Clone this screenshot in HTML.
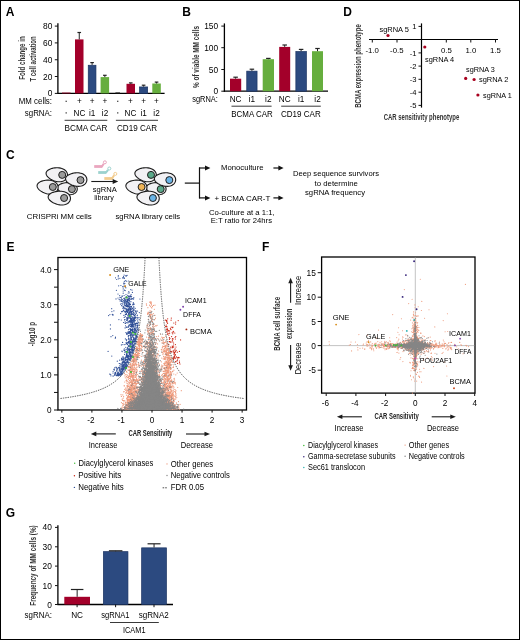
<!DOCTYPE html>
<html><head><meta charset="utf-8"><style>
html,body{margin:0;padding:0;background:#fff;}
svg{display:block;will-change:transform;}
text{font-family:"Liberation Sans", sans-serif;}
</style></head><body>
<svg width="520" height="640" viewBox="0 0 520 640">
<rect x="0" y="0" width="520" height="640" fill="#fff"/>
<text x="5.80" y="15.80" font-size="12" font-weight="bold" fill="#000">A</text>
<text x="182.20" y="15.60" font-size="12" font-weight="bold" fill="#000">B</text>
<text x="343.30" y="15.60" font-size="12" font-weight="bold" fill="#000">D</text>
<text x="6.00" y="158.50" font-size="12" font-weight="bold" fill="#000">C</text>
<text x="6.60" y="250.80" font-size="12" font-weight="bold" fill="#000">E</text>
<text x="262.10" y="251.10" font-size="12" font-weight="bold" fill="#000">F</text>
<text x="5.70" y="517.20" font-size="12" font-weight="bold" fill="#000">G</text>
<line x1="57.90" y1="23.30" x2="57.90" y2="94.00" stroke="#000" stroke-width="1.3"/>
<line x1="57.30" y1="93.40" x2="164.60" y2="93.40" stroke="#000" stroke-width="1.3"/>
<line x1="54.80" y1="26.10" x2="57.90" y2="26.10" stroke="#111" stroke-width="1"/>
<text x="52.30" y="29.10" font-size="8.4" text-anchor="end">80</text>
<line x1="54.80" y1="42.90" x2="57.90" y2="42.90" stroke="#111" stroke-width="1"/>
<text x="52.30" y="45.90" font-size="8.4" text-anchor="end">60</text>
<line x1="54.80" y1="59.75" x2="57.90" y2="59.75" stroke="#111" stroke-width="1"/>
<text x="52.30" y="62.75" font-size="8.4" text-anchor="end">40</text>
<line x1="54.80" y1="76.50" x2="57.90" y2="76.50" stroke="#111" stroke-width="1"/>
<text x="52.30" y="79.50" font-size="8.4" text-anchor="end">20</text>
<line x1="54.80" y1="93.40" x2="57.90" y2="93.40" stroke="#111" stroke-width="1"/>
<text x="52.30" y="96.40" font-size="8.4" text-anchor="end">0</text>
<rect x="62.00" y="92.60" width="8.60" height="0.80" fill="#A3002A"/>
<rect x="75.00" y="39.40" width="8.50" height="54.00" fill="#A3002A"/>
<line x1="79.25" y1="32.50" x2="79.25" y2="39.40" stroke="#222" stroke-width="1"/>
<line x1="77.45" y1="32.50" x2="81.05" y2="32.50" stroke="#222" stroke-width="1.2"/>
<rect x="88.25" y="65.25" width="7.70" height="28.15" fill="#2C4A80" stroke="#1b3262" stroke-width="0.7"/>
<line x1="92.10" y1="62.60" x2="92.10" y2="64.90" stroke="#222" stroke-width="1"/>
<line x1="90.30" y1="62.60" x2="93.90" y2="62.60" stroke="#222" stroke-width="1.2"/>
<rect x="100.60" y="77.10" width="8.50" height="16.30" fill="#66AE3E"/>
<line x1="104.85" y1="75.30" x2="104.85" y2="77.10" stroke="#222" stroke-width="1"/>
<line x1="103.05" y1="75.30" x2="106.65" y2="75.30" stroke="#222" stroke-width="1.2"/>
<rect x="115.40" y="92.40" width="4.60" height="1.00" fill="#222"/>
<rect x="126.50" y="83.80" width="8.50" height="9.60" fill="#A3002A"/>
<line x1="130.75" y1="82.90" x2="130.75" y2="83.80" stroke="#222" stroke-width="1"/>
<line x1="128.95" y1="82.90" x2="132.55" y2="82.90" stroke="#222" stroke-width="1.2"/>
<rect x="139.55" y="86.95" width="8.10" height="6.45" fill="#2C4A80" stroke="#1b3262" stroke-width="0.7"/>
<line x1="143.60" y1="85.20" x2="143.60" y2="86.60" stroke="#222" stroke-width="1"/>
<line x1="141.80" y1="85.20" x2="145.40" y2="85.20" stroke="#222" stroke-width="1.2"/>
<rect x="152.30" y="83.50" width="8.50" height="9.90" fill="#66AE3E"/>
<line x1="156.55" y1="82.10" x2="156.55" y2="83.50" stroke="#222" stroke-width="1"/>
<line x1="154.75" y1="82.10" x2="158.35" y2="82.10" stroke="#222" stroke-width="1.2"/>
<text x="52.00" y="103.80" font-size="8.2" text-anchor="end" textLength="33.20" lengthAdjust="spacingAndGlyphs">MM cells:</text>
<text x="52.00" y="115.60" font-size="8.2" text-anchor="end" textLength="27.20" lengthAdjust="spacingAndGlyphs">sgRNA:</text>
<rect x="65.50" y="100.70" width="1.40" height="1.20" fill="#444"/>
<text x="79.50" y="103.80" font-size="8.2" text-anchor="middle">+</text>
<text x="92.20" y="103.80" font-size="8.2" text-anchor="middle">+</text>
<text x="105.00" y="103.80" font-size="8.2" text-anchor="middle">+</text>
<rect x="117.00" y="100.70" width="1.40" height="1.20" fill="#444"/>
<text x="130.50" y="103.80" font-size="8.2" text-anchor="middle">+</text>
<text x="143.60" y="103.80" font-size="8.2" text-anchor="middle">+</text>
<text x="156.50" y="103.80" font-size="8.2" text-anchor="middle">+</text>
<rect x="65.50" y="112.30" width="1.40" height="1.20" fill="#444"/>
<text x="79.50" y="115.60" font-size="8.2" text-anchor="middle">NC</text>
<text x="92.20" y="115.60" font-size="8.2" text-anchor="middle">i1</text>
<text x="105.00" y="115.60" font-size="8.2" text-anchor="middle">i2</text>
<rect x="117.00" y="112.30" width="1.40" height="1.20" fill="#444"/>
<text x="130.50" y="115.60" font-size="8.2" text-anchor="middle">NC</text>
<text x="143.60" y="115.60" font-size="8.2" text-anchor="middle">i1</text>
<text x="156.50" y="115.60" font-size="8.2" text-anchor="middle">i2</text>
<line x1="64.60" y1="120.30" x2="107.30" y2="120.30" stroke="#222" stroke-width="0.9"/>
<line x1="115.90" y1="120.30" x2="158.00" y2="120.30" stroke="#222" stroke-width="0.9"/>
<text x="64.60" y="130.70" font-size="8.2" textLength="42.70" lengthAdjust="spacingAndGlyphs">BCMA CAR</text>
<text x="117.00" y="130.70" font-size="8.2" textLength="40.00" lengthAdjust="spacingAndGlyphs">CD19 CAR</text>
<text x="25.00" y="58.00" font-size="9.0" text-anchor="middle" textLength="43.50" lengthAdjust="spacingAndGlyphs" font-weight="bold" fill="#333" transform="rotate(-90 25.00 58.00)">Fold change in</text>
<text x="36.30" y="58.90" font-size="9.0" text-anchor="middle" textLength="45.20" lengthAdjust="spacingAndGlyphs" font-weight="bold" fill="#333" transform="rotate(-90 36.30 58.90)">T cell activation</text>
<line x1="224.40" y1="23.40" x2="224.40" y2="91.80" stroke="#000" stroke-width="1.3"/>
<line x1="223.80" y1="91.20" x2="328.00" y2="91.20" stroke="#000" stroke-width="1.3"/>
<line x1="221.30" y1="26.10" x2="224.40" y2="26.10" stroke="#111" stroke-width="1"/>
<text x="218.20" y="29.10" font-size="8.4" text-anchor="end">150</text>
<line x1="221.30" y1="47.70" x2="224.40" y2="47.70" stroke="#111" stroke-width="1"/>
<text x="218.20" y="50.70" font-size="8.4" text-anchor="end">100</text>
<line x1="221.30" y1="69.50" x2="224.40" y2="69.50" stroke="#111" stroke-width="1"/>
<text x="218.20" y="72.50" font-size="8.4" text-anchor="end">50</text>
<line x1="221.30" y1="91.20" x2="224.40" y2="91.20" stroke="#111" stroke-width="1"/>
<text x="218.20" y="94.20" font-size="8.4" text-anchor="end">0</text>
<rect x="230.00" y="78.70" width="11.20" height="12.50" fill="#A3002A"/>
<line x1="235.60" y1="77.20" x2="235.60" y2="78.70" stroke="#222" stroke-width="1"/>
<line x1="233.35" y1="77.20" x2="237.85" y2="77.20" stroke="#222" stroke-width="1.2"/>
<rect x="246.75" y="71.15" width="10.30" height="20.05" fill="#2C4A80" stroke="#1b3262" stroke-width="0.7"/>
<line x1="251.90" y1="69.20" x2="251.90" y2="70.80" stroke="#222" stroke-width="1"/>
<line x1="249.65" y1="69.20" x2="254.15" y2="69.20" stroke="#222" stroke-width="1.2"/>
<rect x="262.70" y="59.20" width="11.30" height="32.00" fill="#66AE3E"/>
<line x1="268.35" y1="58.40" x2="268.35" y2="59.20" stroke="#222" stroke-width="1"/>
<line x1="266.10" y1="58.40" x2="270.60" y2="58.40" stroke="#222" stroke-width="1.2"/>
<rect x="279.20" y="46.90" width="11.00" height="44.30" fill="#A3002A"/>
<line x1="284.70" y1="45.00" x2="284.70" y2="46.90" stroke="#222" stroke-width="1"/>
<line x1="282.45" y1="45.00" x2="286.95" y2="45.00" stroke="#222" stroke-width="1.2"/>
<rect x="295.85" y="51.55" width="10.50" height="39.65" fill="#2C4A80" stroke="#1b3262" stroke-width="0.7"/>
<line x1="301.10" y1="49.40" x2="301.10" y2="51.20" stroke="#222" stroke-width="1"/>
<line x1="298.85" y1="49.40" x2="303.35" y2="49.40" stroke="#222" stroke-width="1.2"/>
<rect x="312.00" y="51.20" width="11.00" height="40.00" fill="#66AE3E"/>
<line x1="317.50" y1="48.50" x2="317.50" y2="51.20" stroke="#222" stroke-width="1"/>
<line x1="315.25" y1="48.50" x2="319.75" y2="48.50" stroke="#222" stroke-width="1.2"/>
<text x="217.80" y="101.50" font-size="8.2" text-anchor="end" textLength="25.60" lengthAdjust="spacingAndGlyphs">sgRNA:</text>
<text x="235.60" y="101.50" font-size="8.2" text-anchor="middle">NC</text>
<text x="251.90" y="101.50" font-size="8.2" text-anchor="middle">i1</text>
<text x="268.30" y="101.50" font-size="8.2" text-anchor="middle">i2</text>
<text x="284.70" y="101.50" font-size="8.2" text-anchor="middle">NC</text>
<text x="301.10" y="101.50" font-size="8.2" text-anchor="middle">i1</text>
<text x="317.50" y="101.50" font-size="8.2" text-anchor="middle">i2</text>
<line x1="231.50" y1="106.20" x2="271.60" y2="106.20" stroke="#222" stroke-width="0.9"/>
<line x1="281.20" y1="106.20" x2="320.80" y2="106.20" stroke="#222" stroke-width="0.9"/>
<text x="231.30" y="116.50" font-size="8.2" textLength="41.40" lengthAdjust="spacingAndGlyphs">BCMA CAR</text>
<text x="281.00" y="116.50" font-size="8.2" textLength="39.80" lengthAdjust="spacingAndGlyphs">CD19 CAR</text>
<text x="198.60" y="57.00" font-size="8.8" text-anchor="middle" textLength="62.00" lengthAdjust="spacingAndGlyphs" font-weight="bold" fill="#333" transform="rotate(-90 198.60 57.00)">% of viable MM cells</text>
<line x1="421.50" y1="23.40" x2="421.50" y2="107.60" stroke="#000" stroke-width="1.2"/>
<line x1="369.00" y1="39.50" x2="498.00" y2="39.50" stroke="#000" stroke-width="1.2"/>
<line x1="418.50" y1="26.40" x2="421.50" y2="26.40" stroke="#111" stroke-width="1"/>
<text x="416.40" y="29.10" font-size="7.6" text-anchor="end">1</text>
<line x1="418.50" y1="52.90" x2="421.50" y2="52.90" stroke="#111" stroke-width="1"/>
<text x="416.40" y="55.60" font-size="7.6" text-anchor="end">-1</text>
<line x1="418.50" y1="66.10" x2="421.50" y2="66.10" stroke="#111" stroke-width="1"/>
<text x="416.40" y="68.80" font-size="7.6" text-anchor="end">-2</text>
<line x1="418.50" y1="79.30" x2="421.50" y2="79.30" stroke="#111" stroke-width="1"/>
<text x="416.40" y="82.00" font-size="7.6" text-anchor="end">-3</text>
<line x1="418.50" y1="92.20" x2="421.50" y2="92.20" stroke="#111" stroke-width="1"/>
<text x="416.40" y="94.90" font-size="7.6" text-anchor="end">-4</text>
<line x1="418.50" y1="105.40" x2="421.50" y2="105.40" stroke="#111" stroke-width="1"/>
<text x="416.40" y="108.10" font-size="7.6" text-anchor="end">-5</text>
<line x1="372.30" y1="39.50" x2="372.30" y2="42.50" stroke="#111" stroke-width="1"/>
<text x="372.10" y="52.80" font-size="7.8" text-anchor="middle">-1.0</text>
<line x1="397.00" y1="39.50" x2="397.00" y2="42.50" stroke="#111" stroke-width="1"/>
<text x="396.80" y="52.80" font-size="7.8" text-anchor="middle">-0.5</text>
<line x1="446.30" y1="39.50" x2="446.30" y2="42.50" stroke="#111" stroke-width="1"/>
<text x="446.30" y="52.80" font-size="7.8" text-anchor="middle">0.5</text>
<line x1="470.80" y1="39.50" x2="470.80" y2="42.50" stroke="#111" stroke-width="1"/>
<text x="470.80" y="52.80" font-size="7.8" text-anchor="middle">1.0</text>
<line x1="495.50" y1="39.50" x2="495.50" y2="42.50" stroke="#111" stroke-width="1"/>
<text x="495.50" y="52.80" font-size="7.8" text-anchor="middle">1.5</text>
<circle cx="388.0" cy="35.5" r="1.6" fill="#A8001E"/>
<circle cx="424.8" cy="47.0" r="1.6" fill="#A8001E"/>
<circle cx="465.7" cy="78.4" r="1.6" fill="#A8001E"/>
<circle cx="474.1" cy="79.5" r="1.6" fill="#A8001E"/>
<circle cx="477.9" cy="95.0" r="1.6" fill="#A8001E"/>
<text x="379.40" y="32.00" font-size="7.4" textLength="29.50" lengthAdjust="spacingAndGlyphs">sgRNA 5</text>
<text x="425.00" y="62.00" font-size="7.4" textLength="29.20" lengthAdjust="spacingAndGlyphs">sgRNA 4</text>
<text x="466.00" y="72.00" font-size="7.4" textLength="28.70" lengthAdjust="spacingAndGlyphs">sgRNA 3</text>
<text x="479.00" y="81.70" font-size="7.4" textLength="29.40" lengthAdjust="spacingAndGlyphs">sgRNA 2</text>
<text x="483.00" y="97.60" font-size="7.4" textLength="28.70" lengthAdjust="spacingAndGlyphs">sgRNA 1</text>
<text x="360.90" y="66.00" font-size="9.4" text-anchor="middle" textLength="83.50" lengthAdjust="spacingAndGlyphs" font-weight="bold" fill="#333" transform="rotate(-90 360.90 66.00)">BCMA expression phenotype</text>
<text x="383.70" y="120.20" font-size="9.2" textLength="75.60" lengthAdjust="spacingAndGlyphs" font-weight="bold" fill="#333">CAR sensitivity phenotype</text>
<line x1="57.90" y1="525.30" x2="57.90" y2="605.10" stroke="#000" stroke-width="1.3"/>
<line x1="57.30" y1="604.50" x2="173.00" y2="604.50" stroke="#000" stroke-width="1.3"/>
<line x1="55.00" y1="527.40" x2="57.90" y2="527.40" stroke="#111" stroke-width="1"/>
<text x="51.80" y="530.40" font-size="8.4" text-anchor="end">40</text>
<line x1="55.00" y1="546.80" x2="57.90" y2="546.80" stroke="#111" stroke-width="1"/>
<text x="51.80" y="549.80" font-size="8.4" text-anchor="end">30</text>
<line x1="55.00" y1="566.10" x2="57.90" y2="566.10" stroke="#111" stroke-width="1"/>
<text x="51.80" y="569.10" font-size="8.4" text-anchor="end">20</text>
<line x1="55.00" y1="585.60" x2="57.90" y2="585.60" stroke="#111" stroke-width="1"/>
<text x="51.80" y="588.60" font-size="8.4" text-anchor="end">10</text>
<line x1="55.00" y1="604.50" x2="57.90" y2="604.50" stroke="#111" stroke-width="1"/>
<text x="51.80" y="607.50" font-size="8.4" text-anchor="end">0</text>
<rect x="64.30" y="596.80" width="25.70" height="7.70" fill="#A3002A"/>
<line x1="77.15" y1="589.50" x2="77.15" y2="596.80" stroke="#222" stroke-width="1"/>
<line x1="70.90" y1="589.50" x2="83.40" y2="589.50" stroke="#222" stroke-width="1.2"/>
<rect x="103.35" y="551.65" width="24.60" height="52.85" fill="#2C4A80" stroke="#1b3262" stroke-width="0.7"/>
<line x1="115.65" y1="550.80" x2="115.65" y2="551.30" stroke="#222" stroke-width="1"/>
<line x1="108.90" y1="550.80" x2="122.40" y2="550.80" stroke="#222" stroke-width="1.2"/>
<rect x="141.65" y="547.85" width="24.80" height="56.65" fill="#2C4A80" stroke="#1b3262" stroke-width="0.7"/>
<line x1="154.05" y1="543.80" x2="154.05" y2="547.50" stroke="#222" stroke-width="1"/>
<line x1="147.55" y1="543.80" x2="160.55" y2="543.80" stroke="#222" stroke-width="1.2"/>
<line x1="77.10" y1="604.50" x2="77.10" y2="607.20" stroke="#111" stroke-width="1"/>
<line x1="115.60" y1="604.50" x2="115.60" y2="607.20" stroke="#111" stroke-width="1"/>
<line x1="154.00" y1="604.50" x2="154.00" y2="607.20" stroke="#111" stroke-width="1"/>
<text x="51.90" y="617.70" font-size="8.2" text-anchor="end" textLength="27.30" lengthAdjust="spacingAndGlyphs">sgRNA:</text>
<text x="77.10" y="618.00" font-size="8.2" text-anchor="middle">NC</text>
<text x="101.30" y="618.00" font-size="8.2" textLength="28.20" lengthAdjust="spacingAndGlyphs">sgRNA1</text>
<text x="138.80" y="618.00" font-size="8.2" textLength="30.00" lengthAdjust="spacingAndGlyphs">sgRNA2</text>
<line x1="110.00" y1="622.50" x2="158.80" y2="622.50" stroke="#222" stroke-width="0.9"/>
<text x="123.00" y="632.50" font-size="8.2" textLength="22.50" lengthAdjust="spacingAndGlyphs">ICAM1</text>
<text x="36.40" y="565.50" font-size="9.2" text-anchor="middle" textLength="80.40" lengthAdjust="spacingAndGlyphs" font-weight="bold" fill="#333" transform="rotate(-90 36.40 565.50)">Frequency of MM cells (%)</text>
<path d="M77.25,189.45 L77.06,190.35 L76.72,191.21 L76.21,192.01 L75.55,192.74 L74.76,193.36 L73.83,193.88 L72.80,194.28 L71.68,194.56 L70.48,194.71 L69.24,194.73 L67.96,194.64 L66.67,194.43 L65.39,194.11 L64.14,193.71 L62.94,193.23 L61.82,192.68 L60.79,192.08 L59.87,191.44 L59.07,190.77 L58.41,190.09 L57.91,189.40 L57.56,188.71 L57.37,188.03 L57.35,187.35 L57.51,186.73 L57.83,186.12 L58.31,185.55 L58.95,185.00 L59.73,184.50 L60.65,184.03 L61.68,183.62 L62.81,183.27 L64.02,182.98 L65.29,182.77 L66.59,182.65 L67.91,182.61 L69.21,182.68 L70.49,182.85 L71.70,183.13 L72.84,183.51 L73.88,184.00 L74.81,184.58 L75.61,185.26 L76.26,186.01 L76.76,186.82 L77.09,187.68 L77.25,188.56Z" fill="#f2f1f4" stroke="#1a1a1a" stroke-width="1.1" stroke-linejoin="round"/>
<circle cx="71.90" cy="189.10" r="3.5" fill="#9b9b9b" stroke="#1e1e1e" stroke-width="1.0"/>
<path d="M67.49,175.90 L67.26,176.94 L66.84,177.93 L66.25,178.84 L65.51,179.65 L64.62,180.35 L63.59,180.92 L62.46,181.36 L61.24,181.64 L59.94,181.78 L58.59,181.77 L57.21,181.62 L55.82,181.34 L54.46,180.94 L53.13,180.44 L51.86,179.84 L50.68,179.18 L49.59,178.45 L48.63,177.69 L47.80,176.90 L47.12,176.09 L46.60,175.27 L46.26,174.47 L46.09,173.67 L46.11,172.90 L46.30,172.18 L46.67,171.49 L47.22,170.84 L47.94,170.23 L48.81,169.67 L49.82,169.16 L50.96,168.71 L52.20,168.34 L53.52,168.05 L54.90,167.84 L56.31,167.74 L57.74,167.74 L59.14,167.85 L60.51,168.09 L61.81,168.44 L63.02,168.92 L64.13,169.52 L65.10,170.22 L65.93,171.02 L66.60,171.91 L67.09,172.86 L67.41,173.86 L67.54,174.88Z" fill="#f2f1f4" stroke="#1a1a1a" stroke-width="1.1" stroke-linejoin="round"/>
<circle cx="62.20" cy="174.90" r="3.5" fill="#9b9b9b" stroke="#1e1e1e" stroke-width="1.0"/>
<path d="M86.87,180.05 L86.71,181.07 L86.37,182.05 L85.85,182.98 L85.17,183.82 L84.34,184.56 L83.37,185.18 L82.28,185.68 L81.09,186.03 L79.82,186.25 L78.48,186.34 L77.11,186.28 L75.72,186.10 L74.35,185.81 L73.00,185.40 L71.70,184.91 L70.48,184.35 L69.36,183.72 L68.35,183.04 L67.48,182.32 L66.75,181.58 L66.18,180.83 L65.79,180.07 L65.57,179.31 L65.53,178.55 L65.67,177.84 L65.99,177.15 L66.49,176.48 L67.15,175.84 L67.97,175.24 L68.94,174.68 L70.03,174.17 L71.23,173.72 L72.51,173.35 L73.86,173.06 L75.25,172.86 L76.66,172.77 L78.06,172.79 L79.42,172.92 L80.73,173.18 L81.96,173.57 L83.10,174.07 L84.11,174.69 L84.98,175.41 L85.70,176.23 L86.26,177.12 L86.65,178.07 L86.85,179.05Z" fill="#f2f1f4" stroke="#1a1a1a" stroke-width="1.1" stroke-linejoin="round"/>
<circle cx="80.50" cy="180.10" r="3.5" fill="#9b9b9b" stroke="#1e1e1e" stroke-width="1.0"/>
<path d="M58.10,188.28 L57.86,189.31 L57.45,190.30 L56.87,191.21 L56.14,192.03 L55.26,192.73 L54.25,193.31 L53.14,193.74 L51.94,194.03 L50.66,194.17 L49.34,194.16 L47.98,194.02 L46.62,193.74 L45.28,193.34 L43.98,192.84 L42.74,192.25 L41.57,191.59 L40.51,190.87 L39.57,190.11 L38.75,189.32 L38.09,188.51 L37.58,187.70 L37.25,186.89 L37.09,186.10 L37.10,185.32 L37.30,184.61 L37.67,183.92 L38.21,183.26 L38.91,182.65 L39.77,182.09 L40.76,181.58 L41.88,181.13 L43.10,180.75 L44.40,180.46 L45.75,180.25 L47.14,180.14 L48.54,180.14 L49.92,180.25 L51.26,180.48 L52.53,180.83 L53.72,181.31 L54.81,181.90 L55.76,182.60 L56.57,183.40 L57.22,184.29 L57.71,185.24 L58.02,186.23 L58.15,187.26Z" fill="#f2f1f4" stroke="#1a1a1a" stroke-width="1.1" stroke-linejoin="round"/>
<circle cx="52.80" cy="187.00" r="3.5" fill="#9b9b9b" stroke="#1e1e1e" stroke-width="1.0"/>
<path d="M70.44,198.97 L70.23,200.00 L69.84,200.99 L69.27,201.90 L68.53,202.73 L67.64,203.45 L66.61,204.04 L65.45,204.50 L64.19,204.82 L62.85,204.99 L61.46,205.02 L60.02,204.91 L58.58,204.68 L57.14,204.32 L55.75,203.86 L54.41,203.31 L53.15,202.69 L52.00,202.01 L50.97,201.28 L50.08,200.53 L49.34,199.75 L48.77,198.96 L48.38,198.17 L48.18,197.39 L48.16,196.63 L48.33,195.91 L48.69,195.22 L49.24,194.57 L49.95,193.94 L50.83,193.36 L51.86,192.83 L53.02,192.36 L54.28,191.96 L55.64,191.63 L57.06,191.39 L58.52,191.24 L59.99,191.20 L61.46,191.27 L62.88,191.46 L64.24,191.78 L65.52,192.21 L66.68,192.77 L67.72,193.43 L68.61,194.20 L69.34,195.06 L69.90,195.98 L70.27,196.96 L70.45,197.96Z" fill="#f2f1f4" stroke="#1a1a1a" stroke-width="1.1" stroke-linejoin="round"/>
<circle cx="64.10" cy="198.00" r="3.5" fill="#9b9b9b" stroke="#1e1e1e" stroke-width="1.0"/>
<path d="M166.05,189.45 L165.86,190.35 L165.52,191.21 L165.01,192.01 L164.35,192.74 L163.56,193.36 L162.63,193.88 L161.60,194.28 L160.48,194.56 L159.28,194.71 L158.04,194.73 L156.76,194.64 L155.47,194.43 L154.19,194.11 L152.94,193.71 L151.74,193.23 L150.62,192.68 L149.59,192.08 L148.67,191.44 L147.87,190.77 L147.21,190.09 L146.71,189.40 L146.36,188.71 L146.17,188.03 L146.15,187.35 L146.31,186.73 L146.63,186.12 L147.11,185.55 L147.75,185.00 L148.53,184.50 L149.45,184.03 L150.48,183.62 L151.61,183.27 L152.82,182.98 L154.09,182.77 L155.39,182.65 L156.71,182.61 L158.01,182.68 L159.29,182.85 L160.50,183.13 L161.64,183.51 L162.68,184.00 L163.61,184.58 L164.41,185.26 L165.06,186.01 L165.56,186.82 L165.89,187.68 L166.05,188.56Z" fill="#f2f1f4" stroke="#1a1a1a" stroke-width="1.1" stroke-linejoin="round"/>
<circle cx="160.70" cy="189.10" r="3.5" fill="#5aa98a" stroke="#1e1e1e" stroke-width="1.0"/>
<path d="M156.29,175.90 L156.06,176.94 L155.64,177.93 L155.05,178.84 L154.31,179.65 L153.42,180.35 L152.39,180.92 L151.26,181.36 L150.04,181.64 L148.74,181.78 L147.39,181.77 L146.01,181.62 L144.62,181.34 L143.26,180.94 L141.93,180.44 L140.66,179.84 L139.48,179.18 L138.39,178.45 L137.43,177.69 L136.60,176.90 L135.92,176.09 L135.40,175.27 L135.06,174.47 L134.89,173.67 L134.91,172.90 L135.10,172.18 L135.47,171.49 L136.02,170.84 L136.74,170.23 L137.61,169.67 L138.62,169.16 L139.76,168.71 L141.00,168.34 L142.32,168.05 L143.70,167.84 L145.11,167.74 L146.54,167.74 L147.94,167.85 L149.31,168.09 L150.61,168.44 L151.82,168.92 L152.93,169.52 L153.90,170.22 L154.73,171.02 L155.40,171.91 L155.89,172.86 L156.21,173.86 L156.34,174.88Z" fill="#f2f1f4" stroke="#1a1a1a" stroke-width="1.1" stroke-linejoin="round"/>
<circle cx="151.00" cy="174.90" r="3.5" fill="#5aa98a" stroke="#1e1e1e" stroke-width="1.0"/>
<path d="M175.67,180.05 L175.51,181.07 L175.17,182.05 L174.65,182.98 L173.97,183.82 L173.14,184.56 L172.17,185.18 L171.08,185.68 L169.89,186.03 L168.62,186.25 L167.28,186.34 L165.91,186.28 L164.52,186.10 L163.15,185.81 L161.80,185.40 L160.50,184.91 L159.28,184.35 L158.16,183.72 L157.15,183.04 L156.28,182.32 L155.55,181.58 L154.98,180.83 L154.59,180.07 L154.37,179.31 L154.33,178.55 L154.47,177.84 L154.79,177.15 L155.29,176.48 L155.95,175.84 L156.77,175.24 L157.74,174.68 L158.83,174.17 L160.03,173.72 L161.31,173.35 L162.66,173.06 L164.05,172.86 L165.46,172.77 L166.86,172.79 L168.22,172.92 L169.53,173.18 L170.76,173.57 L171.90,174.07 L172.91,174.69 L173.78,175.41 L174.50,176.23 L175.06,177.12 L175.45,178.07 L175.65,179.05Z" fill="#f2f1f4" stroke="#1a1a1a" stroke-width="1.1" stroke-linejoin="round"/>
<circle cx="169.30" cy="180.10" r="3.5" fill="#6ab4e6" stroke="#1e1e1e" stroke-width="1.0"/>
<path d="M146.90,188.28 L146.66,189.31 L146.25,190.30 L145.67,191.21 L144.94,192.03 L144.06,192.73 L143.05,193.31 L141.94,193.74 L140.74,194.03 L139.46,194.17 L138.14,194.16 L136.78,194.02 L135.42,193.74 L134.08,193.34 L132.78,192.84 L131.54,192.25 L130.37,191.59 L129.31,190.87 L128.37,190.11 L127.55,189.32 L126.89,188.51 L126.38,187.70 L126.05,186.89 L125.89,186.10 L125.90,185.32 L126.10,184.61 L126.47,183.92 L127.01,183.26 L127.71,182.65 L128.57,182.09 L129.56,181.58 L130.68,181.13 L131.90,180.75 L133.20,180.46 L134.55,180.25 L135.94,180.14 L137.34,180.14 L138.72,180.25 L140.06,180.48 L141.33,180.83 L142.52,181.31 L143.61,181.90 L144.56,182.60 L145.37,183.40 L146.02,184.29 L146.51,185.24 L146.82,186.23 L146.95,187.26Z" fill="#f2f1f4" stroke="#1a1a1a" stroke-width="1.1" stroke-linejoin="round"/>
<circle cx="141.60" cy="187.00" r="3.5" fill="#efb457" stroke="#1e1e1e" stroke-width="1.0"/>
<path d="M159.24,198.97 L159.03,200.00 L158.64,200.99 L158.07,201.90 L157.33,202.73 L156.44,203.45 L155.41,204.04 L154.25,204.50 L152.99,204.82 L151.65,204.99 L150.26,205.02 L148.82,204.91 L147.38,204.68 L145.94,204.32 L144.55,203.86 L143.21,203.31 L141.95,202.69 L140.80,202.01 L139.77,201.28 L138.88,200.53 L138.14,199.75 L137.57,198.96 L137.18,198.17 L136.98,197.39 L136.96,196.63 L137.13,195.91 L137.49,195.22 L138.04,194.57 L138.75,193.94 L139.63,193.36 L140.66,192.83 L141.82,192.36 L143.08,191.96 L144.44,191.63 L145.86,191.39 L147.32,191.24 L148.79,191.20 L150.26,191.27 L151.68,191.46 L153.04,191.78 L154.32,192.21 L155.48,192.77 L156.52,193.43 L157.41,194.20 L158.14,195.06 L158.70,195.98 L159.07,196.96 L159.25,197.96Z" fill="#f2f1f4" stroke="#1a1a1a" stroke-width="1.1" stroke-linejoin="round"/>
<circle cx="152.90" cy="198.00" r="3.5" fill="#6ab4e6" stroke="#1e1e1e" stroke-width="1.0"/>
<line x1="94.20" y1="166.50" x2="102.00" y2="166.50" stroke="#eaa6bf" stroke-width="2.8"/>
<path d="M101.50,167.10 L103.70,163.70" stroke="#eaa6bf" stroke-width="2.0" fill="none"/>
<circle cx="104.90" cy="162.30" r="1.5" fill="none" stroke="#eaa6bf" stroke-width="1.0"/>
<line x1="98.20" y1="172.50" x2="106.00" y2="172.50" stroke="#9cd2ce" stroke-width="2.8"/>
<path d="M105.50,173.10 L108.10,169.90" stroke="#9cd2ce" stroke-width="2.0" fill="none"/>
<circle cx="109.30" cy="168.50" r="1.5" fill="none" stroke="#9cd2ce" stroke-width="1.0"/>
<line x1="104.30" y1="178.50" x2="112.20" y2="178.50" stroke="#f3cc8e" stroke-width="2.8"/>
<path d="M111.70,179.10 L114.10,175.30" stroke="#f3cc8e" stroke-width="2.0" fill="none"/>
<circle cx="115.30" cy="173.90" r="1.5" fill="none" stroke="#f3cc8e" stroke-width="1.0"/>
<line x1="91.30" y1="181.50" x2="113.80" y2="181.50" stroke="#1a1a1a" stroke-width="1.1"/>
<path d="M118.20,181.50 L112.70,179.10 L112.70,183.90 Z" fill="#1a1a1a"/>
<text x="104.70" y="192.00" font-size="8.0" text-anchor="middle" textLength="24.00" lengthAdjust="spacingAndGlyphs">sgRNA</text>
<text x="104.00" y="200.40" font-size="8.0" text-anchor="middle" textLength="19.60" lengthAdjust="spacingAndGlyphs">library</text>
<text x="26.80" y="218.50" font-size="8.0" textLength="64.90" lengthAdjust="spacingAndGlyphs">CRISPRi MM cells</text>
<text x="115.40" y="218.50" font-size="8.0" textLength="64.80" lengthAdjust="spacingAndGlyphs">sgRNA library cells</text>
<line x1="184.80" y1="183.10" x2="199.60" y2="183.10" stroke="#111" stroke-width="1.2"/>
<line x1="199.50" y1="167.50" x2="199.50" y2="198.40" stroke="#111" stroke-width="1.2"/>
<line x1="199.00" y1="168.00" x2="206.08" y2="168.00" stroke="#111" stroke-width="1.2"/>
<path d="M210.40,168.00 L205.00,165.50 L205.00,170.50 Z" fill="#111"/>
<line x1="199.00" y1="197.90" x2="206.08" y2="197.90" stroke="#111" stroke-width="1.2"/>
<path d="M210.40,197.90 L205.00,195.40 L205.00,200.40 Z" fill="#111"/>
<line x1="273.40" y1="168.00" x2="279.44" y2="168.00" stroke="#111" stroke-width="1.2"/>
<path d="M283.60,168.00 L278.40,165.60 L278.40,170.40 Z" fill="#111"/>
<line x1="273.40" y1="197.90" x2="279.44" y2="197.90" stroke="#111" stroke-width="1.2"/>
<path d="M283.60,197.90 L278.40,195.50 L278.40,200.30 Z" fill="#111"/>
<text x="221.00" y="170.40" font-size="8.0" textLength="42.50" lengthAdjust="spacingAndGlyphs">Monoculture</text>
<text x="214.40" y="201.30" font-size="8.0" textLength="56.00" lengthAdjust="spacingAndGlyphs">+ BCMA CAR-T</text>
<text x="208.90" y="214.70" font-size="8.0" textLength="65.80" lengthAdjust="spacingAndGlyphs">Co-culture at a 1:1,</text>
<text x="210.70" y="223.40" font-size="8.0" textLength="61.30" lengthAdjust="spacingAndGlyphs">E:T ratio for 24hrs</text>
<text x="336.00" y="175.90" font-size="8.0" text-anchor="middle" textLength="86.00" lengthAdjust="spacingAndGlyphs">Deep sequence survivors</text>
<text x="336.20" y="185.80" font-size="8.0" text-anchor="middle" textLength="43.20" lengthAdjust="spacingAndGlyphs">to determine</text>
<text x="335.00" y="195.00" font-size="8.0" text-anchor="middle" textLength="60.00" lengthAdjust="spacingAndGlyphs">sgRNA frequency</text>
<rect x="57.95" y="257.5" width="188.55" height="152.5" fill="none" stroke="#000" stroke-width="1.3"/>
<path d="M135.2 399.2h0M136.8 408.5h0M131.2 384.5h0M132.9 386.8h0M130.6 409.0h0M132.6 408.2h0M132.9 392.9h0M130.2 404.1h0M135.8 376.4h0M130.5 394.8h0M134.2 401.0h0M134.5 406.9h0M136.7 356.5h0M127.1 405.7h0M129.4 396.4h0M133.1 383.5h0M132.5 404.8h0M129.7 371.2h0M133.2 380.2h0M130.1 390.9h0M136.9 369.3h0M127.8 403.2h0M136.3 349.4h0M130.2 366.1h0M143.0 407.6h0M132.1 393.4h0M130.0 388.2h0M128.6 409.0h0M127.2 381.3h0M136.2 349.4h0M136.5 379.4h0M126.1 380.7h0M140.9 340.6h0M131.4 389.4h0M131.1 369.1h0M137.6 374.5h0M131.7 401.3h0M131.6 395.5h0M131.3 390.3h0M133.0 406.1h0M133.7 361.9h0M132.1 407.3h0M139.7 349.9h0M127.1 408.4h0M138.8 348.4h0M136.7 356.1h0M129.8 393.6h0M139.0 397.2h0M125.3 406.7h0M132.3 405.9h0M134.5 388.5h0M132.0 379.9h0M132.3 393.3h0M123.6 396.6h0M129.1 370.2h0M128.2 386.1h0M127.9 408.8h0M139.3 346.4h0M130.6 395.1h0M132.9 375.7h0M134.5 408.7h0M133.1 406.3h0M132.1 398.3h0M132.0 406.7h0M131.4 408.0h0M138.0 349.5h0M133.4 377.6h0M134.3 397.9h0M137.2 396.9h0M130.5 390.0h0M132.2 407.9h0M131.3 398.1h0M139.5 406.3h0M136.8 409.1h0M130.5 406.8h0M136.0 383.9h0M141.1 336.1h0M136.6 350.9h0M129.3 396.7h0M132.7 406.2h0M133.2 398.9h0M138.3 352.2h0M128.3 403.9h0M131.6 409.1h0M131.4 409.1h0M134.2 370.0h0M142.5 334.8h0M139.2 339.2h0M134.1 403.9h0M133.6 405.1h0M141.4 346.3h0M135.0 358.4h0M127.3 408.3h0M130.4 363.9h0M134.3 359.6h0M135.2 398.7h0M122.8 394.9h0M137.5 394.5h0M129.9 406.1h0M137.1 407.3h0M139.3 357.6h0M137.2 406.8h0M124.5 373.5h0M130.1 397.7h0M131.4 409.2h0M139.1 337.1h0M137.4 342.0h0M136.6 392.3h0M126.7 404.6h0M131.2 402.8h0M134.3 380.1h0M130.2 402.5h0M139.3 345.1h0M127.2 397.5h0M139.3 345.8h0M135.7 393.2h0M130.0 384.8h0M135.6 385.5h0M132.5 405.6h0M132.8 409.2h0M130.0 389.4h0M129.7 366.6h0M131.0 385.9h0M132.3 382.8h0M130.5 382.4h0M130.9 403.0h0M137.8 386.8h0M132.5 382.3h0M124.2 391.6h0M128.2 377.7h0M131.9 370.0h0M128.1 391.0h0M139.2 341.0h0M136.9 369.3h0M125.5 402.5h0M137.9 382.5h0M129.3 407.1h0M130.5 407.5h0M132.5 403.3h0M128.6 408.5h0M130.8 406.6h0M126.2 406.9h0M139.4 348.5h0M139.7 339.6h0M121.0 394.7h0M136.6 354.6h0M127.6 406.3h0M133.9 398.3h0M129.4 405.2h0M137.9 409.1h0M131.4 382.9h0M132.3 398.8h0M130.9 376.7h0M140.8 335.2h0M135.2 359.7h0M131.7 402.2h0M132.6 409.0h0M128.9 407.3h0M137.6 393.1h0M128.2 402.5h0M136.5 406.7h0M130.2 369.2h0M137.8 408.2h0M133.9 392.9h0M137.3 408.5h0M133.3 358.2h0M132.9 408.3h0M136.5 350.9h0M129.6 390.9h0M141.5 342.9h0M135.3 402.1h0M135.5 403.4h0M132.7 407.8h0M133.1 404.9h0M129.8 399.9h0M138.1 401.0h0M133.4 387.4h0M135.4 409.1h0M138.3 402.9h0M132.5 383.2h0M122.9 405.4h0M133.5 407.9h0M137.2 354.3h0M126.4 395.0h0M140.7 335.6h0M134.9 398.1h0M127.8 375.5h0M131.3 394.3h0M133.1 407.3h0M131.8 408.6h0M128.9 406.3h0M136.4 408.3h0M127.0 372.2h0M132.2 401.4h0M134.9 390.5h0M129.1 406.5h0M140.8 338.3h0M139.1 336.9h0M139.9 337.8h0M131.9 400.0h0M132.1 395.8h0M129.7 389.3h0M132.0 387.0h0M131.8 409.2h0M133.6 394.6h0M135.4 409.0h0M132.5 403.7h0M126.7 380.2h0M131.1 373.5h0M134.0 367.5h0M129.4 399.1h0M142.8 335.3h0M135.9 374.9h0M136.4 408.9h0M126.4 376.4h0M132.6 365.7h0M130.3 385.5h0M135.1 387.0h0M135.8 380.3h0M129.3 369.9h0M134.1 403.8h0M132.4 397.1h0M134.7 407.9h0M128.6 376.3h0M130.5 376.5h0M127.7 409.2h0M134.4 358.6h0M128.1 384.5h0M136.5 373.3h0M134.6 402.8h0M131.4 408.5h0M138.3 404.8h0M135.2 365.0h0M131.3 395.7h0M129.6 389.0h0M127.1 377.3h0M133.5 374.9h0M133.0 402.8h0M130.8 364.7h0M137.0 409.2h0M131.3 408.7h0M136.3 370.0h0M131.1 371.7h0M136.1 390.1h0M137.4 389.9h0M137.7 405.0h0M141.1 336.2h0M131.7 390.5h0M138.1 356.0h0M131.2 402.1h0M134.6 404.6h0M131.3 380.6h0M122.2 406.9h0M130.5 407.2h0M131.7 368.9h0M135.6 403.7h0M129.2 409.1h0M127.5 409.2h0M132.2 400.4h0M130.1 407.0h0M138.0 353.6h0M132.0 409.2h0M124.3 407.5h0M138.2 343.0h0M124.0 401.0h0M121.4 396.4h0M139.3 379.9h0M129.3 397.1h0M133.4 408.9h0M133.7 408.0h0M138.1 341.8h0M131.5 403.0h0M136.7 405.4h0M139.4 396.3h0M133.7 357.0h0M138.3 376.0h0M127.9 383.4h0M136.4 367.2h0M133.8 391.1h0M130.9 363.6h0M129.4 408.9h0M140.9 342.9h0M135.0 398.1h0M131.3 400.6h0M121.4 402.5h0M130.8 373.6h0M136.4 395.0h0M133.4 406.2h0M139.9 345.6h0M133.4 387.6h0M133.5 391.1h0M134.0 408.2h0M134.3 398.2h0M133.6 402.6h0M136.1 381.6h0M128.1 393.7h0M128.5 393.7h0M131.4 398.4h0M130.2 408.7h0M142.4 407.4h0M127.3 387.1h0M126.3 404.4h0M132.0 402.0h0M135.6 391.4h0M142.4 339.4h0M125.3 409.1h0M129.8 409.0h0M124.8 389.4h0M135.2 380.1h0M139.3 342.9h0M139.7 355.4h0M123.8 403.0h0M134.8 407.8h0M134.9 371.0h0M139.2 341.0h0M131.1 390.6h0M133.5 360.3h0M136.9 403.7h0M129.4 400.3h0M131.9 407.3h0M136.1 369.4h0M136.4 407.7h0M133.7 380.4h0M132.8 395.4h0M137.4 409.2h0M122.7 400.4h0M133.9 374.7h0M136.3 348.4h0M132.4 403.1h0M139.8 338.5h0M128.6 409.1h0M130.4 387.5h0M128.4 402.6h0M133.9 372.5h0M130.7 409.0h0M127.0 398.4h0M134.9 405.1h0M134.2 358.7h0M127.3 404.8h0M139.1 337.3h0M138.7 403.8h0M132.2 404.2h0M138.3 339.6h0M132.9 387.7h0M134.4 393.5h0M133.6 372.7h0M131.4 395.0h0M134.1 404.5h0M131.6 408.8h0M125.2 408.7h0M140.9 348.4h0M138.4 365.8h0M131.9 398.9h0M138.0 405.5h0M129.4 409.0h0M129.9 372.8h0M134.5 398.8h0M135.2 406.1h0M132.1 397.6h0M139.1 404.7h0M135.0 397.3h0M126.0 392.4h0M128.1 408.9h0M139.4 343.9h0M126.4 405.3h0M138.5 409.1h0M134.3 393.9h0M125.6 409.0h0M140.5 409.0h0M135.3 402.6h0M134.0 364.2h0M129.9 401.9h0M139.0 338.9h0M130.5 367.5h0M131.9 399.6h0M132.6 363.3h0M124.7 409.1h0M122.3 403.6h0M140.8 339.4h0M132.0 395.5h0M135.6 387.9h0M140.8 342.8h0M136.5 365.2h0M136.1 355.7h0M126.9 399.0h0M127.7 399.5h0M137.4 408.4h0M132.1 405.1h0M128.9 408.6h0M128.6 409.0h0M140.2 335.9h0M139.6 348.4h0M131.8 408.3h0M125.6 408.1h0M132.1 391.4h0M127.3 403.6h0M134.1 371.8h0M134.3 364.1h0M127.1 407.5h0M135.5 353.6h0M136.6 396.3h0M132.7 365.2h0M134.8 403.1h0M135.9 406.6h0M128.7 399.1h0M136.3 394.9h0M131.8 403.7h0M121.8 407.9h0M134.8 389.3h0M131.4 409.0h0M133.9 405.4h0M127.7 396.4h0M135.6 350.5h0M134.2 360.9h0M142.0 340.5h0M134.6 377.1h0M130.5 404.3h0M133.6 404.9h0M127.4 402.7h0M128.6 404.9h0M129.1 409.2h0M137.3 405.5h0M134.0 399.9h0M137.6 383.5h0M135.3 408.7h0M134.0 383.3h0M133.5 375.2h0M132.9 369.7h0M131.4 393.9h0M141.7 339.5h0M128.7 399.8h0M130.6 393.5h0M139.4 350.8h0M131.9 405.1h0M132.1 366.3h0M138.7 346.1h0M133.6 393.0h0M135.8 348.5h0M132.3 390.3h0M132.5 383.2h0M133.1 375.1h0M131.3 376.8h0M129.9 396.5h0M131.9 401.4h0M133.4 385.7h0M131.3 388.1h0M136.4 357.8h0M131.4 407.4h0M142.1 340.8h0M131.3 408.8h0M136.4 377.0h0M138.0 355.5h0M137.8 404.1h0M135.9 394.3h0M125.9 405.6h0M128.2 404.3h0M134.6 395.7h0M132.1 407.5h0M141.9 346.7h0M125.7 409.0h0M129.4 409.0h0M138.6 353.9h0M135.0 383.3h0M130.9 376.4h0M135.1 380.5h0M129.9 392.9h0M128.7 392.0h0M128.5 409.1h0M128.9 403.6h0M133.4 362.4h0M127.7 405.7h0M133.4 389.4h0M133.2 392.5h0M127.5 408.2h0M133.7 409.0h0M136.3 375.5h0M135.6 360.9h0M135.8 386.5h0M133.5 396.0h0M142.6 339.8h0M132.7 365.8h0M139.6 335.7h0M139.4 388.0h0M129.6 406.2h0M134.9 359.7h0M131.4 397.7h0M135.6 363.2h0M138.9 401.8h0M137.1 356.5h0M141.0 343.8h0M131.6 404.7h0M136.5 399.5h0M133.0 409.0h0M140.7 341.7h0M133.4 371.3h0M132.9 360.1h0M126.4 407.6h0M131.0 397.1h0M136.8 348.5h0M137.7 407.9h0M131.8 395.0h0M133.8 358.6h0M141.8 380.9h0M132.4 397.1h0M127.7 405.8h0M136.8 364.6h0M134.1 402.8h0M136.0 375.2h0M131.6 372.9h0M133.0 399.8h0M132.0 406.7h0M128.6 377.4h0M139.4 346.9h0M132.8 407.2h0M137.9 409.1h0M130.8 409.2h0M133.4 397.3h0M127.5 404.0h0M129.4 404.8h0M130.4 376.7h0M139.7 341.7h0M133.0 403.2h0M133.1 375.3h0M137.9 349.9h0M128.2 402.3h0M128.8 409.2h0M128.2 397.7h0M125.3 374.6h0M134.3 365.7h0M133.0 403.0h0M131.4 384.8h0M132.1 394.2h0M134.5 360.7h0M122.8 409.2h0M129.0 406.9h0M128.3 405.0h0M129.7 375.0h0M136.2 356.8h0M134.9 400.5h0M137.5 408.9h0M128.8 367.6h0M135.8 409.2h0M127.2 390.0h0M130.1 364.8h0M132.8 407.9h0M135.4 403.7h0M132.7 364.0h0M134.6 369.7h0M127.0 402.2h0M126.7 383.0h0M134.3 385.5h0M125.7 402.2h0M124.1 404.3h0M139.5 348.8h0M132.3 403.5h0M136.3 364.6h0M129.9 399.0h0M137.0 348.8h0M140.1 345.4h0M130.4 376.0h0M134.9 389.7h0M131.3 392.1h0M127.1 400.1h0M130.9 404.5h0M138.2 345.0h0M133.9 406.9h0M139.5 342.6h0M132.6 398.0h0M132.8 409.0h0M129.0 370.0h0M128.7 408.6h0M134.1 356.3h0M136.1 356.1h0M136.8 350.3h0M139.9 344.5h0M131.4 404.8h0M139.6 407.7h0M136.2 357.0h0M134.0 375.7h0M127.2 401.1h0M137.6 408.0h0M135.8 404.8h0M131.3 399.5h0M132.4 402.6h0M131.2 401.4h0M128.5 399.4h0M131.9 377.2h0M128.3 409.1h0M134.8 361.4h0M130.7 397.9h0M127.3 404.4h0M140.8 351.0h0M136.0 406.1h0M134.1 409.2h0M127.3 409.2h0M134.6 358.7h0M128.3 405.6h0M136.0 354.6h0M135.0 402.4h0M130.9 404.4h0M130.6 369.3h0M132.0 375.5h0M133.5 408.4h0M130.1 376.3h0M134.9 394.9h0M142.1 347.5h0M136.4 409.1h0M131.3 404.8h0M139.3 387.3h0M134.0 395.9h0M130.3 390.3h0M132.2 384.8h0M126.9 374.6h0M131.0 397.8h0M137.6 353.3h0M131.9 373.0h0M129.8 391.9h0M132.1 361.3h0M131.1 390.3h0M138.0 348.2h0M134.5 400.4h0M132.9 368.9h0M130.1 406.5h0M129.8 403.0h0M136.3 406.4h0M135.8 399.0h0M139.0 366.2h0M133.8 408.0h0M131.6 395.6h0M141.8 335.4h0M126.4 392.2h0M130.8 405.1h0M130.6 404.8h0M135.6 395.4h0M134.7 359.4h0M127.9 369.9h0M132.0 390.2h0M128.8 406.9h0M130.3 364.9h0M133.6 364.0h0M132.8 393.2h0M141.4 348.8h0M131.8 361.3h0M126.5 371.3h0M129.5 375.0h0M132.8 376.3h0M125.8 408.0h0M134.4 367.8h0M132.0 376.2h0M135.7 390.8h0M128.1 376.9h0M141.1 342.5h0M128.1 405.6h0M126.8 395.3h0M132.9 388.2h0M131.9 383.9h0M133.9 406.4h0M124.1 385.8h0M127.5 408.0h0M130.4 367.4h0M127.9 386.4h0M127.1 385.6h0M134.4 393.9h0M131.4 370.8h0M132.1 395.1h0M139.9 335.3h0M134.8 397.4h0M133.0 394.6h0M128.3 409.2h0M133.5 369.4h0M131.7 397.6h0M133.9 364.8h0M138.3 341.2h0M134.3 358.2h0M132.5 395.1h0M134.8 361.0h0M133.1 357.2h0M129.3 382.3h0M135.6 404.0h0M131.4 375.3h0M136.5 356.2h0M128.1 400.8h0M136.4 383.4h0M137.0 397.4h0M136.4 352.4h0M135.7 402.8h0M132.1 392.8h0M132.2 366.9h0M132.1 401.5h0M134.9 389.0h0M128.6 392.7h0M127.9 397.0h0M139.8 342.7h0M135.1 355.1h0M138.9 345.6h0M134.6 354.7h0M132.5 375.8h0M140.0 339.7h0M132.0 373.6h0M133.9 406.9h0M132.6 403.7h0M128.4 406.6h0M138.9 345.8h0M136.8 347.4h0M132.9 378.1h0M134.9 359.7h0M130.4 369.9h0M131.8 384.9h0M131.8 382.9h0M134.9 407.0h0M135.6 387.9h0M133.6 406.9h0M127.7 388.0h0M137.2 350.9h0M134.5 409.2h0M128.9 382.2h0M133.6 372.7h0M129.1 393.3h0M142.8 338.5h0M134.0 375.5h0M127.2 409.1h0M137.4 342.3h0M136.5 398.8h0M131.5 388.6h0M141.8 346.6h0M133.0 376.6h0M134.3 398.4h0M129.5 389.3h0M132.3 385.3h0M129.6 392.2h0M125.7 393.1h0M129.6 400.9h0M133.4 355.1h0M134.6 401.9h0M136.9 386.9h0M133.6 359.3h0M130.7 398.8h0M134.5 380.1h0M132.2 375.7h0M131.2 366.8h0M137.3 348.1h0M131.7 400.5h0M135.4 409.2h0M138.6 378.1h0M133.6 373.4h0M125.3 377.8h0M128.6 377.4h0M128.5 379.2h0M133.0 371.1h0M137.1 390.6h0M134.1 362.5h0M133.5 409.0h0M136.7 361.2h0M129.2 396.6h0M136.3 355.7h0M127.1 402.6h0M129.1 400.4h0M133.5 392.5h0M132.9 375.0h0M131.6 381.8h0M137.4 409.0h0M136.0 381.1h0M138.7 344.0h0M132.2 395.4h0M140.3 379.6h0M128.3 389.3h0M136.2 393.8h0M135.4 404.5h0M132.4 406.6h0M132.0 370.9h0M133.7 407.5h0M137.2 350.1h0M138.4 407.3h0M132.7 403.3h0M132.3 365.7h0M134.1 361.3h0M134.8 367.8h0M126.8 408.3h0M131.1 376.2h0M137.2 342.2h0M138.0 402.7h0M130.6 409.2h0M127.6 409.2h0M125.9 408.4h0M131.7 399.9h0M135.7 351.2h0M135.1 388.4h0M133.1 381.1h0M131.1 392.0h0M133.2 358.6h0M128.8 396.9h0M128.0 393.4h0M134.0 395.5h0M131.7 381.8h0M141.3 336.7h0M133.2 368.9h0M129.5 378.4h0M142.0 336.3h0M127.5 400.0h0M134.7 392.7h0" stroke="#ee9a7c" stroke-width="1.2" stroke-linecap="round" fill="none"/>
<path d="M130.2 370.8h0M136.6 378.7h0M127.8 401.3h0M131.7 409.2h0M135.3 380.1h0M135.8 356.5h0M135.5 354.5h0M137.3 357.0h0M128.3 401.8h0M138.0 352.3h0M136.1 397.9h0M136.1 358.6h0M132.0 405.0h0M122.9 403.6h0M130.5 378.3h0M128.0 404.8h0M132.0 402.7h0M125.8 390.4h0M134.4 408.2h0M125.7 403.7h0M137.3 380.7h0M127.8 385.6h0M130.1 389.2h0M130.6 405.3h0M130.9 405.7h0M129.0 382.1h0M129.9 394.4h0M131.8 408.9h0M140.5 333.6h0M133.0 375.9h0M135.9 359.8h0M136.2 398.0h0M132.9 385.8h0M141.1 334.5h0M132.4 402.4h0M135.9 362.0h0M137.3 356.2h0M131.3 409.0h0M132.7 405.0h0M133.5 408.8h0M134.5 382.7h0M138.3 340.3h0M141.4 345.1h0M133.9 394.8h0M135.0 407.5h0M131.4 382.0h0M136.4 375.1h0M130.5 395.0h0M136.9 391.3h0M134.9 404.2h0M132.7 397.6h0M142.0 346.0h0M127.6 408.9h0M133.0 359.9h0M136.2 408.8h0M142.3 341.3h0M130.8 371.6h0M136.0 363.1h0M130.6 407.9h0M134.8 407.4h0M133.3 388.8h0M134.6 406.9h0M136.7 371.5h0M132.5 405.2h0M134.6 409.0h0M138.9 342.0h0M138.3 350.4h0M130.7 391.3h0M139.0 408.1h0M129.4 376.3h0M128.5 391.0h0M137.5 389.1h0M133.4 376.3h0M134.2 408.8h0M130.5 367.8h0M137.0 350.0h0M130.1 402.2h0M133.2 401.9h0M135.5 353.7h0M133.8 388.1h0M133.5 399.5h0M140.2 336.1h0M136.8 408.8h0M128.4 404.6h0M131.4 389.1h0M135.0 404.9h0M138.8 343.1h0M129.9 408.0h0M140.4 408.8h0M129.9 366.4h0M142.9 409.2h0M134.1 357.5h0M133.9 409.2h0M134.4 354.6h0M131.6 392.2h0M139.4 344.8h0M137.1 407.0h0M132.8 405.7h0M125.8 405.1h0M136.7 408.4h0M134.5 387.7h0M133.4 401.8h0M135.8 368.4h0M133.6 357.0h0M130.6 408.6h0M135.5 408.8h0M141.0 350.7h0M139.5 387.9h0M132.7 389.2h0M137.3 349.8h0M137.5 354.7h0M133.8 396.7h0M134.6 379.4h0M127.6 409.2h0M131.5 386.1h0M130.4 407.5h0M131.1 399.4h0M139.0 408.7h0M125.9 387.8h0M127.9 386.3h0M131.0 409.1h0M140.6 337.6h0M134.5 407.9h0M132.4 402.9h0M131.1 408.1h0M132.2 369.3h0M132.6 379.0h0M127.0 381.0h0M131.1 407.9h0M137.2 350.1h0M130.8 407.5h0M129.2 387.9h0M132.0 407.5h0M135.2 394.2h0M139.5 351.1h0M126.0 406.8h0M129.1 406.3h0M138.0 355.3h0M130.6 393.2h0M133.9 353.7h0M139.4 341.0h0M132.5 361.0h0M134.4 398.6h0M138.4 392.2h0M138.4 344.7h0M135.7 356.6h0M131.1 386.0h0M141.6 338.9h0M130.9 393.1h0M129.5 375.9h0M135.8 408.6h0M131.3 392.4h0M132.0 407.0h0M141.3 337.3h0M124.9 375.8h0M138.9 357.3h0M126.4 409.0h0M131.5 375.0h0M137.8 401.8h0M136.1 383.9h0M129.5 402.9h0M124.4 385.8h0M135.8 401.1h0M130.8 400.2h0M130.7 379.4h0M138.5 339.1h0M131.8 389.9h0M133.0 384.6h0M133.7 407.2h0M129.4 400.8h0M133.8 403.2h0M124.6 408.2h0M130.3 378.0h0M130.7 381.6h0M130.5 368.1h0M127.4 390.4h0M130.6 389.8h0M132.1 399.9h0M134.4 386.4h0M131.5 395.7h0M131.7 397.6h0M137.3 351.0h0M136.4 388.0h0M135.2 401.3h0M133.1 361.5h0M139.4 406.4h0M134.9 391.9h0M128.7 408.7h0M133.9 365.5h0M133.6 407.8h0M138.9 365.1h0M130.1 406.6h0M134.4 371.7h0M135.4 377.4h0M126.9 386.0h0M131.8 365.1h0M126.1 389.3h0M132.4 360.1h0M123.4 407.3h0M141.3 349.9h0M132.1 380.2h0M136.3 387.5h0M130.9 393.4h0M136.3 360.2h0M128.4 395.9h0M126.5 391.0h0M133.6 400.9h0M128.6 395.2h0M130.7 399.3h0M135.8 359.8h0M128.6 391.6h0M131.3 405.6h0M133.7 381.1h0M138.2 380.6h0M136.5 399.2h0M139.6 353.3h0M123.5 404.8h0M132.4 392.8h0M131.7 408.9h0M124.7 382.0h0M133.4 361.3h0M136.0 384.3h0M132.0 386.0h0M129.9 370.7h0M133.9 379.4h0M137.3 397.6h0M130.4 385.4h0M129.1 408.0h0M134.3 382.3h0M138.1 381.2h0M125.9 388.4h0M123.6 391.8h0M123.2 398.1h0M132.8 384.9h0M129.9 399.5h0M141.8 336.1h0M127.7 407.8h0M136.7 347.0h0M136.9 347.8h0M133.1 401.0h0M129.8 386.5h0M131.9 405.6h0M129.7 376.1h0M140.0 334.1h0M135.0 375.5h0M134.7 359.7h0M131.9 400.1h0M131.7 400.3h0M129.0 405.1h0M129.5 387.5h0M131.2 374.5h0M136.4 384.8h0M131.9 393.9h0M135.8 407.5h0M137.7 407.8h0M134.4 408.0h0M138.2 355.7h0M132.4 377.7h0M130.6 409.2h0M131.3 361.7h0M137.3 397.5h0M131.8 406.1h0M139.5 345.8h0M130.0 380.5h0M135.3 395.5h0M136.2 408.8h0M138.5 338.6h0M130.0 391.9h0M129.9 408.9h0M140.5 342.4h0M136.9 346.5h0M134.2 356.5h0M142.8 338.6h0M134.4 387.7h0M131.2 395.3h0M132.4 367.3h0M139.5 349.4h0M132.7 388.6h0M129.1 406.0h0M135.8 397.2h0M141.4 401.0h0M135.0 382.3h0M135.0 395.5h0M133.7 394.4h0M136.2 355.3h0M132.1 397.6h0M134.5 401.3h0M137.6 403.5h0M133.2 398.2h0M131.5 406.5h0M130.4 402.0h0M137.9 354.3h0M138.0 354.1h0M136.1 357.8h0M134.2 366.9h0M134.4 396.1h0M139.6 339.8h0M132.5 387.0h0M136.4 407.2h0M131.6 368.5h0M138.8 380.0h0M132.1 396.6h0M137.4 404.5h0M139.5 349.8h0M134.8 383.9h0M132.5 402.0h0M129.1 373.5h0M130.8 381.8h0M135.7 408.3h0M134.1 405.8h0M129.9 373.0h0M128.5 407.8h0M130.8 387.3h0M135.0 400.7h0M133.4 404.0h0M131.3 407.4h0M129.1 394.4h0M139.4 345.2h0M131.8 407.2h0M132.7 371.3h0M130.2 372.9h0M134.5 373.3h0M132.1 369.3h0M139.2 397.6h0M132.6 376.2h0M139.8 344.7h0M131.8 365.6h0M130.9 409.0h0M133.1 406.3h0M135.0 395.8h0M129.8 409.0h0M137.3 405.7h0M129.4 402.7h0M130.7 392.2h0M128.5 409.2h0M136.4 354.4h0M128.7 408.9h0M136.2 352.0h0M131.2 403.2h0M132.7 407.7h0M137.5 344.5h0M135.7 364.0h0M134.9 395.0h0M133.1 364.2h0M129.1 408.2h0M135.1 370.1h0M133.9 365.1h0M127.7 390.9h0M130.6 408.8h0M128.6 386.4h0M141.8 342.7h0M137.0 408.9h0M132.8 368.9h0M129.6 383.6h0M138.9 337.3h0M128.3 402.9h0M129.4 408.7h0M135.2 405.0h0M135.9 399.9h0M135.5 372.2h0M132.2 403.5h0M136.3 391.5h0M138.5 341.8h0M139.4 348.2h0M128.7 406.9h0M134.4 356.6h0M132.1 383.4h0M130.2 372.6h0M126.8 379.0h0M136.9 354.7h0M131.1 407.7h0M135.6 404.8h0M131.5 408.7h0M133.9 369.0h0M134.4 391.3h0M134.0 389.8h0M132.7 396.9h0M133.4 409.2h0M141.1 334.3h0M130.8 367.4h0M139.9 335.9h0M131.4 388.2h0M133.6 392.3h0M136.7 409.2h0M137.2 343.8h0M137.3 341.8h0M132.0 373.9h0M135.0 407.0h0M133.2 409.1h0M124.8 400.7h0M127.0 405.5h0M133.6 406.1h0M134.8 399.1h0M138.5 399.4h0M128.6 396.6h0M135.2 354.7h0M136.9 403.4h0M133.0 376.3h0M134.0 356.1h0M130.0 387.8h0M132.0 400.5h0M136.3 380.6h0M134.9 406.3h0M133.5 391.6h0M131.7 409.0h0M134.1 391.9h0M138.1 409.2h0M138.9 353.6h0M127.0 392.9h0M129.6 401.4h0M128.3 393.2h0M126.9 398.4h0M137.1 355.3h0M139.5 345.8h0M134.6 391.6h0M130.8 382.1h0M134.2 408.3h0M122.2 399.2h0M140.1 345.2h0M130.7 377.1h0M138.6 357.1h0M133.7 378.1h0M123.5 400.7h0M128.3 388.9h0M131.2 374.5h0M139.9 348.2h0M134.3 409.1h0M136.9 391.3h0M129.9 408.3h0M129.4 380.6h0M127.4 393.5h0M131.1 394.8h0M135.6 407.7h0M138.3 383.4h0M134.0 407.7h0M129.6 408.1h0M132.0 384.9h0M135.8 382.9h0M130.3 404.0h0M131.3 386.3h0M134.9 379.9h0M134.0 408.5h0M134.9 391.9h0M129.3 367.7h0M138.7 363.2h0M137.7 367.0h0M133.9 407.9h0M128.5 406.0h0M171.0 361.2h0M173.3 408.8h0M167.5 403.5h0M168.4 379.4h0M166.1 404.5h0M173.3 392.8h0M162.7 347.8h0M163.4 382.2h0M166.7 344.1h0M173.4 398.2h0M165.9 362.4h0M161.2 407.5h0M167.3 396.3h0M161.2 366.9h0M166.5 408.9h0M167.1 383.4h0M172.4 371.7h0M169.5 402.7h0M168.5 380.6h0M168.5 407.8h0M169.3 358.3h0M172.5 401.0h0M166.8 370.5h0M167.3 349.4h0M165.8 384.3h0M161.7 398.2h0M167.9 358.3h0M171.1 409.0h0M172.9 371.3h0M165.9 395.1h0M167.7 353.1h0M171.5 395.0h0M164.0 408.5h0M169.7 398.9h0M174.6 379.9h0M169.9 408.9h0M170.9 389.8h0M165.7 381.0h0M170.5 409.2h0M167.7 380.8h0M168.6 390.5h0M166.5 406.8h0M165.3 401.8h0M167.7 387.4h0M172.3 385.1h0M168.7 361.6h0M167.0 349.8h0M163.7 375.7h0M166.7 396.9h0M168.5 400.3h0M162.4 386.7h0M165.7 375.6h0M171.7 394.2h0M166.1 408.7h0M170.8 396.7h0M168.3 403.2h0M171.7 407.1h0M171.1 409.2h0M165.2 391.5h0M167.4 381.7h0M170.3 408.6h0M165.8 400.4h0M173.0 383.2h0M170.3 408.4h0M171.1 361.2h0M168.9 392.7h0M167.0 388.6h0M165.3 346.4h0M171.1 409.1h0M167.3 406.2h0M174.1 404.3h0M169.5 394.6h0M169.6 374.4h0M174.2 408.4h0M169.6 357.3h0M165.4 407.1h0M160.1 405.4h0M166.6 375.2h0M168.0 399.1h0M162.8 394.2h0M167.5 371.3h0M169.1 393.6h0M165.4 408.9h0M165.8 387.8h0M167.8 379.1h0M172.5 409.2h0M167.5 377.6h0M164.4 408.1h0M172.3 406.5h0M173.4 408.2h0M165.2 356.7h0M169.8 379.9h0M165.5 382.9h0M163.7 398.8h0M167.8 364.9h0M172.2 362.5h0M166.4 361.1h0M174.2 401.6h0M169.7 385.5h0M167.2 409.2h0M164.6 389.2h0M162.7 397.0h0M168.5 363.2h0M168.5 407.2h0M162.8 408.7h0M167.9 405.7h0M170.9 406.7h0M174.0 409.1h0M168.3 360.8h0M177.7 387.5h0M164.9 375.5h0M173.2 390.4h0M169.5 399.2h0M167.2 365.7h0M165.5 408.6h0M164.9 350.8h0M164.2 408.7h0M164.1 343.9h0M168.4 376.4h0M170.9 402.4h0M168.3 392.3h0M169.8 362.9h0M165.1 374.9h0M180.1 404.4h0M171.6 381.6h0M168.1 402.1h0M160.9 401.4h0M160.1 398.8h0M168.8 406.3h0M165.4 371.0h0M166.0 380.8h0M167.3 348.5h0M175.5 397.1h0M169.1 360.6h0M165.7 350.8h0M176.4 409.1h0M175.1 409.2h0M169.4 365.4h0M169.0 371.0h0M163.2 408.2h0M173.4 367.5h0M166.8 348.6h0M167.9 403.6h0M167.7 359.2h0M167.1 387.0h0M166.3 403.7h0M168.8 409.1h0M168.2 349.0h0M171.2 407.1h0M170.3 392.7h0M173.5 406.8h0M166.7 365.2h0M168.0 397.5h0M170.8 387.7h0M166.2 404.4h0M163.4 337.6h0M164.8 405.8h0M169.0 402.3h0M168.4 386.7h0M164.8 394.1h0M166.7 409.2h0M165.9 370.4h0M164.6 383.4h0M173.9 370.2h0M167.4 367.4h0M166.4 394.6h0M171.5 395.5h0M176.1 393.9h0M179.4 409.2h0M170.2 378.2h0M166.9 377.9h0M168.1 396.1h0M170.7 407.6h0M168.7 353.3h0M166.1 369.8h0M172.2 383.4h0M168.2 399.7h0M168.0 364.3h0M164.0 352.1h0M167.7 376.2h0M164.9 364.6h0M172.0 395.0h0M164.2 385.3h0M164.3 399.3h0M165.9 376.2h0M167.4 377.7h0M171.7 402.2h0M166.3 367.0h0M165.6 385.6h0M168.4 406.9h0M161.9 385.5h0M166.8 403.4h0M169.9 406.0h0M164.9 375.1h0M162.9 408.9h0M171.3 395.8h0M161.5 407.5h0M168.0 406.6h0M169.7 397.3h0M165.2 358.0h0M167.4 408.2h0M173.6 394.9h0M167.9 391.2h0M169.7 389.0h0M161.6 406.7h0M165.6 371.2h0M171.5 403.5h0M166.1 396.5h0M171.4 409.1h0M166.8 405.0h0M167.4 405.8h0M167.6 367.3h0M171.4 403.3h0M168.8 351.4h0M161.8 404.9h0M170.6 377.3h0M171.8 396.4h0M169.1 396.7h0M167.2 367.9h0M171.0 374.4h0M166.5 357.1h0M170.5 380.8h0M166.3 396.4h0M164.9 408.6h0M165.6 363.3h0M170.9 387.6h0M165.5 346.2h0M167.3 379.6h0M161.5 390.2h0M169.6 393.6h0M170.9 389.4h0M165.6 388.1h0M170.3 386.4h0M164.3 365.0h0M173.3 394.5h0M169.3 383.0h0M168.2 361.8h0M166.0 404.2h0M168.8 408.4h0M166.3 408.2h0M167.2 363.6h0M167.6 371.1h0M167.1 368.1h0M168.1 370.1h0M163.6 356.4h0M167.8 349.8h0M170.4 385.9h0M171.3 409.2h0M167.8 402.4h0M167.8 399.8h0M174.5 382.8h0M167.0 386.5h0M168.6 400.3h0M168.2 350.4h0M160.8 402.6h0M172.6 404.9h0M169.5 396.3h0M163.4 390.1h0M168.3 396.8h0M169.8 358.2h0M175.0 382.8h0M166.0 408.8h0M172.1 394.0h0M166.8 382.0h0M169.8 358.8h0M166.3 400.9h0M162.4 379.6h0M171.5 390.8h0M165.3 349.1h0M162.7 408.8h0M170.3 408.9h0M170.3 405.7h0M164.2 358.3h0M168.0 371.7h0M169.8 400.8h0M175.4 406.8h0M173.8 408.0h0M171.0 373.3h0M172.9 402.6h0M164.6 406.6h0M167.6 408.8h0M167.2 354.1h0M168.5 400.8h0M173.0 399.5h0M172.1 382.4h0M174.9 399.2h0M174.0 409.0h0M166.3 395.9h0M166.2 383.7h0M161.6 408.1h0M169.3 392.6h0M172.2 371.3h0M173.0 407.5h0M167.2 343.4h0M166.3 401.0h0M168.0 397.8h0M164.0 388.6h0M164.4 350.8h0M165.1 408.2h0M166.9 407.0h0M168.9 403.9h0M167.6 379.0h0M165.8 408.9h0M171.7 403.0h0M170.1 364.7h0M174.1 400.6h0M166.3 408.6h0M167.5 383.2h0M165.6 359.7h0M165.4 409.0h0M172.0 386.3h0M171.3 407.2h0M166.1 380.9h0M170.3 372.9h0M172.6 406.3h0M175.9 398.8h0M169.6 353.4h0M164.7 406.7h0M169.5 408.1h0M166.8 387.7h0M170.8 384.5h0M171.0 406.3h0M164.8 384.5h0M167.8 405.1h0M168.5 394.3h0M169.9 403.4h0M161.7 349.9h0M167.9 409.2h0M164.4 359.4h0M165.4 403.8h0M169.2 363.9h0M170.6 409.1h0M165.0 395.0h0M165.7 347.5h0M165.4 408.3h0M166.9 379.3h0M167.8 360.2h0M166.6 403.1h0M168.9 379.0h0M167.9 377.2h0M169.0 370.0h0M165.9 357.1h0M168.5 390.3h0M167.7 394.1h0M168.2 408.2h0M172.8 371.4h0M166.8 406.7h0M169.8 405.1h0M162.8 404.2h0M162.0 388.9h0M165.4 345.3h0M169.4 375.5h0" stroke="#ee9a7c" stroke-width="1.2" stroke-linecap="round" fill="none"/>
<path d="M171.5 359.9h0M171.3 397.8h0M173.8 406.3h0M167.1 364.4h0M172.5 407.1h0M162.9 354.6h0M165.7 358.1h0M166.6 355.4h0M169.5 360.1h0M162.3 337.5h0M169.5 402.8h0M165.6 405.1h0M168.3 390.6h0M171.3 368.1h0M169.4 395.1h0M162.9 371.0h0M163.6 341.0h0M168.7 374.0h0M166.1 354.1h0M171.0 359.1h0M168.1 409.2h0M169.6 407.8h0M165.0 378.5h0M166.8 390.6h0M170.2 397.5h0M166.1 353.1h0M165.7 408.2h0M166.7 402.0h0M164.9 373.1h0M170.8 357.5h0M172.2 409.0h0M168.8 355.7h0M170.9 404.0h0M162.3 347.6h0M163.1 395.0h0M171.9 387.4h0M167.2 354.8h0M167.9 406.3h0M168.0 405.9h0M168.0 357.3h0M171.8 408.0h0M170.6 383.1h0M164.6 396.1h0M164.3 342.7h0M166.9 376.7h0M171.2 391.6h0M167.3 373.1h0M165.3 375.9h0M170.5 371.6h0M169.3 396.9h0M167.8 354.3h0M165.0 370.9h0M167.0 363.8h0M165.4 347.4h0M161.3 409.0h0M174.1 399.1h0M163.5 406.9h0M165.2 408.9h0M167.9 395.1h0M162.5 401.5h0M167.1 362.6h0M172.4 393.2h0M166.9 357.8h0M165.5 370.1h0M170.6 401.6h0M167.2 359.1h0M169.5 386.1h0M168.3 349.1h0M173.6 406.0h0M171.0 399.9h0M169.0 395.7h0M164.2 337.7h0M171.0 399.4h0M170.1 392.0h0M169.8 395.0h0M170.8 395.5h0M167.3 404.9h0M165.1 354.0h0M163.0 399.7h0M168.2 406.6h0M164.3 382.5h0M168.0 372.2h0M165.0 397.0h0M166.0 401.1h0M166.5 361.6h0M170.4 409.0h0M163.7 397.5h0M172.4 403.2h0M169.5 363.5h0M163.4 371.4h0M171.8 407.7h0M161.9 400.1h0M161.7 375.7h0M168.4 370.0h0M164.3 398.2h0M169.2 395.1h0M164.5 405.5h0M163.8 349.9h0M167.3 372.3h0M166.8 346.1h0M170.7 408.6h0M160.9 393.7h0M167.9 372.5h0M164.5 380.9h0M170.9 401.8h0M168.6 353.1h0M160.6 406.7h0M168.1 372.1h0M163.0 346.5h0M165.4 346.5h0M162.4 374.3h0M171.3 368.8h0M167.8 377.8h0M169.2 378.6h0M167.8 355.5h0M170.7 404.1h0M163.1 408.1h0M161.8 358.1h0M167.6 397.1h0M166.9 353.8h0M173.3 399.1h0M168.1 407.0h0M171.9 401.8h0M169.3 382.9h0M169.9 407.8h0M165.5 404.0h0M165.5 398.8h0M169.2 381.7h0M174.9 404.7h0M168.8 353.7h0M163.3 409.1h0M171.1 360.8h0M168.8 393.0h0M163.5 408.7h0M164.2 380.3h0M163.2 394.6h0M167.6 404.0h0M167.8 389.1h0M162.2 407.2h0M169.2 368.3h0M166.8 390.8h0M170.0 394.4h0M170.2 401.4h0M173.2 386.1h0M169.8 392.0h0M173.8 405.1h0M162.4 402.2h0M162.9 340.1h0M167.8 366.9h0M166.6 404.8h0M172.3 409.2h0M164.3 376.1h0M166.6 402.3h0M169.5 375.9h0M169.7 408.9h0M167.4 346.5h0M166.9 357.8h0M168.5 407.8h0M168.8 406.6h0M160.7 334.5h0M163.3 358.9h0M169.1 407.3h0M163.6 407.8h0M166.2 404.6h0M176.4 402.8h0M168.8 368.1h0M161.2 340.5h0M170.3 395.6h0M168.7 357.0h0M166.2 409.2h0M164.7 404.5h0M166.0 409.2h0M168.6 354.8h0M163.6 408.9h0M165.1 347.7h0M167.7 399.2h0M170.7 376.6h0M165.7 375.2h0M168.4 404.8h0M176.0 395.7h0M166.2 407.9h0M166.9 405.0h0M163.7 390.7h0M165.9 368.5h0M173.2 391.9h0M170.7 408.8h0M163.8 389.6h0M170.5 367.8h0M164.5 403.4h0M163.7 389.5h0M172.6 406.9h0M165.0 408.7h0M170.8 403.4h0M167.8 395.1h0M169.6 359.7h0M164.5 364.8h0M177.2 409.0h0M170.9 409.0h0M168.7 372.1h0M174.7 406.6h0M168.8 407.9h0M168.8 405.5h0M166.1 386.4h0M169.9 407.9h0M162.4 352.3h0M169.7 382.8h0M164.7 377.1h0M168.4 379.4h0M166.4 408.8h0M167.2 383.7h0M172.0 409.2h0M173.1 364.5h0M168.7 357.0h0M171.7 390.6h0M172.0 404.7h0M175.5 392.6h0M173.8 383.6h0M173.0 397.6h0M169.5 352.5h0M169.2 352.7h0M170.2 400.4h0M170.2 362.6h0M165.5 336.1h0M169.8 409.2h0M168.6 370.0h0M164.5 379.0h0M167.5 394.1h0M163.8 377.9h0M163.0 365.8h0M165.2 367.5h0M164.7 409.1h0M161.7 392.5h0M168.6 349.1h0M175.7 391.7h0M168.0 368.5h0M171.2 397.8h0M171.4 399.2h0M165.8 342.2h0M167.8 401.8h0M167.3 402.9h0M168.4 403.8h0M167.8 348.0h0M166.9 361.7h0M171.6 361.2h0M164.2 384.8h0M169.6 407.9h0M165.6 376.4h0M165.6 406.4h0M165.6 384.9h0M164.0 404.5h0M168.5 401.1h0M167.6 402.5h0M169.8 367.6h0M167.9 392.0h0M166.2 370.5h0M163.8 363.6h0M168.0 403.0h0M168.7 370.1h0M167.4 404.7h0M175.8 374.8h0M165.6 379.7h0M164.8 369.7h0M169.3 400.3h0M168.6 409.2h0M169.1 397.0h0M169.3 387.9h0M168.3 401.8h0M165.5 408.0h0M163.1 400.3h0M170.9 391.5h0M173.4 366.2h0M172.9 398.2h0M169.4 404.0h0M168.3 351.9h0M162.6 401.6h0M171.3 409.2h0M176.1 406.5h0M164.2 373.3h0M165.0 405.7h0M177.4 406.9h0M174.0 395.7h0M166.1 374.0h0M166.8 408.6h0M169.3 409.2h0M166.8 366.8h0M168.7 407.0h0M165.3 396.7h0M169.9 385.5h0M169.2 358.8h0M163.2 401.3h0M172.5 404.1h0M168.8 405.2h0M171.6 396.8h0M161.9 375.0h0M169.4 408.8h0M169.1 372.9h0M165.4 409.1h0M170.9 392.0h0M170.1 368.0h0M171.4 408.1h0M171.1 405.9h0M166.2 403.8h0M168.7 408.6h0M169.5 382.9h0M169.2 408.5h0M173.3 382.2h0M166.1 407.8h0M171.7 403.4h0M174.9 404.5h0M167.1 408.3h0M175.9 390.3h0M170.7 365.9h0M169.9 399.5h0M166.1 404.8h0M164.7 407.5h0M173.8 405.7h0M168.3 386.2h0M161.4 409.1h0M169.0 384.4h0M162.7 403.6h0M168.0 374.1h0M171.2 406.8h0M161.7 365.0h0M163.6 351.6h0M174.3 405.7h0M161.1 403.9h0M163.0 408.4h0M172.1 404.3h0M169.0 407.0h0M168.0 405.3h0M164.1 371.3h0M170.8 409.2h0M167.2 389.1h0M171.7 386.5h0M166.5 404.4h0M181.3 390.7h0M171.4 404.0h0M167.2 394.1h0M167.6 398.1h0M167.3 396.3h0M168.0 406.3h0M168.0 378.2h0M163.2 402.6h0M169.0 368.0h0M168.1 407.1h0M170.0 407.1h0M161.9 385.6h0M163.9 408.8h0M170.6 403.6h0M172.1 391.0h0M172.1 394.0h0M164.7 351.2h0M169.6 408.8h0M167.0 409.1h0M165.6 401.0h0M161.1 393.2h0M167.1 357.5h0M166.5 373.9h0M167.8 403.2h0M163.4 373.4h0M163.6 346.5h0M172.2 408.5h0M164.9 405.7h0M167.9 370.0h0M170.7 396.7h0M167.4 385.5h0M167.0 364.9h0M163.4 376.7h0M168.7 358.4h0M161.9 409.2h0M168.7 368.3h0M171.2 374.4h0M172.2 404.7h0M175.5 394.0h0M166.0 403.7h0M165.4 365.5h0M171.0 362.1h0M168.5 407.3h0M170.6 402.2h0M170.7 409.0h0M170.8 393.2h0M164.2 381.0h0M166.9 397.4h0M163.9 405.9h0M173.2 388.8h0M168.7 406.4h0M174.1 396.5h0M166.9 354.2h0M164.8 375.0h0M164.9 362.1h0M167.7 400.5h0M173.9 378.8h0M169.6 352.5h0M164.3 405.1h0M161.6 409.2h0M166.7 401.9h0M170.5 408.6h0M168.1 369.6h0M168.4 409.2h0M170.2 368.1h0M177.8 407.7h0M163.8 406.7h0M164.7 398.6h0M167.6 393.4h0M167.9 389.0h0M169.4 408.3h0M172.7 406.3h0M170.2 369.6h0M169.6 402.3h0M162.2 398.2h0M171.0 388.0h0M175.0 382.4h0M171.5 408.8h0M172.6 395.6h0M168.7 367.4h0M165.7 408.1h0M167.0 368.4h0M168.5 357.9h0M165.2 408.1h0M166.5 372.9h0M167.1 405.3h0M171.5 380.5h0M171.5 403.3h0M163.8 402.5h0M169.6 366.7h0M167.5 409.1h0M165.3 401.0h0M166.5 375.2h0M162.7 346.1h0M165.8 404.8h0M173.3 402.4h0M169.0 406.5h0M172.9 367.5h0M166.3 400.0h0M167.8 399.7h0M167.0 378.1h0M172.6 408.2h0M169.5 406.7h0M163.2 342.3h0M168.6 407.5h0M164.8 386.8h0M167.6 367.5h0M168.3 385.0h0M166.1 408.6h0M165.2 395.4h0M168.2 372.4h0M166.1 404.1h0M170.9 367.9h0M166.0 361.7h0M166.3 342.8h0M170.7 377.2h0M170.1 375.5h0M178.5 401.6h0M170.3 390.0h0M167.6 377.1h0M169.0 363.8h0M167.0 361.6h0M168.6 395.0h0M169.3 408.1h0M167.7 401.1h0M168.8 362.0h0M169.4 408.6h0M160.6 406.3h0M166.5 406.1h0M168.4 405.9h0M164.1 398.4h0M168.5 407.4h0M178.7 407.6h0M167.5 402.5h0M166.8 390.0h0M161.6 407.3h0M169.8 405.2h0M167.7 356.8h0M168.0 398.4h0M170.7 389.7h0M166.5 351.9h0M169.5 364.5h0M169.5 398.2h0M170.4 355.8h0M166.5 350.9h0M167.8 362.4h0M174.3 378.3h0M162.5 399.0h0M168.2 352.7h0M165.4 396.8h0M165.8 396.2h0M171.1 407.8h0M171.4 403.9h0M166.3 375.6h0M166.0 347.9h0M163.4 343.8h0M168.8 363.4h0M165.9 373.6h0M169.1 395.8h0M166.5 384.2h0M169.5 398.5h0M165.6 353.2h0M168.4 352.7h0M166.9 371.5h0M173.8 374.0h0M170.0 383.5h0M164.7 390.7h0M171.9 360.4h0M167.1 350.1h0M171.5 403.0h0M167.6 408.0h0M168.5 358.7h0M169.3 403.9h0M168.4 364.9h0M164.1 405.1h0M168.6 358.1h0M170.7 375.9h0M164.1 346.4h0M165.9 365.7h0M174.1 381.3h0M161.5 407.9h0M164.7 385.9h0M161.8 388.6h0M171.1 372.7h0M165.6 404.7h0M170.9 407.4h0M163.4 379.7h0M170.3 392.6h0M160.6 408.2h0M167.3 359.6h0M169.1 397.3h0M177.1 404.3h0M160.5 392.3h0M165.9 395.8h0M165.1 400.4h0M173.7 405.5h0M163.1 383.6h0M168.0 406.9h0M160.6 339.0h0M165.4 405.6h0M169.7 362.9h0M165.2 409.1h0M173.9 387.2h0M162.9 406.9h0M169.1 376.0h0M164.9 378.7h0M167.3 402.5h0M171.5 386.3h0M168.3 389.8h0M168.2 398.3h0M168.0 367.5h0M165.1 402.7h0M170.1 386.0h0M171.9 380.2h0M168.0 367.0h0M163.5 368.1h0M172.6 401.9h0M160.1 408.8h0M174.5 408.3h0M170.2 371.5h0M162.5 406.9h0M168.9 362.1h0M168.7 403.2h0M170.0 393.9h0M167.4 377.2h0M170.2 404.3h0M169.2 408.3h0M170.8 387.0h0M163.8 405.6h0M168.5 405.1h0M169.2 379.6h0M169.9 408.5h0M170.9 369.1h0M167.2 397.5h0M164.7 392.9h0M172.5 395.1h0M171.4 406.6h0M164.0 409.2h0M167.1 352.5h0M165.1 376.1h0M166.6 392.4h0M171.6 373.0h0M169.5 365.5h0M167.4 396.8h0M168.1 352.3h0M164.2 371.5h0M172.5 398.3h0M166.4 394.4h0M174.3 405.6h0M171.6 358.3h0M165.9 409.1h0M171.5 387.7h0M170.7 396.9h0M166.1 384.8h0M166.3 389.2h0M170.7 378.1h0M167.8 359.9h0M171.5 395.4h0M171.9 396.9h0M165.5 401.7h0M169.0 398.7h0M166.5 370.2h0M168.5 409.1h0M168.8 357.7h0M168.2 406.8h0M169.3 402.3h0M166.9 365.7h0M169.7 364.1h0M164.9 408.1h0M166.6 349.7h0M162.5 408.8h0M174.3 407.4h0M168.7 376.1h0M169.3 407.7h0M169.7 378.1h0M170.7 372.0h0M167.3 395.2h0M169.1 402.8h0M178.7 405.9h0M170.1 405.7h0M170.1 365.3h0M162.0 408.7h0M166.8 409.0h0M169.2 391.9h0M163.5 391.0h0M164.5 348.7h0M166.0 394.9h0M166.5 340.8h0M165.4 406.9h0M163.5 405.9h0M172.2 409.2h0M168.7 358.1h0M163.2 409.2h0M164.7 358.6h0M170.5 381.6h0M162.1 366.2h0M166.8 377.5h0M171.4 402.1h0M166.4 345.9h0M161.2 399.5h0M167.7 363.1h0M173.5 406.4h0M165.2 351.6h0M164.7 342.5h0M168.4 406.7h0M163.3 392.8h0M169.7 360.9h0M170.0 407.7h0M163.1 349.9h0M170.2 402.6h0M167.3 366.0h0M166.7 387.9h0M168.9 366.9h0M173.5 401.6h0M175.7 396.5h0M164.3 381.4h0M168.1 357.4h0M164.3 350.8h0M171.9 394.5h0M166.6 407.6h0M170.5 364.0h0M172.8 408.8h0M170.7 365.0h0M171.8 396.1h0M168.4 403.0h0M167.2 389.1h0M173.1 408.3h0M161.1 409.0h0M162.5 390.1h0M168.9 366.2h0M170.2 398.1h0M166.9 407.1h0M169.2 356.6h0M169.5 387.4h0M172.5 398.5h0M174.9 389.4h0M168.0 359.9h0M176.7 404.2h0M161.8 337.1h0M165.0 351.9h0M174.4 391.6h0M171.2 357.7h0M167.9 371.0h0M165.5 390.2h0M165.9 406.4h0M165.2 370.8h0M166.6 406.1h0M163.4 407.1h0M168.8 402.1h0M162.1 396.7h0M166.2 379.9h0M170.9 406.3h0M162.5 338.6h0M163.3 395.6h0M167.7 383.5h0M168.9 404.8h0M166.8 407.4h0M172.5 382.2h0M173.0 397.0h0M166.5 383.9h0M165.8 351.0h0M165.4 378.5h0M170.8 400.5h0M167.4 409.2h0M169.1 383.0h0M172.6 407.6h0M166.1 354.0h0M162.0 342.9h0M168.0 371.4h0M167.8 408.9h0M171.0 392.8h0M167.5 381.7h0M160.4 409.2h0M171.5 379.8h0M169.7 355.5h0M168.2 405.8h0M173.3 402.1h0M164.2 348.8h0M167.8 369.5h0M173.5 408.6h0M167.8 364.3h0M170.1 396.9h0M177.2 373.0h0M165.2 373.9h0M167.2 406.4h0M163.3 397.2h0M165.5 346.3h0M170.2 406.5h0M161.9 406.7h0M164.2 406.4h0M164.1 387.2h0M165.9 393.7h0M169.1 383.8h0M168.1 393.1h0M168.1 403.5h0M166.2 355.6h0M171.7 403.3h0M170.3 395.4h0M168.3 398.6h0M165.9 372.2h0M165.2 354.3h0M169.4 405.7h0M171.2 408.6h0M169.8 408.2h0M165.7 374.3h0M169.3 386.4h0M166.8 406.6h0M171.0 392.6h0M170.0 406.2h0M167.8 352.8h0M170.4 374.4h0M172.7 408.7h0M167.2 386.8h0M169.1 364.7h0M166.3 367.5h0M167.9 372.3h0M167.2 392.3h0M164.7 346.0h0M168.7 409.2h0M171.9 405.1h0M163.1 408.2h0M166.7 402.2h0M165.7 394.5h0M166.5 370.4h0M169.0 408.6h0M175.4 383.9h0M167.5 408.0h0M165.8 387.2h0M168.1 372.3h0M169.0 387.7h0M162.9 342.0h0M170.5 389.4h0M171.6 407.3h0M166.8 370.7h0M164.5 367.6h0M169.7 358.2h0M170.3 408.8h0M167.5 380.4h0M165.4 369.7h0M167.3 396.7h0M164.8 409.2h0M166.8 408.2h0M161.9 375.5h0M172.4 406.5h0M163.4 407.6h0M167.9 395.8h0M167.7 408.9h0M176.8 397.5h0M167.2 345.2h0M144.1 402.6h0M145.6 387.3h0M151.2 395.2h0M147.2 387.8h0M148.2 399.5h0M144.8 388.2h0M150.5 376.5h0M145.4 403.0h0M149.9 365.1h0M151.7 372.7h0M143.0 400.6h0M148.0 331.2h0M150.2 398.9h0M147.8 393.8h0M140.4 389.4h0M151.7 369.8h0" stroke="#ee9a7c" stroke-width="1.2" stroke-linecap="round" fill="none"/>
<path d="M157.1 395.9h0M143.9 398.2h0M156.5 369.5h0M151.8 402.2h0M159.2 377.3h0M145.7 375.4h0M143.3 399.6h0M149.5 407.3h0M151.0 311.1h0M143.7 386.9h0M141.4 360.2h0M149.0 401.4h0M152.3 361.6h0M146.3 369.1h0M151.1 399.8h0M147.8 389.2h0M143.1 352.5h0M147.3 348.5h0M153.0 397.9h0M153.5 403.1h0M152.5 332.6h0M147.2 351.7h0M156.0 342.8h0M154.2 392.5h0M160.3 395.1h0M156.5 405.4h0M146.9 394.0h0M150.6 382.1h0M151.8 394.4h0M156.4 394.9h0M150.9 366.2h0M146.9 397.1h0M142.3 402.9h0M146.2 408.6h0M142.9 398.8h0M159.4 402.5h0M139.4 401.2h0M146.4 382.7h0M147.8 408.1h0M145.4 397.4h0M144.6 387.8h0M151.9 405.3h0M155.6 393.0h0M153.1 395.7h0M148.8 401.0h0M150.8 350.9h0M158.6 395.0h0M154.2 408.0h0M139.5 399.8h0M138.2 364.3h0M153.3 407.5h0M151.8 394.8h0M156.5 364.1h0M147.1 353.8h0M149.4 361.0h0M149.9 405.9h0M160.3 391.8h0M146.0 406.3h0M151.7 409.1h0M156.1 406.3h0M153.6 392.2h0M148.5 387.9h0M159.0 387.4h0M142.9 403.6h0M150.1 395.3h0M152.4 350.0h0M162.7 395.9h0M144.6 396.9h0M145.2 399.2h0M156.9 406.6h0M148.8 405.6h0M146.3 377.1h0M149.5 397.3h0M148.6 353.3h0M152.6 314.9h0M147.6 395.8h0M152.3 376.6h0M145.9 376.4h0M152.8 401.3h0M143.1 362.4h0M153.6 395.1h0M153.7 369.5h0M150.9 312.2h0M148.1 374.8h0M144.6 390.0h0M155.0 402.6h0M156.7 373.7h0M148.5 400.2h0M148.4 380.7h0M144.9 403.6h0M150.3 385.2h0M141.4 404.9h0M151.6 404.9h0M147.2 398.1h0M144.8 380.4h0M147.9 363.8h0M148.8 391.7h0M144.8 356.0h0M146.5 395.6h0M161.2 391.3h0M148.9 377.5h0M149.3 405.8h0M150.2 327.7h0M150.4 301.9h0M147.7 353.1h0M154.4 403.3h0M143.1 408.7h0M145.0 342.9h0M153.9 374.2h0M153.0 386.4h0M149.0 340.6h0M156.1 396.8h0M151.6 407.1h0M148.1 407.0h0M148.2 404.0h0M148.1 398.8h0M157.3 338.5h0M154.3 348.0h0M150.3 361.5h0M160.9 399.3h0M146.9 369.7h0M163.0 401.5h0M157.3 385.1h0M152.5 380.8h0M148.6 373.1h0M152.0 390.5h0M143.6 402.6h0M149.9 315.3h0M156.8 355.8h0M148.4 400.7h0M144.5 401.6h0M156.6 401.9h0M149.1 387.8h0M159.9 388.3h0M151.8 368.2h0M149.2 346.6h0M153.9 396.4h0M148.1 369.7h0M145.9 386.9h0M157.2 404.2h0M147.5 388.0h0M152.7 362.8h0M159.9 396.1h0M153.2 359.0h0M152.9 378.9h0M145.2 389.4h0M156.6 401.8h0M161.1 391.9h0M150.7 400.4h0M145.7 355.9h0M148.4 379.7h0M151.6 405.2h0M147.7 349.6h0M147.3 362.9h0M140.9 392.0h0M153.6 375.6h0M149.3 406.0h0M147.2 393.3h0M150.4 401.7h0M149.1 348.8h0M153.0 403.1h0M152.8 383.4h0M156.4 386.1h0M139.5 391.8h0M150.3 408.7h0M150.8 329.4h0M151.7 365.4h0M147.0 383.9h0M149.9 363.6h0M149.9 398.2h0M146.8 383.7h0M146.7 377.9h0M156.3 407.2h0M149.6 378.3h0M147.7 385.2h0M157.6 369.6h0M154.5 347.9h0M150.6 407.6h0M153.3 400.5h0M145.4 406.5h0M150.9 398.5h0M143.6 390.6h0M156.4 370.7h0M150.7 405.6h0M151.4 397.2h0M146.8 405.8h0M139.9 402.2h0M150.9 408.1h0M147.9 329.0h0M149.7 394.2h0M151.5 320.6h0M145.0 387.7h0M152.3 365.3h0M148.2 355.9h0M151.2 393.6h0M146.7 342.6h0M154.9 384.6h0M146.7 390.6h0M148.8 384.7h0M153.5 349.2h0M152.1 345.4h0M143.7 408.8h0M146.9 353.6h0M153.9 390.2h0M153.5 371.8h0M152.4 370.1h0M157.4 377.1h0M155.9 377.0h0M151.5 397.4h0M149.2 381.9h0M152.8 375.9h0M152.0 399.1h0M146.1 385.5h0M155.4 359.7h0M158.0 407.1h0M154.7 326.6h0M152.1 395.4h0M144.5 403.3h0M154.9 393.1h0M145.0 405.3h0M150.4 306.6h0M146.6 394.7h0M151.2 305.2h0M143.5 397.6h0M141.6 394.2h0M150.2 367.0h0M153.9 407.9h0M153.3 391.3h0M147.8 391.8h0M150.2 366.0h0M153.8 387.2h0M162.2 392.6h0M145.4 401.0h0M149.4 384.5h0M151.4 391.6h0M149.4 335.0h0M156.4 372.0h0M153.5 407.2h0M149.2 398.4h0M155.1 371.5h0M151.4 405.1h0M153.9 390.0h0M151.0 401.7h0M154.4 406.6h0M152.6 387.3h0M153.6 404.8h0M144.6 400.5h0M151.7 400.9h0M149.4 368.5h0M157.1 406.1h0M148.8 381.9h0M151.6 349.5h0M151.6 373.7h0M149.8 382.6h0M146.1 388.6h0M145.7 403.0h0M152.3 382.8h0M149.2 398.5h0M160.3 406.5h0M147.7 360.7h0M150.7 405.5h0M141.7 387.9h0M150.4 395.2h0M154.3 393.3h0M149.0 342.3h0M150.4 323.1h0M160.1 380.8h0M160.0 402.4h0M150.5 359.4h0M160.1 384.7h0M156.9 403.4h0M147.5 400.2h0M148.1 390.6h0M156.2 371.7h0M156.2 405.9h0M145.5 389.8h0M142.1 407.9h0M156.9 402.8h0M149.1 392.6h0M147.3 395.1h0M142.9 377.7h0M144.1 393.8h0M147.3 403.0h0M154.6 319.7h0M148.4 390.4h0M151.0 354.4h0M158.2 371.5h0M153.2 325.5h0M139.3 399.9h0M147.0 362.7h0M151.4 395.4h0M154.9 361.1h0M142.7 376.0h0M155.4 403.6h0M157.6 402.1h0M153.5 396.9h0M152.2 371.3h0M153.9 401.6h0M147.9 352.5h0M149.9 398.4h0M157.5 408.8h0M149.9 392.0h0M151.0 349.9h0M166.0 395.1h0M150.6 401.4h0M153.5 400.4h0M150.9 372.1h0M146.6 383.0h0M150.5 399.1h0M146.4 303.9h0M157.6 343.9h0M151.4 405.2h0M149.8 372.0h0M148.9 359.4h0M145.9 358.9h0M145.5 404.2h0M149.4 393.9h0M148.4 402.8h0M145.3 363.9h0M141.3 379.5h0M145.4 359.0h0M144.9 384.1h0M162.9 395.3h0M145.3 406.0h0M154.2 328.9h0M144.4 378.1h0M142.1 364.1h0M141.0 391.5h0M153.1 397.7h0M141.6 405.7h0M142.6 400.6h0M152.6 374.7h0M148.4 404.8h0M143.6 388.8h0M162.9 391.5h0M148.9 361.9h0M149.7 302.1h0M157.0 403.4h0M154.1 408.7h0M138.5 389.5h0M158.3 393.2h0M151.5 352.3h0M142.2 401.1h0M144.3 398.3h0M150.9 378.1h0M147.2 388.1h0M158.6 402.4h0M153.3 396.9h0M150.8 407.5h0M155.3 392.7h0M147.9 307.7h0M146.4 354.8h0M145.9 408.8h0M150.0 394.7h0M160.1 407.2h0M146.1 385.8h0M155.5 393.7h0M149.2 406.0h0M141.3 381.8h0M139.5 405.5h0M145.5 366.6h0M158.0 407.8h0M144.1 399.5h0M153.3 333.4h0M138.5 400.7h0M147.4 383.4h0M153.1 366.2h0M147.4 380.4h0M153.5 330.1h0M156.5 384.1h0M146.0 408.3h0M141.8 390.7h0M149.5 305.2h0M143.4 379.9h0M151.7 386.3h0M151.3 372.6h0M150.3 397.6h0M156.1 346.5h0M155.1 408.3h0M151.7 377.9h0M146.4 394.8h0M148.4 401.5h0M144.5 381.3h0M137.4 397.4h0M145.2 363.9h0M150.6 318.3h0M157.9 394.6h0M151.9 396.5h0M147.4 384.7h0M151.4 364.6h0M150.1 399.7h0M153.7 388.8h0M149.7 354.1h0M137.5 394.0h0M145.9 407.2h0M152.5 397.2h0M153.4 398.3h0M148.5 373.0h0M149.6 360.7h0M157.1 388.0h0M156.2 357.6h0M161.6 401.9h0M146.2 401.4h0M159.4 409.2h0M141.2 406.1h0M151.5 365.6h0M145.3 355.6h0M157.6 397.3h0M138.5 397.9h0M146.9 374.7h0M141.0 384.1h0M150.5 399.5h0M159.0 404.8h0M152.6 350.3h0M148.3 373.4h0M156.7 375.6h0M155.8 365.6h0M154.8 398.2h0M152.6 364.9h0M152.0 390.3h0M146.9 405.8h0M153.3 396.3h0M147.8 406.9h0M156.1 367.3h0M156.1 406.6h0M143.9 400.7h0M140.2 393.4h0M155.8 391.3h0M151.7 400.9h0M149.0 362.6h0M141.2 386.4h0M153.8 373.1h0M155.1 398.8h0M150.3 399.3h0M146.3 397.4h0M156.5 399.2h0M144.5 389.5h0M163.2 394.9h0M144.1 391.3h0M153.3 384.1h0M146.9 400.2h0M139.0 405.9h0M150.5 404.1h0M157.3 392.2h0M150.2 394.7h0M153.4 354.3h0M146.5 405.2h0M149.9 378.8h0M139.4 376.8h0M145.5 398.2h0M150.1 391.5h0M161.2 390.3h0M147.5 331.0h0M153.6 389.7h0M150.3 333.0h0M154.2 378.5h0M145.4 408.4h0M152.1 352.7h0M147.2 356.3h0M150.7 402.0h0M143.9 393.3h0M153.9 402.6h0M140.1 406.4h0M145.8 401.7h0M154.5 383.4h0M154.9 342.9h0M147.7 395.5h0M158.0 405.8h0M153.3 382.9h0M156.6 391.4h0M149.9 396.2h0M157.2 393.0h0M161.6 382.4h0M146.9 385.7h0M152.7 397.8h0M135.7 388.8h0M155.6 384.4h0M154.2 402.2h0M151.8 396.5h0M153.0 363.4h0M148.6 363.7h0M143.6 391.7h0M148.6 407.9h0M145.4 407.1h0M142.6 394.8h0M151.6 333.8h0M145.3 407.1h0M148.4 385.0h0M146.5 407.9h0M159.7 389.2h0M152.4 379.7h0M146.3 399.4h0M152.2 403.0h0M153.5 403.2h0M145.9 371.5h0M153.5 396.4h0M144.3 377.4h0M147.0 394.2h0M149.4 375.7h0M149.0 386.4h0M148.4 397.0h0M151.2 401.3h0M149.8 391.6h0M151.7 348.3h0M140.8 398.4h0M149.1 401.3h0M146.9 370.7h0M151.1 396.3h0M145.5 358.5h0M151.5 394.9h0M150.6 346.3h0M144.0 408.3h0M149.4 365.1h0M153.4 397.8h0M159.8 385.2h0M149.4 366.9h0M150.7 365.0h0M150.4 401.8h0M150.6 400.2h0M151.2 376.3h0M142.3 391.6h0M149.1 369.6h0M147.3 386.2h0M150.1 381.9h0M146.5 398.0h0M155.3 396.6h0M153.0 370.0h0M154.6 383.3h0M160.3 405.5h0M151.8 367.5h0M152.9 400.5h0M149.1 387.5h0M155.8 325.6h0M150.6 399.2h0M142.3 384.5h0M165.8 400.4h0M145.2 408.8h0M148.8 397.2h0M154.1 392.3h0M156.4 340.7h0M152.4 398.1h0M155.1 408.8h0M147.5 402.0h0M148.3 405.5h0M153.1 403.3h0M144.5 400.6h0M147.4 398.3h0M151.9 386.8h0M140.8 396.6h0M151.5 334.2h0M143.5 389.8h0M159.2 397.2h0M158.7 381.1h0M163.2 406.1h0M144.1 408.2h0M151.0 373.0h0M155.3 355.3h0M141.5 396.3h0M150.7 402.8h0M137.7 379.7h0M159.1 403.0h0M154.2 372.0h0M152.0 405.4h0M146.5 404.4h0M150.2 361.7h0M140.9 406.2h0M141.3 405.1h0M151.3 401.8h0M147.6 328.5h0M138.2 396.8h0M159.8 396.6h0M151.7 307.5h0M148.3 385.5h0M154.2 324.2h0M156.2 364.6h0M149.0 367.7h0M150.0 313.8h0M152.9 406.0h0M140.8 397.7h0M143.8 374.6h0M156.7 407.9h0M147.1 327.9h0M157.5 390.1h0M149.0 359.0h0M158.9 408.4h0M160.5 389.0h0M155.2 375.3h0M164.7 392.6h0M149.7 315.0h0M147.5 406.6h0M142.6 381.3h0M157.2 408.7h0M148.0 382.1h0M150.4 358.6h0M151.3 332.1h0M153.9 399.7h0M151.2 368.8h0M159.0 402.1h0M158.9 376.4h0M154.3 383.0h0M152.4 321.4h0M148.5 409.1h0M151.7 405.9h0M152.6 317.0h0M141.2 407.9h0M145.1 373.5h0M150.9 404.5h0M151.6 387.7h0M148.9 346.5h0M150.2 392.9h0M154.8 390.7h0M141.1 377.9h0M145.6 387.7h0M154.5 387.6h0M150.3 408.7h0M149.4 397.3h0M153.4 393.0h0M157.6 408.1h0M148.8 345.9h0M149.6 373.3h0M140.1 398.4h0M152.2 370.0h0M157.0 382.1h0M152.5 364.4h0M153.7 357.0h0M152.6 360.2h0M150.1 402.1h0M148.8 405.8h0M142.5 377.9h0M145.2 363.8h0M150.2 333.0h0M146.9 377.9h0M144.3 388.8h0M148.5 366.8h0M149.2 392.6h0M143.7 392.8h0M153.8 395.7h0M145.4 394.3h0M151.5 302.1h0M161.4 406.4h0M151.6 394.1h0M145.9 391.3h0M147.2 401.0h0M162.2 408.7h0M140.0 399.1h0M149.7 390.4h0M151.6 342.2h0M150.8 354.9h0M154.2 373.3h0M146.6 361.4h0M151.8 401.2h0M155.9 361.2h0M140.5 405.6h0M158.9 382.2h0M149.8 390.8h0M160.7 404.5h0M154.7 407.1h0M148.3 359.5h0M147.5 342.5h0M149.7 328.3h0M149.0 382.6h0M150.6 392.8h0M161.0 369.9h0M151.4 405.3h0M155.4 383.7h0M140.0 397.4h0M155.1 403.2h0M145.2 371.0h0M155.5 318.2h0M148.2 397.3h0M148.8 393.3h0M147.6 379.9h0M145.8 408.2h0M146.8 405.2h0M149.2 398.2h0M155.6 380.3h0M146.1 400.4h0M149.1 382.8h0M162.1 404.1h0M137.7 400.1h0M156.0 403.8h0M153.7 402.8h0M153.8 397.1h0M151.0 394.1h0M144.8 389.9h0M152.6 394.1h0M138.0 392.6h0M150.6 332.9h0M165.9 386.8h0M147.8 374.8h0M154.2 404.8h0M147.4 344.2h0M157.5 390.7h0M151.5 386.8h0M154.3 396.9h0M150.3 374.9h0M150.5 372.0h0M154.7 392.2h0M152.7 402.1h0M147.3 357.3h0M148.8 400.6h0M149.5 398.9h0M154.3 362.3h0M147.8 362.6h0M140.8 377.4h0M154.5 405.6h0M151.7 400.2h0M153.8 386.7h0M143.6 392.4h0M161.3 400.9h0M149.4 396.7h0M155.9 407.8h0M150.3 352.7h0M147.0 405.5h0M148.1 343.3h0M154.0 398.6h0M152.2 360.0h0M148.9 378.3h0M145.9 399.7h0M152.6 406.5h0M150.5 380.8h0M153.1 396.3h0M153.2 329.1h0M155.2 400.7h0M156.6 377.1h0M155.5 387.8h0M163.0 405.7h0M151.0 403.5h0M157.5 389.8h0M148.9 385.0h0M138.6 390.2h0M151.2 407.9h0M149.6 397.7h0M141.3 404.6h0M143.6 405.1h0M156.3 398.7h0M142.3 405.8h0M151.9 374.4h0M144.0 404.1h0M149.5 376.9h0M153.8 403.8h0M154.7 393.8h0M154.4 385.2h0M142.6 385.1h0M157.5 406.4h0M161.9 397.2h0M148.3 333.1h0M143.2 365.7h0M148.5 383.7h0M150.5 405.4h0M152.1 346.8h0M144.1 397.5h0M155.2 406.0h0M153.0 372.5h0M144.9 345.3h0M157.0 397.7h0M157.0 373.8h0M148.7 395.3h0M152.4 355.7h0M152.6 390.7h0M145.4 397.6h0M150.3 387.6h0M137.9 396.1h0M142.8 373.7h0M155.5 366.4h0M147.8 384.9h0M152.6 344.3h0M150.0 360.8h0M153.2 402.7h0M154.3 309.3h0M153.1 386.6h0M145.2 385.0h0M149.2 384.8h0M153.4 406.4h0M149.1 404.7h0M145.0 375.7h0M143.9 373.8h0M151.0 329.1h0M150.9 401.1h0M153.6 363.9h0M154.9 365.1h0M136.5 404.1h0M149.0 367.9h0M145.8 394.0h0M150.8 312.2h0M149.1 363.4h0M147.1 369.7h0M152.2 389.2h0M147.6 345.2h0M144.7 374.6h0M152.2 360.2h0M151.2 386.6h0M150.5 340.9h0M141.6 371.6h0M151.5 404.4h0M148.0 396.8h0M139.6 395.2h0M153.1 377.8h0M151.6 406.8h0M148.8 383.9h0" stroke="#ee9a7c" stroke-width="1.2" stroke-linecap="round" fill="none"/>
<path d="M154.7 391.4h0M161.6 406.8h0M145.0 384.7h0M147.8 391.6h0M158.4 396.4h0M150.0 315.4h0M137.9 406.9h0M148.6 405.2h0M153.1 392.7h0M153.2 355.2h0M149.4 401.7h0M150.2 408.5h0M152.5 386.7h0M146.9 398.5h0M144.6 381.9h0M149.7 398.5h0M143.6 371.6h0M146.0 390.1h0M151.9 408.0h0M147.8 390.4h0M149.1 350.2h0M154.3 345.8h0M142.3 389.1h0M149.2 403.4h0M161.6 405.7h0M146.7 409.0h0M154.5 381.9h0M154.0 405.6h0M148.4 337.4h0M149.3 397.2h0M151.8 308.0h0M151.5 382.5h0M148.8 385.7h0M161.2 369.6h0M149.0 405.9h0M158.1 395.2h0M150.6 314.8h0M165.9 400.4h0M153.1 400.0h0M146.1 384.5h0M153.2 327.7h0M151.9 321.1h0M148.5 357.6h0M136.1 408.6h0M158.3 400.4h0M146.7 395.5h0M148.9 372.2h0M159.8 377.5h0M159.3 407.0h0M149.1 373.4h0M153.7 406.8h0M143.6 361.0h0M151.5 304.2h0M148.5 330.9h0M149.7 387.3h0M146.4 369.9h0M140.6 393.4h0M152.7 384.6h0M148.7 350.5h0M141.8 408.5h0M148.6 404.5h0M148.9 332.7h0M152.0 393.3h0M150.2 382.4h0M150.8 406.3h0M153.0 371.7h0M152.9 359.8h0M152.2 349.9h0M147.7 409.0h0M147.2 367.1h0M146.7 408.6h0M151.2 392.3h0M159.3 402.2h0M149.5 406.9h0M147.7 401.6h0M155.8 391.8h0M150.1 397.8h0M153.6 389.9h0M154.7 373.1h0M151.7 397.5h0M146.5 406.0h0M139.7 379.6h0M155.0 405.9h0M148.5 368.1h0M144.9 405.1h0M150.9 380.8h0M144.1 390.0h0M146.7 374.5h0M146.2 403.0h0M138.9 390.5h0M147.1 384.8h0M152.1 397.3h0M156.8 369.0h0M141.7 400.7h0M129.5 394.3h0M147.2 325.4h0M152.6 348.8h0M140.0 402.4h0M166.9 407.2h0M140.4 398.2h0M151.8 379.3h0M150.5 329.5h0M150.3 407.0h0M149.1 408.1h0M151.1 386.8h0M153.5 379.2h0M161.8 393.2h0M148.7 312.7h0M156.5 385.8h0M150.7 400.0h0M150.0 400.6h0M156.0 397.6h0M145.1 408.1h0M141.8 398.5h0M142.8 405.7h0M146.6 363.9h0M155.2 392.8h0M163.7 391.9h0M150.2 334.2h0M149.8 369.3h0M147.0 408.1h0M148.1 355.9h0M142.8 397.9h0M157.5 399.9h0M146.5 408.6h0M149.3 396.7h0M151.5 339.2h0M154.7 358.6h0M150.8 405.7h0M153.5 370.4h0M143.8 362.1h0M153.6 405.3h0M150.7 353.8h0M147.8 356.2h0M150.3 350.9h0M150.4 405.4h0M150.9 393.1h0M152.4 365.0h0M145.3 364.5h0M151.7 330.6h0M150.2 367.5h0M147.9 401.5h0M156.2 407.3h0M164.6 392.1h0M164.7 388.6h0M142.6 372.9h0M149.3 396.9h0M150.3 393.2h0M145.6 343.6h0M156.5 398.1h0M143.5 383.7h0M148.4 393.5h0M149.5 406.1h0M152.0 398.0h0M151.6 371.3h0M148.3 369.8h0M148.5 370.8h0M148.6 356.8h0M148.0 384.3h0M150.2 394.1h0M152.6 349.2h0M153.4 379.2h0M149.0 400.0h0M155.0 387.8h0M152.3 385.9h0M156.9 389.5h0M147.0 378.8h0M151.7 382.8h0M144.1 409.2h0M152.0 362.0h0M152.9 401.7h0M151.3 377.0h0M151.4 388.8h0M150.2 409.0h0M157.0 402.3h0M150.3 409.1h0M155.2 397.4h0M147.3 393.1h0M155.3 408.6h0M150.3 354.7h0M142.5 409.1h0M156.4 401.2h0M146.4 402.3h0M152.1 357.8h0M148.8 388.3h0M154.1 384.5h0M153.6 380.3h0M145.9 375.6h0M144.5 395.0h0M163.6 407.1h0M151.3 349.2h0M155.2 338.6h0M155.8 403.5h0M154.3 396.4h0M158.0 357.9h0M144.1 355.6h0M160.8 400.2h0M148.8 383.6h0M146.7 394.8h0M151.9 406.0h0M146.5 404.8h0M144.9 399.4h0M144.5 386.9h0M150.6 351.6h0M146.8 386.2h0M150.8 403.6h0M154.4 406.8h0M157.4 396.3h0M144.1 406.4h0M143.9 401.8h0M146.0 408.4h0M142.2 406.2h0M146.9 406.7h0M150.9 364.7h0M157.9 386.6h0M156.4 396.7h0M148.6 392.7h0M159.3 385.9h0M139.9 365.2h0M149.0 386.0h0M147.6 313.2h0M150.7 303.4h0M146.9 384.0h0M151.8 391.8h0M161.8 401.7h0M145.7 372.1h0M150.9 372.4h0M167.4 370.5h0M149.6 360.9h0M147.0 400.0h0M148.0 324.6h0M149.8 391.4h0M151.6 390.1h0M149.7 386.4h0M153.1 389.4h0M154.1 407.0h0M156.5 396.4h0M145.1 388.4h0M149.3 404.9h0M133.4 408.6h0M144.5 399.3h0M146.3 396.2h0M159.0 388.8h0M152.8 361.5h0M150.7 402.3h0M145.8 395.4h0M151.8 308.0h0M137.2 391.8h0M144.7 378.4h0M152.8 382.1h0M145.1 408.1h0M147.7 314.4h0M148.7 407.1h0M146.1 368.2h0M157.1 399.2h0M149.1 334.1h0M152.5 341.9h0M149.6 401.6h0M158.3 405.5h0M151.3 402.1h0M148.4 393.1h0M148.9 363.4h0M139.0 405.5h0M146.9 343.0h0M158.8 390.1h0M148.2 342.6h0M151.3 404.3h0M153.8 388.6h0M151.2 346.9h0M152.6 383.6h0M148.1 389.6h0M154.1 390.2h0M152.0 332.7h0M144.3 370.6h0M150.3 350.0h0M150.0 316.9h0M150.0 347.6h0M150.8 403.8h0M153.6 387.7h0M144.8 383.0h0M152.5 404.6h0M146.7 371.2h0M149.8 355.4h0M157.1 325.3h0M141.3 407.1h0M146.2 394.4h0M151.7 368.3h0M152.9 338.6h0M152.5 306.4h0M149.2 343.3h0M151.4 390.9h0M151.4 387.3h0M146.6 399.4h0M148.2 408.8h0M149.3 367.5h0M154.3 392.7h0M149.5 346.2h0M153.2 401.5h0M151.5 406.8h0M156.1 394.4h0M149.8 371.4h0M142.0 408.2h0M149.8 406.1h0M146.1 383.2h0M151.7 356.0h0M152.2 373.9h0M152.8 407.6h0M139.6 400.0h0M146.6 305.2h0M155.0 349.2h0M156.0 366.1h0M158.3 390.0h0M150.4 405.4h0M156.7 401.9h0M155.7 379.8h0M151.1 350.7h0M150.7 400.1h0M152.7 400.0h0M149.1 362.0h0M146.6 341.1h0M147.0 409.0h0M143.9 381.2h0M144.3 387.4h0M152.3 405.6h0M160.4 406.7h0M150.5 405.8h0M160.3 385.5h0M158.5 396.0h0M148.7 401.0h0M153.8 384.2h0M146.2 392.1h0M158.2 383.4h0M149.8 403.2h0M148.0 383.0h0M155.3 371.8h0M144.6 408.6h0M150.4 381.8h0M145.2 357.6h0M152.4 399.0h0M142.7 400.3h0M150.1 401.6h0M146.6 365.7h0M150.6 400.4h0M157.8 354.8h0M141.9 400.6h0M149.6 407.0h0M150.0 351.0h0M147.9 375.1h0M155.0 374.7h0M142.9 404.0h0M157.0 374.9h0M153.5 382.8h0M153.3 400.3h0M144.8 408.2h0M147.8 331.8h0M155.9 384.9h0M147.5 387.3h0M136.1 399.3h0M153.6 389.1h0M147.8 409.1h0M153.3 379.9h0M137.9 387.8h0M152.1 366.1h0M161.0 406.5h0M152.2 382.0h0M149.3 377.5h0M150.6 391.2h0M149.7 355.1h0M149.4 405.2h0M148.9 338.7h0M149.8 372.4h0M153.2 331.6h0M146.3 359.8h0M138.5 406.5h0M153.2 396.7h0M157.5 404.5h0M142.4 409.0h0M134.7 407.2h0M146.1 380.4h0M154.1 346.5h0M155.9 403.2h0M154.7 397.1h0M156.8 407.8h0M144.1 377.1h0M143.2 365.4h0M156.4 406.8h0M148.2 326.6h0M158.3 388.9h0M155.6 403.5h0M155.8 386.0h0M146.4 397.3h0M149.2 376.6h0M143.8 399.5h0M149.7 392.8h0M145.9 404.0h0M149.4 389.4h0M148.6 399.7h0M150.2 302.4h0M161.3 398.3h0M136.9 406.5h0M151.3 364.2h0M147.8 407.7h0M143.0 389.4h0M147.5 376.4h0M150.2 373.5h0M145.8 405.1h0M160.3 384.0h0M149.0 387.7h0M143.8 394.7h0M155.6 385.1h0M151.5 408.0h0M149.6 337.7h0M148.9 351.2h0M153.7 399.2h0M143.5 381.3h0M149.7 368.6h0M160.9 385.7h0M152.4 366.8h0M146.8 393.3h0M161.6 395.7h0M155.2 374.5h0M139.4 389.0h0M146.6 407.0h0M147.7 395.9h0M144.2 388.6h0M152.2 400.2h0M159.6 396.7h0M156.1 326.0h0M140.9 399.5h0M154.8 387.5h0M154.5 406.9h0M159.8 388.3h0M147.8 395.6h0M152.5 399.5h0M150.1 353.3h0M158.6 351.1h0M155.7 378.0h0M143.3 394.4h0M154.0 386.7h0M153.0 348.5h0M146.8 408.9h0M146.9 364.0h0M142.6 406.9h0M155.8 406.8h0M147.4 390.0h0M149.1 402.7h0M149.2 384.5h0M154.8 368.9h0M153.5 305.4h0M153.0 356.7h0M139.8 371.4h0M155.0 385.4h0M142.4 379.4h0M152.5 376.0h0M155.7 397.4h0M151.2 350.5h0M145.0 407.4h0M149.3 407.3h0M151.4 319.3h0M141.4 395.9h0M157.6 386.4h0M145.4 379.3h0M151.5 314.7h0M143.5 399.5h0M149.4 404.6h0M138.7 404.5h0M150.2 392.2h0M154.0 407.4h0M149.9 344.5h0M148.3 407.8h0M147.7 400.2h0M150.8 392.8h0M144.3 392.9h0M145.8 393.8h0M150.4 317.4h0M156.2 402.9h0M156.3 396.2h0M157.3 370.9h0M152.8 395.6h0M149.7 330.6h0M156.9 397.7h0M149.0 386.3h0M159.3 393.3h0M149.3 372.3h0M156.4 384.8h0M147.8 371.2h0M144.7 406.5h0M153.2 405.6h0M153.9 403.1h0M144.8 376.7h0M162.5 401.2h0M152.1 400.7h0M153.1 374.8h0M150.5 383.3h0M159.4 375.4h0M143.9 392.4h0M145.2 391.8h0M139.8 406.3h0M161.6 395.2h0M158.0 378.6h0M153.8 349.3h0M145.6 395.2h0M156.1 400.5h0M157.5 402.1h0M156.8 387.8h0M155.0 315.3h0M149.4 322.4h0M152.5 354.6h0M150.9 347.1h0M146.6 380.5h0M146.3 392.6h0M145.5 404.5h0M149.0 405.3h0M144.4 347.9h0M144.8 398.8h0M148.9 383.4h0M162.7 402.2h0M146.4 377.9h0M148.6 406.7h0M140.2 389.2h0M148.9 402.4h0M146.6 403.0h0M161.5 401.3h0M152.7 379.0h0M151.0 372.2h0M155.4 388.6h0M152.4 324.5h0M144.7 394.3h0M148.5 388.1h0M157.3 407.9h0M145.2 396.4h0M156.3 399.2h0M158.6 354.0h0M144.5 394.9h0M145.6 402.5h0M150.2 408.2h0M147.4 384.2h0M154.7 408.7h0M151.0 377.4h0M158.2 380.7h0M150.1 387.0h0M158.4 408.8h0M149.5 350.7h0M154.6 407.9h0M144.2 401.9h0M157.6 393.6h0M154.5 401.8h0M153.9 372.9h0M157.6 380.4h0M154.3 371.9h0M149.4 374.7h0M159.4 394.0h0M145.6 365.9h0M149.8 381.7h0M155.0 305.2h0M148.3 319.4h0M158.2 375.1h0M151.9 354.3h0M144.4 394.1h0M147.7 361.6h0M147.1 347.1h0M158.3 408.2h0M151.2 406.1h0M157.1 353.8h0M157.6 401.6h0M150.8 404.9h0M141.7 393.4h0M138.5 382.0h0M146.1 387.9h0M145.1 385.9h0M151.8 374.1h0M145.1 405.7h0M141.3 366.2h0M149.1 385.7h0M153.1 406.3h0M158.6 386.0h0M141.6 403.1h0M152.4 367.7h0M146.8 350.6h0M146.6 403.0h0M155.3 370.3h0M146.8 391.3h0M162.0 394.3h0M151.7 392.9h0M155.9 372.5h0M146.9 395.7h0M143.7 408.8h0M150.0 310.8h0M153.3 313.5h0M154.7 402.3h0M152.4 404.2h0M149.5 352.0h0M150.4 399.7h0M152.8 387.7h0M152.9 338.7h0M151.4 391.6h0M159.7 405.6h0M149.2 387.2h0M148.7 385.3h0M150.3 398.1h0M146.5 337.1h0M152.0 381.2h0M153.3 372.7h0M154.4 359.3h0M153.1 399.2h0M155.7 390.3h0M146.5 368.3h0M149.6 365.8h0M158.9 395.1h0M142.3 389.9h0M148.7 403.7h0M152.3 354.5h0M153.3 352.4h0M152.2 395.5h0M150.4 316.0h0M161.4 402.5h0M153.0 403.9h0M152.9 367.4h0M150.7 395.9h0M144.4 406.6h0M151.3 369.0h0M161.2 388.8h0M147.8 403.6h0M153.5 334.4h0M146.2 386.7h0M148.6 403.6h0M154.8 402.7h0M146.6 380.6h0M158.7 383.7h0M156.9 356.5h0M156.3 387.9h0M151.2 379.2h0M159.8 393.6h0M148.4 370.8h0M148.9 398.5h0M156.8 367.4h0M151.4 385.5h0M148.1 371.6h0M156.3 389.8h0M155.3 367.7h0M154.0 400.2h0M150.4 382.5h0M155.0 401.3h0M146.4 341.6h0M157.6 369.3h0M149.8 399.8h0M150.5 328.2h0M155.3 379.3h0M155.0 388.7h0M148.0 375.9h0M161.5 380.0h0M156.6 406.9h0M138.8 398.3h0M156.7 371.9h0M139.7 407.0h0M150.7 354.8h0M159.2 374.4h0M159.1 390.4h0M148.3 313.6h0M149.8 383.7h0M141.7 393.9h0M146.7 388.5h0M150.4 400.1h0M153.8 353.4h0M144.5 374.2h0M143.2 387.8h0M146.0 409.0h0M154.5 391.6h0M149.9 390.3h0M150.2 406.8h0M163.5 408.2h0M153.0 361.1h0M138.3 400.3h0M148.6 328.8h0M152.4 318.9h0M149.5 385.6h0M147.5 409.1h0M160.0 400.0h0M158.0 400.6h0M150.0 314.4h0M147.9 372.0h0M148.2 397.7h0M150.3 355.5h0M145.0 362.8h0M146.0 396.7h0M145.6 405.1h0M158.5 384.4h0M151.0 404.9h0M158.5 408.8h0M147.1 407.8h0M151.1 343.3h0M150.5 405.1h0M139.5 397.8h0M158.2 385.8h0M150.2 394.5h0M155.9 400.2h0M149.2 392.8h0M143.1 397.8h0M142.5 374.1h0M161.1 403.2h0M150.1 388.0h0M154.4 352.4h0M154.1 363.0h0M149.9 364.2h0M148.8 389.7h0M145.6 399.8h0M146.9 390.9h0M140.8 386.0h0M143.6 399.3h0M151.8 399.6h0M152.2 352.4h0M152.5 333.6h0M152.6 338.8h0M161.4 349.4h0M147.9 398.3h0M150.6 407.1h0M158.8 408.7h0M141.1 400.4h0M152.3 404.2h0M149.2 405.3h0M153.2 405.3h0M154.9 405.9h0M137.1 407.9h0M153.8 360.2h0M143.0 398.5h0M151.6 357.7h0M150.9 316.4h0M160.0 401.7h0M144.7 407.8h0M148.3 406.2h0M148.4 376.3h0M151.2 375.7h0M158.0 402.1h0M147.0 347.7h0M144.9 380.0h0M159.6 407.3h0M144.2 387.5h0M141.8 382.4h0M151.0 386.4h0M146.2 399.4h0M150.1 409.1h0M156.7 387.1h0M143.0 402.2h0M144.2 387.9h0M146.8 390.7h0M146.2 387.8h0M140.0 387.5h0M149.7 363.2h0M147.7 400.2h0M146.2 397.9h0M156.4 398.7h0M145.8 369.5h0M153.7 331.7h0M139.1 404.0h0M139.5 395.1h0M151.6 346.2h0M145.1 404.5h0M147.4 359.9h0M153.3 390.5h0M158.6 370.1h0M144.7 365.6h0M150.1 403.4h0M151.2 402.5h0M153.7 396.7h0M157.4 405.0h0M147.4 377.4h0M152.5 374.5h0M162.3 397.3h0M151.9 367.1h0M149.9 346.0h0M154.2 373.4h0M160.1 404.5h0M148.9 385.4h0M149.1 407.6h0M157.5 404.5h0M163.0 382.3h0M156.1 367.9h0M150.6 359.0h0M146.5 400.9h0M147.9 408.0h0M149.7 402.9h0M160.8 403.5h0M145.2 399.1h0M151.2 303.1h0M153.4 394.8h0M156.4 360.1h0M156.2 385.6h0M150.0 361.1h0M152.3 406.1h0M142.8 370.7h0M150.1 402.6h0M153.6 399.4h0M159.5 372.8h0M150.3 404.2h0M149.0 390.4h0M151.5 400.3h0M143.0 374.7h0M159.6 402.6h0M152.4 373.6h0M158.5 408.9h0" stroke="#ee9a7c" stroke-width="1.2" stroke-linecap="round" fill="none"/>
<path d="M139.6 395.7h0M143.2 387.2h0M141.4 377.7h0M151.4 387.4h0M142.6 408.2h0M146.4 385.4h0M153.4 394.2h0M146.5 401.7h0M155.6 344.2h0M152.3 390.9h0M148.2 387.4h0M151.5 368.3h0M144.2 403.7h0M148.2 312.1h0M144.9 396.5h0M144.4 405.6h0M149.2 343.0h0M150.8 376.5h0M144.9 367.3h0M159.4 404.9h0M150.4 381.9h0M159.2 402.9h0M154.5 370.3h0M150.4 376.2h0M155.6 365.4h0M152.4 378.5h0M149.6 364.5h0M144.5 408.8h0M144.6 406.9h0M144.7 392.9h0M138.6 406.8h0M151.4 387.8h0M149.1 342.3h0M149.6 325.4h0M154.4 404.5h0M141.7 401.8h0M152.6 326.3h0M144.7 406.5h0M164.8 384.5h0M162.2 352.2h0M150.3 388.2h0M130.5 397.0h0M135.3 408.3h0M156.5 381.9h0M148.5 398.1h0M166.4 393.6h0M148.0 364.5h0M135.0 363.9h0M164.0 390.9h0M141.3 356.3h0M172.7 393.4h0M159.5 396.2h0M156.4 336.6h0M151.2 394.6h0M163.9 388.8h0M166.8 408.2h0M154.4 355.7h0M148.2 386.8h0M134.2 382.0h0M141.4 343.5h0M136.5 402.6h0M156.2 399.1h0M146.9 364.9h0M146.7 376.9h0M130.4 400.2h0M128.5 366.6h0M170.2 384.8h0M132.5 392.3h0M132.8 381.4h0M143.0 373.9h0M160.9 380.2h0M161.1 381.5h0M137.3 370.9h0M150.9 386.6h0M147.6 370.6h0M140.8 399.6h0M163.8 391.2h0M150.4 362.7h0M158.4 336.2h0M140.3 376.4h0M164.3 351.1h0M143.7 399.2h0M171.2 403.3h0M161.5 382.9h0M154.3 338.4h0M158.6 398.0h0M172.9 362.4h0M153.2 404.2h0M153.8 354.0h0M134.2 408.7h0M161.6 368.3h0M144.3 394.4h0M153.0 362.7h0M159.1 372.0h0M155.2 366.2h0M136.3 381.1h0M156.2 376.0h0M148.8 346.8h0M168.9 403.2h0M168.3 388.6h0M149.2 358.9h0M167.7 401.4h0M148.0 354.4h0M164.2 357.3h0M158.9 340.0h0M131.1 374.7h0M167.8 389.8h0M129.3 405.5h0M147.3 396.1h0M164.9 376.1h0M157.0 347.4h0M136.9 404.3h0M131.8 396.8h0M147.4 359.0h0M166.1 373.6h0M132.8 377.9h0M133.0 402.8h0M150.2 405.6h0M156.1 373.2h0M146.5 343.9h0M152.1 369.8h0M129.6 374.5h0M168.6 405.2h0M166.7 362.7h0M163.8 368.3h0M163.1 353.6h0M141.2 370.2h0M158.8 363.7h0M150.4 383.6h0M155.9 372.6h0M130.4 396.2h0M140.6 397.4h0M164.6 363.4h0M146.1 382.6h0M148.4 407.2h0M143.3 361.4h0M168.2 408.8h0M130.7 392.7h0M161.4 361.8h0M138.7 357.1h0" stroke="#ee9a7c" stroke-width="1.2" stroke-linecap="round" fill="none"/>
<path d="M156.8 396.1h0M149.2 392.1h0M148.8 409.2h0M151.8 406.9h0M153.6 382.7h0M154.2 397.3h0M153.7 397.3h0M151.3 391.1h0M157.5 400.9h0M155.4 401.7h0M152.5 408.4h0M152.9 396.4h0M151.1 357.5h0M147.9 396.8h0M162.3 402.1h0M149.6 394.4h0M141.5 404.5h0M154.2 401.6h0M156.0 395.9h0M152.4 339.9h0M138.9 401.0h0M150.5 382.4h0M145.3 387.9h0M160.2 405.6h0M154.4 393.8h0M151.4 406.1h0M150.7 402.3h0M150.0 375.8h0M173.4 407.7h0M146.7 393.9h0M155.0 379.8h0M149.2 378.2h0M153.7 408.6h0M144.4 385.2h0M160.5 406.6h0M154.2 394.3h0M153.6 390.6h0M154.6 353.7h0M159.8 404.5h0M138.9 391.3h0M144.2 399.9h0M156.0 407.1h0M149.7 408.0h0M153.1 372.4h0M157.6 402.0h0M147.3 372.7h0M149.8 372.9h0M141.9 404.7h0M146.6 395.9h0M168.5 408.5h0M147.8 393.0h0M156.1 396.7h0M153.6 344.6h0M150.7 358.7h0M146.4 359.3h0M148.9 405.7h0M143.3 384.3h0M151.4 368.4h0M148.5 393.6h0M139.7 407.0h0M154.7 399.4h0M151.5 346.1h0M155.9 401.5h0M158.9 408.2h0M151.3 394.3h0M154.5 393.0h0M156.6 367.7h0M151.6 395.2h0M150.0 398.5h0M151.3 402.3h0M140.7 397.3h0M171.7 402.5h0M153.5 379.3h0M140.2 398.4h0M152.6 398.1h0M147.2 405.1h0M139.3 409.0h0M151.0 359.3h0M147.2 366.5h0M157.1 407.4h0M148.0 386.8h0M150.5 375.7h0M154.9 408.5h0M152.6 316.2h0M149.1 406.8h0M164.2 402.6h0M153.5 366.9h0M151.5 403.3h0M155.8 379.0h0M154.3 374.3h0M151.2 350.6h0M148.8 398.6h0M155.4 405.3h0M153.3 387.9h0M154.0 395.5h0M156.8 408.1h0M150.9 367.5h0M147.0 357.2h0M151.4 348.1h0M157.3 405.8h0M145.4 393.4h0M147.7 385.4h0M147.2 397.1h0M155.6 361.5h0M145.3 408.4h0M151.0 387.2h0M156.2 400.2h0M146.5 358.0h0M137.9 395.3h0M144.1 383.2h0M164.5 402.6h0M164.5 408.1h0M155.8 368.1h0M148.7 361.6h0M150.6 394.2h0M139.3 405.2h0M150.3 407.9h0M140.5 407.1h0M150.4 396.1h0M153.9 375.8h0M150.7 393.8h0M138.2 400.0h0M145.1 399.6h0M152.6 385.1h0M149.0 374.7h0M163.8 405.3h0M143.6 409.1h0M138.6 402.8h0M150.4 324.5h0M146.8 386.4h0M156.6 379.5h0M162.4 400.1h0M143.6 404.1h0M156.0 397.2h0M161.3 403.6h0M153.3 389.0h0M142.9 390.2h0M163.3 408.9h0M162.7 407.0h0M151.7 397.4h0M150.1 405.1h0M150.7 408.6h0M151.8 356.7h0M149.5 392.1h0M139.1 397.8h0M148.4 392.8h0M147.5 363.9h0M131.6 407.2h0M146.7 381.6h0M159.9 384.1h0M150.9 354.9h0M144.7 397.3h0M156.0 384.8h0M153.4 395.8h0M147.2 388.9h0M156.2 387.9h0M144.3 401.5h0M136.4 401.8h0M139.1 397.2h0M152.4 404.2h0M141.7 403.8h0M159.1 406.5h0M145.8 347.8h0M150.6 400.7h0M140.7 408.8h0M159.2 407.7h0M147.9 346.6h0M144.8 408.7h0M144.5 404.7h0M161.9 406.1h0M149.7 398.6h0M157.3 390.6h0M150.8 397.5h0M137.1 407.8h0M142.0 392.1h0M151.4 364.9h0M154.0 402.3h0M147.7 392.4h0M156.0 409.1h0M144.3 399.5h0M147.6 398.2h0M153.4 390.3h0M154.9 393.4h0M151.8 366.3h0M147.9 403.9h0M160.1 401.7h0M152.6 362.0h0M150.3 405.1h0M143.9 406.2h0M152.2 391.2h0M151.6 374.5h0M151.8 407.3h0M156.4 403.3h0M156.7 402.0h0M163.8 388.4h0M146.9 400.5h0M155.7 392.7h0M154.8 374.8h0M152.3 374.6h0M152.6 372.1h0M150.9 390.1h0M148.8 393.8h0M149.3 408.8h0M137.1 403.0h0M146.7 409.2h0M131.3 393.7h0M144.4 401.9h0M156.1 353.8h0M155.3 401.9h0M173.5 400.3h0M146.7 399.9h0M155.3 344.5h0M154.9 399.1h0M145.3 400.4h0M158.0 383.3h0M149.3 389.7h0M160.0 381.1h0M143.5 397.1h0M159.6 401.4h0M151.2 402.2h0M159.9 409.2h0M150.7 366.2h0M139.2 408.9h0M157.7 391.3h0M148.6 391.3h0M150.9 380.7h0M144.9 386.3h0M151.6 383.1h0M143.5 398.3h0M151.6 387.9h0M146.6 387.9h0M161.7 401.7h0M142.9 391.3h0M156.2 364.1h0M147.7 385.1h0M155.1 400.1h0M157.7 394.4h0M151.8 367.0h0M160.9 408.1h0M149.6 312.3h0M149.2 388.7h0M139.4 400.5h0M162.7 407.2h0M142.9 388.8h0M140.4 405.3h0M150.8 402.0h0M133.4 398.4h0M154.8 393.4h0M152.5 349.3h0M149.3 385.6h0M143.2 401.5h0M147.3 387.7h0M147.5 403.5h0M146.9 384.8h0M137.5 398.3h0M129.5 403.9h0M161.0 409.1h0M146.8 392.6h0M154.0 380.8h0M149.0 339.4h0M148.8 401.3h0M137.0 402.0h0M146.6 400.5h0M155.6 400.7h0M162.4 379.1h0M155.8 384.2h0M147.7 396.1h0M147.8 386.1h0M147.3 376.0h0M157.6 405.2h0M158.0 404.6h0M143.1 399.7h0M151.0 392.8h0M151.4 402.1h0M153.7 395.5h0M159.6 402.9h0M150.3 404.3h0M146.3 387.5h0M150.0 387.1h0M151.5 379.6h0M142.9 396.4h0M146.4 396.5h0M160.8 371.2h0M151.6 393.9h0M163.3 400.8h0M144.2 394.7h0M143.1 409.0h0M146.6 395.6h0M156.3 380.8h0M161.9 403.2h0M154.6 404.6h0M151.7 404.2h0M154.3 397.2h0M149.0 403.7h0M146.4 401.7h0M147.1 391.5h0M162.5 406.6h0M152.5 388.6h0M164.1 406.9h0M155.2 408.1h0M150.0 367.6h0M146.9 400.8h0M158.8 408.3h0M152.7 375.6h0M150.9 370.7h0M142.6 395.2h0M146.7 397.8h0M143.9 401.1h0M149.5 380.2h0M155.7 391.0h0M148.8 356.0h0M157.1 401.0h0M141.4 405.4h0M163.2 405.9h0M149.0 398.8h0M156.6 385.5h0M144.7 407.2h0M151.1 392.6h0M151.5 391.1h0M156.4 403.4h0M163.0 402.8h0M145.2 384.1h0M146.2 401.2h0M152.0 399.3h0M153.7 361.0h0M155.6 405.7h0M149.3 379.4h0M161.9 408.3h0M141.8 390.4h0M150.0 388.7h0M150.5 387.4h0M155.1 394.6h0M165.7 408.4h0M146.9 398.3h0M159.1 402.0h0M153.5 385.5h0M162.6 407.2h0M156.6 399.0h0M140.1 384.1h0M156.8 376.2h0M140.8 403.0h0M148.8 399.6h0M148.6 382.0h0M136.0 404.5h0M142.8 398.0h0M147.1 408.9h0M148.4 382.4h0M151.6 378.3h0M150.2 396.2h0M141.8 393.6h0M154.0 369.9h0M153.6 406.3h0M151.0 393.0h0M153.0 406.9h0M141.2 406.1h0M149.0 399.2h0M142.9 409.0h0M149.5 407.7h0M156.7 408.3h0M158.3 406.3h0M156.4 399.2h0M156.4 375.8h0M168.8 402.9h0M161.9 407.8h0M151.1 392.4h0M146.3 373.7h0M147.1 406.7h0M142.5 372.8h0M146.2 378.9h0M152.7 379.0h0M150.7 401.6h0M153.0 405.5h0M158.0 406.8h0M148.0 402.2h0M149.6 350.5h0M141.2 407.4h0M146.2 401.9h0M167.1 400.5h0M150.7 351.5h0M152.0 372.5h0M154.0 408.0h0M140.3 403.9h0M139.9 380.5h0M158.1 396.1h0M153.9 363.1h0M148.7 390.4h0M150.2 388.4h0M149.9 390.6h0M151.5 386.3h0M155.0 408.1h0M160.0 396.6h0M159.2 400.6h0M150.6 322.7h0M141.4 406.0h0M140.1 400.3h0M146.0 373.6h0M162.1 402.9h0M151.9 390.6h0M154.0 392.5h0M141.4 393.5h0M158.1 381.6h0M159.7 391.6h0M157.6 407.6h0M160.6 403.4h0M150.0 364.9h0M158.0 398.0h0M148.3 364.2h0M160.4 388.6h0M162.2 395.7h0M147.6 387.1h0M154.9 396.6h0M151.8 392.4h0M145.3 407.2h0M145.6 401.4h0M154.6 381.5h0M141.4 399.7h0M164.6 396.9h0M149.6 394.2h0M153.3 407.9h0M149.1 407.2h0M153.7 392.0h0M158.8 390.6h0M177.9 406.3h0M140.6 392.1h0M151.9 344.8h0M146.2 381.4h0M150.3 364.6h0M147.9 401.7h0M148.8 389.7h0M153.8 399.5h0M146.6 406.8h0M151.2 388.4h0M154.6 405.4h0M149.8 393.2h0M153.2 392.7h0M158.8 396.5h0M153.3 393.9h0M155.2 380.3h0M151.0 393.8h0M154.4 375.4h0M138.8 408.3h0M151.9 400.2h0M166.7 409.2h0M158.7 399.5h0M148.3 403.7h0M151.8 407.8h0M151.0 381.0h0M145.7 403.1h0M145.8 407.9h0M155.9 386.8h0M163.7 397.9h0M133.8 395.8h0M160.9 408.5h0M161.3 407.0h0M152.0 372.5h0M151.0 321.6h0M141.9 400.8h0M146.5 407.2h0M142.3 402.7h0M156.2 384.8h0M153.1 390.2h0M154.6 369.6h0M143.6 406.1h0M153.3 323.6h0M146.6 408.8h0M144.5 397.2h0M155.5 379.8h0M156.8 403.1h0M149.7 386.7h0M141.5 406.6h0M149.0 386.1h0M145.0 387.3h0M151.0 361.6h0M157.5 382.9h0M156.6 404.3h0M149.1 359.2h0M162.6 395.2h0M149.2 384.8h0M141.4 401.8h0M152.3 383.0h0M154.7 400.6h0M148.2 397.4h0M154.5 406.7h0M158.2 408.4h0M146.5 395.7h0M147.8 383.6h0M149.8 396.6h0M147.8 402.8h0M161.7 408.9h0M166.2 406.9h0M144.7 394.7h0M155.0 376.4h0M161.5 380.9h0M146.8 401.1h0M151.0 338.4h0M144.6 402.8h0M152.4 397.3h0M149.3 373.7h0M146.4 391.4h0M146.7 401.5h0M149.2 400.9h0M145.6 389.2h0M151.5 375.8h0M151.2 363.9h0M154.3 405.8h0M142.8 405.1h0M138.0 409.0h0M156.7 408.3h0M145.8 409.0h0M160.2 387.0h0M143.7 404.5h0M153.7 389.5h0M145.0 403.8h0M158.7 404.9h0M150.7 400.2h0M138.9 408.3h0M145.9 402.3h0M148.6 401.4h0M148.3 396.1h0M152.7 375.9h0M154.5 408.1h0M149.3 396.3h0M143.7 396.6h0M153.8 374.8h0M155.6 403.1h0M151.8 375.5h0M150.9 394.6h0M143.1 402.9h0M140.7 390.5h0M142.4 406.4h0M144.9 402.5h0M137.4 399.1h0M155.7 384.4h0M157.8 402.8h0M149.9 390.3h0M155.8 404.2h0M148.3 388.6h0M135.8 400.7h0M153.6 408.1h0M147.3 388.9h0M149.3 398.5h0M151.5 405.1h0M141.4 387.1h0M153.1 382.9h0M151.2 397.0h0M150.7 401.0h0M162.4 397.0h0M157.0 406.6h0M150.1 395.3h0M157.2 399.2h0M156.4 403.7h0M157.9 393.5h0M155.4 407.9h0M150.1 405.2h0M144.6 403.9h0M154.2 371.9h0M138.7 407.5h0M145.6 404.4h0M136.1 402.2h0M154.0 385.2h0M156.3 398.7h0M152.5 382.1h0M143.3 400.1h0M160.0 408.5h0M149.8 392.5h0M147.7 400.6h0M150.4 378.2h0M160.0 402.4h0M146.6 396.3h0M153.0 367.8h0M155.3 390.3h0M150.8 399.1h0M155.5 401.9h0M147.2 391.0h0M143.9 406.1h0M150.0 370.0h0M159.9 401.9h0M147.9 402.5h0M159.1 396.4h0M148.0 381.4h0M148.4 395.8h0M149.2 380.7h0M148.1 392.8h0M147.7 386.2h0M142.7 397.2h0M163.5 385.5h0M155.0 391.0h0M141.4 401.4h0M155.1 359.5h0M145.1 400.1h0M163.5 398.1h0M153.3 380.8h0M140.8 394.8h0M154.8 408.9h0M150.8 401.0h0M161.0 402.2h0M155.4 394.3h0M144.9 407.2h0M156.8 409.0h0M144.3 399.9h0M151.1 408.7h0M150.9 373.0h0M145.8 408.4h0M156.7 395.6h0M143.3 405.2h0M147.5 342.2h0M149.5 407.6h0M154.4 403.7h0M166.2 405.4h0M153.6 404.0h0M154.1 387.3h0M133.8 408.8h0M155.6 395.1h0M144.4 394.4h0M154.6 400.3h0M142.5 402.3h0M146.8 398.2h0M151.4 391.3h0M150.5 380.4h0M150.0 400.9h0M154.5 385.9h0M155.2 390.8h0M150.3 397.0h0M151.6 389.7h0M141.9 406.3h0M147.3 388.7h0M166.5 407.3h0M149.7 376.2h0M149.2 405.9h0M146.0 389.9h0M140.6 390.0h0M159.8 400.0h0M150.0 399.1h0M148.6 373.0h0M154.1 402.7h0M147.4 407.1h0M151.2 394.9h0M160.2 405.6h0M150.2 388.6h0M136.6 406.9h0M147.2 408.4h0M149.8 389.1h0M160.9 396.5h0M146.8 392.2h0M147.3 381.1h0M150.4 408.2h0M147.3 389.7h0M143.2 397.7h0M156.5 399.5h0M146.4 406.8h0M151.3 360.9h0M144.6 341.4h0M155.2 400.0h0M157.0 398.4h0M152.0 401.4h0M148.4 352.9h0M147.4 405.4h0M166.4 404.9h0M150.1 388.5h0M157.5 399.1h0M159.6 404.7h0M142.9 367.8h0M160.5 406.4h0M151.6 387.6h0M168.0 396.5h0M147.1 390.8h0M148.3 404.4h0M152.3 401.2h0M149.6 386.9h0M154.3 396.8h0M149.7 373.0h0M148.2 400.2h0M154.2 405.0h0M144.3 399.8h0M149.5 375.6h0M154.0 346.3h0M139.8 403.3h0M148.1 402.7h0M141.8 393.3h0M156.1 396.2h0M144.1 388.4h0M145.9 401.3h0M145.4 406.6h0M157.8 409.0h0M145.6 385.7h0M149.9 389.7h0M162.0 408.1h0M162.3 408.5h0M140.3 376.7h0M150.3 377.8h0M146.6 400.8h0M154.9 385.7h0M147.0 399.3h0M136.7 387.1h0M150.4 397.7h0M144.1 395.3h0M169.6 400.5h0M144.0 395.8h0M156.9 396.1h0M153.7 366.8h0M151.8 404.8h0M147.1 389.2h0M139.3 403.9h0M140.7 408.7h0M147.7 379.9h0M149.9 403.3h0M150.6 396.3h0M144.6 408.0h0M145.1 405.0h0M147.3 386.2h0M146.5 388.4h0M159.9 406.7h0M148.3 394.2h0M147.8 391.6h0M162.4 406.8h0M150.0 368.4h0M152.7 391.5h0M159.5 393.9h0M146.5 401.6h0M142.7 391.0h0M169.3 405.3h0M147.6 400.1h0M154.2 367.4h0M150.5 405.8h0M146.1 404.7h0M151.1 404.9h0M157.3 388.1h0M151.9 400.8h0M150.5 389.4h0M160.7 405.4h0M157.4 408.9h0M145.1 403.6h0M147.7 365.6h0M159.3 406.8h0M160.1 400.7h0M145.1 381.9h0M150.9 369.8h0M153.9 407.0h0M145.9 392.4h0M149.5 389.3h0M143.8 405.2h0M144.7 406.8h0M154.1 385.3h0M158.4 386.3h0M146.4 400.0h0M152.6 406.8h0M146.4 390.1h0M157.7 401.9h0M158.0 404.2h0M160.7 400.1h0M154.5 406.6h0M147.3 405.0h0M136.0 406.5h0M144.3 408.7h0M148.7 367.8h0M138.3 400.4h0M155.2 400.0h0M152.5 376.5h0M163.2 403.8h0M146.7 368.7h0M135.2 406.8h0M157.7 403.2h0M161.1 404.7h0M151.7 396.4h0M150.1 405.4h0M163.5 406.2h0M154.0 384.5h0M143.7 407.0h0M150.0 395.7h0M153.0 389.4h0M150.2 396.1h0M154.4 388.6h0M147.8 369.4h0M160.0 405.2h0M145.9 399.2h0M148.5 394.3h0M153.7 396.7h0M151.7 400.6h0M138.9 406.6h0M148.7 393.5h0M145.5 374.5h0M140.5 407.2h0M155.6 376.2h0M148.4 381.1h0M147.6 396.4h0M152.3 398.7h0M153.6 389.2h0M138.2 397.5h0M150.3 362.8h0M151.8 400.3h0M151.4 396.7h0M143.3 408.8h0M154.2 388.7h0M161.5 395.8h0M134.9 406.9h0M148.9 405.1h0M152.6 359.3h0M151.9 394.8h0M141.5 391.1h0M138.9 405.6h0" stroke="#858585" stroke-width="1.2" stroke-linecap="round" fill="none"/>
<path d="M141.6 408.4h0M149.3 401.1h0M155.1 401.1h0M148.0 390.4h0M148.1 395.8h0M168.7 404.5h0M155.1 403.5h0M158.1 390.3h0M158.1 401.9h0M157.7 402.6h0M150.6 396.4h0M150.4 408.5h0M152.0 381.9h0M148.1 405.2h0M153.7 400.3h0M148.2 359.1h0M153.6 407.7h0M149.7 394.5h0M149.5 352.1h0M134.5 402.3h0M153.1 359.5h0M148.7 385.6h0M151.6 369.3h0M155.2 385.7h0M156.2 395.6h0M147.3 399.7h0M148.0 406.3h0M167.4 404.4h0M152.4 372.9h0M141.1 403.5h0M165.5 409.2h0M155.1 358.2h0M149.3 356.7h0M166.5 399.9h0M162.2 401.9h0M145.7 391.0h0M154.8 403.8h0M154.1 404.3h0M143.9 405.8h0M147.6 405.3h0M150.6 375.7h0M151.4 409.0h0M158.3 396.4h0M153.3 408.8h0M144.8 399.1h0M143.5 405.3h0M158.4 380.0h0M149.6 366.2h0M148.1 352.2h0M157.3 400.7h0M152.4 384.5h0M155.0 399.6h0M156.2 396.6h0M150.3 409.1h0M153.1 401.3h0M148.9 397.5h0M153.5 394.6h0M146.6 394.2h0M155.2 360.4h0M149.1 402.6h0M149.8 392.4h0M143.1 391.2h0M149.4 401.4h0M143.1 405.0h0M145.2 407.5h0M149.2 403.9h0M145.1 403.5h0M153.2 350.4h0M144.9 397.2h0M149.0 396.5h0M145.7 382.3h0M149.5 402.3h0M151.7 405.9h0M154.2 403.8h0M139.3 408.5h0M157.1 407.3h0M144.6 386.6h0M153.7 400.2h0M149.8 383.9h0M148.1 396.5h0M150.6 404.3h0M142.6 405.1h0M156.0 408.7h0M150.4 404.6h0M154.4 366.5h0M153.0 400.1h0M153.6 391.0h0M130.2 403.1h0M151.0 407.8h0M151.6 404.2h0M152.8 393.7h0M148.5 404.2h0M147.4 374.0h0M145.6 408.0h0M153.6 408.3h0M164.4 408.2h0M151.0 398.0h0M150.3 403.8h0M142.0 400.7h0M145.5 391.0h0M145.8 400.1h0M158.7 399.3h0M146.0 366.8h0M149.5 391.7h0M141.3 398.7h0M151.2 394.6h0M129.5 403.4h0M151.2 382.2h0M149.6 396.3h0M154.9 400.6h0M146.0 400.3h0M152.9 398.7h0M157.6 395.6h0M155.1 389.4h0M150.8 405.7h0M152.6 399.0h0M145.0 391.2h0M154.7 394.3h0M162.2 408.5h0M152.3 367.8h0M147.2 389.6h0M153.2 406.9h0M151.3 392.6h0M141.0 407.8h0M147.1 404.0h0M139.0 401.0h0M150.1 374.3h0M152.0 405.5h0M150.3 373.9h0M147.5 403.8h0M149.2 401.2h0M150.9 368.4h0M150.7 397.1h0M152.3 395.7h0M149.4 366.0h0M143.0 376.1h0M155.0 391.7h0M152.5 395.3h0M151.3 400.6h0M152.3 377.1h0M149.0 391.6h0M155.1 376.2h0M146.1 406.7h0M148.8 371.6h0M154.9 383.4h0M148.8 397.9h0M139.4 403.0h0M157.3 353.3h0M153.1 326.8h0M147.5 391.9h0M143.1 371.0h0M155.0 383.7h0M143.0 403.9h0M161.6 406.3h0M152.2 404.5h0M152.5 371.0h0M151.5 312.8h0M145.8 387.3h0M145.1 390.6h0M154.9 407.0h0M146.4 404.8h0M154.9 392.0h0M152.1 404.8h0M159.9 384.8h0M151.2 366.1h0M146.6 398.5h0M151.9 380.5h0M146.4 398.7h0M155.0 395.0h0M151.0 387.5h0M144.4 391.6h0M153.4 397.2h0M161.5 402.4h0M154.6 385.5h0M152.4 400.1h0M141.4 390.4h0M152.0 382.8h0M150.6 363.6h0M152.7 399.6h0M135.2 407.5h0M158.7 395.1h0M157.3 402.6h0M148.9 401.6h0M160.4 392.8h0M150.5 403.5h0M148.0 383.3h0M151.6 394.4h0M146.8 341.4h0M144.3 390.2h0M152.6 395.8h0M145.8 403.8h0M158.0 381.9h0M149.3 355.5h0M143.0 401.2h0M143.8 389.7h0M141.7 387.2h0M150.4 401.5h0M152.1 384.9h0M149.0 400.3h0M152.1 398.3h0M149.7 372.6h0M158.3 386.4h0M147.5 391.9h0M148.6 391.2h0M157.5 395.1h0M148.9 402.2h0M148.3 371.3h0M147.4 392.4h0M158.0 406.6h0M163.5 399.2h0M151.9 383.3h0M160.1 404.9h0M147.2 383.3h0M146.7 401.4h0M154.1 405.4h0M162.4 403.2h0M142.8 407.4h0M152.8 338.3h0M135.0 401.4h0M158.2 388.8h0M147.0 399.4h0M154.7 406.6h0M148.8 399.0h0M148.4 398.8h0M144.2 406.2h0M148.0 391.7h0M147.2 384.8h0M156.3 407.9h0M139.4 405.4h0M139.1 406.8h0M153.4 349.4h0M147.8 396.8h0M148.5 391.3h0M154.9 388.7h0M143.1 398.6h0M155.5 407.2h0M149.7 399.0h0M154.4 397.3h0M145.0 389.8h0M149.8 391.5h0M155.6 400.4h0M150.0 409.1h0M148.9 395.8h0M144.2 401.1h0M151.4 402.5h0M158.0 377.4h0M142.5 404.0h0M146.7 406.9h0M136.5 388.0h0M148.5 370.7h0M150.7 371.8h0M152.9 382.6h0M148.5 407.4h0M148.0 389.7h0M168.1 408.3h0M157.3 397.6h0M162.4 399.6h0M148.2 405.1h0M146.7 389.6h0M156.5 403.2h0M148.6 405.1h0M157.5 405.9h0M147.1 376.1h0M154.6 382.5h0M157.8 391.1h0M158.3 366.2h0M147.0 379.9h0M159.6 392.8h0M139.3 408.7h0M157.3 396.6h0M152.5 362.0h0M145.1 346.4h0M151.2 402.5h0M150.6 383.6h0M140.2 407.7h0M150.8 408.0h0M151.7 393.0h0M145.0 404.7h0M149.9 385.6h0M150.5 403.3h0M150.3 363.2h0M156.3 399.6h0M152.2 374.4h0M146.0 391.7h0M160.0 408.8h0M152.9 393.1h0M168.4 406.8h0M155.4 405.9h0M154.3 408.3h0M152.5 403.8h0M148.2 395.4h0M146.6 397.6h0M147.6 402.7h0M149.5 393.5h0M157.2 409.2h0M148.9 396.3h0M144.3 405.9h0M152.2 392.8h0M157.6 385.0h0M135.9 399.5h0M147.9 396.4h0M155.0 397.8h0M155.8 351.3h0M155.2 403.0h0M149.9 394.6h0M160.9 398.2h0M150.1 403.3h0M151.1 407.5h0M154.1 371.1h0M153.4 391.5h0M157.1 408.6h0M149.8 356.7h0M142.8 400.1h0M143.9 407.7h0M150.8 397.9h0M142.4 388.0h0M154.4 390.9h0M155.4 397.8h0M151.3 408.5h0M148.1 395.9h0M161.3 404.2h0M162.4 393.7h0M146.0 388.1h0M147.6 376.2h0M145.7 408.2h0M153.5 394.7h0M155.4 401.2h0M148.0 404.2h0M150.1 369.3h0M143.2 401.7h0M155.3 388.0h0M161.8 405.1h0M159.4 382.9h0M154.8 377.5h0M163.1 408.8h0M158.8 381.8h0M154.1 403.7h0M140.3 404.7h0M148.4 390.6h0M152.0 378.7h0M151.0 389.0h0M156.2 390.8h0M150.4 401.8h0M155.1 361.1h0M150.7 407.6h0M154.2 342.3h0M154.4 330.7h0M151.5 406.8h0M157.6 405.5h0M153.0 328.5h0M146.0 355.2h0M158.8 390.5h0M157.2 408.0h0M149.3 347.7h0M159.9 406.9h0M146.4 397.6h0M135.8 406.0h0M151.5 396.2h0M144.3 346.4h0M146.4 406.9h0M142.8 387.8h0M141.5 402.6h0M152.8 399.3h0M145.6 401.8h0M147.9 379.2h0M141.1 408.9h0M147.9 386.1h0M153.5 401.4h0M159.8 406.8h0M145.8 355.2h0M153.6 391.3h0M152.7 322.4h0M147.5 409.2h0M155.1 406.2h0M148.6 404.1h0M149.8 376.9h0M152.3 400.2h0M153.3 397.3h0M147.2 402.3h0M150.8 402.2h0M157.2 397.9h0M153.3 379.8h0M156.3 394.9h0M160.9 407.8h0M162.2 406.7h0M151.5 406.1h0M163.3 404.0h0M164.3 406.7h0M152.7 391.2h0M144.9 395.2h0M155.7 402.7h0M137.2 407.9h0M154.4 389.7h0M158.7 406.0h0M144.9 398.6h0M140.4 402.9h0M129.5 408.3h0M154.9 396.4h0M151.6 393.7h0M145.8 361.6h0M150.3 359.7h0M134.0 406.8h0M148.2 404.3h0M145.6 377.5h0M149.4 385.4h0M153.6 392.0h0M143.1 407.3h0M151.0 401.0h0M145.9 392.2h0M140.4 408.2h0M148.4 373.3h0M139.2 394.0h0M157.5 392.6h0M145.0 393.1h0M166.9 408.5h0M151.8 379.2h0M152.7 401.4h0M155.2 379.8h0M152.9 386.7h0M155.1 405.5h0M150.7 387.3h0M165.5 400.7h0M146.6 405.8h0M151.9 375.4h0M142.0 408.8h0M155.8 408.6h0M167.8 405.2h0M149.9 400.5h0M157.4 376.2h0M145.6 388.5h0M141.5 395.8h0M150.2 394.5h0M153.7 351.3h0M159.8 386.7h0M154.0 399.9h0M146.0 401.3h0M155.0 395.4h0M150.2 379.1h0M154.7 392.1h0M148.7 391.8h0M155.3 374.1h0M146.5 379.9h0M147.5 393.1h0M149.5 397.5h0M151.7 348.9h0M150.0 403.4h0M153.7 404.8h0M148.4 386.0h0M138.2 405.7h0M172.2 407.1h0M149.3 395.3h0M167.3 408.1h0M150.2 391.1h0M170.1 402.8h0M162.8 391.5h0M153.1 393.1h0M150.7 369.9h0M149.1 387.4h0M155.5 401.5h0M161.2 391.8h0M160.6 402.3h0M157.1 408.2h0M155.7 404.8h0M151.7 387.2h0M157.4 404.2h0M150.5 383.5h0M146.8 387.9h0M140.8 406.8h0M155.4 381.0h0M145.7 405.9h0M149.8 407.8h0M171.6 403.1h0M148.7 403.9h0M150.6 384.3h0M150.4 385.0h0M151.7 372.4h0M151.1 382.7h0M148.4 359.9h0M165.6 392.8h0M153.6 390.0h0M160.1 405.9h0M146.2 393.0h0M155.0 408.7h0M168.9 409.0h0M161.4 405.8h0M156.0 406.8h0M143.3 384.7h0M152.8 370.1h0M151.9 352.1h0M154.7 383.9h0M157.2 402.7h0M148.9 393.4h0M149.7 404.5h0M145.2 400.4h0M152.1 388.7h0M146.4 406.2h0M152.2 405.4h0M143.6 389.0h0M151.3 382.8h0M163.1 409.1h0M146.1 402.3h0M148.8 383.8h0M138.5 405.4h0M155.4 405.2h0M149.5 391.8h0M152.6 407.4h0M154.3 392.3h0M145.3 377.4h0M152.6 391.7h0M140.2 394.7h0M153.2 397.1h0M156.9 407.8h0M144.6 407.3h0M153.9 396.0h0M149.7 381.0h0M159.7 380.5h0M145.8 405.8h0M147.3 408.1h0M151.1 405.2h0M152.0 408.8h0M156.6 382.9h0M136.0 408.0h0M157.1 408.8h0M145.1 402.4h0M146.4 389.9h0M149.2 406.6h0M145.9 407.2h0M129.2 408.6h0M144.1 405.2h0M150.0 398.5h0M150.5 398.1h0M154.3 400.5h0M154.3 382.5h0M154.9 382.6h0M143.2 395.7h0M159.3 384.9h0M150.2 316.7h0M158.1 399.6h0M146.9 379.8h0M145.4 397.6h0M149.5 373.8h0M154.6 406.1h0M169.8 404.7h0M160.0 396.2h0M145.7 383.6h0M153.7 405.1h0M147.3 373.8h0M153.1 387.5h0M155.4 376.7h0M150.7 400.4h0M148.3 381.2h0M152.8 398.8h0M150.2 403.4h0M163.7 402.3h0M149.9 393.5h0M152.9 384.9h0M149.1 385.3h0M138.9 406.1h0M156.3 398.1h0M142.2 394.9h0M151.7 393.2h0M152.0 379.3h0M150.6 408.9h0M155.8 389.9h0M158.5 390.1h0M136.8 404.1h0M156.2 404.6h0M156.8 407.5h0M147.3 357.2h0M145.5 408.3h0M151.0 370.3h0M165.8 405.5h0M157.4 404.2h0M158.4 403.8h0M149.9 395.6h0M144.2 406.9h0M145.3 397.6h0M155.5 401.8h0M161.3 406.3h0M156.9 393.1h0M146.9 390.6h0M142.7 405.7h0M146.7 369.9h0M148.9 404.4h0M158.2 401.6h0M150.3 383.1h0M144.7 407.1h0M146.9 404.9h0M141.8 403.4h0M156.9 400.8h0M155.3 377.6h0M161.9 400.0h0M148.1 384.0h0M152.6 373.2h0M149.7 393.0h0M144.9 389.4h0M150.3 359.0h0M131.0 402.3h0M162.0 403.5h0M145.8 374.1h0M136.6 400.1h0M161.8 405.6h0M154.4 406.3h0M156.0 400.5h0M148.9 401.5h0M151.3 402.5h0M157.6 397.8h0M152.3 371.5h0M160.7 392.3h0M146.6 398.3h0M163.5 408.9h0M152.8 379.6h0M159.5 402.8h0M158.3 396.8h0M156.6 399.1h0M156.1 395.6h0M152.4 389.4h0M149.8 380.8h0M144.7 403.0h0M152.8 382.8h0M157.7 399.9h0M155.3 406.6h0M160.5 408.9h0M152.9 399.6h0M165.7 409.2h0M160.6 396.6h0M143.4 346.5h0M147.5 390.4h0M154.7 401.4h0M151.6 384.1h0M149.9 391.8h0M153.9 392.9h0M150.9 366.7h0M171.5 397.0h0M156.5 405.5h0M156.1 367.1h0M151.2 405.6h0M155.6 405.5h0M145.3 405.1h0M152.7 391.8h0M149.9 404.8h0M160.2 406.2h0M151.6 408.4h0M151.1 391.3h0M129.7 408.4h0M152.3 394.0h0M144.0 403.4h0M155.5 403.0h0M153.9 408.3h0M154.8 405.5h0M159.3 402.8h0M158.1 405.6h0M148.2 397.8h0M145.6 387.6h0M147.9 385.0h0M153.1 408.5h0M148.0 390.3h0M156.8 407.8h0M158.7 406.0h0M147.9 379.1h0M150.8 379.4h0M153.6 374.4h0M134.6 404.9h0M141.8 399.2h0M164.1 400.4h0M148.9 367.3h0M151.1 389.6h0M154.0 408.9h0M143.4 368.2h0M148.9 358.6h0M157.4 404.9h0M149.5 406.0h0M170.1 404.1h0M150.3 402.2h0M156.0 398.7h0M144.5 372.8h0M151.8 402.0h0M155.1 365.7h0M153.3 394.0h0M147.8 397.9h0M144.8 369.4h0M147.5 382.8h0M146.9 399.8h0M141.1 399.9h0M155.5 397.5h0M145.3 340.1h0M146.6 401.9h0M146.1 378.7h0M144.5 404.8h0M151.5 383.2h0M153.2 389.4h0M151.0 406.8h0M151.6 394.9h0M141.9 407.9h0M146.2 395.1h0M145.1 404.1h0M152.3 402.4h0M164.0 401.5h0M147.4 389.2h0M149.0 404.0h0M158.3 391.4h0M135.3 406.5h0M155.1 404.4h0M153.5 401.4h0M156.4 388.9h0M144.6 406.7h0M154.5 401.6h0M154.5 395.5h0M153.2 398.1h0M153.6 373.0h0M147.0 393.3h0M146.6 403.5h0M157.5 386.3h0M151.3 359.1h0M152.1 393.1h0M151.1 384.6h0M139.4 405.9h0M154.3 391.2h0M143.5 403.8h0M137.5 399.1h0M145.1 401.1h0M141.4 390.6h0M152.6 367.2h0M130.3 404.6h0M151.4 391.3h0M154.5 402.5h0M150.0 362.6h0M153.8 367.4h0M150.9 345.0h0M146.8 381.5h0M154.4 408.1h0M151.0 402.7h0M156.6 404.8h0M147.3 378.7h0M146.7 398.5h0M157.5 408.4h0M167.8 399.5h0M147.8 366.3h0M133.6 407.6h0M157.0 406.5h0M151.9 408.1h0M152.7 387.6h0M152.4 389.3h0M150.7 389.8h0M151.6 384.0h0M151.9 346.7h0M153.4 384.2h0M152.2 392.0h0M146.1 406.2h0M153.0 407.7h0M138.7 398.6h0M145.4 409.1h0M159.3 402.2h0M155.8 406.3h0M161.7 402.8h0M149.4 391.5h0M153.3 394.3h0M155.5 353.0h0M155.6 407.7h0M144.0 405.6h0M152.7 392.2h0M146.5 405.7h0M152.9 398.1h0M153.9 335.4h0M144.5 408.8h0M153.5 406.3h0M156.9 395.0h0M148.6 396.1h0M159.0 390.0h0M135.4 402.7h0M161.4 406.1h0M148.1 374.9h0M151.9 406.7h0M146.2 406.9h0M144.4 407.1h0M154.9 392.1h0M146.5 364.8h0M154.8 400.7h0M150.7 401.5h0M151.6 404.5h0M153.0 388.7h0M141.0 399.9h0M152.8 400.7h0M151.8 311.5h0M145.0 395.0h0M155.3 398.3h0M143.4 403.6h0M152.8 372.6h0M149.8 373.7h0M160.0 405.2h0M153.4 360.4h0M159.9 409.0h0M149.7 399.3h0M151.2 406.6h0M145.5 398.1h0M152.2 408.3h0M148.7 402.9h0M153.0 394.6h0M137.5 405.2h0M147.5 409.0h0" stroke="#858585" stroke-width="1.2" stroke-linecap="round" fill="none"/>
<path d="M142.0 398.2h0M142.7 390.4h0M149.2 380.1h0M148.2 382.3h0M140.3 386.6h0M152.7 408.4h0M147.8 371.0h0M155.1 383.7h0M149.2 406.3h0M150.8 408.6h0M151.5 359.2h0M160.6 407.1h0M143.6 366.2h0M150.1 404.1h0M151.0 399.2h0M157.4 389.6h0M146.5 395.6h0M149.3 360.5h0M158.5 408.9h0M154.9 351.5h0M151.0 379.1h0M166.8 399.4h0M145.9 395.7h0M146.4 375.3h0M147.5 372.6h0M165.8 403.1h0M154.8 390.8h0M160.2 403.5h0M149.6 325.8h0M147.9 356.9h0M150.5 407.2h0M135.7 408.9h0M171.3 399.3h0M177.7 407.5h0M148.1 393.1h0M150.3 365.6h0M147.5 395.5h0M145.9 406.5h0M155.8 402.9h0M151.7 398.2h0M151.1 401.3h0M146.0 405.5h0M148.7 397.4h0M143.8 405.5h0M144.8 407.1h0M154.1 383.7h0M143.3 404.8h0M162.9 405.5h0M173.2 408.6h0M147.8 403.1h0M145.4 403.9h0M151.6 384.5h0M149.9 374.6h0M146.7 379.9h0M153.0 365.1h0M163.1 406.2h0M151.6 340.7h0M146.1 387.6h0M159.6 403.6h0M155.4 407.9h0M156.1 399.4h0M142.2 404.3h0M141.1 405.4h0M149.2 371.8h0M141.2 406.2h0M152.5 401.6h0M142.5 405.9h0M158.2 405.7h0M132.7 403.0h0M148.2 398.7h0M159.7 402.4h0M152.8 402.5h0M137.8 407.2h0M152.5 402.3h0M149.6 387.9h0M148.1 408.4h0M144.6 397.3h0M144.1 405.0h0M149.3 402.4h0M144.8 397.2h0M144.1 405.1h0M142.0 409.2h0M155.3 386.7h0M140.8 363.6h0M147.0 389.8h0M151.6 389.7h0M149.3 400.5h0M153.3 394.3h0M151.1 389.4h0M145.8 405.5h0M158.5 393.0h0M156.4 367.2h0M150.3 393.3h0M156.7 385.9h0M144.8 402.4h0M146.6 370.9h0M148.0 385.3h0M146.5 373.9h0M149.0 394.4h0M143.1 407.4h0M153.5 396.1h0M173.2 405.2h0M149.5 373.0h0M154.1 395.4h0M161.5 403.0h0M150.3 407.5h0M157.8 403.3h0M155.4 397.2h0M146.9 403.1h0M146.7 381.8h0M150.3 391.0h0M170.2 408.7h0M171.3 404.9h0M153.4 396.9h0M152.6 379.7h0M150.7 372.4h0M145.2 408.9h0M138.6 401.4h0M151.3 373.9h0M141.4 403.9h0M160.9 406.4h0M154.3 397.3h0M147.3 405.9h0M150.2 403.4h0M154.5 391.5h0M160.1 406.9h0M153.0 375.0h0M159.2 369.1h0M149.8 355.7h0M165.5 408.0h0M150.5 352.0h0M148.4 406.8h0M137.7 407.4h0M159.4 384.3h0M151.2 402.9h0M150.0 396.6h0M165.1 401.3h0M156.2 392.1h0M148.9 322.1h0M140.7 407.0h0M157.4 398.9h0M146.7 392.9h0M150.2 399.3h0M151.8 405.3h0M153.3 405.9h0M151.6 386.7h0M149.5 323.0h0M135.3 405.4h0M144.9 378.9h0M162.1 404.9h0M145.2 403.5h0M149.8 404.4h0M154.2 388.4h0M136.2 392.2h0M141.0 402.3h0M152.3 394.8h0M142.1 369.3h0M144.0 398.8h0M156.7 399.7h0M151.8 398.7h0M146.0 409.0h0M152.3 404.2h0M152.5 374.7h0M149.4 395.0h0M155.9 398.5h0M152.5 397.0h0M148.5 400.3h0M149.9 394.0h0M153.5 394.1h0M155.2 365.7h0M147.3 373.7h0M147.0 387.0h0M149.1 399.5h0M145.3 396.2h0M145.2 388.0h0M145.8 401.4h0M146.2 402.3h0M144.7 399.9h0M148.2 401.6h0M156.2 375.5h0M144.4 405.7h0M145.5 393.0h0M150.2 391.8h0M151.4 402.0h0M141.1 397.4h0M142.1 392.1h0M145.3 392.3h0M164.3 407.0h0M146.5 374.6h0M151.2 390.4h0M153.9 396.7h0M150.7 408.1h0M151.4 394.7h0M155.1 397.1h0M147.0 403.7h0M155.3 404.6h0M165.9 406.9h0M149.0 402.1h0M170.7 407.4h0M147.7 407.6h0M139.7 376.7h0M144.6 399.9h0M159.7 400.1h0M151.4 404.8h0M152.1 375.1h0M166.4 402.7h0M148.5 382.9h0M137.7 395.5h0M150.4 402.1h0M157.8 407.5h0M144.8 403.5h0M168.7 409.1h0M147.1 398.0h0M150.7 390.3h0M150.6 405.5h0M148.4 375.5h0M154.5 403.2h0M153.6 405.5h0M141.0 406.9h0M168.7 401.7h0M150.9 401.2h0M147.0 407.7h0M149.6 376.6h0M155.7 406.0h0M155.5 387.4h0M150.1 389.3h0M152.4 399.3h0M157.1 402.6h0M151.8 404.6h0M147.8 401.4h0M162.8 388.0h0M153.7 393.9h0M152.1 392.3h0M153.4 379.5h0M156.6 350.0h0M152.3 405.6h0M147.2 407.9h0M149.7 379.8h0M150.3 379.5h0M154.2 397.7h0M157.9 387.1h0M154.3 407.1h0M152.3 401.6h0M153.0 397.0h0M165.3 403.5h0M145.3 388.5h0M147.4 397.7h0M146.1 399.1h0M145.1 396.5h0M152.9 378.6h0M150.3 337.0h0M135.3 403.4h0M152.8 408.0h0M156.1 386.1h0M157.9 388.0h0M143.8 403.5h0M141.8 408.3h0M151.2 376.6h0M144.4 371.4h0M148.8 388.4h0M136.5 397.5h0M154.7 383.6h0M154.1 395.7h0M150.6 385.7h0M149.4 396.4h0M153.5 395.3h0M154.7 376.7h0M156.3 339.9h0M141.2 405.7h0M148.0 402.7h0M148.3 407.2h0M160.7 379.9h0M146.7 360.8h0M150.9 408.2h0M131.8 400.3h0M135.3 408.1h0M164.2 392.1h0M157.6 405.6h0M148.5 390.3h0M147.4 399.3h0M153.8 400.4h0M159.9 408.2h0M156.9 389.5h0M149.2 401.0h0M157.1 397.6h0M157.3 390.4h0M147.3 407.4h0M152.6 389.9h0M153.4 409.0h0M149.7 380.3h0M137.1 405.8h0M149.8 364.5h0M154.4 375.9h0M159.7 400.2h0M130.0 406.3h0M156.6 408.9h0M140.9 390.0h0M147.3 398.9h0M153.2 404.6h0M148.9 390.5h0M155.4 403.6h0M151.6 378.8h0M155.3 406.5h0M149.8 367.1h0M144.1 408.3h0M144.9 394.7h0M152.5 367.7h0M169.1 395.7h0M150.7 382.7h0M167.4 388.8h0M153.5 399.0h0M162.7 396.1h0M154.2 336.4h0M145.4 388.7h0M157.7 406.3h0M137.3 407.6h0M156.4 408.1h0M152.7 386.1h0M149.3 385.9h0M147.5 364.7h0M152.2 406.6h0M159.6 404.4h0M154.8 387.9h0M139.8 402.9h0M147.9 395.3h0M157.9 397.1h0M160.3 406.5h0M144.0 385.1h0M152.4 407.7h0M158.0 382.8h0M156.1 393.8h0M147.1 405.1h0M148.8 398.9h0M155.0 384.8h0M148.4 402.9h0M137.2 408.8h0M156.9 397.8h0M146.4 378.7h0M152.3 392.9h0M150.7 400.3h0M151.1 405.7h0M146.5 391.7h0M158.0 392.2h0M151.9 402.8h0M143.6 404.5h0M141.1 405.4h0M152.3 389.3h0M151.4 374.2h0M162.1 367.0h0M145.8 387.6h0M143.7 395.7h0M150.0 363.2h0M148.7 354.7h0M152.4 396.9h0M156.5 400.4h0M139.2 393.7h0M145.8 407.8h0M150.1 396.9h0M148.6 381.9h0M141.7 406.4h0M153.7 366.4h0M142.3 408.3h0M146.6 391.1h0M155.1 401.6h0M158.3 404.1h0M157.7 397.5h0M150.8 400.2h0M140.0 406.4h0M139.5 404.2h0M147.9 393.1h0M145.8 387.3h0M158.4 395.2h0M159.0 404.5h0M154.9 379.1h0M153.4 361.0h0M141.1 394.9h0M146.0 404.7h0M166.3 404.1h0M149.6 398.6h0M150.2 407.3h0M155.2 405.6h0M134.3 407.7h0M156.3 406.4h0M150.6 383.5h0M157.3 395.1h0M139.4 407.6h0M150.5 385.7h0M149.8 363.6h0M141.3 403.7h0M152.4 396.2h0M161.3 395.7h0M155.6 397.3h0M144.5 407.5h0M150.7 400.2h0M150.9 388.9h0M146.0 403.8h0M149.3 353.9h0M148.2 394.1h0M161.7 404.6h0M157.1 407.3h0M140.2 406.8h0M127.4 408.1h0M151.8 387.1h0M153.6 408.9h0M148.1 408.9h0M128.1 409.0h0M159.8 406.6h0M153.1 403.0h0M152.5 405.8h0M148.5 393.2h0M148.0 406.7h0M147.0 405.7h0M150.5 337.0h0M156.5 391.9h0M157.4 396.5h0M155.8 390.8h0M142.8 395.2h0M163.1 408.2h0M137.9 396.6h0M148.1 385.0h0M142.4 404.8h0M157.4 401.5h0M161.8 408.2h0M150.3 406.8h0M170.9 406.5h0M152.7 406.8h0M160.2 395.9h0M147.5 394.9h0M144.1 403.8h0M136.8 405.5h0M141.0 405.0h0M153.6 373.9h0M149.8 394.9h0M165.5 406.6h0M163.4 407.4h0M151.2 395.4h0M146.8 399.2h0M148.9 405.4h0M145.3 395.1h0M153.3 369.8h0M150.7 399.1h0M148.5 398.4h0M152.9 408.3h0M155.2 401.4h0M157.9 406.4h0M148.1 403.4h0M139.0 408.0h0M158.5 396.6h0M146.7 373.3h0M144.1 400.3h0M148.6 380.3h0M152.3 405.1h0M153.4 383.7h0M152.0 393.4h0M143.6 390.8h0M153.0 400.5h0M156.5 394.9h0M151.6 350.9h0M146.4 395.5h0M154.5 349.4h0M140.2 399.2h0M154.6 378.8h0M147.3 405.1h0M145.3 402.2h0M144.5 383.2h0M161.6 398.5h0M153.6 376.9h0M158.4 408.6h0M154.4 378.0h0M145.9 399.2h0M148.7 352.9h0M156.0 406.8h0M152.3 369.0h0M145.2 388.3h0M149.8 380.3h0M148.6 392.5h0M146.6 376.3h0M151.7 392.7h0M152.9 405.8h0M154.5 329.0h0M145.0 407.3h0M140.4 408.6h0M146.1 406.4h0M164.3 406.9h0M141.9 401.7h0M148.4 321.8h0M152.7 380.1h0M157.5 394.3h0M146.0 396.3h0M146.0 404.9h0M156.3 391.6h0M145.1 392.0h0M150.7 358.6h0M156.4 381.1h0M157.1 392.3h0M150.8 382.0h0M131.2 405.6h0M162.6 399.5h0M141.2 396.7h0M143.3 399.5h0M149.7 372.6h0M145.4 393.9h0M159.4 403.5h0M154.5 408.4h0M162.4 403.5h0M131.3 405.7h0M144.8 406.3h0M158.9 406.8h0M153.8 382.9h0M159.3 404.1h0M155.4 392.6h0M154.0 379.1h0M152.2 408.9h0M152.3 380.3h0M151.3 391.4h0M170.1 406.2h0M149.7 398.5h0M137.4 408.1h0M160.7 408.4h0M159.3 372.5h0M161.5 403.5h0M154.5 405.7h0M156.7 373.6h0M146.9 385.2h0M153.0 385.1h0M146.7 388.7h0M146.9 409.0h0M147.8 342.8h0M144.1 384.6h0M153.4 395.1h0M154.7 393.8h0M151.1 404.4h0M156.8 389.8h0M147.5 386.5h0M153.3 393.0h0M154.3 395.3h0M144.5 386.8h0M156.5 402.7h0M154.7 403.2h0M156.0 395.3h0M151.9 407.3h0M150.5 388.2h0M156.5 402.4h0M147.6 408.8h0M144.1 390.4h0M157.4 391.6h0M145.4 399.9h0M141.0 402.8h0M144.3 405.7h0M140.0 408.4h0M147.2 406.4h0M151.9 397.3h0M147.4 401.2h0M158.4 387.8h0M125.2 408.1h0M140.8 394.3h0M151.0 342.1h0M156.2 402.9h0M154.3 404.9h0M154.9 398.1h0M151.0 382.5h0M149.5 385.9h0M150.7 392.9h0M151.3 377.8h0M150.6 406.9h0M154.6 383.7h0M156.8 362.7h0M146.7 379.3h0M155.3 399.0h0M153.2 406.8h0M156.3 407.2h0M157.4 408.4h0M154.4 403.6h0M147.1 397.8h0M157.4 378.8h0M151.7 396.7h0M165.0 408.7h0M139.9 407.5h0M146.5 357.2h0M145.1 405.4h0M146.3 408.7h0M137.2 406.0h0M142.9 408.6h0M147.9 402.4h0M148.9 376.8h0M149.8 390.0h0M139.9 388.8h0M144.1 398.9h0M155.0 392.4h0M153.1 403.5h0M147.4 400.2h0M150.6 390.4h0M150.6 408.3h0M164.6 408.8h0M155.3 402.8h0M139.8 401.7h0M150.8 406.3h0M130.9 407.8h0M140.6 400.5h0M146.8 405.6h0M144.9 381.6h0M146.8 361.9h0M148.8 390.8h0M144.8 404.1h0M154.5 401.7h0M140.7 404.0h0M140.2 371.9h0M149.3 392.3h0M142.5 388.0h0M167.4 398.7h0M145.7 391.3h0M157.0 406.1h0M140.4 401.8h0M158.6 406.4h0M144.6 405.7h0M147.3 375.0h0M132.4 408.9h0M153.9 386.7h0M143.3 402.2h0M149.7 409.1h0M153.5 407.8h0M168.6 405.8h0M139.2 403.8h0M147.9 392.5h0M150.1 403.3h0M151.4 383.9h0M149.5 401.6h0M155.0 398.3h0M148.8 406.6h0M154.5 405.8h0M149.4 397.2h0M152.5 376.3h0M143.7 408.2h0M155.2 408.2h0M139.5 403.6h0M155.4 404.4h0M159.2 401.6h0M145.2 399.8h0M155.2 405.4h0M131.8 404.8h0M147.5 378.8h0M159.2 408.8h0M151.1 404.8h0M153.7 381.2h0M148.2 361.0h0M163.7 403.5h0M155.1 395.3h0M163.6 397.6h0M152.7 394.9h0M143.3 398.4h0M144.5 389.3h0M152.5 403.5h0M154.9 406.6h0M165.7 394.9h0M156.1 408.9h0M158.4 397.7h0M151.7 337.0h0M149.8 383.0h0M150.6 343.9h0M132.9 401.5h0M147.0 393.3h0M142.8 389.0h0M146.8 381.7h0M159.4 394.7h0M148.7 357.2h0M155.9 377.6h0M150.0 386.4h0M145.9 406.5h0M149.6 403.1h0M149.7 392.0h0M153.5 407.2h0M155.3 396.5h0M154.1 388.9h0M148.5 407.8h0M143.1 378.0h0M144.9 389.1h0M146.5 407.0h0M154.4 399.6h0M161.8 403.8h0M136.4 405.8h0M145.6 356.7h0M155.6 362.5h0M146.4 388.0h0M155.7 385.9h0M147.6 402.6h0M151.4 406.5h0M148.3 383.8h0M160.8 400.2h0M150.3 389.3h0M153.0 391.6h0M153.4 404.4h0M157.6 398.2h0M149.4 373.8h0M143.9 399.9h0M154.0 394.5h0M154.2 394.4h0M148.8 364.3h0M149.5 354.4h0M151.5 383.8h0M160.5 408.7h0M152.5 386.2h0M159.7 389.0h0M147.7 385.2h0M147.8 408.6h0M157.6 394.8h0M151.3 385.4h0M140.1 406.8h0M155.2 406.6h0M146.6 405.6h0M147.2 406.6h0M167.7 405.2h0M142.9 407.3h0M149.6 395.6h0M151.9 404.6h0M164.0 392.4h0M153.3 403.8h0M154.7 402.4h0M149.2 407.0h0M148.6 399.0h0M155.4 395.2h0M149.9 361.3h0M151.9 401.7h0M149.5 378.6h0M152.0 404.6h0M146.4 405.1h0M154.4 391.4h0M153.4 388.9h0M151.5 381.6h0M151.4 375.9h0M147.8 390.3h0M147.6 407.9h0M148.2 379.9h0M144.2 379.5h0M152.0 362.9h0M147.6 373.4h0M142.6 402.1h0M154.4 390.8h0M159.2 407.8h0M145.7 407.7h0M142.8 405.5h0M149.7 361.6h0M158.5 398.4h0M165.8 405.9h0M150.5 373.6h0M165.5 403.5h0M146.6 363.7h0M152.9 406.1h0M154.2 407.7h0M156.1 389.9h0M153.4 402.2h0M158.1 388.3h0M152.4 358.4h0M140.1 403.6h0M158.2 403.4h0M153.7 379.2h0M150.7 399.0h0M142.1 406.7h0M149.7 351.8h0M159.6 388.4h0M150.4 381.3h0M149.0 401.5h0M147.6 402.4h0M153.1 368.5h0M150.3 398.3h0M143.9 400.9h0M143.2 404.4h0M144.3 375.3h0M153.4 388.7h0M146.7 346.4h0M150.2 385.5h0M165.8 405.0h0M153.4 390.2h0M151.8 387.0h0M148.3 375.6h0M157.2 392.8h0M149.0 377.1h0M157.3 408.3h0M156.5 391.6h0M164.3 401.4h0M159.9 408.0h0M151.5 374.1h0M159.6 394.8h0M147.8 404.9h0M154.8 397.0h0M144.5 404.0h0M148.7 407.1h0M149.9 390.1h0M168.0 400.9h0M147.3 404.3h0M135.3 401.8h0M143.3 388.1h0M172.9 403.5h0M163.6 408.6h0M151.0 393.5h0M143.7 403.8h0M154.7 402.0h0M138.2 405.8h0M146.6 408.8h0M150.5 375.1h0M160.6 405.3h0" stroke="#858585" stroke-width="1.2" stroke-linecap="round" fill="none"/>
<path d="M145.2 391.3h0M156.0 400.8h0M166.0 397.8h0M160.9 400.3h0M154.5 402.8h0M147.8 384.1h0M157.5 400.4h0M157.9 403.9h0M171.4 405.6h0M149.8 399.0h0M149.0 382.8h0M143.8 407.0h0M154.3 395.3h0M159.6 394.7h0M154.6 405.2h0M134.1 398.7h0M150.2 353.1h0M151.2 399.3h0M158.7 402.2h0M148.8 357.4h0M149.7 406.4h0M151.9 408.4h0M154.2 389.3h0M151.8 400.1h0M150.8 368.6h0M151.3 389.9h0M158.2 390.1h0M157.9 377.1h0M152.8 365.1h0M145.2 389.9h0M145.3 407.1h0M145.2 402.7h0M163.2 403.2h0M154.9 386.1h0M148.5 409.1h0M150.7 396.6h0M158.5 406.3h0M149.5 397.3h0M151.7 404.3h0M150.2 403.4h0M150.6 405.1h0M146.9 377.5h0M156.8 402.8h0M158.5 407.8h0M138.9 406.6h0M149.2 405.4h0M141.2 406.0h0M149.9 398.7h0M151.3 391.4h0M152.0 408.1h0M150.1 383.8h0M146.6 402.8h0M158.0 403.3h0M148.5 389.2h0M157.6 407.8h0M151.8 392.8h0M159.5 399.7h0M143.8 391.7h0M154.1 315.4h0M145.8 407.7h0M156.8 401.0h0M157.7 397.9h0M160.4 407.7h0M153.7 393.5h0M141.0 400.9h0M152.0 390.0h0M148.2 389.5h0M152.1 376.6h0M152.6 408.5h0M154.3 394.8h0M156.1 393.6h0M154.9 395.5h0M158.1 390.6h0M156.7 404.2h0M160.7 401.4h0M158.2 393.8h0M148.7 382.4h0M150.5 401.0h0M165.3 407.9h0M162.0 409.2h0M162.6 401.3h0M152.0 334.3h0M132.4 408.7h0M168.0 404.6h0M168.4 403.3h0M149.5 401.4h0M152.1 391.4h0M141.3 409.2h0M144.1 401.7h0M134.4 399.9h0M143.8 400.7h0M160.5 408.8h0M151.7 370.2h0M150.0 409.1h0M158.9 403.2h0M156.3 376.6h0M154.9 396.6h0M148.6 405.7h0M146.2 401.5h0M151.5 368.6h0M150.0 387.0h0M156.4 403.9h0M143.8 401.2h0M145.8 361.3h0M154.0 407.8h0M154.0 360.6h0M148.4 399.4h0M138.6 399.3h0M152.5 401.6h0M147.3 330.1h0M159.8 404.1h0M149.5 376.7h0M141.1 392.8h0M143.3 407.9h0M135.9 403.9h0M152.1 405.9h0M154.4 385.0h0M154.0 399.2h0M141.4 389.1h0M149.4 390.3h0M143.7 401.5h0M150.3 376.2h0M153.3 403.4h0M156.5 404.6h0M149.5 382.7h0M146.0 400.5h0M153.5 373.2h0M150.2 363.1h0M159.6 408.2h0M150.8 359.8h0M142.0 408.7h0M141.8 381.8h0M153.2 395.6h0M153.0 363.4h0M151.5 377.0h0M155.8 394.0h0M154.4 403.4h0M169.6 407.3h0M145.7 393.2h0M153.3 376.4h0M150.9 387.3h0M150.0 382.6h0M154.0 384.0h0M150.8 388.2h0M142.6 376.6h0M145.8 407.7h0M157.1 404.4h0M137.0 405.2h0M142.0 395.7h0M155.2 401.1h0M151.7 403.1h0M139.4 402.0h0M150.4 389.2h0M161.2 405.9h0M148.0 402.5h0M152.4 403.2h0M146.7 402.3h0M154.9 372.4h0M150.2 378.9h0M155.8 407.7h0M151.2 374.5h0M144.6 371.0h0M152.3 401.0h0M153.5 401.0h0M155.0 385.8h0M156.2 407.8h0M139.0 405.3h0M149.1 363.5h0M151.1 403.0h0M153.9 405.9h0M155.9 408.6h0M150.8 396.9h0M157.2 399.4h0M144.6 407.7h0M142.9 406.7h0M138.3 387.1h0M145.7 404.9h0M156.9 400.1h0M151.9 403.9h0M151.6 375.3h0M153.9 350.0h0M150.1 390.6h0M151.3 405.5h0M151.2 402.7h0M147.6 383.6h0M150.0 398.7h0M153.0 396.8h0M154.6 366.9h0M161.6 399.7h0M149.9 407.0h0M149.4 369.1h0M141.8 405.9h0M152.9 392.0h0M160.3 406.6h0M160.0 400.7h0M149.1 397.7h0M146.6 393.8h0M141.8 403.8h0M135.1 405.4h0M145.1 376.3h0M148.4 398.5h0M163.8 408.4h0M154.3 398.2h0M125.8 407.7h0M138.9 405.6h0M151.4 356.1h0M158.4 407.4h0M154.5 384.0h0M138.9 408.7h0M158.3 400.5h0M164.5 406.0h0M155.4 397.8h0M146.6 396.8h0M139.8 401.0h0M153.4 401.9h0M149.9 385.2h0M145.9 399.3h0M150.2 363.4h0M149.6 403.4h0M152.0 373.7h0M153.1 380.9h0M152.2 403.8h0M130.7 408.7h0M150.9 388.8h0M156.1 398.0h0M149.9 403.1h0M143.5 404.3h0M144.4 407.1h0M163.6 398.4h0M148.5 393.6h0M146.1 377.5h0M151.3 390.1h0M142.2 405.6h0M145.6 403.5h0M154.8 398.2h0M163.1 407.3h0M158.7 399.7h0M154.9 407.6h0M158.5 381.4h0M152.4 403.5h0M149.9 359.8h0M153.3 391.5h0M154.5 404.7h0M142.2 404.2h0M151.6 394.9h0M158.4 407.8h0M151.8 404.9h0M154.8 400.6h0M143.8 399.7h0M147.2 390.9h0M140.1 394.0h0M154.1 406.8h0M168.6 404.1h0M151.5 375.3h0M155.8 400.8h0M146.9 366.5h0M149.3 372.1h0M155.7 400.6h0M147.6 359.2h0M152.8 408.8h0M157.5 401.4h0M148.7 383.9h0M156.6 372.9h0M146.8 398.2h0M164.1 403.5h0M147.7 387.4h0M141.6 408.3h0M139.3 406.9h0M145.2 402.9h0M152.9 407.4h0M149.3 406.6h0M151.0 384.0h0M149.8 400.6h0M156.6 403.1h0M149.5 394.6h0M145.7 389.1h0M154.3 395.6h0M143.9 386.0h0M147.7 408.8h0M152.5 380.8h0M158.2 406.3h0M146.9 406.6h0M152.7 390.1h0M156.7 400.0h0M142.9 393.1h0M150.1 384.0h0M148.3 354.5h0M146.2 398.2h0M155.6 402.4h0M145.4 390.1h0M147.8 381.8h0M137.6 399.5h0M155.1 390.1h0M147.5 381.7h0M159.3 404.0h0M160.6 396.4h0M148.7 356.9h0M146.6 407.1h0M150.8 372.6h0M154.5 397.2h0M149.4 389.0h0M150.2 384.9h0M145.5 391.2h0M163.6 398.3h0M154.1 385.9h0M153.0 386.6h0M148.5 390.8h0M135.6 408.8h0M153.7 378.2h0M152.3 403.4h0M156.3 398.1h0M156.4 406.8h0M148.7 402.7h0M152.6 383.2h0M157.4 408.7h0M165.0 400.9h0M149.3 362.6h0M157.7 397.2h0M157.9 400.9h0M150.5 383.7h0M143.7 397.9h0M156.6 368.0h0M136.6 409.0h0M144.7 397.9h0M150.0 400.9h0M147.1 398.9h0M160.9 405.6h0M141.4 401.1h0M144.5 384.5h0M147.6 404.8h0M141.6 385.5h0M128.3 404.3h0M151.8 401.0h0M147.3 386.0h0M154.2 378.9h0M162.0 403.7h0M142.3 404.1h0M158.3 392.9h0M145.4 401.5h0M136.1 405.7h0M145.1 377.2h0M150.0 377.7h0M137.5 405.4h0M154.1 408.9h0M143.2 401.3h0M149.0 398.0h0M155.8 380.2h0M159.3 403.9h0M145.8 407.8h0M151.6 399.4h0M146.2 406.2h0M151.2 320.3h0M139.7 405.4h0M153.2 391.3h0M156.0 407.0h0M143.1 407.8h0M146.1 400.2h0M147.6 388.4h0M158.1 403.2h0M141.6 382.0h0M140.0 408.2h0M155.1 401.5h0M147.0 405.9h0M148.4 406.3h0M157.6 400.5h0M150.7 355.2h0M143.9 391.3h0M140.7 395.2h0M142.5 387.7h0M152.0 375.9h0M153.3 409.2h0M150.2 392.8h0M151.2 408.0h0M140.9 406.9h0M150.9 379.6h0M166.3 401.5h0M141.4 396.1h0M155.1 402.2h0M151.5 397.7h0M159.4 407.3h0M148.6 404.4h0M164.7 406.7h0M163.8 406.5h0M148.4 407.8h0M151.1 377.2h0M146.2 356.9h0M151.4 397.0h0M151.9 407.7h0M139.0 399.2h0M144.6 408.0h0M158.6 408.0h0M152.7 365.2h0M156.6 384.9h0M154.0 406.0h0M148.0 405.1h0M156.2 403.6h0M144.4 405.1h0M157.3 396.0h0M150.6 388.3h0M152.1 395.6h0M152.8 403.2h0M154.3 362.4h0M150.5 394.6h0M149.0 396.6h0M156.3 389.9h0M137.9 408.4h0M155.6 339.0h0M152.0 399.0h0M156.6 367.0h0M145.5 407.8h0M154.9 392.5h0M157.5 407.0h0M160.1 403.5h0M154.7 407.7h0M152.0 404.7h0M146.1 395.3h0M145.9 377.1h0M145.7 366.1h0M161.3 404.7h0M161.9 369.2h0M153.7 403.0h0M149.2 405.1h0M157.2 377.3h0M161.2 405.2h0M154.5 385.7h0M155.7 395.5h0M151.8 396.1h0M149.8 389.5h0M147.8 378.6h0M150.4 383.7h0M150.0 400.2h0M158.7 386.1h0M150.1 381.4h0M150.9 408.8h0M158.9 396.4h0M153.8 406.9h0M157.7 385.3h0M152.4 405.2h0M138.2 398.9h0M149.1 403.9h0M150.6 352.3h0M152.9 403.9h0M148.6 401.9h0M150.0 371.6h0M150.4 385.1h0M120.6 408.3h0M152.8 390.7h0M147.3 400.7h0M159.7 405.6h0M148.7 380.8h0M139.7 404.6h0M143.3 402.5h0M160.7 404.2h0M155.8 400.8h0M147.5 405.6h0M158.3 407.1h0M153.0 394.8h0M155.1 402.0h0M150.3 337.8h0M148.0 379.4h0M147.7 364.5h0M159.3 393.3h0M158.1 396.3h0M146.3 392.5h0M149.2 365.0h0M152.2 409.1h0M141.1 388.6h0M152.0 351.8h0M154.2 404.5h0M163.7 408.9h0M158.1 407.5h0M153.4 399.9h0M145.1 405.7h0M144.2 380.6h0M151.1 396.6h0M142.2 388.4h0M137.9 403.1h0M143.7 404.7h0M160.9 402.1h0M151.7 407.3h0M152.1 399.8h0M152.6 374.2h0M162.9 402.8h0M148.4 395.0h0M143.8 398.6h0M137.8 405.8h0M150.3 396.8h0M156.3 405.3h0M155.1 384.3h0M146.9 406.1h0M147.8 406.1h0M154.4 374.7h0M142.2 397.3h0M151.5 406.1h0M148.3 401.8h0M151.9 403.4h0M147.1 395.6h0M146.1 408.0h0M151.1 395.7h0M151.0 356.2h0M154.7 388.2h0M149.3 385.7h0M150.1 378.6h0M149.3 404.1h0M142.0 401.7h0M155.2 405.9h0M159.4 405.2h0M152.1 407.2h0M167.0 404.9h0M152.7 405.1h0M149.2 397.9h0M150.0 396.6h0M151.2 383.3h0M157.6 388.6h0M146.4 396.0h0M155.6 391.6h0M149.8 400.0h0M143.1 386.9h0M153.4 400.1h0M154.7 403.6h0M155.5 396.0h0M153.7 406.6h0M154.2 396.9h0M168.5 408.2h0M150.5 402.1h0M137.2 401.2h0M154.1 363.4h0M144.0 402.8h0M149.6 405.8h0M149.1 392.4h0M155.3 405.0h0M160.0 401.3h0M161.4 408.3h0M161.0 401.3h0M150.5 385.0h0M150.4 402.5h0M150.9 394.5h0M154.9 402.9h0M136.2 392.0h0M160.0 405.1h0M141.4 408.7h0M145.6 380.3h0M155.6 407.3h0M159.0 404.0h0M152.6 407.0h0M152.4 400.3h0M154.9 406.9h0M151.2 389.8h0M145.4 392.6h0M166.0 408.5h0M152.9 400.5h0M149.6 406.6h0M149.4 398.7h0M152.1 379.9h0M146.8 384.2h0M147.6 396.2h0M145.7 398.1h0M149.2 382.2h0M151.5 397.5h0M156.8 385.1h0M147.2 398.2h0M156.4 390.5h0M157.7 406.0h0M146.1 400.5h0M151.0 397.5h0M145.3 406.0h0M157.6 398.5h0M151.8 407.0h0M138.4 405.7h0M159.6 394.1h0M144.5 403.9h0M141.2 409.2h0M147.2 399.9h0M145.0 355.3h0M140.6 408.9h0M150.2 399.8h0M145.8 381.8h0M153.0 386.4h0M146.5 376.7h0M144.9 407.5h0M155.4 401.6h0M159.1 391.4h0M134.1 406.9h0M146.8 379.0h0M144.8 401.6h0M157.2 400.5h0M154.8 350.6h0M134.5 407.4h0M149.0 362.4h0M154.1 394.5h0M155.7 401.1h0M174.2 406.0h0M136.5 407.8h0M155.9 383.0h0M147.8 399.5h0M152.2 383.6h0M152.2 386.5h0M156.5 373.5h0M152.2 402.1h0M159.8 393.6h0M157.1 401.2h0M150.9 389.7h0M135.7 405.9h0M152.3 402.4h0M144.4 407.1h0M143.2 394.2h0M147.7 371.1h0M156.6 399.6h0M149.3 378.2h0M155.6 401.9h0M150.7 381.4h0M148.0 382.0h0M148.2 339.3h0M158.4 390.3h0M150.8 393.9h0M151.0 376.8h0M157.5 402.8h0M143.6 378.1h0M149.5 388.1h0M144.2 363.6h0M153.2 368.9h0M148.5 368.6h0M158.7 407.7h0M161.8 396.5h0M150.2 360.0h0M153.8 406.6h0M152.3 374.8h0M145.6 392.2h0M158.5 408.6h0M148.0 405.6h0M143.4 398.5h0M151.6 388.9h0M153.0 405.9h0M144.7 401.0h0M150.4 372.8h0M143.7 383.9h0M146.0 400.4h0M154.9 379.1h0M147.7 406.1h0M146.9 363.0h0M155.3 389.4h0M147.6 399.3h0M152.7 404.6h0M158.0 405.4h0M142.7 393.5h0M147.6 387.0h0M146.3 353.0h0M149.3 397.1h0M147.8 398.8h0M156.3 402.7h0M143.4 397.8h0M153.0 391.5h0M143.2 339.3h0M138.9 403.1h0M145.5 394.2h0M147.2 399.4h0M154.1 404.9h0M150.6 382.9h0M147.6 398.8h0M153.3 362.5h0M143.8 402.7h0M148.2 391.9h0M148.1 396.2h0M149.8 408.8h0M157.2 392.4h0M150.9 404.0h0M150.1 387.6h0M153.4 406.4h0M143.5 402.8h0M145.6 380.6h0M149.8 359.4h0M150.2 391.7h0M147.2 402.2h0M148.1 401.1h0M141.9 404.7h0M134.7 401.9h0M143.8 398.0h0M141.3 402.1h0M146.8 404.2h0M146.3 398.2h0M137.1 393.3h0M143.9 402.3h0M135.4 405.3h0M155.7 378.2h0M154.2 408.2h0M153.7 385.0h0M155.3 390.4h0M157.0 377.1h0M146.2 382.2h0M163.3 404.4h0M153.1 366.2h0M156.9 403.4h0M151.3 381.7h0M143.4 396.9h0M148.7 403.7h0M150.0 388.7h0M147.1 359.4h0M152.5 395.1h0M155.3 401.6h0M148.9 398.5h0M150.7 390.4h0M142.7 407.1h0M157.4 390.5h0M164.6 408.9h0M152.7 375.2h0M146.5 373.8h0M149.2 385.0h0M144.1 407.7h0M162.6 407.2h0M155.0 389.9h0M148.3 362.7h0M153.4 377.6h0M151.4 384.1h0M150.7 359.7h0M152.2 400.7h0M146.9 396.7h0M149.5 386.9h0M136.0 407.7h0M157.4 369.8h0M154.5 395.9h0M152.5 393.6h0M158.8 386.4h0M158.6 404.6h0M149.0 377.7h0M146.7 405.0h0M155.9 408.6h0M157.2 406.7h0M157.2 398.7h0M162.6 407.4h0M146.4 397.5h0M135.3 404.1h0M158.3 400.4h0M156.4 398.0h0M148.9 378.5h0M149.5 408.1h0M146.8 404.1h0M166.0 407.8h0M144.4 384.0h0M156.7 398.1h0M153.8 372.5h0M165.1 388.7h0M150.9 361.7h0M159.7 395.0h0M152.0 393.5h0M148.9 409.1h0M151.5 408.2h0M151.2 391.0h0M142.7 406.5h0M152.2 404.1h0M161.1 404.1h0M153.5 370.2h0M151.2 393.5h0M156.6 399.7h0M154.8 403.9h0M151.2 383.6h0M158.1 391.2h0M159.1 400.6h0M154.1 407.4h0M155.5 404.8h0M149.8 358.6h0M153.1 406.4h0M151.0 380.0h0M150.3 372.9h0M157.7 402.5h0M148.8 393.1h0M156.4 392.3h0M158.7 404.1h0M156.5 392.3h0M132.2 409.1h0M155.3 394.8h0M154.2 391.2h0M150.1 401.2h0M160.7 406.6h0M147.6 376.1h0M146.4 392.1h0M161.7 404.1h0M143.2 398.0h0M140.4 404.7h0M144.5 386.7h0M147.1 407.6h0M158.0 397.3h0M154.2 384.1h0M141.6 401.5h0M154.2 396.1h0M153.4 346.9h0M141.2 402.3h0M147.6 408.3h0M147.6 389.7h0M152.0 392.3h0M149.1 398.7h0M147.6 402.5h0M153.5 380.6h0M147.6 399.5h0M149.9 396.2h0M154.3 393.2h0M156.0 404.2h0M165.7 396.3h0M160.6 401.3h0M156.8 367.6h0M152.2 372.4h0" stroke="#858585" stroke-width="1.2" stroke-linecap="round" fill="none"/>
<path d="M144.1 399.9h0M158.6 403.4h0M161.1 404.7h0M146.1 398.2h0M153.9 399.3h0M138.1 403.9h0M148.6 403.2h0M152.1 400.5h0M146.5 407.2h0M144.8 402.9h0M150.8 405.3h0M153.6 374.5h0M145.2 399.5h0M149.9 360.2h0M154.9 394.6h0M164.8 409.2h0M150.7 324.0h0M146.0 400.2h0M151.8 370.8h0M140.8 395.3h0M144.1 405.7h0M140.9 406.6h0M128.6 408.3h0M148.0 402.8h0M159.5 393.0h0M155.7 374.3h0M148.3 403.5h0M139.8 400.2h0M153.9 375.2h0M153.1 407.2h0M150.6 381.2h0M147.0 392.0h0M144.9 397.7h0M148.3 395.8h0M148.4 396.1h0M158.7 406.3h0M152.5 393.3h0M147.1 395.0h0M151.9 401.3h0M154.2 408.6h0M153.4 387.4h0M154.6 397.8h0M142.1 405.7h0M146.1 405.2h0M142.8 391.0h0M136.4 402.7h0M146.6 385.2h0M141.4 408.6h0M148.6 403.3h0M152.1 407.5h0M155.0 381.4h0M157.8 404.8h0M147.0 397.2h0M154.1 399.4h0M159.3 404.0h0M147.2 407.0h0M154.8 387.5h0M157.2 385.3h0M144.7 368.2h0M149.9 384.1h0M143.6 382.2h0M144.7 387.3h0M141.4 401.5h0M156.0 367.3h0M162.3 401.6h0M146.7 390.2h0M149.8 402.6h0M154.9 390.7h0M151.4 399.3h0M153.2 382.6h0M156.0 405.8h0M161.7 408.3h0M154.8 400.9h0M162.1 396.3h0M149.6 398.3h0M151.0 379.5h0M155.4 362.9h0M151.1 384.5h0M159.5 379.2h0M148.6 374.6h0M177.5 406.7h0M150.3 392.7h0M150.5 375.6h0M161.0 407.4h0M161.0 399.0h0M150.2 399.4h0M152.8 403.1h0M159.1 403.8h0M144.9 398.5h0M148.3 394.8h0M142.7 400.7h0M150.9 379.6h0M145.2 373.2h0M144.0 403.4h0M148.8 406.4h0M153.1 386.0h0M149.1 369.5h0M145.7 407.0h0M148.5 385.6h0M150.2 329.0h0M163.8 386.8h0M147.8 384.7h0M152.8 366.9h0M149.3 402.4h0M148.6 396.9h0M147.2 404.1h0M155.9 385.5h0M149.9 366.0h0M152.9 375.9h0M148.1 401.4h0M154.6 391.8h0M134.2 407.2h0M155.2 391.1h0M152.2 408.3h0M157.2 397.8h0M158.2 400.8h0M144.9 382.6h0M176.7 407.2h0M139.2 407.8h0M150.8 379.4h0M154.1 408.8h0M155.5 400.1h0M149.2 381.7h0M146.3 401.3h0M148.7 385.9h0M149.6 402.0h0M143.6 408.8h0M152.4 403.5h0M152.9 402.6h0M147.7 407.7h0M141.8 406.9h0M152.5 366.5h0M150.5 388.4h0M154.0 396.5h0M151.9 380.6h0M163.2 402.0h0M152.8 358.7h0M150.1 383.0h0M145.6 394.9h0M153.8 371.5h0M143.8 398.7h0M146.0 408.8h0M158.7 386.4h0M164.6 409.1h0M150.5 395.8h0M159.1 393.5h0M156.7 387.2h0M125.2 407.2h0M131.4 405.0h0M152.4 401.1h0M143.3 405.5h0M149.5 407.9h0M142.7 382.8h0M155.9 407.4h0M161.7 402.6h0M159.6 399.7h0M156.5 394.3h0M153.2 401.3h0M152.0 389.7h0M172.9 402.8h0M145.2 397.7h0M152.5 408.3h0M175.3 408.6h0M142.9 394.0h0M153.7 406.9h0M159.3 408.6h0M149.4 402.5h0M154.5 380.1h0M155.9 396.1h0M150.8 408.0h0M149.6 386.2h0M137.4 401.8h0M156.4 382.2h0M155.5 390.3h0M145.9 395.8h0M145.7 400.2h0M141.0 398.9h0M141.6 402.6h0M148.0 396.2h0M152.7 389.7h0M153.2 409.1h0M148.8 406.2h0M147.2 387.3h0M153.0 398.5h0M148.7 366.4h0M148.2 361.8h0M162.1 404.7h0M154.8 383.2h0M145.5 383.8h0M158.7 405.4h0M165.7 404.2h0M148.3 362.7h0M149.4 396.4h0M144.3 401.1h0M150.5 367.3h0M129.0 406.6h0M164.7 400.7h0M145.9 381.8h0M150.2 374.5h0M166.0 407.4h0M157.9 399.4h0M151.5 405.7h0M145.7 400.8h0M145.6 375.0h0M149.7 365.7h0M156.7 400.5h0M159.0 404.5h0M143.1 391.8h0M149.7 392.5h0M154.4 386.3h0M156.2 407.7h0M150.5 405.5h0M153.1 386.3h0M149.7 364.3h0M156.4 397.8h0M158.3 405.0h0M143.8 392.5h0M145.7 368.8h0M147.8 377.5h0M145.0 376.7h0M140.8 380.1h0M151.0 357.1h0M153.7 405.7h0M158.8 396.6h0M146.1 400.4h0M150.9 400.6h0M150.9 394.8h0M135.7 407.5h0M135.9 405.4h0M152.3 404.0h0M151.3 387.8h0M154.3 378.8h0M156.8 405.7h0M139.8 408.8h0M147.5 399.0h0M149.8 401.7h0M136.5 398.6h0M153.5 401.4h0M149.1 372.9h0M165.4 406.5h0M150.6 395.2h0M131.8 408.3h0M157.7 387.4h0M167.7 403.4h0M157.0 378.4h0M166.1 396.9h0M163.9 405.2h0M146.5 388.6h0M151.9 400.3h0M156.6 379.0h0M150.4 387.8h0M148.5 399.3h0M139.2 403.7h0M149.0 394.5h0M147.8 409.2h0M156.1 400.4h0M152.8 403.8h0M155.0 398.4h0M152.9 375.0h0M163.8 391.8h0M155.7 373.0h0M146.6 369.7h0M145.1 405.8h0M144.5 406.3h0M148.2 404.1h0M146.7 407.4h0M151.2 379.3h0M148.8 405.6h0M121.0 409.1h0M145.4 406.6h0M142.1 395.4h0M154.2 395.0h0M161.2 388.1h0M158.4 384.6h0M168.3 407.4h0M151.3 385.3h0M160.1 401.5h0M147.0 397.7h0M140.9 408.5h0M151.4 400.0h0M155.0 402.4h0M143.2 407.6h0M156.0 404.6h0M143.0 402.3h0M154.9 375.8h0M149.8 406.8h0M162.8 403.0h0M157.2 389.3h0M141.9 403.0h0M147.2 325.2h0M138.2 406.1h0M153.3 399.8h0M144.7 397.2h0M152.4 395.6h0M148.7 401.2h0M155.3 384.9h0M144.2 406.5h0M151.3 367.2h0M135.1 409.1h0M161.1 389.3h0M149.9 404.9h0M139.4 407.6h0M158.4 407.4h0M152.4 400.8h0M154.0 352.7h0M146.6 391.6h0M152.8 393.7h0M146.1 392.5h0M151.8 405.3h0M156.3 400.9h0M148.9 403.6h0M149.5 403.1h0M153.5 394.3h0M139.2 400.2h0M163.1 393.6h0M152.7 391.7h0M154.4 384.0h0M155.9 403.5h0M151.0 379.6h0M148.9 353.6h0M158.3 405.5h0M157.3 400.0h0M158.0 359.8h0M153.9 389.2h0M157.9 403.1h0M163.9 408.7h0M157.2 403.7h0M151.9 329.3h0M145.1 379.3h0M148.4 393.2h0M156.4 384.6h0M142.8 362.8h0M156.3 402.5h0M148.5 407.3h0M161.1 392.4h0M152.7 347.8h0M150.5 383.3h0M163.2 408.3h0M152.8 399.7h0M145.4 406.5h0M146.8 402.2h0M156.4 402.9h0M143.5 408.0h0M145.8 394.1h0M161.7 402.9h0M145.0 396.2h0M155.4 401.5h0M144.8 400.6h0M157.2 395.8h0M154.8 407.8h0M151.3 369.0h0M146.5 405.4h0M145.7 391.7h0M148.9 400.8h0M148.5 405.1h0M152.5 408.1h0M157.0 404.9h0M151.9 405.7h0M131.6 402.2h0M142.4 389.7h0M144.0 381.7h0M147.5 393.2h0M147.1 409.1h0M152.8 390.7h0M146.9 402.0h0M151.6 353.3h0M155.8 404.0h0M156.6 403.1h0M147.7 405.9h0M140.3 409.0h0M155.9 361.7h0M154.8 339.8h0M150.9 396.5h0M149.9 405.6h0M150.0 384.0h0M146.9 404.2h0M154.5 407.9h0M140.4 402.3h0M146.2 395.8h0M150.8 396.9h0M145.6 409.1h0M128.4 406.3h0M142.2 400.0h0M147.0 385.5h0M150.9 402.8h0M146.5 385.1h0M138.9 397.9h0M142.3 406.1h0M149.5 398.2h0M152.1 385.0h0M153.2 405.7h0M152.9 385.1h0M148.1 389.7h0M158.4 402.1h0M155.9 398.3h0M151.5 358.5h0M147.5 403.0h0M142.1 399.2h0M148.4 393.7h0M145.3 384.5h0M151.9 403.5h0M155.7 384.4h0M157.9 398.2h0M150.9 373.1h0M144.1 406.3h0M148.6 396.7h0M149.5 386.2h0M154.4 399.7h0M153.3 343.7h0M152.0 405.3h0M152.7 399.0h0M143.7 395.0h0M136.8 405.1h0M148.2 402.7h0M162.9 408.9h0M150.1 355.2h0M148.9 394.1h0M152.7 365.9h0M150.0 386.2h0M150.1 403.5h0M157.4 400.4h0M154.9 399.0h0M129.5 405.6h0M149.2 376.1h0M149.8 381.6h0M155.3 398.8h0M151.1 365.9h0M152.4 378.8h0M120.8 409.0h0M149.7 395.6h0M145.0 409.1h0M158.8 391.0h0M139.9 407.8h0M153.3 406.3h0M147.2 407.0h0M154.1 360.2h0M152.0 402.9h0M150.0 399.1h0M157.9 406.6h0M152.3 390.2h0M148.7 394.3h0M158.6 389.7h0M150.2 377.2h0M149.0 384.8h0M154.4 359.7h0M141.2 407.0h0M144.3 377.0h0M151.0 367.6h0M170.9 405.4h0M152.2 373.8h0M132.1 407.8h0M153.7 394.0h0M152.3 397.4h0M150.8 401.8h0M162.6 406.5h0M148.2 404.3h0M154.8 376.8h0M148.7 361.0h0M140.9 405.3h0M125.7 405.0h0M155.5 389.8h0M136.4 404.2h0M157.3 401.4h0M154.0 377.5h0M155.4 403.6h0M147.3 399.1h0M155.5 391.8h0M134.3 402.2h0M151.5 401.3h0M142.9 384.3h0M159.9 404.2h0M143.5 394.8h0M150.3 402.7h0M149.0 387.7h0M151.5 400.5h0M140.9 402.1h0M146.6 403.1h0M150.7 404.4h0M154.9 392.9h0M163.7 397.2h0M153.6 403.0h0M155.9 401.1h0M142.1 406.9h0M159.5 364.9h0M156.4 370.2h0M149.2 355.3h0M148.1 392.9h0M152.5 392.3h0M159.2 355.8h0M143.9 399.9h0M158.9 390.7h0M150.8 378.2h0M143.1 376.6h0M145.6 402.2h0M148.1 381.3h0M152.0 381.1h0M147.5 384.0h0M143.8 404.3h0M147.7 379.6h0M145.3 381.7h0M156.4 408.8h0M133.3 406.8h0M156.0 408.4h0M147.2 397.0h0M152.3 366.7h0M161.8 408.2h0M153.6 376.2h0M147.2 384.0h0M156.7 406.6h0M142.6 388.3h0M146.3 408.7h0M156.7 380.6h0M148.1 398.4h0M145.0 395.2h0M155.7 403.8h0M162.3 396.3h0M148.8 403.0h0M156.2 397.5h0M142.7 406.5h0M152.8 401.4h0M165.5 401.9h0M155.4 403.4h0M155.1 387.2h0M148.3 402.3h0M156.7 391.1h0M148.5 392.6h0M146.8 407.4h0M156.2 392.3h0M149.7 401.5h0M134.9 404.6h0M155.1 397.2h0M153.8 395.4h0M153.5 381.0h0M159.6 391.9h0M155.5 381.5h0M155.3 406.7h0M149.4 385.4h0M149.0 335.7h0M148.7 372.9h0M152.8 385.4h0M154.7 402.6h0M148.3 378.5h0M145.3 402.2h0M148.3 393.7h0M144.7 408.2h0M154.8 394.9h0M140.0 383.3h0M151.7 406.5h0M148.2 388.1h0M154.0 402.7h0M142.3 401.7h0M151.2 384.1h0M144.7 384.0h0M156.5 394.7h0M160.8 408.6h0M141.0 392.9h0M165.6 397.9h0M142.1 395.2h0M144.0 408.3h0M150.3 399.1h0M151.2 394.5h0M153.1 398.3h0M141.5 390.9h0M149.9 351.4h0M141.3 402.7h0M154.4 405.3h0M151.8 364.2h0M132.3 401.4h0M147.9 398.0h0M150.3 404.4h0M152.5 392.1h0M149.6 402.7h0M146.7 397.8h0M154.6 406.2h0M156.8 403.2h0M153.7 408.2h0M148.0 375.3h0M143.6 403.0h0M145.5 391.0h0M157.4 379.3h0M142.8 404.9h0M150.5 343.8h0M156.6 404.9h0M151.4 363.7h0M150.1 393.7h0M145.1 389.7h0M141.0 400.2h0M149.8 383.9h0M146.5 363.8h0M137.8 406.4h0M153.5 405.6h0M149.5 399.4h0M143.9 404.7h0M149.9 371.5h0M161.8 407.5h0M135.1 400.9h0M148.5 383.0h0M147.8 397.5h0M149.5 407.0h0M154.1 406.0h0M142.9 374.6h0M150.0 399.4h0M143.4 403.3h0M151.0 350.3h0M153.1 408.6h0M155.0 397.8h0M158.0 401.3h0M154.5 375.0h0M147.1 396.6h0M159.2 404.7h0M147.5 408.5h0M155.0 385.2h0M153.3 400.8h0M148.0 403.2h0M152.1 406.1h0M147.4 396.0h0M150.0 397.9h0M141.1 403.8h0M148.7 361.8h0M151.2 396.6h0M152.3 397.7h0M151.8 398.2h0M146.3 389.0h0M159.9 404.4h0M152.5 388.5h0M146.4 368.9h0M150.1 400.8h0M151.5 401.6h0M151.5 386.1h0M143.7 399.8h0M157.2 394.3h0M152.5 379.2h0M160.5 407.0h0M153.9 394.1h0M136.1 401.6h0M153.7 329.4h0M152.1 345.7h0M157.2 404.3h0M147.2 371.1h0M142.5 407.7h0M154.0 383.8h0M149.9 403.7h0M155.0 409.0h0M145.3 406.2h0M148.8 376.5h0M142.7 404.8h0M147.7 359.2h0M158.1 392.8h0M158.2 401.3h0M149.4 404.4h0M159.9 405.1h0M151.7 366.5h0M148.5 388.3h0M153.8 383.1h0M149.6 381.6h0M156.6 404.3h0M144.4 382.4h0M151.9 391.1h0M149.8 383.5h0M150.5 391.8h0M157.6 404.8h0M145.5 390.6h0M156.3 390.6h0M145.2 369.2h0M150.6 381.3h0M163.2 402.3h0M145.1 386.8h0M146.3 407.6h0M153.6 406.0h0M152.1 376.8h0M148.3 370.7h0M156.0 395.6h0M162.3 390.2h0M164.9 408.7h0M149.3 407.3h0M146.1 392.9h0M143.7 396.1h0M151.4 382.2h0M151.7 400.9h0M145.6 374.6h0M150.2 407.4h0M153.0 408.7h0M147.1 396.7h0M152.4 406.5h0M159.5 405.6h0M145.1 400.6h0M144.6 395.7h0M155.5 408.0h0M146.7 343.3h0M147.7 372.4h0M157.2 407.5h0M153.2 406.2h0M137.8 405.7h0M157.5 394.8h0M139.8 388.8h0M150.9 375.4h0M140.2 407.0h0M141.4 381.9h0M148.7 396.4h0M152.9 404.1h0M166.1 407.7h0M155.4 398.0h0M149.2 401.9h0M147.6 369.9h0M152.7 405.0h0M153.1 360.0h0M153.5 374.7h0M173.4 408.7h0M147.3 390.0h0M151.8 394.7h0M136.8 405.1h0M148.9 400.4h0M152.7 372.1h0M147.4 405.4h0M148.3 409.0h0M153.3 403.4h0M143.5 407.1h0M151.1 367.4h0M147.4 383.7h0M160.4 407.8h0M152.6 408.2h0M147.9 401.9h0M152.3 404.9h0M156.6 405.2h0M151.1 365.8h0M163.0 404.8h0M154.2 366.4h0M148.2 362.7h0M155.5 388.5h0M143.5 407.9h0M164.3 407.9h0M135.9 400.5h0M153.6 374.2h0M148.6 386.4h0M149.2 385.1h0M144.4 408.3h0M149.7 402.7h0M159.8 402.2h0M149.3 401.0h0M154.8 404.0h0M148.7 391.6h0M159.1 376.4h0M148.0 399.4h0M156.3 374.1h0M151.5 382.0h0M157.6 408.4h0M150.1 363.5h0M155.3 385.9h0M150.5 403.7h0M149.5 400.9h0M154.4 408.8h0M147.6 382.3h0M153.8 386.7h0M153.2 383.9h0M148.4 390.8h0M153.1 406.2h0M139.9 402.3h0M151.1 376.7h0M145.0 390.4h0M148.5 394.0h0M163.0 408.3h0M153.1 400.2h0M151.2 377.0h0M158.5 404.6h0M151.6 392.2h0M147.7 401.4h0M150.2 390.9h0M135.3 406.3h0M141.2 388.8h0M156.4 405.7h0M155.7 380.0h0M144.6 406.2h0M140.3 402.4h0M164.5 406.2h0M144.9 400.6h0M155.1 388.4h0M151.3 408.7h0M153.4 398.3h0M152.7 392.5h0M136.5 406.4h0M152.5 331.1h0M151.2 393.3h0M144.6 392.6h0M157.2 399.6h0M147.6 403.2h0M160.2 407.4h0M153.9 389.2h0M155.0 367.2h0M151.9 382.4h0M148.3 383.0h0M152.1 409.0h0M154.9 391.1h0M151.6 344.9h0M160.0 403.8h0M161.3 388.6h0M151.9 403.5h0M157.5 406.1h0M144.4 384.4h0M146.8 375.4h0M152.1 384.0h0" stroke="#858585" stroke-width="1.2" stroke-linecap="round" fill="none"/>
<path d="M151.1 398.3h0M160.2 400.0h0M156.5 386.2h0M138.0 408.1h0M149.1 396.3h0M151.6 403.8h0M148.8 409.1h0M144.8 406.1h0M150.1 377.1h0M158.7 391.8h0M154.1 393.1h0M152.2 381.4h0M148.1 401.3h0M162.2 408.6h0M152.6 389.3h0M130.7 403.1h0M160.0 390.5h0M145.8 399.3h0M146.5 359.4h0M148.8 395.5h0M142.6 405.9h0M154.1 384.5h0M141.9 396.0h0M172.4 407.9h0M136.3 406.1h0M165.7 399.1h0M153.1 401.0h0M147.9 383.4h0M131.3 407.9h0M143.4 394.4h0M154.3 404.7h0M165.3 404.3h0M149.3 366.6h0M151.7 388.3h0M150.5 387.7h0M149.9 401.8h0M153.3 398.4h0M149.2 400.2h0M145.0 402.3h0M144.8 403.1h0M149.0 398.6h0M150.2 403.0h0M149.5 404.5h0M158.3 404.0h0M148.6 401.9h0M148.5 360.4h0M146.4 407.9h0M158.9 392.2h0M148.2 403.4h0M162.1 401.6h0M152.9 383.0h0M149.2 391.3h0M134.3 405.0h0M146.2 393.1h0M149.1 375.8h0M155.0 396.7h0M145.2 402.1h0M149.8 405.5h0M153.9 394.2h0M155.4 407.7h0M153.0 390.5h0M153.5 378.1h0M145.4 397.4h0M151.9 397.6h0M149.2 385.2h0M154.5 406.0h0M139.4 389.9h0M153.5 405.2h0M147.7 389.2h0M153.3 389.0h0M152.3 403.0h0M158.2 400.3h0M160.7 407.8h0M150.1 402.0h0M154.4 407.0h0M155.9 408.0h0M143.7 396.5h0M138.0 404.3h0M150.8 383.1h0M147.8 405.7h0M160.8 405.6h0M138.8 408.2h0M157.0 404.8h0M159.0 400.2h0M152.3 363.2h0M145.1 404.1h0M141.5 398.1h0M159.6 405.8h0M147.4 376.9h0M149.0 354.5h0M153.4 402.3h0M140.9 373.6h0M146.0 343.8h0M153.4 380.5h0M133.7 403.5h0M153.7 384.9h0M151.4 403.4h0M147.3 401.2h0M150.5 395.6h0M151.6 395.5h0M149.1 394.0h0M145.7 408.0h0M148.1 408.5h0M150.1 405.5h0M143.9 398.1h0M160.8 406.9h0M147.2 397.6h0M152.0 370.9h0M153.5 366.1h0M149.1 408.8h0M154.6 390.1h0M146.5 403.6h0M145.3 383.0h0M148.7 389.3h0M154.1 397.4h0M145.3 387.8h0M128.2 409.0h0M152.4 398.5h0M139.4 390.4h0M146.3 407.9h0M159.0 403.9h0M156.4 350.1h0M149.3 405.8h0M154.9 394.3h0M150.5 389.4h0M163.3 399.6h0M146.2 398.2h0M159.3 408.7h0M159.1 408.6h0M149.6 402.3h0M150.3 347.5h0M152.4 376.6h0M147.2 401.0h0M144.4 407.0h0M151.9 405.2h0M144.4 391.8h0M144.3 388.3h0M144.9 405.8h0M135.0 405.9h0M157.1 405.1h0M154.2 385.1h0M136.9 407.4h0M153.2 407.0h0M144.0 408.8h0M147.3 395.2h0M142.2 389.2h0M142.6 394.7h0M165.2 404.2h0M157.5 399.6h0M155.1 390.6h0M149.5 397.6h0M152.0 393.1h0M151.6 408.5h0M145.2 377.5h0M151.1 391.9h0M147.9 364.0h0M145.4 395.1h0M149.6 379.5h0M143.8 393.2h0M148.8 384.6h0M153.1 337.0h0M170.2 403.9h0M149.6 400.1h0M137.0 402.5h0M142.0 403.3h0M149.3 401.0h0M169.1 403.5h0M152.1 402.3h0M149.5 369.9h0M147.7 406.1h0M151.9 401.7h0M152.8 386.0h0M155.2 398.4h0M155.8 391.0h0M148.1 380.2h0M153.6 408.6h0M132.7 394.9h0M146.2 404.6h0M135.5 408.3h0M148.4 404.9h0M156.7 404.0h0M161.2 395.5h0M146.8 404.1h0M157.0 408.8h0M151.2 380.7h0M144.3 402.5h0M150.3 366.5h0M156.6 369.5h0M152.3 403.4h0M148.2 347.1h0M157.3 406.7h0M161.2 402.4h0M153.2 399.4h0M146.9 405.1h0M151.4 393.9h0M160.2 405.3h0M149.8 393.1h0M149.6 384.4h0M148.8 364.9h0M163.9 403.3h0M156.6 372.5h0M147.8 400.7h0M157.0 402.4h0M157.7 366.2h0M154.7 389.5h0M146.4 407.8h0M159.5 398.8h0M150.8 380.2h0M145.6 392.4h0M155.9 404.8h0M166.5 401.3h0M147.7 394.0h0M147.6 389.6h0M155.7 372.1h0M156.8 407.9h0M149.8 408.5h0M136.7 408.8h0M158.6 404.8h0M151.0 363.3h0M148.3 384.9h0M150.1 405.4h0M149.4 383.5h0M149.7 402.3h0M148.6 398.1h0M155.4 401.4h0M153.5 351.9h0M159.9 408.6h0M149.8 383.1h0M145.6 382.3h0M148.5 353.1h0M153.6 399.8h0M142.5 402.9h0M153.9 319.7h0M159.8 387.4h0M152.8 406.1h0M149.9 388.9h0M151.4 356.8h0M139.7 390.1h0M160.0 388.3h0M141.5 401.9h0M147.7 406.1h0M152.0 371.6h0M154.1 400.2h0M150.3 399.4h0M144.8 394.4h0M160.2 404.3h0M160.6 408.7h0M144.6 402.9h0M153.8 384.5h0M154.1 398.3h0M146.9 378.1h0M147.7 393.4h0M149.1 366.2h0M153.6 396.8h0M151.3 406.9h0M160.6 399.6h0M174.8 406.1h0M150.9 379.6h0M145.1 393.0h0M149.4 353.8h0M154.4 334.5h0M148.3 392.1h0M151.3 367.5h0M157.6 395.8h0M142.2 402.9h0M148.2 368.0h0M143.8 399.3h0M158.1 409.2h0M171.7 408.7h0M152.3 376.9h0M150.4 386.6h0M163.5 406.6h0M141.8 396.8h0M148.5 407.1h0M139.4 367.3h0M132.0 407.6h0M157.1 388.5h0M126.4 404.9h0M160.1 402.9h0M141.5 407.3h0M147.8 394.3h0M167.3 407.4h0M148.5 388.7h0M153.7 404.5h0M161.6 383.5h0M142.1 408.6h0M148.1 374.9h0M143.5 408.6h0M147.5 389.0h0M149.9 397.0h0M168.7 407.9h0M147.6 388.1h0M152.0 329.9h0M154.4 359.6h0M149.6 371.8h0M148.4 398.3h0M146.0 396.3h0M149.1 405.2h0M151.2 403.4h0M174.0 406.2h0M155.3 405.5h0M150.2 408.7h0M141.0 401.2h0M148.7 376.8h0M157.5 369.5h0M152.2 405.2h0M152.1 394.1h0M148.1 396.7h0M146.4 366.4h0M154.3 385.9h0M159.6 401.9h0M160.9 408.8h0M146.2 367.2h0M152.2 406.7h0M142.6 396.9h0M156.0 407.6h0M137.4 403.8h0M148.5 391.9h0M160.5 408.8h0M148.8 393.0h0M152.2 342.6h0M144.1 404.5h0M147.4 397.8h0M150.8 394.1h0M153.3 379.6h0M158.4 396.8h0M153.7 405.4h0M148.9 384.9h0M156.9 408.0h0M148.3 390.1h0M146.7 391.7h0M138.4 404.1h0M141.8 399.9h0M144.7 400.8h0M148.5 402.2h0M148.9 396.8h0M148.2 401.0h0M142.6 408.3h0M150.0 390.1h0M154.3 408.5h0M148.9 361.3h0M150.7 408.1h0M149.1 396.1h0M151.5 396.7h0M148.2 397.9h0M148.4 409.1h0M157.3 393.6h0M150.9 401.3h0M148.6 377.0h0M149.9 406.7h0M151.5 381.7h0M160.8 402.3h0M143.5 403.4h0M158.5 402.0h0M141.4 402.7h0M155.6 349.4h0M151.1 386.3h0M146.1 388.3h0M154.6 391.3h0M150.2 409.2h0M149.3 397.7h0M148.1 351.6h0M140.0 405.7h0M146.3 341.9h0M150.3 401.4h0M147.3 398.1h0M152.7 406.9h0M138.5 408.3h0M144.6 350.2h0M151.1 369.2h0M142.8 395.0h0M154.4 398.2h0M166.0 406.0h0M150.9 369.5h0M141.7 389.1h0M147.8 402.8h0M154.5 403.9h0M138.8 396.1h0M146.2 397.2h0M146.3 400.3h0M135.5 408.1h0M143.7 402.2h0M149.9 389.8h0M137.2 406.1h0M139.6 399.8h0M137.9 408.9h0M156.8 407.5h0M166.0 406.5h0M147.8 396.9h0M160.8 400.3h0M133.9 404.1h0M149.1 377.4h0M147.9 397.0h0M139.9 389.5h0M151.1 393.8h0M148.0 395.7h0M147.3 404.3h0M150.8 403.8h0M157.6 397.6h0M142.6 350.1h0M152.8 393.6h0M142.0 407.1h0M146.3 403.3h0M139.8 407.3h0M142.8 405.3h0M136.0 399.8h0M158.9 397.5h0M145.7 391.3h0M153.0 396.7h0M142.6 408.3h0M149.9 382.6h0M149.3 364.0h0M148.2 399.3h0M151.8 406.6h0M149.3 382.9h0M143.1 397.1h0M155.7 402.2h0M124.5 407.7h0M152.6 404.3h0M144.0 384.8h0M141.9 406.9h0M157.1 408.8h0M154.3 395.8h0M155.4 385.9h0M165.7 407.7h0M146.1 402.0h0M146.8 407.6h0M148.8 319.9h0M146.3 399.0h0M145.3 406.6h0M152.4 400.8h0M160.5 404.6h0M155.3 388.5h0M141.3 403.8h0M150.9 408.3h0M147.6 349.5h0M136.8 407.1h0M140.5 403.3h0M150.7 401.2h0M151.4 356.7h0M151.1 401.0h0M150.5 372.2h0M153.5 398.5h0M144.5 404.9h0M145.8 399.3h0M155.1 406.1h0M156.6 408.7h0M151.4 405.5h0M148.0 380.5h0M139.9 408.0h0M166.6 403.2h0M148.3 372.7h0M147.5 402.1h0M147.5 392.7h0M149.1 397.0h0M149.3 405.0h0M143.9 403.9h0M150.1 401.7h0M145.3 398.2h0M148.0 402.4h0M144.1 395.6h0M144.5 393.3h0M142.5 407.1h0M156.3 389.2h0M150.2 371.3h0M143.4 394.1h0M143.8 404.2h0M147.5 402.7h0M172.5 405.2h0M145.2 403.4h0M161.4 397.6h0M157.2 404.2h0M151.3 378.7h0M156.8 390.5h0M158.5 394.7h0M144.9 398.8h0M144.5 401.3h0M153.6 381.2h0M145.5 408.7h0M164.8 407.4h0M145.3 383.5h0M164.8 404.9h0M153.3 385.5h0M146.7 395.9h0M156.3 385.3h0M149.0 373.3h0M153.4 373.8h0M150.0 399.4h0M148.8 393.9h0M149.1 395.5h0M148.5 368.8h0M149.6 403.3h0M149.4 370.9h0M152.4 403.8h0M154.3 395.6h0M157.2 398.6h0M150.2 391.7h0M155.0 399.2h0M142.5 406.0h0M149.3 378.7h0M143.7 405.9h0M149.4 406.8h0M140.3 406.9h0M148.4 393.8h0M162.8 391.0h0M155.2 364.8h0M157.9 404.4h0M166.1 407.8h0M145.8 392.8h0M173.4 406.9h0M153.2 398.4h0M152.6 389.0h0M158.7 384.4h0M174.9 406.6h0M150.9 403.6h0M155.1 394.7h0M157.4 409.0h0M144.8 359.2h0M153.7 392.5h0M156.5 407.0h0M146.2 366.0h0M146.3 385.9h0M153.7 387.0h0M149.9 401.9h0M144.9 399.0h0M144.5 404.6h0M149.4 403.1h0M149.3 381.1h0M133.1 407.7h0M159.1 405.9h0M151.6 397.5h0M153.4 394.1h0M143.5 372.5h0M159.9 402.9h0M153.0 391.0h0M148.6 388.2h0M147.2 403.9h0M152.1 372.8h0M138.3 403.7h0M158.9 400.8h0M142.1 395.4h0M144.6 399.7h0M152.5 374.7h0M183.7 409.0h0M142.0 382.3h0M148.7 406.4h0M152.1 407.7h0M142.5 404.0h0M148.5 379.3h0M148.5 395.4h0M157.3 394.6h0M152.9 394.6h0M157.7 405.9h0M147.4 396.1h0M131.0 403.1h0M159.1 401.5h0M150.5 399.1h0M159.0 403.8h0M152.5 357.3h0M149.8 385.6h0M146.3 373.3h0M133.9 404.1h0M151.9 370.0h0M141.0 399.3h0M153.6 388.6h0M148.6 408.8h0M161.3 393.0h0M154.3 378.6h0M152.2 319.6h0M158.6 408.2h0M152.6 389.8h0M153.6 405.5h0M165.0 406.4h0M142.7 389.9h0M147.7 389.9h0M153.3 405.8h0M157.6 407.8h0M153.4 396.3h0M140.0 408.0h0M147.3 403.4h0M135.0 407.9h0M156.1 387.7h0M149.8 389.4h0M153.4 385.7h0M141.8 407.8h0M152.8 405.8h0M146.5 408.4h0M158.6 398.1h0M143.7 382.3h0M134.0 405.1h0M148.2 403.4h0M154.4 403.9h0M146.8 398.1h0M153.2 385.2h0M156.1 388.3h0M147.4 395.2h0M155.3 394.7h0M149.1 378.5h0M152.1 397.9h0M136.9 403.7h0M147.6 394.8h0M152.1 401.5h0M149.8 359.9h0M153.1 390.6h0M148.2 399.0h0M148.7 397.3h0M143.9 399.7h0M147.8 396.3h0M151.5 336.8h0M152.4 402.3h0M166.2 407.2h0M152.3 380.3h0M153.6 409.1h0M155.4 401.5h0M153.1 333.6h0M153.7 397.2h0M143.7 405.6h0M157.6 390.9h0M149.5 383.8h0M142.8 406.9h0M141.4 408.9h0M143.2 389.8h0M149.3 394.4h0M151.9 399.7h0M146.3 407.3h0M160.2 395.1h0M154.8 373.4h0M146.3 365.3h0M150.1 406.5h0M142.4 396.4h0M130.2 407.1h0M150.8 389.2h0M151.0 366.6h0M148.2 401.0h0M149.9 379.4h0M143.2 399.5h0M146.3 401.2h0M155.3 399.0h0M152.8 394.9h0M153.5 393.3h0M143.8 395.5h0M151.4 402.2h0M150.3 312.7h0M160.1 403.5h0M148.8 394.5h0M160.8 408.4h0M140.7 402.5h0M152.6 385.5h0M147.5 408.4h0M155.2 399.3h0M156.3 371.2h0M148.3 365.5h0M148.3 398.1h0M149.0 388.6h0M145.2 404.3h0M149.3 397.7h0M157.1 401.1h0M147.0 385.9h0M140.7 404.4h0M150.5 403.2h0M154.8 400.7h0M151.4 402.8h0M143.8 391.0h0M143.3 407.7h0M155.0 405.3h0M148.7 406.1h0M139.1 396.2h0M152.8 378.1h0M144.9 395.2h0M151.8 339.7h0M134.6 407.3h0M151.8 391.4h0M159.3 407.6h0M140.8 387.3h0M154.8 406.2h0M147.3 408.9h0M147.7 389.9h0M140.9 397.1h0M164.7 408.0h0M152.4 386.3h0M151.5 402.4h0M144.3 399.4h0M148.1 390.6h0M138.3 406.8h0M152.4 390.5h0M141.9 393.3h0M151.5 394.8h0M161.5 352.0h0M143.2 404.4h0M141.7 399.0h0M148.0 403.7h0M152.8 383.2h0M155.1 397.5h0M150.8 344.9h0M148.4 392.4h0M149.3 408.1h0M157.3 398.2h0M159.1 404.9h0M150.1 368.5h0M149.8 377.7h0M151.8 390.9h0M155.7 391.2h0M145.1 373.4h0M154.7 364.0h0M146.1 360.4h0M138.3 408.0h0M153.5 389.2h0M147.8 378.9h0M154.2 402.3h0M146.2 396.3h0M152.5 393.6h0M153.0 402.3h0M139.6 400.2h0M143.8 363.7h0M149.6 407.0h0M146.0 408.1h0M162.8 407.5h0M144.9 397.5h0M148.9 395.4h0M148.6 398.8h0M156.7 370.9h0M153.9 408.0h0M151.9 397.0h0M154.3 408.1h0M154.6 400.3h0M150.2 399.9h0M147.1 403.3h0M154.6 401.1h0M154.5 346.6h0M157.2 383.9h0M147.8 399.4h0M147.7 334.2h0M151.7 408.3h0M141.1 392.2h0M155.0 352.5h0M152.9 387.3h0M132.9 408.0h0M148.7 391.4h0M157.4 401.5h0M133.6 405.0h0M156.9 404.6h0M140.4 400.2h0M154.3 333.5h0M149.4 401.5h0M160.5 407.7h0M151.4 400.1h0M154.0 407.8h0M160.1 387.3h0M164.4 402.1h0M156.3 371.7h0M147.9 386.1h0M139.5 404.2h0M156.0 396.1h0M150.9 405.9h0M149.2 407.3h0M142.5 403.1h0M146.5 384.8h0M146.4 371.8h0M147.6 405.9h0M151.4 388.0h0M155.0 387.0h0M152.6 408.0h0M148.2 382.0h0M148.5 390.0h0M153.4 366.1h0M143.6 408.8h0M149.8 401.8h0M162.7 402.8h0M149.2 379.2h0M158.5 367.0h0M161.2 396.7h0M152.4 378.2h0M150.2 406.9h0M147.4 403.1h0M157.2 403.7h0M154.2 340.6h0M155.4 398.0h0M148.2 407.0h0M153.8 403.9h0M144.7 402.4h0M147.7 376.4h0M148.3 376.4h0M154.7 406.7h0M159.2 398.3h0M153.8 390.7h0M138.2 406.1h0M151.0 388.6h0M154.3 403.6h0M147.2 401.4h0M150.7 393.1h0M159.1 401.5h0M150.5 380.7h0M145.7 382.8h0M141.9 407.8h0M159.2 370.8h0M146.3 407.8h0M148.7 405.3h0M155.5 404.5h0M133.9 407.6h0M142.8 402.7h0" stroke="#858585" stroke-width="1.2" stroke-linecap="round" fill="none"/>
<path d="M154.5 380.3h0M146.9 377.3h0M141.6 404.5h0M141.0 409.1h0M150.6 339.8h0M156.2 384.2h0M164.6 398.8h0M159.4 376.7h0M150.5 398.3h0M151.5 403.2h0M150.9 346.8h0M147.8 392.4h0M126.6 407.8h0M152.0 408.8h0M153.6 398.1h0M150.2 399.7h0M153.8 383.4h0M144.8 395.4h0M143.0 396.7h0M138.0 392.0h0M151.9 405.1h0M156.8 391.6h0M150.4 383.9h0M157.1 407.7h0M151.5 386.3h0M151.0 399.9h0M154.2 382.9h0M150.1 402.3h0M155.1 407.4h0M153.0 384.0h0M148.2 389.4h0M136.4 405.6h0M148.3 353.7h0M150.1 383.0h0M164.8 404.6h0M152.5 407.0h0M152.1 333.7h0M148.3 354.9h0M146.3 394.9h0M149.9 372.2h0M149.6 394.0h0M157.4 403.5h0M160.1 402.8h0M148.0 393.4h0M156.7 387.4h0M153.1 384.8h0M161.2 407.8h0M145.7 408.9h0M145.8 350.9h0M154.0 347.3h0M149.0 408.7h0M159.9 403.5h0M147.2 389.3h0M156.9 400.7h0M146.5 385.1h0M149.8 376.4h0M154.4 399.9h0M150.6 407.6h0M152.0 390.1h0M149.2 402.5h0M149.7 388.3h0M144.5 390.6h0M147.4 376.4h0M146.8 405.5h0M157.0 402.7h0M137.5 402.0h0M153.6 404.9h0M150.5 401.3h0M150.2 400.8h0M149.4 390.9h0M153.8 408.6h0M155.6 386.0h0M149.7 405.8h0M149.1 406.5h0M163.4 403.3h0M155.7 395.5h0M145.5 381.0h0M153.5 408.7h0M148.7 365.7h0M156.2 378.9h0M144.1 400.8h0M156.9 383.1h0M148.0 370.6h0M154.0 398.0h0M145.8 394.7h0M141.8 393.3h0M153.0 404.6h0M143.6 380.2h0M135.4 407.5h0M159.0 401.3h0M164.7 406.4h0M154.6 408.7h0M146.3 402.4h0M151.8 399.4h0M154.6 387.9h0M152.8 391.6h0M146.7 393.7h0M148.5 402.2h0M147.8 365.9h0M151.4 399.0h0M130.4 407.2h0M145.3 392.4h0M154.7 409.1h0M145.1 408.6h0M150.2 404.0h0M150.8 336.0h0M161.5 400.8h0M151.1 348.3h0M153.6 408.8h0M153.9 402.0h0M169.0 401.5h0M153.1 385.9h0M144.5 403.9h0M147.1 383.4h0M163.9 404.8h0M148.4 393.5h0M150.1 395.8h0M150.1 373.9h0M152.7 398.5h0M155.1 388.7h0M151.7 384.6h0M153.5 337.5h0M131.3 408.2h0M158.3 388.7h0M148.6 397.5h0M151.4 386.9h0M168.6 402.6h0M162.3 407.7h0M148.0 399.1h0M142.4 401.2h0M151.0 387.7h0M161.6 400.5h0M152.2 355.3h0M148.6 373.6h0M148.7 399.8h0M155.1 406.1h0M152.7 408.6h0M155.7 390.8h0M147.2 371.5h0M142.3 362.7h0M150.5 376.8h0M152.4 394.9h0M152.4 401.9h0M150.7 362.6h0M145.2 403.9h0M141.4 398.8h0M152.1 385.5h0M148.9 382.1h0M152.6 341.7h0M144.1 394.6h0M143.3 407.6h0M148.1 405.0h0M150.7 366.5h0M153.5 377.9h0M153.5 396.9h0M149.1 372.0h0M158.0 400.5h0M143.9 402.5h0M158.1 402.2h0M158.8 408.0h0M150.6 371.6h0M157.1 401.4h0M153.1 398.8h0M149.4 402.2h0M138.6 396.7h0M149.6 396.8h0M148.4 391.6h0M145.1 399.8h0M167.5 405.4h0M159.3 391.2h0M156.2 407.2h0M144.8 400.7h0M148.8 384.3h0M157.3 384.8h0M152.1 391.5h0M152.8 386.8h0M142.3 394.2h0M161.4 396.3h0M152.9 338.1h0M155.9 342.9h0M153.9 406.2h0M159.2 403.0h0M152.0 395.0h0M152.4 407.6h0M141.7 407.3h0M159.3 395.2h0M129.2 406.3h0M145.2 356.9h0M149.5 406.9h0M149.2 377.4h0M139.2 402.9h0M139.9 399.7h0M161.6 403.1h0M153.5 391.4h0M154.8 391.0h0M154.5 404.1h0M155.9 406.5h0M152.7 377.7h0M148.0 376.9h0M146.5 402.8h0M152.0 372.1h0M152.1 362.5h0M157.3 404.1h0M148.5 407.5h0M160.6 403.0h0M142.3 394.2h0M145.6 397.1h0M152.0 364.6h0M158.2 401.2h0M156.9 401.7h0M161.6 403.1h0M147.5 399.2h0M151.7 368.0h0M152.7 351.3h0M150.4 407.3h0M142.9 407.4h0M150.2 362.3h0M143.3 405.4h0M150.9 389.0h0M142.2 408.6h0M144.7 402.2h0M149.7 385.8h0M152.5 399.0h0M162.2 406.8h0M154.3 389.5h0M149.8 406.1h0M150.9 395.4h0M153.9 398.0h0M146.3 405.9h0M141.6 405.2h0M144.3 371.0h0M148.6 384.5h0M152.0 404.5h0M155.9 397.7h0M153.5 387.8h0M156.5 408.9h0M156.1 383.4h0M147.5 395.1h0M147.7 400.2h0M159.9 409.2h0M143.2 405.0h0M151.5 393.9h0M134.9 406.6h0M163.9 405.2h0M158.3 339.1h0M150.9 353.3h0M161.1 369.8h0M150.4 398.1h0M154.2 382.3h0M165.9 406.2h0M151.5 377.9h0M144.0 385.2h0M157.1 402.9h0M139.5 392.9h0M151.3 390.8h0M155.7 389.2h0M147.9 395.0h0M149.1 409.0h0M159.6 398.7h0M124.6 406.8h0M149.2 346.9h0M169.4 400.6h0M145.1 383.3h0M144.7 408.1h0M153.5 406.9h0M149.7 393.9h0M147.8 361.2h0M145.9 389.6h0M150.2 384.3h0M154.5 403.3h0M151.9 393.3h0M156.8 399.2h0M140.1 402.5h0M139.4 396.9h0M151.8 383.4h0M159.4 377.9h0M160.7 407.3h0M151.7 404.6h0M160.9 409.1h0M161.0 398.4h0M148.2 393.0h0M150.8 342.9h0M141.9 364.7h0M155.2 391.3h0M166.1 400.5h0M171.2 408.6h0M145.7 400.5h0M161.2 401.4h0M148.9 408.3h0M151.7 395.0h0M146.1 365.7h0M138.0 395.9h0M149.6 396.2h0M150.1 403.2h0M137.1 399.1h0M148.1 389.6h0M161.2 402.6h0M149.5 408.0h0M149.1 397.4h0M156.2 394.1h0M149.1 379.9h0M136.9 395.6h0M134.0 407.3h0M142.8 402.8h0M154.8 351.1h0M155.9 405.1h0M151.3 395.0h0M161.7 405.9h0M154.7 367.8h0M145.6 406.2h0M154.7 396.5h0M159.9 379.6h0M159.1 407.1h0M160.2 404.5h0M152.0 407.1h0M151.8 377.2h0M157.6 406.8h0M154.5 408.8h0M151.3 384.7h0M147.1 344.1h0M148.9 368.2h0M149.5 387.0h0M168.6 409.1h0M148.3 391.2h0M156.5 407.1h0M144.9 363.7h0M141.0 400.2h0M160.9 400.4h0M150.9 391.3h0M146.8 395.9h0M154.1 382.8h0M150.1 402.6h0M151.0 399.3h0M151.1 391.9h0M148.6 387.6h0M152.7 400.9h0M148.3 407.1h0M148.7 404.1h0M128.1 408.3h0M150.6 390.8h0M160.0 407.1h0M161.8 407.7h0M153.3 394.8h0M151.2 374.9h0M149.8 401.0h0M152.2 388.2h0M150.2 396.3h0M147.6 401.5h0M159.1 403.1h0M151.1 397.2h0M149.6 398.1h0M143.8 399.0h0M145.4 406.0h0M153.6 400.2h0M147.0 392.2h0M151.2 386.9h0M160.4 406.9h0M135.0 405.6h0M148.5 406.0h0M150.2 397.7h0M151.8 398.4h0M147.9 387.1h0M140.5 407.9h0M149.9 401.7h0M145.6 398.7h0M157.7 391.5h0M142.9 409.2h0M152.8 392.1h0M152.5 380.8h0M143.0 367.7h0M160.1 396.5h0M151.6 375.0h0M149.1 370.4h0M152.2 398.3h0M149.2 406.5h0M153.3 379.7h0M152.8 355.2h0M146.1 375.1h0M147.6 370.1h0M154.4 403.5h0M153.9 405.8h0M145.1 400.8h0M149.8 377.7h0M149.9 393.7h0M143.5 407.6h0M150.8 385.1h0M141.4 395.8h0M152.7 371.5h0M149.5 400.6h0M148.9 361.1h0M145.1 407.9h0M143.0 407.5h0M146.5 407.0h0M152.9 397.3h0M151.2 328.3h0M137.1 399.5h0M162.0 406.0h0M153.1 400.8h0M149.3 391.0h0M154.9 393.0h0M144.6 370.9h0M156.2 408.8h0M151.8 397.8h0M150.1 385.2h0M159.1 400.0h0M153.1 348.2h0M156.9 401.8h0M159.9 408.2h0M148.3 350.3h0M142.5 408.0h0M154.7 401.7h0M150.8 398.6h0M139.0 403.5h0M153.1 408.5h0M147.6 363.8h0M141.5 408.6h0M148.9 359.6h0M153.4 389.9h0M151.6 398.7h0M152.6 375.8h0M157.2 382.6h0M148.8 400.1h0M154.5 369.4h0M152.7 377.1h0M153.9 396.8h0M137.6 403.6h0M156.5 358.6h0M154.3 409.0h0M156.8 407.2h0M151.7 396.0h0M137.1 400.6h0M143.9 402.7h0M173.4 408.1h0M145.3 355.3h0M149.1 371.1h0M150.3 367.5h0M149.4 360.0h0M155.7 408.3h0M151.6 400.9h0M157.7 402.4h0M148.6 383.4h0M152.6 394.7h0M157.3 398.6h0M154.9 403.7h0M178.0 404.5h0M135.2 398.4h0M143.9 373.5h0M156.7 397.8h0M144.0 403.4h0M158.7 376.9h0M153.2 366.7h0M147.2 408.7h0M146.9 390.7h0M146.9 404.7h0M151.2 388.4h0M146.5 402.8h0M148.3 402.9h0M168.2 408.9h0M151.6 402.7h0M148.3 400.2h0M155.8 352.3h0M149.7 384.8h0M149.6 393.6h0M151.7 398.6h0M161.5 409.1h0M153.3 372.9h0M147.0 401.1h0M150.6 393.9h0M152.1 370.9h0M150.5 404.8h0M136.3 399.1h0M152.5 388.8h0M154.6 394.8h0M159.3 398.1h0M155.8 390.7h0M150.8 402.9h0M138.4 400.9h0M150.3 397.2h0M139.5 405.5h0M152.1 408.4h0M143.2 395.2h0M148.0 391.3h0M154.3 386.5h0M154.5 404.1h0M154.7 393.2h0M148.1 384.8h0M150.7 408.9h0M155.6 372.9h0M160.4 388.1h0M137.7 404.2h0M153.3 364.7h0M160.5 405.6h0M144.3 407.3h0M157.8 390.3h0M136.8 406.4h0M162.7 394.8h0M152.9 382.0h0M150.8 408.4h0M152.3 381.3h0M147.3 382.7h0M146.9 390.3h0M156.7 384.4h0M146.7 397.8h0M149.2 408.0h0M159.2 408.2h0M138.1 382.6h0M148.9 377.1h0M151.2 369.7h0M142.6 396.7h0M143.7 405.0h0M146.2 365.5h0M146.8 402.4h0M154.2 395.7h0M149.2 405.3h0M149.4 390.0h0M145.6 386.8h0M152.2 397.1h0M157.2 403.2h0M159.9 401.9h0M164.3 402.5h0M158.2 405.8h0M158.5 408.1h0M155.7 399.8h0M159.1 406.9h0M153.3 404.7h0M150.3 397.9h0M151.0 381.7h0M146.4 403.3h0M149.3 395.9h0M137.4 396.8h0M162.7 406.8h0M151.9 376.0h0M146.0 404.5h0M134.2 409.2h0M144.5 405.8h0M151.2 407.4h0M155.1 392.3h0M153.3 324.2h0M150.9 408.7h0M153.8 398.9h0M151.0 384.8h0M144.1 402.9h0M148.5 396.7h0M150.4 370.5h0M150.7 383.2h0M148.3 396.3h0M156.1 406.8h0M148.1 407.5h0M144.1 397.6h0M151.0 388.3h0M140.2 396.1h0M159.3 405.4h0M160.7 397.3h0M157.3 405.6h0M150.1 395.8h0M147.0 407.7h0M147.6 398.0h0M147.7 402.6h0M149.5 363.3h0M148.1 394.0h0M151.9 404.2h0M150.9 383.4h0M151.3 356.4h0M158.2 385.9h0M169.4 406.4h0M145.6 408.4h0M149.6 404.8h0M141.6 407.0h0M169.9 408.7h0M140.8 399.7h0M143.7 387.6h0M128.8 403.6h0M138.8 398.7h0M145.3 369.4h0M146.8 384.9h0M150.3 346.5h0M154.6 387.6h0M149.6 399.2h0M138.6 399.4h0M157.1 398.5h0M140.5 387.9h0M150.3 380.7h0M166.4 403.4h0M150.7 383.6h0M148.2 390.9h0M152.8 407.5h0M140.3 402.1h0M140.2 401.6h0M142.0 389.8h0M146.2 369.1h0M150.1 409.0h0M147.8 363.6h0M148.9 408.1h0M151.9 393.9h0M162.4 408.4h0M156.9 406.5h0M165.3 409.1h0M142.4 398.1h0M143.6 378.8h0M140.6 407.4h0M147.2 408.6h0M146.4 395.6h0M146.9 387.5h0M150.6 361.7h0M142.5 401.5h0M154.7 408.6h0M148.0 396.7h0M148.8 389.9h0M157.0 399.6h0M147.6 407.8h0M148.9 368.7h0M163.7 391.8h0M137.3 402.4h0M150.7 375.7h0M149.7 406.9h0M153.5 397.6h0M148.6 404.0h0M155.5 352.6h0M141.7 405.5h0M149.8 395.7h0M153.4 402.8h0M153.6 369.6h0M152.0 398.3h0M150.3 405.8h0M154.6 368.4h0M158.4 406.1h0M132.0 406.9h0M152.6 396.0h0M158.3 409.0h0M164.3 384.6h0M148.4 397.4h0M158.8 408.6h0M155.4 405.0h0M147.6 378.6h0M149.6 358.8h0M145.7 400.0h0M151.8 407.2h0M160.2 408.6h0M147.0 378.4h0M150.8 393.5h0M148.1 399.5h0M156.9 399.8h0M144.8 403.4h0M154.2 377.8h0M154.0 382.9h0M147.8 360.4h0M159.3 408.2h0M138.1 408.8h0M148.1 379.4h0M163.0 408.3h0M148.1 392.5h0M144.8 402.7h0M151.1 383.9h0M150.5 403.5h0M148.6 397.2h0M155.6 395.9h0M152.2 379.1h0M147.1 376.3h0M152.0 348.3h0M152.4 350.2h0M149.7 407.6h0M165.4 382.1h0M127.0 405.7h0M165.6 404.6h0M150.7 385.3h0M154.6 364.5h0M138.7 392.0h0M155.2 372.8h0M149.0 362.7h0M150.1 403.1h0M149.8 406.0h0M153.7 391.4h0M159.0 385.2h0M151.9 383.1h0M153.7 397.9h0M150.3 408.6h0M160.8 407.2h0M158.1 393.3h0M157.7 407.1h0M142.7 395.5h0M133.7 404.2h0M161.1 394.3h0M138.9 408.3h0M153.4 390.4h0M152.9 397.0h0M160.1 398.0h0M162.0 391.5h0M149.3 403.1h0M151.9 386.2h0M159.8 408.3h0M152.3 384.5h0M161.2 394.5h0M149.9 381.6h0M148.0 387.9h0M143.8 382.5h0M156.1 403.0h0M147.0 407.6h0M150.7 401.9h0M154.7 367.7h0M141.6 401.1h0M146.9 406.6h0M150.6 385.8h0M154.1 383.3h0M153.6 397.1h0M150.1 401.4h0M149.6 386.7h0M151.1 391.8h0M154.6 406.9h0M145.6 406.5h0M152.2 409.0h0M152.4 401.7h0M151.1 382.3h0M150.5 394.6h0M156.5 400.7h0M147.6 400.4h0M148.5 394.3h0M157.1 393.0h0M144.4 385.9h0M162.3 395.1h0M154.4 392.4h0M149.3 394.5h0M153.9 407.3h0M147.1 371.3h0M151.7 372.7h0M147.8 398.6h0M156.5 398.2h0M150.4 393.9h0M149.5 386.9h0M154.8 389.3h0M146.6 407.1h0M149.3 349.1h0M157.8 368.9h0M149.6 388.3h0M157.6 395.7h0M130.4 404.1h0M143.0 395.1h0M146.7 394.5h0M151.8 379.0h0M137.5 407.7h0M151.5 339.6h0M163.2 406.2h0M146.3 408.4h0M161.0 403.0h0M159.1 392.1h0M154.8 373.8h0M152.1 378.0h0M143.8 406.8h0M155.5 376.9h0M151.2 405.3h0M152.5 395.7h0M153.5 392.7h0M151.7 399.2h0M161.6 393.4h0M154.4 396.4h0M147.4 393.8h0M146.5 394.7h0M150.2 401.3h0M138.7 408.3h0M165.0 401.6h0M158.8 407.9h0M150.1 399.9h0M140.1 408.8h0M145.1 405.6h0M152.5 381.1h0M163.3 405.3h0M146.9 405.0h0M147.2 400.5h0M149.7 371.6h0M146.2 406.8h0M146.3 379.9h0M158.9 407.7h0M159.0 404.5h0M145.0 404.6h0M160.3 397.0h0M147.4 406.7h0M145.8 409.2h0M143.6 404.2h0M157.2 404.8h0M152.8 406.6h0M148.2 397.3h0M147.0 382.9h0M160.4 404.1h0M162.9 392.4h0M154.8 363.3h0M149.1 357.8h0M145.4 393.8h0M154.7 383.0h0M145.0 402.7h0M147.2 405.8h0M165.6 407.8h0M160.0 394.0h0M155.3 405.2h0M157.8 399.7h0M138.6 407.2h0M139.3 391.5h0M167.7 405.0h0M144.4 393.9h0M152.0 393.0h0M152.7 400.5h0M139.4 404.5h0" stroke="#858585" stroke-width="1.2" stroke-linecap="round" fill="none"/>
<path d="M144.4 405.5h0M141.4 406.4h0M157.1 400.2h0M146.9 403.6h0M155.6 393.6h0M152.1 369.1h0M157.1 408.6h0M156.8 405.2h0M136.8 408.5h0M149.6 408.8h0M144.3 388.8h0M147.3 404.8h0M162.3 393.2h0M150.7 401.8h0M139.5 408.9h0M159.9 400.7h0M148.3 393.9h0M142.4 405.3h0M145.2 387.1h0M152.6 402.5h0M142.1 396.6h0M144.9 389.8h0M156.6 396.3h0M144.4 385.4h0M160.3 407.6h0M146.9 404.2h0M153.8 387.2h0M163.2 408.3h0M152.4 391.2h0M141.2 397.0h0M152.1 384.9h0M157.3 396.2h0M167.5 404.0h0M144.7 396.0h0M143.7 408.9h0M159.8 397.3h0M142.8 388.9h0M148.2 377.9h0M145.0 361.5h0M151.0 381.0h0M154.5 404.5h0M149.7 399.6h0M162.8 407.9h0M139.7 408.3h0M149.2 402.7h0M144.8 405.9h0M143.6 403.2h0M157.0 404.7h0M153.0 403.7h0M149.4 405.6h0M138.3 405.5h0M151.0 398.6h0M149.1 362.8h0M151.3 407.2h0M158.8 394.6h0M155.4 389.6h0M172.1 404.5h0M146.2 402.1h0M143.3 406.7h0M151.5 382.2h0M141.2 407.0h0M151.0 381.8h0M151.8 401.0h0M151.7 400.3h0M141.0 401.6h0M157.6 402.4h0M151.4 397.1h0M151.4 400.5h0M145.3 390.7h0M172.2 408.0h0M151.1 407.3h0M157.3 407.2h0M158.6 406.2h0M150.3 374.7h0M144.5 372.4h0M153.5 387.2h0M144.4 393.0h0M144.3 407.9h0M142.0 393.1h0M145.0 385.8h0M146.9 398.4h0M146.3 404.9h0M144.4 406.4h0M146.8 405.2h0M152.8 388.5h0M149.8 344.4h0M140.7 402.2h0M153.3 370.8h0M154.0 379.3h0M144.6 393.3h0M147.2 409.1h0M150.5 371.5h0M149.0 403.9h0M149.7 381.9h0M157.7 405.8h0M152.4 391.1h0M149.3 394.9h0M161.3 409.1h0M168.7 406.0h0M164.2 405.8h0M149.5 392.2h0M149.3 385.7h0M151.0 383.3h0M146.2 408.1h0M158.9 392.2h0M146.5 408.9h0M153.6 391.7h0M153.7 401.0h0M148.6 390.2h0M153.8 387.5h0M148.5 402.4h0M153.3 404.0h0M156.4 386.7h0M151.7 403.7h0M151.0 392.3h0M156.8 392.3h0M153.6 366.1h0M155.8 393.8h0M155.6 408.9h0M154.5 400.7h0M153.3 409.2h0M155.5 383.9h0M152.0 356.4h0M148.2 407.6h0M147.8 395.9h0M150.4 397.9h0M146.9 366.7h0M151.8 402.7h0M157.8 393.5h0M148.4 402.4h0M144.1 390.3h0M148.6 400.9h0M151.4 407.6h0M142.2 408.1h0M153.2 401.9h0M166.8 408.8h0M149.1 380.5h0M149.6 388.1h0M145.9 400.9h0M146.4 406.6h0M132.2 402.7h0M142.9 391.7h0M150.7 398.0h0M138.6 401.5h0M154.8 408.4h0M147.2 406.3h0M148.1 403.3h0M143.9 400.6h0M153.4 406.5h0M142.0 393.4h0M157.8 372.8h0M152.7 385.3h0M137.2 398.8h0M159.6 384.2h0M156.4 361.6h0M154.0 404.1h0M160.0 408.6h0M142.3 384.5h0M148.4 396.7h0M149.8 391.7h0M152.2 403.9h0M147.5 405.7h0M143.8 404.3h0M149.5 401.6h0M155.5 398.3h0M161.2 408.9h0M144.1 400.1h0M143.3 408.9h0M155.7 397.4h0M146.4 404.2h0M155.0 381.0h0M140.8 399.2h0M159.8 405.3h0M159.5 406.6h0M154.4 392.0h0M155.2 392.5h0M148.1 392.6h0M155.6 372.9h0M149.5 386.2h0M151.7 407.8h0M163.8 405.6h0M152.2 393.3h0M161.8 408.4h0M149.9 372.4h0M140.6 405.8h0M140.5 390.3h0M157.4 404.0h0M148.3 401.2h0M148.1 398.4h0M164.0 399.0h0M143.4 407.6h0M156.5 372.2h0M149.9 408.2h0M129.8 409.2h0M157.8 396.7h0M147.9 365.4h0M151.0 389.6h0M163.3 398.5h0M149.3 407.2h0M151.3 374.5h0M155.4 408.9h0M146.8 408.0h0M145.0 391.6h0M146.9 403.4h0M136.9 401.5h0M157.3 396.5h0M147.4 376.2h0M147.8 406.9h0M150.1 397.7h0M149.4 402.0h0M148.3 391.3h0M166.2 396.0h0M154.0 386.8h0M164.1 402.4h0M145.1 406.9h0M152.3 399.5h0M148.8 370.8h0M152.8 388.4h0M139.3 402.3h0M143.1 404.4h0M160.4 405.2h0M160.2 408.0h0M157.4 368.2h0M154.3 384.9h0M155.3 386.8h0M150.2 389.8h0M158.0 395.2h0M150.8 391.6h0M150.1 403.3h0M155.3 408.7h0M152.8 406.2h0M151.4 403.3h0M150.0 397.8h0M148.8 368.1h0M148.9 379.4h0M151.5 396.0h0M160.8 408.9h0M158.2 402.3h0M146.4 368.7h0M146.8 379.1h0M143.2 398.2h0M158.6 407.5h0M163.3 406.0h0M156.3 393.7h0M154.5 406.0h0M147.4 405.6h0M152.8 402.8h0M147.9 323.6h0M152.4 387.7h0M143.5 387.3h0M160.5 397.2h0M148.0 397.7h0M145.7 394.0h0M151.2 391.6h0M150.0 380.7h0M148.8 401.3h0M156.6 400.6h0M150.2 403.8h0M159.9 408.1h0M152.1 400.5h0M164.8 396.1h0M153.4 380.2h0M137.1 406.2h0M155.6 407.4h0M152.1 405.0h0M156.7 387.6h0M150.2 383.4h0M152.5 407.5h0M155.9 401.9h0M152.8 384.1h0M148.7 398.7h0M154.9 379.8h0M150.4 336.4h0M149.1 381.9h0M148.6 375.4h0M151.8 391.1h0M158.8 382.3h0M148.9 404.9h0M167.9 406.3h0M147.4 391.1h0M160.3 408.2h0M153.9 357.9h0M145.0 388.1h0M146.9 399.0h0M142.3 379.5h0M153.6 399.9h0M160.4 399.0h0M150.1 399.7h0M144.2 409.0h0M153.2 400.7h0M142.5 408.5h0M153.1 382.6h0M150.2 403.0h0M143.4 394.5h0M152.6 384.3h0M147.8 403.9h0M147.8 408.6h0M149.5 403.7h0M147.6 371.7h0M155.6 404.1h0M145.7 384.4h0M150.5 377.7h0M170.0 406.4h0M152.0 384.3h0M152.7 387.6h0M139.7 407.6h0M149.6 405.8h0M147.8 394.5h0M161.6 400.9h0M145.1 402.2h0M137.9 407.1h0M146.8 408.6h0M154.3 398.7h0M154.1 387.2h0M153.6 368.4h0M154.2 397.7h0M155.8 363.8h0M140.7 406.5h0M150.2 386.7h0M149.0 400.7h0M152.2 397.8h0M154.6 400.8h0M144.3 409.1h0M159.3 404.2h0M156.2 397.4h0M145.7 401.4h0M152.7 391.0h0M149.4 381.1h0M152.9 371.0h0M149.5 372.9h0M147.1 402.7h0M153.7 384.2h0M153.6 393.2h0M154.7 395.3h0M145.9 380.8h0M143.5 403.3h0M146.6 378.6h0M143.5 403.9h0M148.4 395.7h0M154.1 363.8h0M153.4 399.8h0M159.0 405.1h0M152.6 389.5h0M160.9 399.2h0M134.0 400.6h0M143.1 394.8h0M148.7 405.4h0M153.5 393.1h0M153.6 370.8h0M153.6 407.3h0M152.6 397.2h0M148.7 381.0h0M141.4 401.0h0M149.7 364.9h0M155.5 363.8h0M150.2 358.9h0M145.5 384.5h0M146.0 403.3h0M144.0 406.5h0M152.9 409.2h0M153.1 366.0h0M166.7 398.1h0M147.9 404.4h0M152.4 396.3h0M156.3 403.2h0M150.9 400.5h0M152.1 369.5h0M163.3 399.9h0M143.8 402.4h0M156.7 403.0h0M151.3 394.1h0M136.3 400.5h0M154.9 395.2h0M154.6 375.0h0M151.7 405.8h0M151.2 404.6h0M143.9 401.7h0M149.9 342.3h0M153.9 395.9h0M146.5 404.7h0M160.3 396.8h0M151.1 403.1h0M141.5 389.2h0M149.3 405.6h0M154.5 364.3h0M150.1 395.4h0M140.6 409.1h0M149.0 385.1h0M146.9 387.5h0M121.2 408.9h0M138.1 402.5h0M139.7 403.1h0M152.8 385.1h0M145.5 390.0h0M146.2 387.2h0M134.2 408.2h0M156.1 380.7h0M154.0 402.1h0M153.6 397.2h0M146.5 398.0h0M145.0 386.8h0M149.2 394.0h0M153.8 350.1h0M153.1 382.3h0M152.5 408.6h0M142.5 406.1h0M147.9 386.3h0M143.8 387.1h0M159.9 387.1h0M149.8 408.1h0M145.5 407.8h0M145.3 402.7h0M151.0 370.2h0M154.2 353.6h0M148.0 391.3h0M149.1 383.2h0M157.3 400.9h0M149.0 401.3h0M160.5 400.5h0M146.0 394.3h0M155.9 408.6h0M154.4 388.6h0M146.0 402.5h0M159.6 409.0h0M147.1 382.4h0M160.0 370.8h0M143.4 395.0h0M141.8 408.2h0M148.3 328.3h0M147.0 389.9h0M154.0 395.1h0M142.5 403.0h0M148.3 406.2h0M158.1 403.0h0M146.6 396.6h0M146.9 399.1h0M154.1 390.3h0M150.8 408.1h0M152.4 390.3h0M138.5 402.6h0M138.6 408.0h0M163.0 405.3h0M144.1 391.8h0M169.0 409.0h0M148.7 394.5h0M160.3 397.0h0M158.5 400.5h0M150.3 392.5h0M148.0 393.0h0M155.1 362.6h0M147.1 341.9h0M153.8 391.1h0M149.1 407.4h0M156.0 376.0h0M154.1 400.1h0M145.7 380.8h0M149.1 367.3h0M159.7 408.5h0M141.8 384.2h0M148.8 407.6h0M153.2 399.6h0M147.3 396.8h0M151.3 376.0h0M146.2 400.0h0M148.1 401.7h0M151.4 371.6h0M156.6 396.2h0M139.6 408.1h0M154.3 402.2h0M154.0 385.9h0M158.4 385.3h0M152.8 408.6h0M154.6 408.9h0M149.5 394.1h0M158.5 382.8h0M155.2 402.3h0M151.9 379.6h0M144.6 394.2h0M158.6 400.4h0M154.8 393.9h0M143.4 408.0h0M151.5 401.2h0M150.1 394.1h0M160.3 408.7h0M155.0 389.1h0M130.8 399.3h0M144.2 401.2h0M156.8 395.4h0M129.4 407.9h0M155.9 403.2h0M153.5 394.1h0M150.6 361.2h0M144.3 402.7h0M150.3 403.7h0M145.9 399.7h0M140.3 407.7h0M148.9 388.7h0M151.6 401.6h0M148.7 365.9h0M133.8 403.5h0M156.9 407.1h0M151.7 373.5h0M149.7 408.5h0M148.2 409.1h0M151.2 359.1h0M134.0 404.2h0M157.3 406.8h0M138.0 404.4h0M149.7 389.8h0M150.1 351.9h0M145.7 406.4h0M146.6 398.6h0M153.3 383.8h0M154.8 400.3h0M142.4 403.0h0M143.8 381.5h0M143.0 393.2h0M148.1 403.8h0M155.9 389.8h0M160.2 386.0h0M144.5 387.6h0M152.5 399.5h0M156.2 391.9h0M154.8 400.7h0M157.7 375.5h0M154.4 362.0h0M150.3 358.5h0M158.4 406.5h0M150.0 383.9h0M147.3 389.8h0M151.4 404.6h0M149.4 375.1h0M157.2 400.5h0M143.4 407.1h0M150.6 385.7h0M148.7 406.7h0M140.9 406.8h0M154.7 395.0h0M146.2 369.2h0M151.7 390.3h0M154.5 358.7h0M146.5 401.5h0M154.1 407.4h0M154.6 399.2h0M156.2 394.4h0M153.7 375.8h0M155.6 374.8h0M141.4 398.9h0M165.8 398.2h0M159.0 400.4h0M162.3 409.0h0M144.4 391.9h0M161.2 405.2h0M155.6 405.4h0M149.2 396.8h0M146.9 381.4h0M151.9 375.7h0M150.6 398.7h0M146.6 387.3h0M163.4 406.9h0M157.1 398.1h0M150.7 407.9h0M154.2 396.3h0M155.0 374.1h0M149.2 354.4h0M140.6 400.4h0M145.5 392.4h0M149.2 402.6h0M161.5 399.1h0M151.4 394.2h0M149.3 402.5h0M140.2 398.8h0M152.3 396.6h0M151.5 381.9h0M149.8 403.9h0M146.2 385.8h0M152.9 376.7h0M152.3 399.7h0M160.8 407.6h0M151.4 407.7h0M151.2 367.4h0M149.7 393.9h0M151.8 388.5h0M151.8 405.3h0M152.7 386.2h0M152.7 389.0h0M147.7 399.3h0M149.9 407.1h0M143.4 401.4h0M150.3 381.0h0M149.6 388.4h0M139.8 402.6h0M152.9 394.9h0M166.3 401.4h0M149.9 394.0h0M135.9 406.9h0M148.0 408.5h0M160.1 403.2h0M150.8 404.2h0M146.1 405.8h0M160.4 399.1h0M157.4 394.3h0M149.8 372.0h0M158.4 398.5h0M145.8 380.1h0M153.5 358.0h0M160.1 399.8h0M156.9 404.2h0M162.2 392.5h0M150.0 406.7h0M159.0 407.8h0M147.6 404.0h0M150.1 397.7h0M162.1 405.2h0M157.6 385.3h0M146.8 361.4h0M145.9 404.7h0M159.4 408.0h0M157.8 397.6h0M165.6 406.4h0M155.1 404.9h0M160.2 397.8h0M141.4 403.3h0M148.7 374.9h0M143.8 407.1h0M148.8 406.2h0M151.3 364.1h0M147.7 382.9h0M154.0 405.9h0M153.3 363.2h0M150.4 374.1h0M147.6 374.0h0M157.8 392.5h0M163.5 400.8h0M160.2 376.8h0M151.8 404.6h0M150.1 376.2h0M150.3 401.1h0M159.8 399.4h0M143.4 407.7h0M162.2 401.0h0M150.3 399.7h0M154.9 404.4h0M149.1 401.0h0M140.5 399.1h0M145.5 387.7h0M153.9 395.1h0M138.4 403.4h0M164.2 407.4h0M143.8 405.4h0M146.1 396.6h0M154.6 407.1h0M150.7 388.1h0M153.6 401.3h0M154.4 402.9h0M145.8 408.5h0M148.1 358.1h0M151.1 381.2h0M145.1 398.8h0M155.0 393.9h0M162.2 409.2h0M149.5 394.5h0M150.3 382.8h0M150.0 390.6h0M137.8 402.4h0M148.7 407.6h0M156.9 406.8h0M168.0 395.5h0M151.9 396.0h0M143.9 341.9h0M178.0 404.9h0M150.4 400.1h0M148.7 409.1h0M144.3 408.4h0M153.0 397.9h0M149.4 396.9h0M141.5 379.5h0M148.5 370.2h0M151.9 407.6h0M165.3 406.3h0M148.9 398.1h0M148.6 401.9h0M155.5 376.1h0M150.3 407.9h0M163.7 406.7h0M153.3 387.7h0M133.7 400.7h0M132.0 404.0h0M146.6 397.0h0M148.9 405.8h0M140.3 384.6h0M149.9 402.8h0M148.1 401.8h0M141.1 394.6h0M149.6 343.0h0M142.9 402.4h0M145.5 362.2h0M147.7 409.2h0M138.4 397.0h0M151.0 404.6h0M146.2 394.4h0M143.2 390.1h0M152.2 398.3h0M154.6 395.0h0M137.8 409.2h0M138.9 405.3h0M155.2 392.4h0M163.2 391.0h0M150.6 365.1h0M152.2 390.8h0M156.3 375.0h0M133.6 406.4h0M160.4 401.2h0M150.6 357.5h0M156.3 401.5h0M157.1 387.2h0M152.8 385.1h0M139.9 365.6h0M148.0 390.1h0M160.7 407.8h0M146.7 400.7h0M154.0 382.4h0M142.8 408.0h0M154.5 402.7h0M141.6 390.7h0M146.2 385.8h0M159.4 385.7h0M142.9 394.8h0M152.3 404.8h0M158.3 393.0h0M162.3 405.6h0M150.7 409.0h0M146.5 404.1h0M147.4 394.3h0M151.8 396.1h0M150.3 408.8h0M154.2 403.9h0M144.7 400.7h0M158.3 379.0h0M149.6 375.9h0M145.3 396.7h0M154.6 407.6h0M158.6 400.4h0M151.4 400.8h0M141.4 409.0h0M148.8 394.7h0M154.0 375.3h0M147.6 395.6h0M153.5 355.8h0M150.2 404.1h0M161.5 406.4h0M148.2 405.0h0M153.3 376.6h0M147.7 395.3h0M159.4 401.8h0M142.9 371.2h0M156.2 404.4h0M151.9 396.5h0M141.4 386.6h0M149.7 402.0h0M139.2 397.6h0M152.5 395.5h0M139.4 399.3h0M163.2 399.7h0M174.8 408.7h0M142.5 388.1h0M148.7 402.1h0M147.0 406.5h0M151.3 402.6h0M156.6 389.4h0M140.9 395.0h0M157.1 402.2h0M157.4 406.3h0M141.8 407.8h0M159.3 390.9h0M155.7 400.3h0M151.6 395.6h0M145.8 359.4h0M153.9 402.3h0M156.6 360.6h0M154.9 393.6h0M159.6 405.1h0M154.7 399.5h0M149.4 351.1h0M148.2 392.4h0M148.2 400.6h0M146.0 373.5h0M142.5 385.4h0M149.7 369.7h0M157.8 407.0h0M148.0 407.1h0M142.4 405.8h0M150.3 403.6h0M156.6 396.2h0M142.0 354.0h0M148.8 385.6h0M147.5 396.0h0M150.3 396.7h0M158.5 403.2h0M150.9 408.2h0" stroke="#858585" stroke-width="1.2" stroke-linecap="round" fill="none"/>
<path d="M147.4 398.5h0M151.1 370.0h0M146.3 399.6h0M162.7 407.4h0M147.1 400.0h0M149.1 407.0h0M159.0 406.5h0M146.4 376.9h0M145.3 394.5h0M147.1 402.9h0M158.5 398.0h0M164.8 399.2h0M162.3 405.1h0M135.4 405.9h0M154.8 375.0h0M145.2 402.7h0M143.6 409.0h0M146.8 372.6h0M156.5 392.0h0M145.4 390.1h0M141.8 361.9h0M161.6 395.1h0M158.0 404.6h0M138.7 404.6h0M156.2 398.8h0M157.9 387.9h0M150.9 390.5h0M154.0 396.6h0M150.6 399.6h0M162.7 392.9h0M149.5 400.6h0M147.9 386.0h0M139.0 407.0h0M145.7 401.4h0M155.5 355.5h0M149.8 405.6h0M153.6 405.0h0M144.3 401.5h0M149.2 397.6h0M154.1 403.1h0M149.7 401.6h0M151.9 383.8h0M154.4 373.4h0M157.4 389.7h0M152.7 385.9h0M144.1 402.5h0M150.3 381.3h0M143.5 399.5h0M152.7 394.2h0M153.1 395.1h0M150.7 394.7h0M149.0 384.7h0M150.3 408.2h0M152.5 406.1h0M150.6 392.2h0M142.6 376.4h0M151.8 373.5h0M161.6 406.0h0M150.9 391.7h0M160.6 383.4h0M154.1 384.9h0M149.6 370.9h0M155.8 395.4h0M143.1 396.1h0M162.7 408.5h0M143.7 405.6h0M139.2 398.1h0M163.1 403.2h0M171.3 408.8h0M150.3 406.3h0M158.6 391.9h0M159.5 400.8h0M138.4 405.0h0M144.1 393.4h0M145.3 407.7h0M147.8 373.0h0M152.9 371.2h0M145.3 382.8h0M137.8 402.5h0M131.6 407.0h0M149.5 385.3h0M150.0 384.6h0M153.9 388.5h0M165.7 389.5h0M148.2 385.1h0M150.8 404.0h0M153.6 383.6h0M148.3 381.1h0M143.3 407.1h0M158.4 389.7h0M163.9 406.2h0M149.6 382.8h0M152.9 343.3h0M141.9 403.2h0M163.7 401.3h0M143.0 356.0h0M148.2 393.7h0M156.0 389.1h0M148.8 406.4h0M149.0 403.0h0M161.2 397.4h0M145.2 397.0h0M144.0 405.5h0M151.1 334.7h0M143.0 409.0h0M152.6 396.5h0M150.0 394.7h0M150.9 355.9h0M142.9 403.2h0M154.2 404.0h0M164.4 404.1h0M158.0 387.2h0M152.5 401.1h0M149.8 391.1h0M156.1 385.2h0M141.3 407.0h0M145.9 391.3h0M152.7 387.6h0M147.5 391.5h0M151.3 373.1h0M149.5 397.3h0M156.2 391.7h0M138.3 403.9h0M153.1 392.4h0M147.9 397.2h0M148.3 353.5h0M152.9 337.4h0M137.7 408.2h0M147.9 402.3h0M163.0 393.0h0M135.7 391.7h0M136.1 397.6h0M157.4 405.0h0M150.3 392.7h0M160.5 396.3h0M149.5 335.9h0M149.1 384.6h0M147.2 406.4h0M148.0 402.0h0M153.5 392.6h0M144.5 373.0h0M147.2 401.7h0M148.2 401.5h0M148.6 389.0h0M144.4 390.3h0M159.2 382.7h0M144.7 389.0h0M152.7 393.3h0M149.7 325.2h0M148.3 379.1h0M143.5 394.7h0M153.6 398.8h0M137.0 401.3h0M149.2 373.6h0M150.5 365.3h0M150.2 378.7h0M158.4 408.9h0M146.2 399.0h0M152.4 401.6h0M143.9 368.7h0M158.5 403.6h0M150.7 396.5h0M154.7 395.1h0M159.1 403.6h0M162.4 405.6h0M153.6 408.1h0M146.1 389.2h0M140.9 403.0h0M155.7 379.7h0M143.0 404.5h0M147.5 374.1h0M150.8 403.2h0M136.5 402.2h0M153.6 405.1h0M153.5 398.2h0M153.4 399.5h0M147.1 401.2h0M169.9 408.9h0M152.3 408.4h0M151.4 402.6h0M150.7 404.5h0M142.1 407.3h0M158.0 398.1h0M147.0 406.4h0M153.7 383.0h0M152.7 387.3h0M145.8 389.0h0M150.2 407.9h0M147.4 398.0h0M151.9 388.5h0M150.5 404.8h0M156.0 396.2h0M150.6 397.4h0M143.7 400.3h0M165.8 400.5h0M151.5 403.5h0M151.5 386.0h0M141.4 389.6h0M149.5 376.1h0M164.4 406.4h0M146.7 361.2h0M156.1 404.7h0M149.5 394.0h0M148.1 408.0h0M154.9 372.8h0M151.8 389.0h0M146.7 404.7h0M162.6 401.0h0M143.0 407.3h0M148.9 404.3h0M153.4 376.1h0M164.5 404.2h0M149.4 361.1h0M149.0 374.6h0M154.0 404.9h0M157.7 363.3h0M160.9 408.5h0M147.4 397.3h0M154.9 409.0h0M149.6 384.0h0M151.7 400.7h0M160.5 379.9h0M154.5 384.7h0M159.8 406.8h0M157.5 396.6h0M147.9 378.9h0M143.2 402.9h0M150.1 393.1h0M148.8 391.3h0M155.8 386.4h0M147.4 404.3h0M156.6 371.9h0M148.0 405.9h0M144.4 409.0h0M168.5 407.8h0M160.0 355.5h0M135.7 406.2h0M153.7 383.8h0M153.5 372.6h0M154.5 393.8h0M150.1 400.9h0M158.1 402.2h0M150.0 370.3h0M145.3 396.7h0M141.5 402.1h0M140.9 401.7h0M149.7 403.3h0M149.0 403.0h0M142.0 405.3h0M151.1 405.1h0M144.7 405.7h0M140.1 408.0h0M153.9 370.8h0M153.3 405.9h0M152.5 395.6h0M153.9 408.4h0M158.4 397.5h0M153.6 393.8h0M148.0 392.1h0M150.2 353.0h0M160.0 396.9h0M153.3 408.3h0M137.3 402.7h0M153.6 394.2h0M148.6 383.9h0M164.9 401.7h0M150.6 382.0h0M159.2 407.6h0M148.3 381.2h0M140.9 402.0h0M151.6 398.9h0M136.4 408.3h0M158.8 403.1h0M147.1 349.0h0M157.6 401.6h0M156.0 400.0h0M160.3 397.6h0M145.2 402.5h0M148.6 393.7h0M146.0 397.3h0M152.9 385.1h0M156.5 401.9h0M150.2 392.6h0M151.1 404.4h0M148.3 350.3h0M146.3 406.8h0M164.2 408.3h0M152.0 398.9h0M145.0 395.0h0M160.3 389.9h0M153.9 407.0h0M154.9 381.3h0M155.9 406.3h0M153.7 400.4h0M151.2 380.0h0M160.8 400.6h0M147.1 393.3h0M151.5 400.7h0M147.5 404.0h0M151.7 395.0h0M152.8 391.9h0M150.7 397.8h0M150.6 395.5h0M149.7 408.8h0M143.6 398.0h0M148.5 391.6h0M153.2 408.0h0M158.0 403.1h0M153.9 347.6h0M143.4 393.0h0M151.8 381.5h0M145.0 401.8h0M157.8 385.1h0M150.7 357.4h0M149.8 388.9h0M149.6 357.5h0M147.0 396.6h0M153.6 401.1h0M146.0 408.0h0M148.3 316.6h0M156.5 394.4h0M142.8 390.5h0M147.9 407.7h0M145.5 403.3h0M138.7 402.5h0M144.8 406.4h0M154.7 390.3h0M146.8 405.9h0M152.4 393.2h0M151.8 317.9h0M154.6 401.6h0M139.1 409.2h0M149.5 396.5h0M155.8 406.9h0M150.5 393.8h0M153.8 387.0h0M151.5 402.1h0M153.9 403.7h0M144.7 398.3h0M160.0 399.2h0M160.0 409.2h0M150.8 382.7h0M145.2 383.0h0M164.4 397.2h0M147.7 392.9h0M141.5 388.8h0M155.5 406.5h0M156.6 402.0h0M149.1 333.2h0M154.0 405.4h0M149.4 404.8h0M149.8 404.4h0M157.8 380.3h0M159.1 401.4h0M149.9 387.3h0M150.6 362.6h0M157.2 405.0h0M153.2 369.5h0M152.2 399.9h0M144.1 403.3h0M155.3 408.1h0M167.6 400.2h0M156.2 377.7h0M154.7 396.1h0M154.3 405.3h0M141.6 401.7h0M149.6 400.6h0M155.4 377.2h0M148.3 392.4h0M149.6 408.3h0M142.8 405.4h0M149.2 383.1h0M153.7 405.3h0M150.4 391.4h0M152.4 398.8h0M149.3 384.3h0M143.1 387.6h0M148.8 391.7h0M145.9 395.5h0M165.2 404.6h0M154.6 396.6h0M150.9 405.4h0M154.9 369.3h0M163.2 405.8h0M142.7 395.7h0M147.2 375.5h0M145.4 408.0h0M156.0 380.8h0M156.2 390.4h0M149.4 383.4h0M154.8 401.9h0M150.7 372.7h0M133.6 405.9h0M146.5 387.2h0M152.5 367.5h0M145.8 350.9h0M151.1 388.8h0M150.0 366.1h0M149.5 368.6h0M152.3 399.4h0M154.0 402.4h0M159.1 394.0h0M154.5 394.2h0M150.3 373.9h0M149.8 392.6h0M166.8 394.9h0M163.7 409.0h0M152.2 345.2h0M165.9 408.4h0M153.8 393.6h0M155.8 381.6h0M153.6 400.6h0M166.2 405.0h0M145.2 392.2h0M152.5 381.4h0M146.7 358.2h0M158.8 408.2h0M145.5 403.8h0M157.9 397.6h0M146.6 388.0h0M145.8 391.0h0M159.1 394.8h0M152.9 406.8h0M153.7 400.1h0M146.8 406.5h0M149.8 386.1h0M152.0 377.1h0M147.0 390.3h0M147.7 402.1h0M152.5 384.1h0M152.6 400.0h0M157.5 405.4h0M164.2 397.9h0M132.7 397.6h0M156.5 406.6h0M134.3 407.5h0M145.6 390.9h0M143.2 407.4h0M146.2 372.1h0M149.3 405.2h0M145.7 404.0h0M148.7 391.7h0M158.2 386.7h0M149.2 398.3h0M143.1 386.8h0M164.0 401.5h0M160.8 404.0h0M143.6 406.5h0M150.3 403.1h0M153.0 408.6h0M149.2 367.9h0M148.7 398.6h0M152.4 379.9h0M155.2 398.2h0M157.5 400.6h0M150.6 394.3h0M154.1 407.4h0M168.0 404.8h0M151.3 409.1h0M130.9 403.0h0M141.4 403.6h0M150.8 401.5h0M151.0 391.2h0M150.2 400.9h0M151.9 397.9h0M149.7 353.1h0M157.1 402.8h0M156.1 408.1h0M157.5 402.7h0M151.9 401.1h0M156.3 392.1h0M147.5 382.0h0M158.6 405.3h0M158.0 383.7h0M151.1 400.0h0M149.4 379.0h0M147.5 404.2h0M151.4 377.5h0M155.9 378.7h0M155.8 405.2h0M135.0 399.6h0M145.1 399.4h0M139.4 407.3h0M155.9 409.1h0M151.5 367.6h0M140.2 404.0h0M139.2 401.2h0M165.3 405.4h0M152.8 383.0h0M148.8 359.9h0M145.9 376.4h0M139.3 398.9h0M144.7 406.9h0M153.2 363.0h0M149.2 396.4h0M147.7 401.7h0M152.2 378.5h0M152.1 402.3h0M131.9 403.7h0M149.0 385.4h0M145.2 390.2h0M151.6 397.3h0M151.9 379.3h0M142.3 407.8h0M129.0 402.6h0M159.8 405.9h0M146.9 408.4h0M149.9 395.1h0M149.6 404.1h0M142.4 404.2h0M148.5 390.2h0M154.6 383.6h0M154.7 407.3h0M146.9 374.0h0M152.4 405.3h0M155.9 405.1h0M135.5 405.9h0M145.8 406.7h0M157.9 398.9h0M148.5 370.4h0M154.8 386.5h0M150.9 377.4h0M155.7 401.5h0M139.7 408.5h0M157.4 405.2h0M154.2 382.4h0M162.4 397.9h0M152.0 409.1h0M148.5 373.3h0M144.7 402.3h0M143.3 404.0h0M153.0 342.4h0M158.9 404.8h0M140.9 393.1h0M145.3 372.9h0M137.1 407.2h0M149.7 400.7h0M130.9 405.5h0M146.5 393.8h0M151.5 398.1h0M159.0 397.6h0M155.6 395.4h0M150.9 391.6h0M152.2 396.8h0M149.2 330.1h0M148.9 391.6h0M154.3 408.7h0M153.6 406.0h0M146.0 367.9h0M145.4 401.1h0M145.3 407.9h0M144.9 405.6h0M164.0 408.1h0M143.6 401.8h0M172.8 405.3h0M148.8 396.5h0M154.9 400.8h0M142.0 402.4h0M153.0 352.3h0M149.7 348.3h0M161.1 378.8h0M149.3 403.3h0M151.9 383.4h0M155.6 404.5h0M143.6 403.5h0M160.0 393.1h0M153.5 408.9h0M148.4 384.7h0M162.3 404.6h0M148.7 393.9h0M152.7 404.0h0M149.4 381.1h0M145.8 396.1h0M156.5 408.8h0M144.7 398.4h0M152.1 405.6h0M147.0 395.2h0M152.6 405.0h0M165.0 406.2h0M152.9 406.0h0M149.1 391.0h0M153.6 405.3h0M148.0 388.7h0M162.0 407.8h0M144.7 361.2h0M154.9 405.2h0M151.4 364.1h0M156.7 372.8h0M159.2 393.2h0M156.5 384.7h0M149.6 391.0h0M149.0 403.5h0M152.2 402.7h0M167.7 407.0h0M153.1 404.3h0M153.0 376.0h0M167.6 408.6h0M154.7 403.5h0M156.4 403.7h0M162.0 407.3h0M150.6 400.3h0M150.6 399.9h0M167.0 406.9h0M155.1 408.8h0M153.5 405.9h0M150.2 400.0h0M138.9 389.6h0M143.3 400.2h0M150.5 374.8h0M153.0 324.2h0M140.1 400.3h0M146.2 375.7h0M154.3 369.2h0M151.3 364.8h0M151.5 401.9h0M153.9 379.6h0M148.0 395.9h0M154.4 404.2h0M148.0 404.6h0M150.9 396.9h0M150.8 394.6h0M145.0 386.3h0M153.9 406.2h0M146.2 402.4h0M158.9 394.4h0M155.7 382.5h0M149.3 389.0h0M155.7 405.8h0M146.5 405.1h0M147.6 395.9h0M156.5 385.7h0M142.3 402.8h0M157.5 388.5h0M146.4 407.8h0M149.7 397.0h0M151.0 403.7h0M141.7 378.4h0M152.4 378.5h0M146.8 398.9h0M150.1 392.3h0M140.5 406.7h0M149.5 390.1h0M160.0 389.5h0M146.7 379.8h0M137.2 406.7h0M154.5 400.5h0M146.5 409.2h0M148.2 408.8h0M151.6 406.2h0M155.8 400.9h0M147.1 387.2h0M146.3 401.6h0M143.0 399.4h0M163.1 401.1h0M146.0 387.2h0M148.8 394.9h0M144.3 384.9h0M152.7 403.8h0M151.3 391.2h0M153.8 365.9h0M148.1 390.3h0M147.0 395.6h0M153.0 403.5h0M164.0 406.9h0M145.7 408.7h0M144.7 402.5h0M156.5 393.2h0M141.2 407.1h0M140.6 386.3h0M144.5 407.4h0M156.3 402.2h0M153.6 399.3h0M144.5 399.7h0M155.7 366.3h0M140.7 395.5h0M153.3 394.0h0M150.7 394.0h0M157.2 390.3h0M139.9 407.1h0M146.6 395.7h0M161.7 390.0h0M146.9 365.2h0M154.4 380.7h0M157.3 389.0h0M145.1 397.2h0M153.0 401.6h0M154.6 400.9h0M160.8 395.1h0M142.5 352.7h0M150.1 359.5h0M137.4 407.5h0M149.8 370.1h0M151.2 400.5h0M145.1 402.2h0M146.3 400.9h0M146.7 406.4h0M161.1 408.8h0M158.0 378.6h0M143.2 403.3h0M152.5 396.0h0M161.2 404.8h0M151.9 356.4h0M149.2 380.9h0M148.5 400.6h0M159.6 398.3h0M150.3 389.2h0M150.7 399.0h0M148.9 345.6h0M149.1 362.1h0M147.1 378.4h0M151.5 409.0h0M156.7 381.4h0M144.9 404.0h0M141.7 383.8h0M154.7 397.8h0M137.9 399.4h0M146.4 404.9h0M153.6 358.6h0M146.0 409.1h0M146.8 406.2h0M139.7 401.7h0M157.0 404.3h0M155.2 390.6h0M153.0 403.1h0M142.3 406.7h0M149.6 403.8h0M152.1 404.0h0M145.9 390.8h0M154.6 389.9h0M142.1 390.8h0M142.9 397.7h0M171.5 407.8h0M158.6 407.5h0M153.2 374.2h0M147.4 365.2h0M132.8 404.9h0M146.9 396.4h0M155.1 374.7h0M147.1 406.4h0M150.5 407.2h0M148.9 402.4h0M150.8 380.4h0M151.9 409.0h0M144.6 402.1h0M155.5 382.4h0M152.8 406.5h0M150.4 387.4h0M147.8 383.6h0M154.0 406.6h0M154.3 400.6h0M150.1 365.9h0M157.2 396.9h0M151.8 378.6h0M158.9 406.7h0M150.7 363.9h0M142.0 402.2h0M147.4 395.1h0M154.5 390.6h0M155.8 408.1h0M154.2 406.4h0M144.2 400.4h0M153.8 390.6h0M152.6 388.3h0M149.0 352.0h0M149.3 392.6h0M145.8 395.9h0M157.2 408.9h0M146.8 392.2h0M146.8 396.1h0M148.9 389.3h0M158.4 405.5h0M148.1 369.8h0M154.4 408.7h0M151.4 398.0h0M145.7 407.7h0M149.5 407.4h0M158.0 393.4h0M142.5 408.2h0M154.6 396.9h0M149.8 367.8h0M151.8 379.7h0M140.8 402.3h0M153.0 407.3h0M151.9 373.6h0M142.6 387.8h0M157.1 397.1h0M162.3 390.7h0M156.8 404.1h0M144.7 401.9h0M154.7 391.7h0M142.9 404.2h0M145.9 405.0h0M154.8 382.4h0M158.6 404.3h0M150.3 385.6h0M160.8 400.4h0M145.0 394.4h0M149.3 388.1h0M152.4 383.1h0M151.4 397.8h0" stroke="#858585" stroke-width="1.2" stroke-linecap="round" fill="none"/>
<path d="M150.2 386.3h0M139.0 402.6h0M148.2 397.2h0M149.9 391.8h0M139.7 408.8h0M149.9 398.5h0M149.5 379.2h0M142.2 398.8h0M148.5 391.1h0M146.6 400.0h0M159.8 406.3h0M148.4 395.7h0M147.1 374.8h0M155.2 408.3h0M145.3 399.0h0M155.6 390.4h0M149.6 396.8h0M160.4 387.7h0M157.0 405.5h0M143.3 407.7h0M143.3 395.4h0M148.7 391.0h0M153.4 403.1h0M148.5 408.8h0M155.0 387.0h0M159.5 406.1h0M145.6 402.4h0M160.2 406.9h0M147.8 392.9h0M149.4 333.9h0M167.1 399.2h0M154.4 400.5h0M152.1 395.7h0M141.6 389.5h0M160.4 369.1h0M144.0 396.1h0M144.7 403.0h0M156.7 388.8h0M154.8 393.2h0M153.2 400.9h0M144.7 386.8h0M147.7 362.0h0M151.0 391.2h0M146.9 388.5h0M149.6 376.5h0M148.0 367.0h0M144.8 401.4h0M147.7 399.2h0M143.5 379.9h0M145.8 378.4h0M170.3 408.0h0M139.0 405.2h0M148.0 383.4h0M139.2 406.2h0M147.8 374.5h0M159.3 408.7h0M157.8 405.8h0M149.8 364.5h0M149.3 405.6h0M145.3 391.5h0M141.4 409.1h0M145.1 403.7h0M153.2 392.6h0M157.3 407.9h0M159.4 392.5h0M155.1 347.5h0M151.9 405.2h0M150.4 391.0h0M152.7 386.6h0M139.1 405.8h0M151.2 381.8h0M144.1 401.6h0M150.1 403.2h0M148.9 384.6h0M144.4 398.3h0M153.6 401.4h0M147.2 402.1h0M151.4 404.2h0M149.2 396.4h0M151.4 398.8h0M149.7 399.3h0M152.8 399.6h0M151.1 374.9h0M153.5 405.8h0M144.3 400.0h0M148.5 385.3h0M162.0 391.7h0M143.0 375.0h0M156.1 405.3h0M156.1 363.6h0M151.0 378.8h0M146.0 398.6h0M147.4 394.8h0M144.5 391.5h0M141.1 405.6h0M152.7 407.5h0M144.8 406.0h0M144.9 399.6h0M154.2 365.6h0M146.1 393.9h0M156.8 384.0h0M149.6 398.9h0M150.9 407.7h0M148.3 403.7h0M158.9 405.8h0M144.6 395.5h0M152.6 409.0h0M172.6 406.9h0M150.1 401.5h0M155.9 407.0h0M147.1 386.9h0M151.6 383.4h0M148.5 399.6h0M146.1 409.1h0M165.9 403.3h0M154.5 400.8h0M151.7 407.2h0M147.4 384.1h0M151.8 393.8h0M148.7 385.5h0M165.4 405.5h0M144.1 409.0h0M160.1 404.5h0M146.2 400.5h0M156.3 393.4h0M155.2 400.1h0M143.4 409.1h0M145.3 401.1h0M151.1 397.2h0M147.5 392.0h0M156.7 395.5h0M154.5 395.1h0M152.7 398.3h0M158.6 403.4h0M151.6 388.5h0M154.8 404.6h0M153.1 394.7h0M151.7 402.3h0M157.4 404.3h0M143.3 395.1h0M152.9 399.7h0M153.9 359.3h0M144.1 376.3h0M147.1 396.3h0M160.3 388.5h0M151.9 365.9h0M153.9 389.5h0M139.9 406.7h0M142.0 404.6h0M156.4 400.7h0M142.5 409.1h0M144.4 402.1h0M143.9 394.3h0M146.2 390.2h0M152.6 355.2h0M131.2 408.4h0M149.9 388.4h0M169.3 406.5h0M148.6 401.8h0M150.6 390.7h0M152.3 370.5h0M155.9 405.3h0M149.0 404.7h0M150.3 393.7h0M149.2 384.1h0M162.6 404.6h0M149.4 390.5h0M154.7 407.4h0M145.5 404.3h0M124.9 408.7h0M155.3 383.5h0M161.9 399.0h0M158.5 404.5h0M140.3 400.5h0M148.5 401.7h0M147.5 362.6h0M145.3 362.1h0M140.7 407.1h0M145.4 400.2h0M155.4 403.0h0M151.4 381.1h0M155.2 409.1h0M162.3 392.6h0M153.5 394.3h0M137.2 405.1h0M162.6 406.9h0M143.4 396.9h0M151.6 379.1h0M146.1 404.5h0M149.6 398.4h0M160.2 407.9h0M154.8 387.8h0M159.2 396.3h0M151.9 380.6h0M157.5 379.6h0M155.7 408.8h0M149.0 389.1h0M151.4 402.5h0M150.3 404.5h0M144.2 400.3h0M151.0 399.9h0M150.8 403.7h0M148.1 387.3h0M151.7 407.5h0M149.7 390.3h0M150.7 402.2h0M144.9 332.8h0M152.5 349.9h0M155.0 408.7h0M171.7 408.5h0M139.8 406.5h0M159.6 401.7h0M141.6 407.0h0M147.2 398.5h0M148.2 408.2h0M141.4 406.7h0M145.0 383.5h0M156.0 407.9h0M141.2 403.7h0M148.5 378.3h0M141.8 402.7h0M140.5 408.7h0M150.0 404.1h0M150.1 381.0h0M146.3 396.7h0M153.9 380.2h0M140.2 403.9h0M155.1 402.8h0M160.0 398.7h0M146.3 368.4h0M147.6 397.7h0M152.1 376.0h0M148.5 408.8h0M144.5 388.9h0M160.4 409.1h0M157.2 404.3h0M156.8 404.8h0M145.9 406.0h0M150.4 405.8h0M155.2 389.9h0M140.2 408.3h0M146.0 392.3h0M157.7 395.4h0M152.3 403.3h0M148.0 397.5h0M144.9 395.1h0M159.8 396.6h0M148.4 393.0h0M152.6 395.9h0M152.1 393.4h0M148.5 402.8h0M156.8 404.6h0M155.2 400.7h0M155.1 402.0h0M174.8 407.2h0M143.1 394.6h0M149.1 351.8h0M138.3 403.7h0M151.6 380.4h0M144.0 405.7h0M142.3 400.0h0M150.5 399.6h0M134.7 405.4h0M145.6 370.5h0M153.9 395.9h0M127.8 408.8h0M150.2 394.9h0M148.3 408.9h0M153.4 369.2h0M149.9 321.9h0M148.9 401.4h0M140.6 407.0h0M146.9 366.1h0M146.6 408.7h0M147.4 404.6h0M139.0 391.3h0M153.4 377.4h0M141.6 402.0h0M155.6 399.3h0M163.4 403.0h0M151.1 380.5h0M154.5 406.7h0M139.0 394.3h0M135.5 402.4h0M151.9 377.9h0M151.5 390.2h0M152.0 399.4h0M159.0 398.9h0M146.7 390.3h0M153.6 395.7h0M147.8 396.8h0M154.7 386.9h0M147.4 401.1h0M151.1 404.5h0M155.6 389.3h0M144.9 402.6h0M155.9 394.3h0M120.6 408.5h0M148.5 408.2h0M151.4 396.9h0M154.6 401.8h0M151.3 397.5h0M150.8 372.6h0M156.2 394.0h0M145.7 375.4h0M142.6 402.4h0M158.3 404.7h0M140.5 406.9h0M157.9 388.6h0M155.6 390.6h0M148.4 376.1h0M152.4 366.3h0M142.0 408.8h0M150.6 407.4h0M154.8 405.5h0M150.7 365.6h0M149.0 402.7h0M141.0 408.8h0M152.2 393.7h0M152.7 406.6h0M149.1 371.6h0M159.9 402.2h0M151.8 402.2h0M151.2 384.2h0M153.7 404.2h0M150.2 378.9h0M153.5 380.6h0M140.7 408.2h0M152.1 387.0h0M147.8 385.6h0M150.5 408.7h0M150.6 407.1h0M161.0 399.3h0M145.2 387.9h0M157.0 408.4h0M149.5 392.6h0M146.9 397.6h0M154.6 386.2h0M167.3 405.3h0M141.1 403.7h0M155.6 397.3h0M141.4 408.3h0M156.2 395.0h0M164.4 406.5h0M148.6 396.7h0M155.5 355.0h0M147.3 387.6h0M155.8 392.3h0M140.9 404.6h0M150.5 406.7h0M154.0 390.0h0M155.7 368.7h0M156.4 395.2h0M144.6 400.8h0M155.3 398.8h0M140.8 397.2h0M149.8 395.1h0M154.4 396.9h0M149.6 406.9h0M152.9 394.4h0M152.1 405.8h0M152.0 402.2h0M146.5 368.5h0M153.0 399.8h0M159.7 405.5h0M142.1 401.2h0M155.7 395.6h0M140.0 406.9h0M159.1 409.1h0M151.7 362.5h0M154.1 395.7h0M157.3 394.0h0M150.6 385.4h0M138.5 404.0h0M155.1 404.9h0M155.6 402.9h0M155.5 400.6h0M156.5 382.9h0M147.1 396.6h0M152.1 383.9h0M152.7 406.5h0M154.6 383.4h0M151.6 397.0h0M152.2 376.1h0M155.9 358.7h0M144.7 397.2h0M151.1 380.8h0M152.7 394.5h0M151.7 397.0h0M141.4 404.3h0M149.3 377.5h0M144.0 405.7h0M146.7 395.8h0M154.6 398.1h0M148.6 379.6h0M149.7 382.4h0M154.0 401.5h0M153.2 403.3h0M159.3 409.1h0M144.4 408.1h0M151.1 387.6h0M148.3 403.2h0M144.5 393.5h0M150.9 390.1h0M174.7 408.0h0M155.9 401.9h0M147.7 398.3h0M151.1 378.1h0M153.8 404.6h0M142.1 400.1h0M156.4 403.9h0M148.1 343.6h0M147.7 386.4h0M157.5 379.5h0M147.5 384.6h0M157.5 404.6h0M156.5 389.2h0M161.0 405.3h0M144.2 408.6h0M149.3 394.8h0M156.8 373.5h0M146.1 398.3h0M149.5 375.0h0M161.4 405.0h0M145.8 374.0h0M134.3 407.7h0M166.8 399.6h0M154.9 384.5h0M160.6 406.2h0M153.7 390.8h0M158.5 407.7h0M161.9 401.9h0M153.6 402.4h0M156.5 399.1h0M147.6 405.4h0M145.2 389.9h0M151.7 394.6h0M149.6 376.8h0M147.8 383.3h0M153.6 407.6h0M156.9 379.5h0M146.2 399.1h0M166.9 407.5h0M146.9 408.4h0M157.1 406.9h0M146.7 401.6h0M159.1 407.6h0M152.1 362.3h0M146.9 388.0h0M152.9 379.1h0M142.1 405.6h0M158.7 395.1h0M150.2 389.5h0M158.6 400.0h0M150.3 400.0h0M167.6 407.1h0M149.2 396.6h0M153.2 393.1h0M148.0 372.0h0M144.3 402.9h0M158.0 404.4h0M159.1 392.9h0M143.7 405.1h0M139.9 409.1h0M149.9 386.7h0M147.7 404.4h0M146.8 371.0h0M157.0 397.0h0M162.2 396.6h0M151.8 400.0h0M146.8 392.0h0M147.2 402.1h0M149.6 409.2h0M152.9 398.7h0M151.0 402.3h0M157.9 393.2h0M164.5 409.2h0M152.1 405.0h0M149.5 394.5h0M150.5 351.6h0M145.3 406.8h0M146.7 387.3h0M148.9 391.3h0M140.9 406.8h0M146.8 407.1h0M147.0 398.2h0M153.4 397.8h0M148.8 363.3h0M158.3 392.0h0M149.3 408.3h0M153.9 366.0h0M157.8 400.8h0M160.9 405.0h0M149.5 335.8h0M155.4 390.8h0M155.2 389.7h0M158.6 399.0h0M166.3 405.6h0M148.1 378.5h0M158.1 406.0h0M150.4 402.6h0M166.1 401.3h0M163.1 408.4h0M145.7 395.7h0M153.2 398.4h0M151.1 405.6h0M149.3 382.4h0M140.1 406.5h0M150.9 353.7h0M163.3 401.2h0M138.2 409.1h0M152.6 395.1h0M165.5 400.2h0M152.8 370.2h0M152.2 375.3h0M140.3 399.3h0M148.1 404.3h0M151.7 381.7h0M150.1 404.0h0M157.0 391.6h0M157.3 390.1h0M145.6 395.8h0M144.8 373.3h0M137.5 398.3h0M129.5 407.8h0M151.3 389.1h0M148.4 398.7h0M150.3 356.7h0M145.4 404.8h0M155.8 409.0h0M140.5 408.6h0M148.9 409.0h0M150.8 407.0h0M149.3 390.1h0M140.2 401.3h0M147.4 403.5h0M151.5 388.4h0M157.8 396.9h0M138.1 401.5h0M149.2 396.5h0M156.8 407.3h0M155.3 394.5h0M158.4 394.4h0M155.3 370.4h0M149.5 402.1h0M154.4 393.6h0M168.8 409.0h0M164.7 398.9h0M155.2 383.6h0M149.8 385.1h0M131.9 408.1h0M151.5 378.6h0M145.8 383.3h0M143.9 402.1h0M149.2 372.9h0M149.4 398.3h0M152.4 406.9h0M151.8 397.8h0M147.8 407.6h0M154.0 362.3h0M155.1 352.0h0M160.2 399.4h0M147.0 388.3h0M151.2 400.8h0M149.2 394.3h0M135.2 403.7h0M151.0 362.0h0M150.7 399.1h0M147.0 406.0h0M151.3 366.7h0M151.2 352.7h0M154.1 399.0h0M148.5 387.5h0M157.3 387.5h0M130.9 405.7h0M157.0 406.4h0M148.1 399.9h0M150.9 331.0h0M136.0 404.5h0M136.4 409.2h0M140.4 386.0h0M145.7 387.7h0M168.3 406.4h0M153.9 401.6h0M152.2 395.9h0M159.2 397.2h0M149.5 364.4h0M170.7 405.4h0M151.4 380.4h0M162.2 388.2h0M157.0 405.5h0M140.4 387.2h0M152.0 399.8h0M154.8 396.8h0M154.0 402.3h0M164.6 406.4h0M153.3 407.1h0M148.4 405.3h0M152.6 403.9h0M145.9 393.5h0M146.8 401.8h0M168.5 408.0h0M161.6 402.2h0M153.7 404.3h0M149.1 368.6h0M139.8 399.5h0M149.9 396.0h0M150.6 371.9h0M138.2 407.0h0M152.8 395.2h0M140.7 404.4h0M158.6 398.2h0M148.4 387.4h0M141.3 394.8h0M155.4 391.1h0M143.2 401.8h0M147.2 367.7h0M161.6 406.6h0M155.6 384.4h0M154.6 398.0h0M151.3 382.9h0M146.5 376.5h0M148.9 388.5h0M156.7 391.0h0M148.1 369.8h0M150.3 371.1h0M151.4 354.5h0M155.3 388.4h0M149.4 361.9h0M152.4 401.9h0M153.5 407.9h0M145.3 404.8h0M144.7 388.7h0M157.6 406.9h0M130.5 409.0h0M149.8 401.9h0M148.2 372.6h0M154.9 389.4h0M127.9 405.2h0M140.2 386.8h0M159.2 391.8h0M148.0 395.4h0M140.7 408.3h0M146.7 370.4h0M152.8 407.6h0M148.4 383.7h0M150.5 378.5h0M152.4 408.8h0M155.0 396.9h0M153.9 339.4h0M158.2 388.0h0M143.0 405.5h0M176.0 407.8h0M148.4 402.0h0M155.1 395.2h0M147.8 401.4h0M152.5 397.6h0M149.3 395.0h0M147.7 397.2h0M153.5 399.7h0M157.4 395.0h0M158.1 398.6h0M145.7 402.0h0M161.8 405.4h0M149.1 393.1h0M151.7 404.5h0M156.8 408.3h0M154.5 406.1h0M150.2 395.5h0M155.3 387.9h0M151.0 409.0h0M155.6 404.3h0M141.3 407.4h0M165.7 409.1h0M144.4 407.6h0M150.4 398.5h0M151.2 398.2h0M155.7 390.8h0M154.2 409.1h0M162.8 407.6h0M154.0 399.6h0M150.1 403.7h0M148.0 395.5h0M161.7 407.4h0M138.6 392.4h0M153.7 378.9h0M154.6 406.4h0M152.1 384.6h0M151.5 402.8h0M153.3 402.0h0M155.5 393.8h0M150.1 382.9h0M149.2 350.2h0M154.6 408.7h0M153.1 404.6h0M160.8 402.9h0M144.9 388.6h0M147.9 391.7h0M149.4 400.8h0M148.8 399.5h0M140.0 399.4h0M153.5 393.9h0M132.7 408.3h0M150.6 370.4h0M156.8 403.1h0M148.9 382.2h0M151.3 378.7h0M159.7 398.0h0M153.5 388.9h0M150.1 345.5h0M163.8 408.8h0M152.1 406.0h0M141.3 402.9h0M150.2 404.1h0M160.4 407.1h0M145.9 380.6h0M153.7 366.7h0M142.0 408.3h0M147.8 371.2h0M161.8 406.5h0M147.2 401.3h0M141.5 407.3h0M134.4 401.9h0M154.5 376.4h0M160.7 378.9h0M151.0 389.8h0M128.1 408.6h0M152.4 400.7h0M146.5 396.0h0M170.8 402.8h0M151.7 406.1h0M145.1 380.7h0M145.4 393.1h0M160.2 396.9h0M148.1 397.2h0M159.7 409.1h0M149.8 387.3h0M142.4 405.3h0M160.6 406.7h0M155.5 395.3h0M152.8 397.2h0M144.5 398.5h0M149.3 403.6h0M150.9 373.6h0M144.5 383.5h0M148.5 360.6h0M155.4 403.6h0M149.5 394.0h0M159.2 392.7h0M158.5 407.3h0M150.5 406.7h0M155.9 360.0h0M156.3 393.8h0M152.6 388.5h0M142.8 408.3h0M146.4 392.8h0M147.7 401.6h0M147.8 407.7h0M133.2 407.6h0M154.7 342.1h0M148.0 405.1h0M156.3 349.2h0M147.5 367.0h0M151.1 377.8h0M151.0 403.7h0M155.1 404.3h0M117.9 408.4h0M158.3 396.8h0M150.7 402.5h0M144.5 405.0h0M154.1 391.6h0M150.2 408.7h0M153.4 374.3h0M144.0 402.7h0M144.7 408.7h0M150.4 402.2h0M165.9 407.6h0M148.9 388.1h0M152.6 397.1h0M142.5 402.2h0M152.7 387.8h0M149.6 399.3h0M150.5 392.1h0M149.6 392.9h0M147.1 389.5h0M153.0 386.9h0M151.0 397.8h0M163.3 407.5h0M151.7 401.6h0M144.7 404.6h0M134.2 397.0h0M157.7 378.6h0M148.3 389.9h0M143.9 403.4h0M150.1 392.4h0M153.2 380.2h0M162.3 404.4h0M148.4 406.4h0M153.3 395.0h0M148.3 359.5h0" stroke="#858585" stroke-width="1.2" stroke-linecap="round" fill="none"/>
<path d="M146.6 397.6h0M151.2 407.5h0M157.5 397.6h0M147.5 397.1h0M157.4 396.9h0M143.9 397.2h0M166.3 405.6h0M154.8 393.0h0M142.2 398.0h0M142.0 406.1h0M151.5 398.0h0M139.7 393.0h0M144.6 382.7h0M144.9 390.4h0M145.2 344.5h0M160.0 398.5h0M151.9 394.6h0M143.2 400.1h0M146.9 401.1h0M164.4 406.8h0M152.2 395.3h0M154.3 394.9h0M153.3 398.2h0M152.7 387.1h0M149.0 392.5h0M146.1 394.9h0M145.2 402.8h0M154.9 406.4h0M154.4 363.3h0M155.9 405.5h0M159.3 365.6h0M146.0 404.2h0M141.7 397.6h0M144.4 390.9h0M145.1 400.7h0M148.3 383.0h0M148.3 370.9h0M148.9 398.8h0M155.1 382.2h0M147.6 391.0h0M161.1 406.6h0M129.9 408.0h0M145.5 401.1h0M151.4 379.6h0M159.4 408.2h0M144.0 403.6h0M131.2 408.6h0M155.4 404.2h0M167.1 399.5h0M147.2 381.5h0M151.9 385.9h0M149.1 347.9h0M151.1 372.7h0M145.0 408.9h0M151.2 380.5h0M153.9 407.4h0M150.4 394.1h0M149.8 386.8h0M156.6 405.3h0M147.5 393.9h0M148.0 370.6h0M146.0 408.1h0M155.1 393.3h0M148.8 392.6h0M148.7 404.0h0M145.4 384.8h0M145.8 405.6h0M151.0 395.5h0M151.4 408.6h0M152.6 384.6h0M148.5 402.3h0M151.7 405.9h0M153.0 365.5h0M157.8 388.0h0M145.2 403.6h0M147.5 355.0h0M145.7 407.0h0M156.0 389.4h0M136.6 405.3h0M155.4 405.9h0M157.7 408.6h0M157.1 399.1h0M154.7 357.7h0M153.6 407.6h0M152.6 405.0h0M158.7 397.4h0M151.0 371.8h0M158.0 390.0h0M151.4 394.8h0M143.8 406.0h0M176.9 406.9h0M154.2 406.3h0M146.6 398.5h0M149.5 375.0h0M161.0 404.6h0M144.8 394.8h0M158.5 393.9h0M157.3 408.3h0M162.4 408.9h0M145.8 408.9h0M145.0 404.5h0M153.1 402.3h0M146.1 399.3h0M156.5 408.8h0M145.6 395.5h0M147.7 388.2h0M148.7 316.4h0M149.2 392.4h0M153.2 379.5h0M141.6 408.1h0M152.9 400.4h0M154.4 406.8h0M140.6 406.8h0M147.6 380.3h0M162.3 399.9h0M153.2 399.0h0M154.8 402.3h0M147.0 408.1h0M158.7 376.7h0M145.3 408.5h0M140.5 404.3h0M145.1 393.4h0M152.9 393.2h0M137.5 396.4h0M144.1 397.3h0M150.8 392.3h0M172.0 405.8h0M153.5 398.2h0M151.9 380.9h0M148.5 377.1h0M142.5 401.5h0M151.6 400.7h0M151.6 376.3h0M158.6 399.3h0M162.7 403.8h0M154.4 386.7h0M138.8 408.1h0M151.1 390.9h0M163.4 406.1h0M144.6 406.8h0M147.0 326.9h0M149.4 390.2h0M149.1 399.9h0M151.0 381.1h0M157.2 391.3h0M153.8 387.6h0M159.1 405.8h0M141.5 402.8h0M150.3 396.7h0M142.7 380.5h0M132.7 403.7h0M148.1 386.2h0M164.4 406.1h0M169.3 409.0h0M163.5 406.9h0M153.8 408.6h0M156.3 404.0h0M148.5 399.8h0M151.0 402.6h0M149.3 400.3h0M173.7 408.4h0M148.7 376.2h0M161.3 399.7h0M145.1 406.2h0M146.9 400.4h0M150.7 393.8h0M156.5 388.2h0M153.7 386.7h0M153.5 375.4h0M137.2 407.4h0M147.7 391.6h0M144.3 405.9h0M159.7 401.9h0M155.8 397.3h0M150.5 347.8h0M158.8 406.4h0M144.5 369.1h0M156.2 408.8h0M152.9 375.7h0M141.8 404.7h0M154.5 395.1h0M150.4 397.9h0M150.8 351.7h0M149.1 407.0h0M149.5 399.6h0M155.3 396.3h0M144.5 388.9h0M139.2 406.1h0M161.4 405.4h0M153.1 361.7h0M146.4 405.8h0M160.6 406.1h0M151.4 377.9h0M165.8 407.2h0M149.4 314.9h0M155.7 400.8h0M149.3 396.0h0M157.8 395.8h0M135.2 407.2h0M158.1 401.0h0M158.7 394.6h0M151.0 408.0h0M158.6 402.0h0M147.5 404.3h0M146.4 385.4h0M153.9 404.9h0M157.7 404.2h0M156.7 400.5h0M144.5 398.2h0M158.2 403.5h0M143.1 406.1h0M149.4 408.7h0M145.4 395.6h0M153.7 406.3h0M152.9 376.6h0M150.1 384.3h0M153.4 369.3h0M159.2 389.1h0M146.2 398.7h0M146.2 402.0h0M153.7 391.2h0M145.1 406.3h0M148.8 398.4h0M144.5 407.8h0M147.2 408.3h0M158.4 392.1h0M151.5 365.3h0M153.5 391.5h0M150.5 394.1h0M152.1 396.4h0M145.6 397.3h0M151.3 396.1h0M148.9 395.6h0M148.1 398.6h0M155.3 382.5h0M154.5 351.6h0M153.4 408.1h0M160.8 396.7h0M153.0 397.0h0M146.1 396.3h0M154.4 369.3h0M149.7 398.9h0M136.3 407.3h0M147.7 407.1h0M145.9 390.1h0M143.7 400.6h0M155.3 406.8h0M142.5 390.3h0M157.7 390.4h0M158.9 390.6h0M156.9 348.0h0M157.7 401.3h0M150.2 408.7h0M136.3 408.6h0M131.5 403.1h0M150.8 403.8h0M157.0 408.8h0M150.5 382.8h0M137.0 408.2h0M150.5 395.1h0M150.6 343.7h0M155.7 396.3h0M147.9 406.1h0M139.9 401.2h0M146.5 404.1h0M158.0 399.8h0M157.8 408.3h0M156.4 361.1h0M141.5 406.2h0M153.3 401.5h0M167.9 395.9h0M150.8 321.7h0M147.4 395.1h0M142.3 405.3h0M151.3 377.8h0M151.6 361.3h0M158.4 386.5h0M155.7 403.2h0M157.2 390.5h0M161.6 399.9h0M148.8 396.3h0M150.4 398.6h0M157.9 397.0h0M155.9 398.8h0M151.5 382.1h0M160.2 402.1h0M156.8 404.8h0M158.3 406.8h0M154.0 405.4h0M144.5 371.8h0M149.4 383.9h0M152.3 408.1h0M160.2 390.9h0M147.2 402.2h0M151.7 378.7h0M145.1 378.4h0M142.4 405.1h0M142.0 397.6h0M149.6 382.7h0M147.2 391.9h0M148.4 387.7h0M144.8 408.2h0M150.1 399.5h0M144.6 368.7h0M147.1 381.8h0M151.2 397.1h0M150.1 374.9h0M153.3 373.9h0M149.4 362.4h0M139.0 382.8h0M147.5 394.1h0M146.4 375.9h0M153.3 404.3h0M140.1 400.8h0M169.8 408.8h0M155.4 389.7h0M147.3 379.1h0M149.1 400.4h0M151.0 401.3h0M157.0 400.6h0M163.4 406.5h0M157.5 376.9h0M150.3 408.5h0M159.0 400.2h0M147.0 383.9h0M150.9 394.8h0M149.2 389.4h0M149.9 341.6h0M153.5 401.2h0M159.1 407.2h0M155.8 405.6h0M149.7 370.8h0M151.6 383.7h0M172.5 408.1h0M156.7 400.4h0M150.5 378.9h0M143.2 396.5h0M142.3 382.3h0M147.1 404.8h0M146.0 393.7h0M150.5 383.7h0M157.6 406.6h0M168.5 406.7h0M149.5 406.5h0M162.1 407.4h0M154.5 386.1h0M150.2 397.5h0M157.5 404.9h0M162.6 396.6h0M153.2 385.8h0M164.1 401.2h0M145.0 396.0h0M142.6 408.6h0M149.3 383.9h0M151.8 395.6h0M145.0 404.6h0M144.2 404.9h0M157.2 399.4h0M147.9 355.0h0M141.9 403.8h0M157.1 387.6h0M151.5 340.5h0M155.8 407.3h0M146.3 402.6h0M139.6 401.3h0M162.3 399.6h0M166.2 402.0h0M157.5 397.8h0M151.2 332.0h0M156.0 396.2h0M154.6 373.9h0M134.7 408.1h0M140.3 398.5h0M149.9 406.3h0M150.5 400.5h0M150.0 399.6h0M168.6 399.6h0M143.0 387.3h0M157.2 394.4h0M140.2 407.8h0M154.6 397.7h0M151.7 386.3h0M155.1 367.3h0M155.6 387.4h0M147.9 356.9h0M143.1 394.1h0M153.8 354.3h0M154.6 402.4h0M153.2 345.2h0M147.9 406.1h0M150.8 395.9h0M164.3 390.1h0M147.7 385.0h0M156.8 395.4h0M145.9 388.1h0M150.3 405.9h0M151.2 405.0h0M142.8 393.6h0M155.6 374.8h0M162.4 402.0h0M157.5 401.6h0M149.1 404.5h0M150.4 359.7h0M144.8 392.5h0M147.8 407.4h0M156.1 385.0h0M158.0 369.2h0M148.6 378.5h0M149.0 391.2h0M149.0 392.0h0M149.2 379.7h0M153.6 405.6h0M153.0 373.3h0M145.3 406.1h0M147.6 388.6h0M152.5 372.3h0M134.3 406.7h0M133.2 407.5h0M157.6 394.8h0M157.6 407.9h0M142.0 396.3h0M144.6 401.2h0M161.5 406.9h0M146.3 391.7h0M157.9 398.1h0M146.2 404.8h0M149.3 398.9h0M143.2 400.1h0M149.5 403.1h0M157.9 402.4h0M150.3 390.3h0M150.3 402.1h0M149.0 409.2h0M147.6 378.8h0M146.0 392.3h0M142.2 394.9h0M151.2 387.8h0M148.9 391.0h0M150.6 379.5h0M154.8 377.2h0M151.2 366.8h0M158.3 398.5h0M152.4 395.3h0M154.7 378.4h0M164.8 404.8h0M130.8 407.9h0M150.6 370.4h0M154.1 398.9h0M149.7 394.8h0M157.2 389.5h0M160.2 406.2h0M147.0 406.7h0M146.5 392.3h0M150.7 375.5h0M147.8 408.9h0M163.1 406.6h0M151.2 408.8h0M145.8 405.8h0M143.4 401.3h0M155.7 407.9h0M157.3 385.8h0M151.4 393.7h0M149.8 405.0h0M161.7 388.3h0M161.6 404.1h0M160.9 407.1h0M146.9 406.0h0M144.7 389.9h0M136.3 407.6h0M163.1 390.0h0M149.4 402.1h0M154.2 404.8h0M150.1 393.9h0M162.7 402.8h0M153.3 409.1h0M151.1 391.3h0M143.9 380.9h0M147.4 396.3h0M151.8 406.5h0M156.4 395.9h0M153.0 381.7h0M147.1 381.5h0M140.5 403.3h0M147.0 389.8h0M149.7 388.5h0M147.8 378.4h0M152.8 387.6h0M145.9 401.2h0M155.8 402.6h0M145.3 393.0h0M147.5 376.9h0M156.5 398.5h0M140.4 403.2h0M150.0 407.8h0M148.5 395.5h0M153.6 391.4h0M147.7 379.4h0M135.1 406.1h0M151.1 400.8h0M152.8 391.7h0M156.4 406.8h0M143.8 399.9h0M147.4 378.1h0M160.0 389.3h0M153.2 391.8h0M142.8 401.8h0M154.6 390.1h0M164.5 407.4h0M153.7 368.5h0M148.5 402.6h0M156.4 390.6h0M148.5 399.7h0M160.3 397.7h0M157.3 392.5h0M152.0 388.4h0M147.2 403.6h0M153.6 390.2h0M157.9 397.7h0M159.9 403.5h0M156.8 407.3h0M152.5 387.1h0M148.6 392.3h0M146.9 394.8h0M146.7 404.7h0M151.0 363.5h0M146.8 405.4h0M147.3 401.7h0M151.6 373.1h0M149.0 389.8h0M159.2 406.2h0M151.0 404.8h0M163.3 396.7h0M157.7 408.0h0M145.4 408.6h0M150.7 387.1h0M133.8 407.2h0M153.5 372.5h0M154.2 337.8h0M145.4 389.6h0M156.5 397.4h0M140.2 392.5h0M146.0 386.8h0M151.0 401.3h0M138.2 404.5h0M148.0 390.5h0M149.2 396.0h0M139.7 396.7h0M149.7 390.0h0M154.7 372.9h0M157.8 377.6h0M131.5 409.1h0M158.1 403.9h0M157.0 365.6h0M152.9 343.6h0M143.9 394.1h0M150.5 401.3h0M149.8 403.2h0M145.2 394.4h0M177.9 408.3h0M149.8 404.1h0M143.1 387.1h0M146.5 405.7h0M145.0 380.9h0M152.1 392.6h0M134.5 408.6h0M149.6 406.5h0M146.3 400.1h0M150.2 384.9h0M140.3 404.5h0M152.9 406.3h0M153.4 383.5h0M150.8 385.3h0M148.4 392.2h0M140.6 390.0h0M153.7 383.9h0M162.1 389.5h0M152.3 401.7h0M147.7 382.1h0M157.3 390.1h0M158.4 388.5h0M153.0 399.4h0M146.6 372.6h0M164.5 408.5h0M155.4 398.2h0M147.0 397.8h0M154.6 337.1h0M152.0 399.2h0M144.2 399.1h0M153.7 397.6h0M142.8 408.5h0M158.6 385.4h0M138.8 402.1h0M156.9 406.1h0M152.8 396.2h0M139.9 403.1h0M155.1 399.1h0M158.1 402.0h0M167.8 408.8h0M137.1 397.5h0M149.8 401.6h0M141.4 392.0h0M149.9 397.4h0M149.1 361.7h0M150.2 364.8h0M159.7 407.6h0M152.3 392.2h0M157.3 393.6h0M154.4 389.9h0M147.0 390.1h0M145.9 408.1h0M158.1 407.2h0M155.3 392.6h0M148.2 396.8h0M143.5 405.9h0M153.4 395.0h0M143.0 406.5h0M155.1 369.8h0M157.4 401.2h0M154.5 400.1h0M148.9 382.2h0M156.5 369.5h0M139.5 384.5h0M148.9 407.9h0M154.0 403.8h0M138.9 399.2h0M154.9 360.3h0M141.0 389.4h0M148.2 407.9h0M160.3 408.5h0M147.5 377.9h0M146.0 391.1h0M149.5 387.3h0M148.2 362.9h0M149.9 400.9h0M154.4 403.6h0M146.1 396.5h0M164.9 401.0h0M156.0 391.6h0M145.7 388.4h0M165.4 399.1h0M161.1 401.1h0M153.3 392.4h0M154.8 392.7h0M156.1 399.5h0M163.2 408.7h0M152.9 407.4h0M152.3 391.0h0M164.5 403.0h0M143.5 401.9h0M158.0 394.6h0M147.4 375.7h0M167.9 405.2h0M153.8 379.5h0M139.1 404.9h0M145.7 407.8h0M153.9 352.1h0M147.0 404.8h0M141.4 407.7h0M150.9 340.4h0M155.3 406.8h0M149.6 408.5h0M150.3 387.8h0M145.8 405.4h0M167.9 406.8h0M159.1 384.7h0M148.9 403.7h0M152.7 406.2h0M148.3 401.8h0M154.0 393.8h0M143.1 398.3h0M147.1 403.2h0M144.1 382.3h0M151.4 399.8h0M141.7 406.5h0M153.8 394.3h0M151.1 318.2h0M168.9 402.3h0M144.3 402.7h0M157.2 374.5h0M144.3 403.7h0M146.3 399.4h0M145.5 369.9h0M150.4 399.6h0M149.4 378.1h0M150.5 403.5h0M149.6 400.9h0M143.0 398.8h0M151.1 337.7h0M149.8 379.4h0M152.9 405.5h0M149.6 382.3h0M145.1 387.7h0M141.1 405.5h0M152.1 402.7h0M156.9 398.9h0M155.6 392.6h0M153.4 396.7h0M140.7 392.8h0M146.7 399.6h0M153.3 367.4h0M156.9 408.1h0M157.6 405.9h0M158.6 392.3h0M148.8 396.5h0M145.3 397.6h0M154.7 389.3h0M152.1 402.8h0M157.4 408.8h0M149.2 395.9h0M147.4 395.5h0M153.1 399.1h0M152.7 385.8h0M149.4 368.8h0M159.6 400.1h0M147.5 397.1h0M160.8 406.5h0M155.8 404.5h0M156.6 393.9h0M147.7 395.6h0M159.9 400.2h0M149.6 366.8h0M153.7 400.1h0M156.7 403.3h0M145.7 360.6h0M151.7 398.8h0M136.7 407.7h0M169.4 407.8h0M140.3 401.6h0M155.5 408.2h0M164.1 401.9h0M149.7 388.2h0M143.0 407.8h0M150.3 405.9h0M155.5 398.3h0M146.9 390.5h0M150.5 371.6h0M154.3 408.8h0M146.2 386.6h0M176.6 409.1h0M153.8 398.8h0M163.3 398.2h0M155.4 402.2h0M153.5 365.8h0M153.2 378.2h0M151.8 370.6h0M149.7 385.3h0M155.5 379.6h0M140.6 406.0h0M151.7 398.0h0M151.8 395.4h0M152.3 393.2h0M149.7 379.7h0M150.5 398.2h0M145.5 398.6h0M150.1 388.5h0M152.7 403.4h0M165.2 390.8h0M159.6 397.6h0M159.5 396.7h0M156.1 395.8h0M151.2 400.9h0M146.3 404.9h0M155.1 375.4h0M160.2 381.7h0M152.2 335.6h0M139.7 405.4h0M152.8 383.3h0M139.6 387.4h0M159.8 408.2h0M142.9 396.0h0M151.6 408.4h0M154.5 408.8h0M161.1 399.6h0M153.5 408.2h0M151.3 361.2h0M145.3 392.6h0M162.7 406.5h0M148.5 404.2h0M150.1 407.6h0M154.8 392.8h0M148.7 402.1h0M155.9 391.1h0M151.1 366.9h0M148.8 369.7h0M165.8 407.7h0M152.7 395.5h0M165.7 406.8h0M145.5 405.2h0M154.2 386.1h0M157.1 399.0h0M160.5 400.1h0M155.9 400.9h0M154.0 371.5h0M151.5 378.5h0M160.2 397.8h0M163.6 406.8h0M143.5 396.7h0M149.6 404.6h0M140.0 404.9h0M151.3 372.4h0" stroke="#858585" stroke-width="1.2" stroke-linecap="round" fill="none"/>
<path d="M159.2 391.1h0M153.7 391.8h0M162.1 401.1h0M147.8 397.4h0M159.9 404.6h0M156.9 388.7h0M156.7 376.9h0M151.4 399.5h0M134.2 408.3h0M164.4 405.3h0M145.4 372.9h0M144.4 401.4h0M148.2 376.6h0M151.9 392.2h0M147.1 393.2h0M152.4 393.8h0M151.5 405.7h0M148.2 387.6h0M140.8 398.9h0M141.5 400.9h0M141.9 395.2h0M146.6 351.4h0M154.5 356.0h0M145.5 395.0h0M146.2 407.4h0M154.9 404.9h0M148.9 399.3h0M152.9 402.2h0M143.9 392.5h0M143.1 393.9h0M138.8 401.3h0M139.4 398.7h0M161.7 400.7h0M146.2 398.5h0M156.7 401.8h0M156.1 375.5h0M156.5 401.4h0M131.5 405.1h0M154.8 387.1h0M166.1 399.4h0M149.3 407.2h0M152.8 329.4h0M154.9 398.9h0M152.6 385.7h0M151.9 394.3h0M155.1 390.2h0M155.3 386.2h0M163.9 403.8h0M141.4 400.1h0M161.0 403.7h0M143.6 397.3h0M152.3 390.2h0M144.2 377.1h0M154.9 402.2h0M153.6 401.8h0M154.9 391.6h0M148.6 404.9h0M153.7 400.8h0M150.8 401.5h0M151.0 407.6h0M142.2 387.7h0M139.8 407.5h0M151.5 353.4h0M144.7 399.8h0M160.0 402.4h0M145.9 407.4h0M145.2 403.7h0M156.6 397.6h0M148.5 379.5h0M159.2 390.3h0M147.0 394.1h0M142.6 383.4h0M153.1 394.0h0M152.6 407.9h0M155.2 408.7h0M157.0 400.2h0M141.8 397.0h0M148.5 401.8h0M152.5 385.3h0M148.6 389.7h0M155.2 399.9h0M143.1 406.0h0M139.7 393.7h0M167.1 406.5h0M146.4 389.1h0M141.7 393.8h0M151.8 407.3h0M138.5 408.5h0M152.2 360.4h0M152.4 399.9h0M148.4 374.5h0M140.8 396.6h0M160.3 400.3h0M162.2 401.5h0M150.9 395.4h0M154.4 387.2h0M138.3 406.5h0M153.6 393.8h0M155.2 398.1h0M158.5 362.2h0M159.0 385.1h0M133.0 408.3h0M148.6 405.0h0M152.6 394.5h0M142.5 390.9h0M144.1 395.5h0M151.1 393.2h0M144.8 360.2h0M145.1 408.6h0M149.2 382.1h0M150.9 382.1h0M148.1 406.6h0M168.5 406.2h0M150.0 380.2h0M143.9 389.1h0M144.8 399.6h0M149.5 369.3h0M142.9 404.7h0M146.3 394.6h0M151.6 406.8h0M154.0 373.2h0M147.7 409.1h0M142.6 407.8h0M145.7 385.9h0M145.6 387.7h0M146.7 376.8h0M147.7 396.7h0M142.8 404.9h0M169.6 404.0h0M156.0 384.9h0M158.7 398.9h0M124.9 409.2h0M146.4 388.8h0M157.2 407.1h0M147.8 404.8h0M133.2 408.3h0M146.1 399.5h0M152.2 409.0h0M141.2 390.2h0M145.4 407.1h0M147.5 392.2h0M152.4 401.0h0M152.1 404.0h0M153.9 381.3h0M151.0 409.0h0M152.8 382.7h0M149.3 370.9h0M157.3 400.5h0M153.9 402.1h0M153.1 374.8h0M161.9 405.8h0M146.0 373.1h0M149.5 395.8h0M156.8 398.4h0M152.6 408.1h0M146.5 386.9h0M148.1 372.0h0M149.7 365.9h0M139.2 405.1h0M148.2 409.1h0M152.7 388.0h0M150.7 388.5h0M150.5 403.2h0M151.5 401.5h0M151.6 394.8h0M163.1 404.8h0M140.6 403.4h0M153.3 391.5h0M139.4 408.1h0M159.9 405.3h0M158.5 401.0h0M145.0 398.2h0M149.5 381.7h0M144.6 391.3h0M142.7 407.1h0M150.7 398.0h0M161.7 406.4h0M157.2 405.5h0M151.2 394.5h0M151.4 387.0h0M150.9 387.2h0M137.7 408.7h0M147.0 389.3h0M155.1 386.5h0M159.0 402.9h0M157.0 406.1h0M143.1 393.1h0M143.9 399.6h0M141.0 408.3h0M145.9 405.3h0M153.1 363.1h0M136.6 408.2h0M152.9 399.2h0M147.5 393.6h0M161.1 393.6h0M156.7 397.9h0M142.3 400.4h0M145.3 405.0h0M144.2 381.8h0M157.2 379.3h0M146.4 388.7h0M163.4 408.2h0M151.8 371.0h0M153.9 393.9h0M143.6 402.5h0M149.3 399.4h0M146.2 407.3h0M159.0 401.0h0M151.9 391.1h0M160.5 404.4h0M148.9 384.8h0M163.2 400.8h0M152.8 398.6h0M150.0 362.6h0M154.4 408.5h0M153.0 398.1h0M154.6 394.6h0M141.6 406.8h0M159.0 405.0h0M151.0 395.0h0M147.0 399.9h0M161.1 408.2h0M147.5 397.0h0M158.8 401.7h0M149.1 385.1h0M151.8 401.5h0M153.8 393.4h0M161.4 403.9h0M141.6 369.2h0M152.0 406.2h0M145.5 403.4h0M152.4 401.8h0M152.1 403.6h0M147.4 380.9h0M149.2 381.5h0M154.2 395.2h0M157.0 365.6h0M157.3 398.0h0M152.6 399.6h0M175.3 405.1h0M153.1 405.2h0M148.2 391.8h0M147.9 409.0h0M150.8 392.7h0M151.9 398.4h0M156.9 406.6h0M149.9 349.7h0M150.7 406.3h0M146.5 405.7h0M145.9 409.2h0M145.9 343.0h0M144.5 409.1h0M141.3 407.2h0M148.2 368.8h0M154.5 353.8h0M152.4 408.7h0M156.0 394.6h0M149.2 403.6h0M144.2 398.2h0M134.3 408.1h0M146.1 406.0h0M152.8 387.1h0M148.7 401.9h0M157.3 403.2h0M150.1 354.2h0M139.3 408.9h0M152.8 396.0h0M158.5 382.8h0M171.4 409.2h0M151.6 397.0h0M156.5 406.0h0M157.9 393.3h0M153.3 402.9h0M153.7 391.4h0M136.6 407.4h0M154.6 388.0h0M155.4 390.1h0M151.3 400.9h0M157.1 393.4h0M152.9 349.5h0M147.6 354.8h0M154.2 405.6h0M150.1 399.0h0M143.4 402.4h0M150.8 389.9h0M150.6 373.4h0M154.7 396.5h0M143.8 386.1h0M158.8 407.2h0M158.1 405.1h0M133.0 409.1h0M146.3 405.3h0M156.8 360.3h0M159.0 387.9h0M141.4 403.3h0M148.8 401.7h0M148.9 385.7h0M138.2 402.6h0M154.0 376.8h0M153.0 393.9h0M160.0 398.7h0M154.9 382.6h0M154.5 394.0h0M159.3 390.1h0M145.9 380.0h0M149.8 399.2h0M149.3 391.5h0M154.4 399.1h0M156.8 407.3h0M168.3 408.8h0M147.1 381.0h0M141.1 390.6h0M152.1 395.6h0M152.9 378.2h0M153.7 381.2h0M163.7 391.8h0M151.2 384.7h0M144.5 401.0h0M156.5 404.3h0M158.9 401.8h0M150.0 381.6h0M155.3 408.5h0M164.0 398.4h0M149.3 392.1h0M158.6 385.9h0M152.4 394.8h0M163.6 405.2h0M153.9 408.1h0M159.6 398.0h0M153.4 408.6h0M150.9 359.6h0M147.4 409.0h0M153.6 359.6h0M140.8 398.8h0M150.2 382.7h0M135.8 403.9h0M137.9 407.8h0M151.7 370.9h0M151.0 396.9h0M152.9 406.2h0M155.9 362.2h0M150.9 365.5h0M156.8 398.5h0M143.5 400.9h0M155.5 401.6h0M153.2 408.1h0M150.7 390.6h0M150.7 400.3h0M143.7 408.6h0M147.8 394.6h0M162.4 406.5h0M147.3 387.3h0M149.6 380.3h0M151.5 395.5h0M150.9 394.6h0M142.9 397.3h0M152.5 405.6h0M154.0 402.4h0M155.6 388.2h0M153.1 394.5h0M172.8 407.7h0M159.0 385.7h0M160.9 406.9h0M149.9 405.6h0M148.5 376.0h0M153.7 397.4h0M150.9 352.4h0M159.0 397.0h0M157.9 408.8h0M153.2 386.6h0M156.5 389.9h0M154.3 383.1h0M139.0 406.2h0M150.4 394.7h0M146.7 405.4h0M146.8 354.6h0M151.8 405.4h0M153.5 391.7h0M140.6 400.6h0M147.2 406.4h0M157.1 392.9h0M154.8 377.7h0M146.6 406.3h0M149.4 388.6h0M153.2 400.5h0M155.0 389.6h0M149.2 382.3h0M161.4 401.5h0M147.2 392.8h0M150.3 406.5h0M158.3 409.0h0M149.3 391.3h0M145.5 376.4h0M160.2 405.0h0M145.7 391.7h0M147.6 382.2h0M138.8 407.6h0M155.9 390.7h0M149.1 407.3h0M151.9 398.3h0M163.2 408.6h0M147.8 378.9h0M146.0 407.8h0M152.9 401.1h0M158.2 395.2h0M132.9 402.4h0M155.6 383.6h0M134.6 404.6h0M156.4 385.4h0M152.7 370.2h0M144.2 404.5h0M159.0 402.4h0M152.6 391.9h0M153.6 408.2h0M144.5 405.7h0M149.4 402.3h0M149.3 373.6h0M142.5 369.0h0M155.8 403.5h0M155.8 383.6h0M148.2 406.1h0M152.0 381.4h0M139.1 403.5h0M156.0 408.4h0M143.6 400.1h0M168.6 408.0h0M147.2 391.7h0M149.8 379.5h0M145.4 365.0h0M163.9 395.7h0M147.8 390.1h0M154.6 408.6h0M145.2 391.9h0M152.8 399.3h0M154.0 379.5h0M162.1 398.1h0M140.7 401.9h0M157.4 396.7h0M151.1 401.0h0M157.2 395.1h0M143.9 401.2h0M155.4 398.6h0M149.8 389.6h0M158.4 404.4h0M152.8 408.0h0M141.8 407.4h0M150.8 372.6h0M153.7 393.1h0M149.0 370.0h0M151.4 387.8h0M151.9 402.3h0M131.8 409.2h0M155.8 402.2h0M136.9 404.4h0M148.4 378.1h0M157.9 397.9h0M144.8 404.8h0M150.3 403.6h0M148.4 319.3h0M159.0 403.2h0M148.4 398.2h0M150.0 391.9h0M150.3 398.6h0M147.3 404.4h0M144.4 406.3h0M159.2 383.5h0M148.3 404.8h0M153.6 375.9h0M138.4 408.8h0M133.7 402.9h0M148.6 384.4h0M156.6 402.8h0M149.5 406.0h0M151.1 378.2h0M153.9 383.3h0M147.6 397.0h0M172.6 408.5h0M172.7 404.5h0M153.0 387.8h0M148.0 381.6h0M152.8 389.0h0M147.7 396.7h0M153.2 358.8h0M145.8 408.7h0M151.9 408.8h0M155.7 388.3h0M149.2 371.2h0M159.4 399.1h0M151.1 372.4h0M158.3 392.5h0M152.3 383.0h0M134.3 407.1h0M151.7 396.3h0M161.6 407.6h0M149.0 380.6h0M157.3 390.3h0M148.7 386.3h0M149.0 403.6h0M143.4 374.3h0M139.4 400.2h0M159.8 393.6h0M154.0 370.8h0M153.5 388.9h0M152.3 397.2h0M151.7 346.6h0M154.6 385.5h0M155.8 397.6h0M150.2 389.6h0M143.9 377.0h0M156.6 404.1h0M135.7 407.3h0M153.0 382.7h0M153.7 373.4h0M144.6 371.3h0M153.1 400.0h0M135.8 407.3h0M158.7 401.6h0M155.6 347.0h0M149.8 405.4h0M150.3 397.9h0M145.8 402.7h0M143.4 406.3h0M155.6 403.8h0M148.4 372.0h0M153.4 404.4h0M149.6 401.5h0M151.9 368.7h0M170.6 409.1h0M150.4 394.4h0M149.5 375.8h0M148.5 371.5h0M146.0 389.7h0M149.8 400.3h0M152.0 401.4h0M149.2 393.8h0M149.8 402.0h0M160.5 395.1h0M150.6 386.0h0M159.4 384.7h0M150.5 343.8h0M131.7 407.0h0M145.2 395.6h0M167.0 401.9h0M154.0 388.2h0M156.2 400.7h0M146.1 398.8h0M152.9 390.1h0M150.9 398.5h0M153.4 402.6h0M129.2 408.6h0M153.6 390.9h0M147.0 398.9h0M158.5 394.2h0M149.6 399.4h0M153.8 390.0h0M152.1 404.2h0M149.8 402.5h0M159.1 389.1h0M151.5 375.7h0M152.8 371.8h0M150.1 360.0h0M153.6 396.6h0M143.6 396.1h0M162.8 393.7h0M150.0 389.8h0M141.1 407.1h0M160.9 408.0h0M152.3 361.9h0M137.8 409.1h0M148.2 398.2h0M156.2 396.1h0M158.9 409.1h0M149.3 390.6h0M158.9 400.1h0M148.0 389.0h0M147.9 406.4h0M143.5 395.0h0M148.4 383.5h0M147.9 380.3h0M151.7 403.3h0M157.6 364.4h0M156.0 398.1h0M143.9 399.8h0M150.4 394.1h0M150.8 401.9h0M155.8 402.7h0M148.7 384.9h0M151.2 390.7h0M154.2 383.8h0M155.1 390.9h0M154.3 409.0h0M145.9 401.9h0M153.0 368.1h0M153.2 360.2h0M137.0 405.8h0M149.8 382.5h0M159.1 404.5h0M157.0 407.3h0M146.1 404.3h0M150.4 385.1h0M153.5 371.3h0M157.5 382.9h0M149.9 402.9h0M165.2 408.9h0M169.4 405.6h0M159.0 403.7h0M149.4 389.3h0M153.3 393.5h0M156.7 398.2h0M151.3 386.2h0M147.6 399.2h0M149.4 382.1h0M149.1 388.9h0M154.3 379.9h0M155.4 404.9h0M150.7 403.9h0M142.1 393.3h0M142.6 407.2h0M153.0 390.0h0M144.7 405.8h0M156.5 406.1h0M160.4 398.3h0M157.0 386.8h0M151.7 407.6h0M160.9 398.0h0M154.7 378.5h0M144.9 382.2h0M153.1 402.6h0M151.6 403.1h0M147.5 384.3h0M144.3 405.8h0M153.7 405.8h0M153.4 395.5h0M151.9 380.9h0M156.1 407.7h0M132.4 405.7h0M155.4 367.5h0M140.4 408.2h0M163.4 403.1h0M150.2 392.3h0M154.9 386.5h0M161.3 398.4h0M171.4 401.0h0M148.5 405.3h0M142.7 398.3h0M150.8 396.6h0M153.8 398.7h0M139.4 405.5h0M151.6 397.8h0M150.8 396.9h0M159.6 402.8h0M152.6 370.2h0M148.2 374.2h0M151.6 379.4h0M147.3 404.5h0M148.6 375.2h0M144.5 403.9h0M155.9 378.1h0M133.2 402.0h0M148.9 393.2h0M155.0 397.2h0M147.1 380.6h0M155.9 401.6h0M148.7 355.7h0M150.1 380.2h0M153.5 383.8h0M145.4 407.2h0M149.0 397.4h0M155.3 389.9h0M152.8 404.5h0M150.0 382.1h0M146.7 392.9h0M165.0 408.0h0M154.2 398.4h0M150.9 402.2h0M155.7 368.4h0M159.9 404.4h0M159.3 407.9h0M154.0 405.2h0M151.5 387.3h0M157.3 405.8h0M147.7 402.4h0M150.6 388.8h0M147.5 397.9h0M151.2 406.7h0M148.6 362.8h0M146.9 388.9h0M160.6 408.0h0M140.5 331.3h0M138.3 402.0h0M131.9 393.5h0M150.0 344.1h0M155.7 331.3h0M128.5 390.1h0M130.7 367.6h0M141.3 407.3h0M164.7 368.4h0M162.3 405.9h0M154.1 384.0h0M154.5 352.6h0M131.5 385.5h0M173.5 408.8h0M133.5 379.8h0M173.4 403.6h0M140.2 393.8h0M170.6 367.8h0M155.7 366.6h0M141.6 396.3h0M170.6 359.3h0M151.1 405.2h0M152.7 360.5h0M158.0 360.4h0M152.7 385.7h0M166.6 408.5h0M154.2 397.3h0M171.1 381.5h0M171.3 364.8h0M146.7 374.4h0M159.3 330.3h0M165.2 406.1h0M151.7 339.7h0M152.3 377.2h0M173.1 361.7h0M166.5 400.2h0M142.4 336.7h0M157.4 375.4h0M139.9 329.8h0M166.5 387.7h0M147.6 386.4h0M158.2 397.3h0M141.1 349.9h0M132.6 384.0h0M137.2 357.7h0M151.1 379.4h0M141.1 343.5h0M145.0 391.9h0M168.4 390.3h0M171.6 375.1h0M145.8 377.2h0M170.2 403.5h0M135.8 374.2h0M166.5 367.3h0M163.8 339.5h0M141.9 343.7h0M148.7 398.1h0M136.6 372.4h0M153.9 359.2h0M167.8 400.0h0M146.5 405.4h0M137.7 398.0h0M146.9 405.2h0M143.5 346.2h0M138.0 357.0h0M140.7 386.6h0M140.8 402.6h0M157.0 362.4h0M135.2 381.8h0M144.9 357.1h0M136.2 352.5h0M140.8 362.1h0M163.0 343.5h0M144.8 398.0h0M160.2 360.7h0M149.2 337.0h0M173.3 381.3h0M152.0 352.3h0M163.2 388.2h0M147.1 393.7h0M137.1 402.7h0M137.8 393.6h0M166.0 407.0h0M145.3 330.0h0M150.0 407.1h0M147.5 348.8h0M136.8 359.7h0M145.6 347.4h0M160.4 333.8h0M150.8 401.3h0M136.9 350.1h0M149.3 399.1h0M169.6 387.2h0M134.4 409.0h0M155.6 356.2h0M129.1 389.7h0M134.2 388.6h0M133.4 361.0h0M138.3 408.5h0M137.7 359.2h0M162.6 334.1h0M168.6 364.1h0M137.3 357.2h0M155.6 368.6h0M168.8 381.0h0M161.9 378.1h0M155.3 374.9h0M162.7 376.8h0M161.9 340.2h0M142.7 378.2h0M165.2 394.5h0M154.8 361.1h0" stroke="#858585" stroke-width="1.2" stroke-linecap="round" fill="none"/>
<path d="M170.4 387.1h0M133.6 408.4h0M161.2 394.8h0M152.8 380.7h0M137.1 349.4h0M165.8 341.0h0M143.5 393.3h0M130.4 401.6h0M172.4 382.2h0M151.2 352.2h0M144.9 404.7h0M155.6 406.6h0M142.9 364.4h0M130.5 408.3h0M150.2 381.6h0M129.7 394.4h0M139.9 377.8h0M156.2 367.6h0M163.1 401.6h0M167.0 395.3h0M137.4 387.8h0M143.2 342.5h0M137.9 394.0h0M151.7 367.8h0M129.9 389.2h0M159.6 341.0h0M162.9 383.9h0M168.4 408.6h0M158.1 409.1h0M155.7 338.8h0M140.2 335.9h0M147.3 406.6h0M128.1 402.5h0M150.0 398.8h0M139.4 373.5h0M158.4 386.9h0M138.3 362.5h0M152.2 409.2h0M146.6 409.0h0M138.1 387.5h0M145.1 357.5h0M138.3 350.6h0M129.0 370.3h0M153.3 380.5h0M168.2 375.6h0M138.8 376.2h0M157.5 395.6h0M156.7 331.3h0M140.1 377.3h0M166.1 354.4h0M171.8 402.0h0M171.9 398.7h0M164.7 375.2h0M137.7 381.5h0" stroke="#858585" stroke-width="1.2" stroke-linecap="round" fill="none"/>
<path d="M136.2 313.4h0M131.8 319.1h0M133.8 346.0h0M137.8 332.0h0M120.7 313.6h0M121.3 301.0h0M130.7 331.8h0M127.9 358.9h0M129.6 304.5h0M126.5 275.9h0M125.3 299.6h0M137.3 325.4h0M121.8 370.1h0M138.2 328.9h0M129.0 338.9h0M135.4 323.6h0M126.2 296.5h0M132.4 321.7h0M126.7 361.8h0M130.5 330.4h0M135.5 329.7h0M131.5 330.5h0M132.8 308.1h0M130.1 317.4h0M131.9 319.8h0M124.4 278.3h0M127.6 318.5h0M131.8 349.7h0M129.8 303.0h0M126.7 366.2h0M134.8 334.8h0M130.3 356.1h0M123.5 276.6h0M121.4 373.7h0M123.0 356.5h0M132.7 320.4h0M133.5 321.1h0M132.1 308.4h0M129.3 358.4h0M130.9 339.8h0M131.4 356.6h0M124.9 367.5h0M131.1 323.2h0M125.2 290.6h0M132.3 313.8h0M125.6 369.2h0M118.1 374.8h0M127.0 353.1h0M128.8 345.9h0M132.6 308.8h0M121.4 372.9h0M128.0 299.6h0M117.0 375.1h0M129.9 347.0h0M125.3 362.8h0M135.8 311.6h0M128.5 296.8h0M126.5 313.7h0M125.5 297.8h0M127.7 310.2h0M128.5 329.6h0M125.1 327.9h0M128.8 355.0h0M125.1 362.4h0M135.8 334.5h0M128.8 317.3h0M129.8 320.9h0M126.4 353.9h0M128.5 309.4h0M122.6 359.4h0M133.0 310.6h0M123.6 310.6h0M126.2 308.7h0M126.2 311.7h0M136.9 317.5h0M134.0 334.8h0M130.6 324.1h0M133.1 317.9h0M126.9 300.2h0M130.8 349.1h0M131.4 352.5h0M133.9 327.0h0M128.7 352.7h0M118.7 285.8h0M130.1 328.4h0M119.6 368.1h0M133.9 307.8h0M128.4 327.0h0M132.9 317.2h0M126.0 305.2h0M130.2 359.7h0M132.0 350.4h0M125.0 300.9h0M117.0 370.8h0M130.6 320.8h0M133.7 314.6h0M138.2 322.3h0M132.1 324.4h0M123.4 368.3h0M131.0 338.4h0M130.9 312.0h0M128.7 317.7h0M134.0 339.1h0M130.1 356.8h0M127.2 357.2h0M124.1 370.0h0M129.8 313.0h0M125.5 325.8h0M121.7 368.7h0M134.4 345.9h0M133.1 304.4h0M133.5 345.2h0M127.6 357.5h0M132.8 337.1h0M127.6 361.4h0M132.8 351.6h0M129.9 349.6h0M122.3 296.2h0M127.2 361.0h0M126.7 309.8h0M122.4 364.9h0M134.8 319.8h0M134.4 318.4h0M137.7 317.9h0M126.0 366.8h0M132.8 352.0h0M132.2 320.6h0M125.3 280.7h0M118.4 367.8h0M131.5 311.3h0M129.8 321.0h0M135.5 340.2h0M137.4 327.2h0M127.4 299.6h0M125.6 357.7h0M135.3 335.1h0M136.7 323.3h0M122.3 362.1h0M119.5 369.3h0M133.7 319.7h0M124.4 360.1h0M123.1 359.1h0M126.6 356.7h0M131.4 339.9h0M132.5 342.6h0M125.3 362.2h0M132.9 329.5h0M127.5 333.8h0M128.6 345.8h0M129.0 296.4h0M127.3 357.2h0M122.8 366.7h0M122.8 363.0h0M133.3 302.6h0M131.5 324.9h0M129.1 349.1h0M129.3 320.8h0M133.2 325.6h0M114.9 372.9h0M123.2 364.0h0M130.7 289.6h0M124.4 367.1h0M132.2 352.6h0M135.3 310.9h0M126.1 302.6h0M122.1 357.8h0M125.1 302.8h0M129.4 314.3h0M134.5 315.6h0M128.9 351.1h0M130.4 335.0h0M128.1 361.8h0M124.0 365.4h0M134.8 341.7h0M130.2 318.4h0M124.1 295.5h0M121.0 299.5h0M130.5 357.9h0M128.2 314.3h0M127.4 300.0h0M126.4 309.0h0M133.7 326.9h0M123.8 361.8h0M136.1 312.4h0M130.2 322.1h0M133.2 304.5h0M127.6 356.1h0M132.5 341.0h0M130.9 358.4h0M112.9 376.0h0M125.3 363.3h0M129.6 300.8h0M133.1 309.0h0M124.3 348.9h0M128.4 341.7h0M131.8 349.9h0M123.1 361.3h0M123.4 367.0h0M130.7 329.5h0M130.5 309.1h0M132.1 322.7h0M128.7 358.4h0M131.3 332.8h0M132.4 330.9h0M127.7 347.6h0M128.1 336.0h0M129.9 343.3h0M127.9 362.0h0M125.5 300.6h0M122.8 286.7h0M126.4 364.3h0M123.5 366.1h0M126.9 333.3h0M129.1 350.6h0M127.3 317.4h0M132.0 354.3h0M127.3 306.9h0M136.3 311.1h0M130.0 304.7h0M129.4 315.4h0M132.5 348.1h0M133.8 312.4h0M127.8 318.6h0M118.2 373.4h0M139.0 317.7h0M121.6 305.5h0M129.8 328.9h0M120.1 300.9h0M132.9 317.4h0M122.1 370.0h0M131.6 329.5h0M128.8 310.3h0M133.0 340.3h0M130.0 295.9h0M127.0 318.2h0M127.9 311.6h0M121.4 367.8h0M128.6 318.0h0M131.5 356.9h0M135.2 329.9h0M134.2 313.5h0M130.4 352.2h0M119.7 374.9h0M127.5 301.7h0M125.9 287.8h0M128.9 349.9h0M126.1 364.4h0M132.8 327.0h0M116.6 367.6h0M135.6 337.0h0M125.8 347.3h0M115.6 373.6h0M130.0 340.5h0M131.8 335.2h0M133.8 297.5h0M133.1 347.8h0M122.2 373.7h0M138.3 325.1h0M131.2 347.6h0M125.3 367.1h0M127.9 353.0h0M126.0 306.5h0M129.4 312.4h0M129.8 345.2h0M132.9 351.6h0M123.5 365.3h0M130.6 355.2h0M134.0 321.5h0M125.8 301.2h0M127.7 332.2h0M135.3 320.7h0M130.3 351.6h0M135.6 343.5h0M131.8 345.1h0M127.1 299.3h0M135.3 333.9h0M135.5 324.6h0M131.3 320.4h0M127.9 306.4h0M136.4 337.2h0M127.6 320.1h0M137.5 323.6h0M126.8 299.3h0M133.1 349.5h0M131.8 325.6h0M131.4 298.8h0M130.8 355.3h0M128.7 332.5h0M126.3 310.7h0M129.9 360.4h0M127.4 356.6h0M136.5 335.3h0M125.6 308.7h0M128.9 333.6h0M133.8 332.6h0M129.3 359.7h0M127.6 309.0h0M120.2 370.9h0M129.0 309.8h0M134.0 327.0h0M134.5 331.9h0M122.8 367.9h0M133.0 323.2h0M123.1 362.2h0M134.5 328.3h0M133.4 337.5h0M119.9 368.9h0M124.7 364.4h0M131.8 322.7h0M135.2 318.3h0M126.1 344.1h0M131.9 344.8h0M132.0 325.2h0M128.0 299.1h0M118.6 374.4h0M124.8 283.4h0M137.0 319.1h0M123.9 369.2h0M136.0 323.4h0M119.9 278.3h0M129.9 308.1h0M122.9 308.5h0M127.0 354.6h0M128.5 335.6h0M133.1 318.5h0M122.8 304.1h0M126.7 306.3h0M131.2 309.4h0M132.9 343.3h0M113.1 371.3h0M134.4 347.9h0M123.3 365.3h0M129.8 304.1h0M117.7 375.7h0M125.2 351.1h0M121.6 360.0h0M127.5 356.4h0M134.2 304.2h0M128.8 351.0h0M128.8 362.5h0M134.3 322.8h0M128.7 281.0h0M130.9 301.7h0M130.3 311.0h0M125.9 332.6h0M132.8 351.1h0M131.8 356.4h0M127.0 357.6h0M131.2 318.0h0M131.5 332.8h0M130.7 322.2h0M122.7 370.5h0M124.6 290.2h0M136.2 332.8h0M130.6 318.7h0M131.5 338.9h0M128.6 336.9h0M127.8 356.5h0M132.4 331.5h0M110.9 375.8h0M127.8 318.9h0M124.6 320.0h0M136.1 337.0h0M123.2 367.7h0M131.0 334.4h0M127.3 342.7h0M131.8 343.8h0M123.9 350.1h0M133.4 350.4h0M122.4 370.6h0M122.6 311.6h0M120.3 375.8h0M132.4 292.4h0M131.4 324.7h0M131.5 321.2h0M133.5 319.6h0M127.1 275.3h0M124.6 301.0h0M124.9 362.2h0M126.3 355.0h0M137.4 326.9h0M126.2 356.1h0M124.3 281.6h0M125.5 367.7h0M131.5 306.4h0M136.1 341.0h0M122.9 369.4h0M124.2 369.0h0M129.3 303.4h0M118.2 276.8h0M123.7 364.7h0M127.6 359.3h0M114.9 367.7h0M125.4 314.6h0M136.4 335.1h0M124.8 363.2h0M132.6 324.2h0M118.5 375.8h0M131.6 325.7h0M121.9 303.6h0M127.4 362.5h0M129.7 350.5h0M133.0 345.3h0M137.3 315.2h0M126.7 322.5h0M119.0 372.0h0M136.2 331.6h0M129.2 332.5h0M128.1 316.0h0M121.5 358.5h0M136.9 336.1h0M134.5 347.7h0M128.5 360.0h0M131.4 339.4h0M118.2 375.0h0M123.9 315.4h0M136.9 330.3h0M121.5 311.7h0M126.3 311.0h0M123.3 358.3h0M131.8 346.5h0M124.0 371.4h0M124.8 344.6h0M122.6 369.1h0M128.9 343.1h0M118.6 367.9h0M133.9 315.0h0M131.8 326.9h0M129.6 353.7h0M116.4 375.7h0M137.7 320.9h0M127.9 300.1h0M135.0 330.7h0M132.1 350.0h0M120.9 285.5h0M126.1 349.4h0M134.3 340.9h0M132.8 346.5h0M123.3 366.0h0M121.1 297.4h0M129.3 346.5h0M123.6 283.2h0M124.1 350.3h0M125.6 359.7h0M117.5 375.2h0M125.4 338.9h0M132.3 330.7h0M121.7 373.6h0M124.3 301.9h0M126.2 351.7h0M134.7 317.4h0M130.6 344.6h0M126.3 343.6h0M132.3 328.7h0M128.3 299.1h0M117.3 361.2h0M134.4 332.4h0M125.3 314.0h0M126.1 319.5h0M130.8 319.6h0M125.1 364.8h0M134.3 319.4h0M131.8 313.9h0M132.3 353.5h0M132.3 308.5h0M133.0 322.3h0M124.5 354.3h0M129.7 311.6h0M131.0 336.2h0M122.6 342.4h0M135.2 341.5h0M131.0 343.7h0M134.9 337.9h0M128.1 356.8h0M121.1 366.4h0M113.4 376.0h0M121.9 351.1h0M132.1 352.7h0M133.7 329.0h0M122.5 366.2h0M123.8 369.2h0M123.3 306.4h0M127.5 299.9h0M126.5 311.7h0M130.2 309.9h0M117.2 369.4h0M135.7 330.2h0M134.9 316.1h0M126.8 304.2h0M130.6 337.0h0M134.2 322.6h0M130.1 306.5h0M129.8 332.1h0M130.2 359.4h0M130.5 343.2h0M133.7 341.6h0M128.9 321.9h0M124.1 301.2h0M132.7 341.4h0M120.8 371.7h0M125.0 305.2h0M119.7 360.2h0M128.4 332.0h0M131.2 346.3h0M133.8 342.0h0M126.1 342.5h0M127.4 312.4h0M130.1 339.0h0M123.9 302.7h0M125.5 275.8h0M128.7 339.7h0M133.7 298.8h0M132.7 346.1h0M127.0 360.0h0M121.3 320.0h0M135.3 341.9h0M125.0 323.1h0M128.2 342.8h0M130.4 346.0h0M127.5 350.6h0M116.0 298.9h0M132.5 331.8h0M132.5 349.9h0M128.3 299.8h0M121.4 374.9h0M135.2 308.3h0M132.8 326.9h0M123.0 365.7h0M124.5 304.0h0M123.2 291.0h0M126.8 306.5h0M127.2 297.2h0M123.5 364.7h0M126.8 304.2h0M133.3 332.7h0M133.1 349.8h0M129.2 324.9h0M117.2 373.7h0M129.1 351.0h0M124.0 284.8h0M120.0 297.6h0M132.6 343.6h0M132.4 323.5h0M129.0 307.9h0M125.4 363.3h0M130.2 354.0h0M129.3 348.7h0M137.6 311.1h0M130.9 316.6h0M130.4 356.8h0M137.1 336.8h0M130.7 329.3h0M131.2 307.3h0M126.4 314.4h0M124.9 311.9h0M136.7 331.2h0M126.6 367.4h0M121.6 369.6h0M133.0 325.1h0M129.6 353.2h0M132.8 342.6h0M126.4 340.7h0M133.1 337.0h0M124.2 317.4h0M121.9 369.2h0M129.7 313.6h0M130.7 334.0h0M126.7 305.3h0M134.7 344.3h0M125.0 362.4h0M127.4 360.3h0M127.7 295.3h0M134.6 329.6h0M137.5 333.9h0M119.9 365.6h0M133.0 344.5h0M130.4 321.2h0M128.5 356.7h0M122.5 277.8h0M130.7 312.0h0M127.1 357.2h0M129.9 359.9h0M133.1 325.2h0M129.0 316.0h0M135.1 328.1h0M127.5 300.7h0M132.0 290.1h0M135.0 317.2h0M133.9 315.3h0M124.1 275.1h0M131.9 349.6h0M132.8 336.1h0M132.1 319.7h0M137.2 325.9h0M129.8 352.5h0M128.9 304.3h0M135.7 338.7h0M126.6 355.9h0M126.0 294.6h0M132.8 341.6h0M110.7 374.3h0M132.9 335.1h0M132.4 325.9h0M130.2 311.7h0M135.8 329.8h0M121.5 359.0h0M133.4 339.4h0M127.6 305.6h0M133.2 335.2h0M128.6 313.1h0M130.5 354.0h0M129.3 297.8h0M131.7 318.7h0M126.4 311.1h0M129.5 359.4h0M117.2 368.8h0M137.3 327.0h0M127.6 365.3h0M132.2 330.2h0M125.3 359.5h0M129.6 354.6h0M127.8 349.5h0M130.4 332.6h0M128.7 308.2h0M126.2 303.5h0M122.7 299.7h0M133.8 320.9h0M128.0 348.6h0M133.3 303.2h0M123.3 360.0h0M129.0 342.2h0M125.9 362.9h0M132.4 311.6h0M129.0 303.4h0M129.1 351.5h0M131.4 342.5h0M118.3 275.6h0M134.6 328.5h0M125.9 366.3h0M131.4 348.6h0M125.9 368.4h0M123.9 369.2h0M124.6 299.1h0M132.6 346.1h0M109.7 374.1h0M124.3 358.1h0M133.7 324.7h0M137.2 315.7h0M119.7 367.7h0M133.1 347.9h0M128.2 293.0h0M134.7 315.0h0M130.6 321.0h0M127.9 315.4h0M127.0 351.1h0M127.5 318.7h0M132.7 330.4h0M128.1 305.2h0M122.7 299.7h0M119.1 373.8h0M130.7 314.4h0M119.2 299.4h0M129.6 309.6h0M120.0 373.7h0M118.9 375.5h0M126.8 365.0h0M129.5 305.0h0M124.8 365.2h0M132.8 349.5h0M126.7 303.8h0M133.9 319.9h0M124.7 303.7h0M124.1 362.2h0M131.9 319.8h0M127.0 359.4h0M128.5 326.0h0M124.8 307.2h0M125.1 286.2h0M129.2 321.8h0M123.0 364.9h0M114.8 373.0h0M130.3 351.9h0M122.8 369.8h0M121.2 373.5h0M129.6 305.1h0M130.5 308.5h0M139.3 312.6h0M132.3 347.0h0M126.8 355.5h0M115.5 372.4h0M129.5 352.4h0M128.9 350.4h0M133.8 332.7h0M133.2 345.5h0M119.8 374.5h0M130.5 341.3h0M126.7 281.2h0M126.2 305.2h0M128.7 346.3h0M129.2 292.8h0M137.4 329.3h0M134.3 310.0h0M128.2 302.9h0M127.9 322.9h0M126.9 364.0h0M130.1 332.1h0M134.2 319.4h0M127.2 301.7h0M129.0 318.0h0M125.5 360.2h0M135.5 317.2h0M126.9 343.4h0M129.0 312.6h0M122.7 366.8h0M128.2 300.5h0M128.3 359.0h0M129.1 310.0h0M121.8 365.0h0M131.1 312.6h0M123.4 307.4h0M119.0 372.0h0M128.6 355.6h0M125.6 311.9h0M129.4 300.0h0M139.2 319.5h0M126.7 320.5h0M133.4 331.2h0M133.8 306.7h0M128.7 306.5h0M135.1 328.4h0M134.3 324.2h0M134.3 339.2h0M130.2 326.3h0M119.4 374.9h0M130.4 329.6h0M133.1 314.2h0M126.2 362.0h0M132.6 341.4h0M124.7 350.7h0M123.5 322.5h0M119.7 295.7h0M120.6 304.1h0M129.5 341.1h0M131.0 296.4h0M133.5 312.2h0M119.9 363.5h0M130.7 309.8h0M121.4 371.6h0M130.9 299.4h0M134.6 330.6h0M135.5 332.1h0M125.9 366.1h0M130.0 326.0h0M119.1 374.4h0M120.7 369.8h0M128.8 306.2h0M128.1 358.4h0M125.7 323.4h0M125.6 314.7h0M130.1 355.4h0M131.1 325.9h0M126.6 364.7h0M128.2 309.0h0M130.1 324.7h0M119.2 363.6h0M126.8 334.4h0M137.6 326.8h0M134.1 332.2h0M133.7 339.9h0M118.5 367.5h0M129.2 356.7h0M124.5 365.2h0M132.5 325.1h0M126.7 351.5h0M130.6 308.0h0M125.9 359.1h0M125.9 359.4h0M121.6 298.8h0M125.6 305.5h0M132.5 351.9h0M128.1 321.7h0M122.1 363.2h0M130.2 296.7h0M130.7 326.6h0M122.2 351.6h0M121.1 374.5h0M125.2 286.8h0M123.9 369.9h0M135.1 333.2h0M125.2 368.4h0M127.3 320.2h0M124.4 308.7h0M131.3 309.3h0M122.7 366.2h0M128.3 363.5h0M136.4 338.8h0M131.7 330.6h0M123.2 288.9h0M133.0 317.0h0M136.5 336.4h0" stroke="#2f4f97" stroke-width="1.2" stroke-linecap="round" fill="none"/>
<path d="M127.6 344.4h0M132.9 334.7h0M131.8 298.9h0M130.9 349.7h0M131.6 351.2h0M125.2 358.2h0M130.2 342.2h0M130.0 308.4h0M129.9 298.7h0M133.1 352.3h0M132.9 304.9h0M128.0 311.0h0M123.2 293.2h0M117.1 368.4h0M128.8 291.5h0M133.3 314.2h0M128.5 338.3h0M133.7 309.5h0M137.7 325.3h0M130.4 329.0h0M123.7 368.0h0M127.7 355.5h0M127.9 310.7h0M134.6 343.5h0M128.4 310.9h0M132.6 336.0h0M123.5 369.5h0M126.7 339.7h0M127.5 305.3h0M130.6 296.7h0M123.3 310.6h0M130.6 331.1h0M130.3 342.8h0M123.3 359.7h0M129.2 299.1h0M130.6 335.5h0M125.0 363.3h0M124.8 311.4h0M133.2 345.4h0M118.3 278.8h0M132.3 324.2h0M134.7 317.3h0M125.8 366.4h0M131.1 294.7h0M135.3 333.6h0M131.4 314.2h0M134.0 347.6h0M132.4 349.9h0M126.7 311.0h0M120.8 368.0h0M134.1 349.3h0M117.1 375.0h0M135.9 341.7h0M124.2 298.0h0M129.1 306.8h0M130.0 332.6h0M125.0 352.4h0M129.7 333.6h0M134.8 340.6h0M121.7 373.4h0M122.2 365.7h0M133.7 346.0h0M131.9 314.1h0M129.3 341.8h0M130.8 310.1h0M133.8 344.8h0M131.9 342.8h0M128.0 305.8h0M133.9 338.9h0M125.5 312.1h0M116.5 370.0h0M131.0 312.3h0M121.2 300.6h0M122.9 372.8h0M135.0 338.9h0M127.2 303.8h0M133.7 326.7h0M115.2 374.7h0M122.2 365.9h0M124.4 305.1h0M131.9 318.9h0M113.8 369.3h0M136.1 327.5h0M129.6 307.6h0M125.5 359.9h0M131.2 333.4h0M125.5 365.8h0M114.6 374.2h0M132.3 341.1h0M131.1 313.2h0M122.1 306.0h0M128.5 296.2h0M123.4 300.6h0M135.5 314.7h0M131.8 339.4h0M130.3 320.6h0M120.8 374.4h0M126.1 365.0h0M116.6 375.1h0M114.8 375.4h0M131.5 321.6h0M130.7 319.5h0M134.3 341.6h0M132.3 342.1h0M127.7 348.1h0M136.3 323.2h0M128.6 314.2h0M131.2 349.6h0M131.6 296.8h0M123.8 298.3h0M139.9 299.0h0M122.6 368.9h0M134.2 342.0h0M122.8 367.9h0M133.3 310.7h0M129.0 301.7h0M118.5 372.3h0M127.8 299.2h0M123.2 286.8h0M128.6 333.3h0M130.0 351.9h0M126.1 356.3h0M128.7 299.9h0M131.3 355.7h0M135.2 329.7h0M122.1 363.1h0M126.0 301.8h0M135.9 325.4h0M134.7 320.3h0M133.0 347.8h0M123.3 278.0h0M133.2 314.2h0M126.8 326.9h0M130.5 304.4h0M119.1 370.1h0M133.5 338.1h0M130.6 296.2h0M127.3 311.7h0M126.2 309.7h0M122.4 371.7h0M129.1 325.3h0M124.2 368.5h0M122.9 344.6h0M129.5 307.7h0M129.8 321.3h0M122.0 371.0h0M132.4 298.7h0M129.5 321.7h0M117.3 372.5h0M131.8 312.2h0M131.0 353.5h0M125.3 316.6h0M124.6 319.5h0M127.4 301.4h0M132.9 350.5h0M129.8 331.5h0M133.3 299.0h0M132.7 346.1h0M129.0 311.0h0M126.7 317.9h0M124.3 366.7h0M130.8 321.5h0M128.9 331.3h0M137.6 327.9h0M124.6 362.4h0M122.6 301.8h0M122.0 296.1h0M130.9 321.5h0M127.2 302.3h0M128.8 349.4h0M131.7 327.0h0M116.7 279.5h0M132.8 345.7h0M117.8 373.4h0M133.0 304.5h0M134.3 339.1h0M133.9 332.0h0M135.6 317.6h0M127.9 361.8h0M131.3 334.2h0M126.7 333.3h0M130.8 309.3h0M135.1 326.1h0M134.1 325.0h0M123.9 277.7h0M125.5 358.1h0M128.0 327.2h0M127.0 357.2h0M120.6 372.7h0M130.7 337.0h0M128.4 302.7h0M132.2 320.9h0M124.3 298.6h0M126.5 301.5h0M130.3 306.3h0M119.6 370.8h0M127.6 355.2h0M120.8 364.2h0M137.0 324.0h0M127.2 359.5h0M135.2 323.8h0M133.0 317.7h0M122.1 373.5h0M134.1 339.5h0M126.7 311.7h0M130.6 352.6h0M138.1 322.9h0M126.6 304.4h0M120.0 374.2h0M136.1 328.6h0M128.7 357.5h0M116.9 371.2h0M135.7 335.9h0M123.6 310.1h0M129.2 335.3h0M126.3 327.5h0M123.0 372.9h0M136.3 337.8h0M132.1 347.9h0M125.2 366.9h0M133.2 318.9h0M131.7 314.8h0M123.3 307.9h0M133.5 350.1h0M121.1 368.3h0M124.6 300.1h0M123.9 368.7h0M123.5 362.1h0M125.2 321.8h0M138.2 330.3h0M126.1 366.2h0M121.3 364.5h0M124.8 367.5h0M124.5 361.7h0M127.2 348.9h0M130.1 349.8h0M131.3 319.8h0M122.9 366.6h0M115.5 277.8h0M135.5 339.5h0M131.4 337.4h0M129.9 344.1h0M130.8 315.6h0M122.9 360.0h0M129.8 352.1h0M128.2 345.8h0M123.2 357.6h0M128.9 298.4h0M117.6 374.4h0M129.9 341.8h0M128.5 313.0h0M113.0 373.0h0M126.3 362.7h0M131.8 324.8h0M116.0 367.1h0M125.8 360.2h0M128.3 346.2h0M119.2 367.2h0M121.4 344.9h0M134.9 330.0h0M130.5 335.3h0M134.1 321.5h0M135.2 326.3h0M121.8 301.4h0M121.2 372.2h0M130.5 309.9h0M131.9 316.7h0M113.2 314.9h0M118.0 298.0h0M108.6 315.6h0M111.0 336.7h0M113.9 310.8h0M112.3 314.4h0M118.9 319.6h0M115.5 337.2h0M115.3 338.2h0M108.1 351.4h0M112.8 335.6h0M109.9 314.6h0M112.5 315.0h0M111.7 308.7h0M114.4 369.1h0M114.3 370.1h0M110.4 328.9h0M118.0 294.0h0M116.4 290.3h0M111.8 356.1h0M111.9 311.6h0M110.4 324.9h0" stroke="#2f4f97" stroke-width="1.2" stroke-linecap="round" fill="none"/>
<path d="M172.3 347.2h0M171.6 351.8h0M172.9 327.2h0M168.1 333.4h0M175.1 337.3h0M173.1 338.9h0M173.6 343.0h0M173.1 358.4h0M171.0 341.9h0M176.9 361.1h0M167.0 326.8h0M174.7 352.8h0M166.3 326.6h0M175.2 355.2h0M171.0 329.6h0M171.3 318.1h0M172.8 341.8h0M167.1 321.8h0M169.6 331.0h0M177.6 363.4h0M173.7 346.9h0M169.9 338.4h0M168.1 331.2h0M175.2 351.9h0M166.6 321.1h0M172.5 346.9h0M175.3 351.3h0M175.6 324.1h0M166.4 329.1h0M174.9 357.7h0M172.1 347.8h0M173.2 331.4h0M176.0 347.0h0M179.5 361.0h0M173.6 345.0h0M171.8 351.9h0M165.6 326.3h0M176.5 356.9h0M166.7 331.1h0M174.1 353.6h0M170.3 349.0h0M169.3 337.5h0M171.2 327.2h0M174.1 356.7h0M165.4 320.0h0M172.8 333.8h0M170.4 328.7h0M177.3 352.2h0M175.7 361.9h0M175.3 358.6h0M170.7 351.2h0M172.2 332.7h0M175.1 348.9h0M166.8 322.1h0M167.5 334.2h0M171.1 320.2h0M172.3 339.0h0M174.6 358.0h0M177.4 357.9h0M174.6 356.2h0M166.3 325.0h0M168.8 330.4h0M177.1 360.5h0M169.4 339.3h0M175.4 344.6h0M175.3 351.8h0M174.8 333.0h0M167.5 328.9h0M179.1 357.7h0M167.0 322.2h0M170.0 341.8h0M174.0 354.6h0M173.8 323.0h0M174.2 350.1h0M175.4 354.5h0M167.4 329.9h0M173.6 357.2h0M176.1 350.4h0M176.2 350.6h0M173.5 358.7h0M173.5 352.0h0M173.6 331.9h0M170.9 342.2h0M171.0 351.9h0M171.6 336.6h0M166.8 320.4h0M169.2 341.5h0M180.0 364.0h0M179.4 351.4h0M177.6 359.8h0M173.5 359.3h0M172.5 327.7h0M169.6 333.2h0M175.4 339.0h0M175.7 322.1h0M170.4 347.1h0M179.5 362.7h0M174.3 352.5h0M178.3 357.4h0M172.4 340.3h0M167.7 318.8h0M172.6 338.6h0M168.8 344.7h0M175.5 361.6h0M166.4 329.2h0M167.6 323.3h0M168.8 335.1h0M173.0 347.2h0M166.0 320.3h0M178.2 320.6h0M173.2 350.9h0M172.1 347.7h0M178.5 357.8h0M167.0 332.2h0M169.3 341.6h0M175.8 336.5h0M172.2 346.0h0M180.6 339.9h0" stroke="#c8200f" stroke-width="1.2" stroke-linecap="round" fill="none"/>
<path d="M145.08,257.60 L145.06,258.10 L145.03,258.60 L145.01,259.10 L144.99,259.60 L144.96,260.10 L144.94,260.60 L144.92,261.10 L144.89,261.60 L144.87,262.10 L144.84,262.60 L144.82,263.10 L144.80,263.60 L144.77,264.10 L144.75,264.60 L144.72,265.10 L144.70,265.60 L144.67,266.10 L144.64,266.60 L144.62,267.10 L144.59,267.60 L144.57,268.10 L144.54,268.60 L144.51,269.10 L144.49,269.60 L144.46,270.10 L144.43,270.60 L144.41,271.10 L144.38,271.60 L144.35,272.10 L144.32,272.60 L144.30,273.10 L144.27,273.60 L144.24,274.10 L144.21,274.60 L144.18,275.10 L144.15,275.60 L144.12,276.10 L144.09,276.60 L144.06,277.10 L144.03,277.60 L144.00,278.10 L143.97,278.60 L143.94,279.10 L143.91,279.60 L143.88,280.10 L143.85,280.60 L143.82,281.10 L143.79,281.60 L143.75,282.10 L143.72,282.60 L143.69,283.10 L143.66,283.60 L143.62,284.10 L143.59,284.60 L143.56,285.10 L143.52,285.60 L143.49,286.10 L143.45,286.60 L143.42,287.10 L143.38,287.60 L143.35,288.10 L143.31,288.60 L143.28,289.10 L143.24,289.60 L143.20,290.10 L143.17,290.60 L143.13,291.10 L143.09,291.60 L143.05,292.10 L143.02,292.60 L142.98,293.10 L142.94,293.60 L142.90,294.10 L142.86,294.60 L142.82,295.10 L142.78,295.60 L142.74,296.10 L142.70,296.60 L142.66,297.10 L142.62,297.60 L142.57,298.10 L142.53,298.60 L142.49,299.10 L142.45,299.60 L142.40,300.10 L142.36,300.60 L142.31,301.10 L142.27,301.60 L142.22,302.10 L142.18,302.60 L142.13,303.10 L142.09,303.60 L142.04,304.10 L141.99,304.60 L141.95,305.10 L141.90,305.60 L141.85,306.10 L141.80,306.60 L141.75,307.10 L141.70,307.60 L141.65,308.10 L141.60,308.60 L141.55,309.10 L141.49,309.60 L141.44,310.10 L141.39,310.60 L141.34,311.10 L141.28,311.60 L141.23,312.10 L141.17,312.60 L141.12,313.10 L141.06,313.60 L141.00,314.10 L140.94,314.60 L140.89,315.10 L140.83,315.60 L140.77,316.10 L140.71,316.60 L140.65,317.10 L140.58,317.60 L140.52,318.10 L140.46,318.60 L140.40,319.10 L140.33,319.60 L140.27,320.10 L140.20,320.60 L140.14,321.10 L140.07,321.60 L140.00,322.10 L139.93,322.60 L139.86,323.10 L139.79,323.60 L139.72,324.10 L139.65,324.60 L139.58,325.10 L139.50,325.60 L139.43,326.10 L139.35,326.60 L139.28,327.10 L139.20,327.60 L139.12,328.10 L139.04,328.60 L138.96,329.10 L138.88,329.60 L138.80,330.10 L138.72,330.60 L138.63,331.10 L138.55,331.60 L138.46,332.10 L138.37,332.60 L138.28,333.10 L138.19,333.60 L138.10,334.10 L138.01,334.60 L137.92,335.10 L137.82,335.60 L137.73,336.10 L137.63,336.60 L137.53,337.10 L137.43,337.60 L137.33,338.10 L137.23,338.60 L137.12,339.10 L137.02,339.60 L136.91,340.10 L136.80,340.60 L136.69,341.10 L136.58,341.60 L136.47,342.10 L136.35,342.60 L136.23,343.10 L136.12,343.60 L135.99,344.10 L135.87,344.60 L135.75,345.10 L135.62,345.60 L135.49,346.10 L135.36,346.60 L135.23,347.10 L135.10,347.60 L134.96,348.10 L134.82,348.60 L134.68,349.10 L134.54,349.60 L134.39,350.10 L134.24,350.60 L134.09,351.10 L133.94,351.60 L133.78,352.10 L133.62,352.60 L133.46,353.10 L133.30,353.60 L133.13,354.10 L132.96,354.60 L132.79,355.10 L132.61,355.60 L132.43,356.10 L132.25,356.60 L132.06,357.10 L131.87,357.60 L131.68,358.10 L131.48,358.60 L131.28,359.10 L131.07,359.60 L130.86,360.10 L130.65,360.60 L130.43,361.10 L130.21,361.60 L129.98,362.10 L129.75,362.60 L129.51,363.10 L129.27,363.60 L129.02,364.10 L128.77,364.60 L128.51,365.10 L128.24,365.60 L127.97,366.10 L127.70,366.60 L127.41,367.10 L127.12,367.60 L126.83,368.10 L126.52,368.60 L126.21,369.10 L125.89,369.60 L125.57,370.10 L125.23,370.60 L124.89,371.10 L124.53,371.60 L124.17,372.10 L123.80,372.60 L123.42,373.10 L123.02,373.60 L122.62,374.10 L122.20,374.60 L121.78,375.10 L121.34,375.60 L120.89,376.10 L120.42,376.60 L119.94,377.10 L119.45,377.60 L118.94,378.10 L118.41,378.60 L117.87,379.10 L117.30,379.60 L116.72,380.10 L116.12,380.60 L115.50,381.10 L114.86,381.60 L114.20,382.10 L113.51,382.60 L112.79,383.10 L112.05,383.60 L111.28,384.10 L110.47,384.60 L109.64,385.10 L108.77,385.60 L107.87,386.10 L106.92,386.60 L105.94,387.10 L104.91,387.60 L103.84,388.10 L102.71,388.60 L101.53,389.10 L100.30,389.60 L99.00,390.10 L97.63,390.60 L96.19,391.10 L94.68,391.60 L93.08,392.10 L91.38,392.60 L89.59,393.10 L87.69,393.60 L85.66,394.10 L83.51,394.60 L81.21,395.10 L78.75,395.60 L76.12,396.10 L73.29,396.60 L70.24,397.10 L66.94,397.60 L63.37,398.10 L59.48,398.60" stroke="#333" stroke-width="0.8" fill="none" stroke-dasharray="1.4 1.0"/>
<path d="M158.92,257.60 L158.94,258.10 L158.97,258.60 L158.99,259.10 L159.01,259.60 L159.04,260.10 L159.06,260.60 L159.08,261.10 L159.11,261.60 L159.13,262.10 L159.16,262.60 L159.18,263.10 L159.20,263.60 L159.23,264.10 L159.25,264.60 L159.28,265.10 L159.30,265.60 L159.33,266.10 L159.36,266.60 L159.38,267.10 L159.41,267.60 L159.43,268.10 L159.46,268.60 L159.49,269.10 L159.51,269.60 L159.54,270.10 L159.57,270.60 L159.59,271.10 L159.62,271.60 L159.65,272.10 L159.68,272.60 L159.70,273.10 L159.73,273.60 L159.76,274.10 L159.79,274.60 L159.82,275.10 L159.85,275.60 L159.88,276.10 L159.91,276.60 L159.94,277.10 L159.97,277.60 L160.00,278.10 L160.03,278.60 L160.06,279.10 L160.09,279.60 L160.12,280.10 L160.15,280.60 L160.18,281.10 L160.21,281.60 L160.25,282.10 L160.28,282.60 L160.31,283.10 L160.34,283.60 L160.38,284.10 L160.41,284.60 L160.44,285.10 L160.48,285.60 L160.51,286.10 L160.55,286.60 L160.58,287.10 L160.62,287.60 L160.65,288.10 L160.69,288.60 L160.72,289.10 L160.76,289.60 L160.80,290.10 L160.83,290.60 L160.87,291.10 L160.91,291.60 L160.95,292.10 L160.98,292.60 L161.02,293.10 L161.06,293.60 L161.10,294.10 L161.14,294.60 L161.18,295.10 L161.22,295.60 L161.26,296.10 L161.30,296.60 L161.34,297.10 L161.38,297.60 L161.43,298.10 L161.47,298.60 L161.51,299.10 L161.55,299.60 L161.60,300.10 L161.64,300.60 L161.69,301.10 L161.73,301.60 L161.78,302.10 L161.82,302.60 L161.87,303.10 L161.91,303.60 L161.96,304.10 L162.01,304.60 L162.05,305.10 L162.10,305.60 L162.15,306.10 L162.20,306.60 L162.25,307.10 L162.30,307.60 L162.35,308.10 L162.40,308.60 L162.45,309.10 L162.51,309.60 L162.56,310.10 L162.61,310.60 L162.66,311.10 L162.72,311.60 L162.77,312.10 L162.83,312.60 L162.88,313.10 L162.94,313.60 L163.00,314.10 L163.06,314.60 L163.11,315.10 L163.17,315.60 L163.23,316.10 L163.29,316.60 L163.35,317.10 L163.42,317.60 L163.48,318.10 L163.54,318.60 L163.60,319.10 L163.67,319.60 L163.73,320.10 L163.80,320.60 L163.86,321.10 L163.93,321.60 L164.00,322.10 L164.07,322.60 L164.14,323.10 L164.21,323.60 L164.28,324.10 L164.35,324.60 L164.42,325.10 L164.50,325.60 L164.57,326.10 L164.65,326.60 L164.72,327.10 L164.80,327.60 L164.88,328.10 L164.96,328.60 L165.04,329.10 L165.12,329.60 L165.20,330.10 L165.28,330.60 L165.37,331.10 L165.45,331.60 L165.54,332.10 L165.63,332.60 L165.72,333.10 L165.81,333.60 L165.90,334.10 L165.99,334.60 L166.08,335.10 L166.18,335.60 L166.27,336.10 L166.37,336.60 L166.47,337.10 L166.57,337.60 L166.67,338.10 L166.77,338.60 L166.88,339.10 L166.98,339.60 L167.09,340.10 L167.20,340.60 L167.31,341.10 L167.42,341.60 L167.53,342.10 L167.65,342.60 L167.77,343.10 L167.88,343.60 L168.01,344.10 L168.13,344.60 L168.25,345.10 L168.38,345.60 L168.51,346.10 L168.64,346.60 L168.77,347.10 L168.90,347.60 L169.04,348.10 L169.18,348.60 L169.32,349.10 L169.46,349.60 L169.61,350.10 L169.76,350.60 L169.91,351.10 L170.06,351.60 L170.22,352.10 L170.38,352.60 L170.54,353.10 L170.70,353.60 L170.87,354.10 L171.04,354.60 L171.21,355.10 L171.39,355.60 L171.57,356.10 L171.75,356.60 L171.94,357.10 L172.13,357.60 L172.32,358.10 L172.52,358.60 L172.72,359.10 L172.93,359.60 L173.14,360.10 L173.35,360.60 L173.57,361.10 L173.79,361.60 L174.02,362.10 L174.25,362.60 L174.49,363.10 L174.73,363.60 L174.98,364.10 L175.23,364.60 L175.49,365.10 L175.76,365.60 L176.03,366.10 L176.30,366.60 L176.59,367.10 L176.88,367.60 L177.17,368.10 L177.48,368.60 L177.79,369.10 L178.11,369.60 L178.43,370.10 L178.77,370.60 L179.11,371.10 L179.47,371.60 L179.83,372.10 L180.20,372.60 L180.58,373.10 L180.98,373.60 L181.38,374.10 L181.80,374.60 L182.22,375.10 L182.66,375.60 L183.11,376.10 L183.58,376.60 L184.06,377.10 L184.55,377.60 L185.06,378.10 L185.59,378.60 L186.13,379.10 L186.70,379.60 L187.28,380.10 L187.88,380.60 L188.50,381.10 L189.14,381.60 L189.80,382.10 L190.49,382.60 L191.21,383.10 L191.95,383.60 L192.72,384.10 L193.53,384.60 L194.36,385.10 L195.23,385.60 L196.13,386.10 L197.08,386.60 L198.06,387.10 L199.09,387.60 L200.16,388.10 L201.29,388.60 L202.47,389.10 L203.70,389.60 L205.00,390.10 L206.37,390.60 L207.81,391.10 L209.32,391.60 L210.92,392.10 L212.62,392.60 L214.41,393.10 L216.31,393.60 L218.34,394.10 L220.49,394.60 L222.79,395.10 L225.25,395.60 L227.88,396.10 L230.71,396.60 L233.76,397.10 L237.06,397.60 L240.63,398.10 L244.52,398.60" stroke="#333" stroke-width="0.8" fill="none" stroke-dasharray="1.4 1.0"/>
<path d="M126.6 297.5h0M129.7 316.0h0M132.8 332.8h0M135.4 334.0h0M131.0 342.0h0M130.5 346.5h0M127.0 352.0h0M133.0 357.0h0M126.0 368.0h0M131.0 372.0h0" stroke="#3dbb35" stroke-width="2.1" stroke-linecap="round" fill="none"/>
<path d="M110.1 275.0h0M125.1 286.3h0" stroke="#d88a12" stroke-width="1.9" stroke-linecap="round" fill="none"/>
<path d="M183.1 306.8h0M180.4 309.8h0" stroke="#7a3fa8" stroke-width="1.9" stroke-linecap="round" fill="none"/>
<path d="M186.4 329.4h0" stroke="#a52a12" stroke-width="1.9" stroke-linecap="round" fill="none"/>
<text x="113.30" y="272.10" font-size="7.2" textLength="16.00" lengthAdjust="spacingAndGlyphs">GNE</text>
<text x="128.30" y="286.40" font-size="7.2" textLength="18.40" lengthAdjust="spacingAndGlyphs">GALE</text>
<text x="185.10" y="302.80" font-size="7.2" textLength="21.50" lengthAdjust="spacingAndGlyphs">ICAM1</text>
<text x="183.10" y="316.60" font-size="7.2" textLength="17.90" lengthAdjust="spacingAndGlyphs">DFFA</text>
<text x="189.90" y="333.70" font-size="7.2" textLength="21.80" lengthAdjust="spacingAndGlyphs">BCMA</text>
<line x1="54.00" y1="410.00" x2="58.00" y2="410.00" stroke="#111" stroke-width="1"/>
<line x1="54.00" y1="392.45" x2="58.00" y2="392.45" stroke="#111" stroke-width="1"/>
<line x1="54.00" y1="374.90" x2="58.00" y2="374.90" stroke="#111" stroke-width="1"/>
<line x1="54.00" y1="357.35" x2="58.00" y2="357.35" stroke="#111" stroke-width="1"/>
<line x1="54.00" y1="339.80" x2="58.00" y2="339.80" stroke="#111" stroke-width="1"/>
<line x1="54.00" y1="322.25" x2="58.00" y2="322.25" stroke="#111" stroke-width="1"/>
<line x1="54.00" y1="304.70" x2="58.00" y2="304.70" stroke="#111" stroke-width="1"/>
<line x1="54.00" y1="287.15" x2="58.00" y2="287.15" stroke="#111" stroke-width="1"/>
<line x1="54.00" y1="269.60" x2="58.00" y2="269.60" stroke="#111" stroke-width="1"/>
<text x="51.60" y="413.00" font-size="8.2" text-anchor="end">0</text>
<text x="51.60" y="377.90" font-size="8.2" text-anchor="end">1.0</text>
<text x="51.60" y="342.80" font-size="8.2" text-anchor="end">2.0</text>
<text x="51.60" y="307.70" font-size="8.2" text-anchor="end">3.0</text>
<text x="51.60" y="272.60" font-size="8.2" text-anchor="end">4.0</text>
<line x1="61.85" y1="410.00" x2="61.85" y2="412.60" stroke="#111" stroke-width="1"/>
<text x="60.95" y="423.00" font-size="8.2" text-anchor="middle">-3</text>
<line x1="91.90" y1="410.00" x2="91.90" y2="412.60" stroke="#111" stroke-width="1"/>
<text x="91.00" y="423.00" font-size="8.2" text-anchor="middle">-2</text>
<line x1="121.95" y1="410.00" x2="121.95" y2="412.60" stroke="#111" stroke-width="1"/>
<text x="121.05" y="423.00" font-size="8.2" text-anchor="middle">-1</text>
<line x1="152.00" y1="410.00" x2="152.00" y2="412.60" stroke="#111" stroke-width="1"/>
<text x="152.00" y="423.00" font-size="8.2" text-anchor="middle">0</text>
<line x1="182.05" y1="410.00" x2="182.05" y2="412.60" stroke="#111" stroke-width="1"/>
<text x="182.05" y="423.00" font-size="8.2" text-anchor="middle">1</text>
<line x1="212.10" y1="410.00" x2="212.10" y2="412.60" stroke="#111" stroke-width="1"/>
<text x="212.10" y="423.00" font-size="8.2" text-anchor="middle">2</text>
<line x1="242.15" y1="410.00" x2="242.15" y2="412.60" stroke="#111" stroke-width="1"/>
<text x="242.15" y="423.00" font-size="8.2" text-anchor="middle">3</text>
<text x="34.60" y="334.00" font-size="8.4" text-anchor="middle" textLength="24.40" lengthAdjust="spacingAndGlyphs" font-weight="bold" fill="#333" transform="rotate(-90 34.60 334.00)">-log10 p</text>
<text x="128.40" y="436.00" font-size="8.8" textLength="44.00" lengthAdjust="spacingAndGlyphs" font-weight="bold" fill="#222">CAR Sensitivity</text>
<line x1="115.80" y1="433.90" x2="95.20" y2="433.90" stroke="#1a1a1a" stroke-width="1.1"/>
<path d="M90.80,433.90 L96.30,431.60 L96.30,436.20 Z" fill="#1a1a1a"/>
<line x1="186.00" y1="434.00" x2="205.60" y2="434.00" stroke="#1a1a1a" stroke-width="1.1"/>
<path d="M210.00,434.00 L204.50,431.70 L204.50,436.30 Z" fill="#1a1a1a"/>
<text x="88.80" y="448.10" font-size="8.2" textLength="28.50" lengthAdjust="spacingAndGlyphs">Increase</text>
<text x="180.70" y="448.10" font-size="8.2" textLength="32.30" lengthAdjust="spacingAndGlyphs">Decrease</text>
<path d="M74.7 463.3h0" stroke="#3dbb35" stroke-width="1.4" stroke-linecap="round" fill="none"/>
<path d="M74.4 475.8h0" stroke="#c8200f" stroke-width="1.4" stroke-linecap="round" fill="none"/>
<path d="M74.4 487.4h0" stroke="#2f4f97" stroke-width="1.4" stroke-linecap="round" fill="none"/>
<path d="M167.0 463.9h0" stroke="#ee9a7c" stroke-width="1.4" stroke-linecap="round" fill="none"/>
<path d="M167.0 475.5h0" stroke="#858585" stroke-width="1.4" stroke-linecap="round" fill="none"/>
<line x1="162.60" y1="487.80" x2="167.20" y2="487.80" stroke="#222" stroke-width="0.8" stroke-dasharray="1.6 1.0"/>
<text x="78.60" y="466.20" font-size="8.2" textLength="74.70" lengthAdjust="spacingAndGlyphs">Diacylglycerol kinases</text>
<text x="78.20" y="478.00" font-size="8.2" textLength="43.00" lengthAdjust="spacingAndGlyphs">Positive hits</text>
<text x="78.20" y="489.60" font-size="8.2" textLength="45.60" lengthAdjust="spacingAndGlyphs">Negative hits</text>
<text x="170.80" y="466.60" font-size="8.2" textLength="42.30" lengthAdjust="spacingAndGlyphs">Other genes</text>
<text x="170.80" y="478.10" font-size="8.2" textLength="59.10" lengthAdjust="spacingAndGlyphs">Negative controls</text>
<text x="170.80" y="489.90" font-size="8.2" textLength="33.20" lengthAdjust="spacingAndGlyphs">FDR 0.05</text>
<rect x="321.6" y="257.0" width="153.4" height="136.1" fill="none" stroke="#000" stroke-width="1.3"/>
<line x1="415.30" y1="257.50" x2="415.30" y2="392.30" stroke="#b4b4b4" stroke-width="0.8"/>
<line x1="322.00" y1="345.60" x2="474.30" y2="345.60" stroke="#b4b4b4" stroke-width="0.8"/>
<path d="M433.7 348.4h0M388.9 346.0h0M419.6 346.1h0M439.8 347.1h0M399.7 345.6h0M374.8 344.4h0M386.8 349.3h0M441.0 346.9h0M388.8 346.0h0M403.9 343.5h0M435.4 344.1h0M397.3 345.6h0M401.8 347.0h0M415.5 345.4h0M433.1 344.9h0M407.1 345.4h0M414.1 347.3h0M379.7 344.7h0M430.8 345.1h0M418.5 345.0h0M399.4 345.3h0M427.3 345.6h0M427.5 345.3h0M422.3 347.1h0M427.1 346.4h0M407.0 345.6h0M379.1 344.5h0M397.8 344.5h0M411.5 343.4h0M394.9 346.3h0M413.8 344.3h0M422.0 347.7h0M350.5 344.5h0M444.8 346.6h0M406.7 346.3h0M373.8 350.8h0M371.7 345.0h0M417.6 346.5h0M389.7 344.4h0M424.0 343.2h0M384.0 344.5h0M417.0 345.9h0M329.4 344.2h0M411.3 345.3h0M410.1 345.1h0M414.5 345.6h0M408.8 344.6h0M378.7 345.8h0M402.6 347.0h0M386.3 346.0h0M429.3 347.0h0M385.1 344.2h0M438.1 346.4h0M421.0 345.7h0M426.8 346.4h0M379.6 346.9h0M376.9 344.3h0M419.4 346.4h0M438.6 347.3h0M384.4 346.3h0M403.6 347.4h0M406.0 344.7h0M461.7 345.5h0M414.0 345.0h0M424.8 343.9h0M412.4 345.2h0M434.6 346.9h0M415.8 346.3h0M401.3 343.9h0M414.7 344.4h0M416.3 344.7h0M466.6 345.9h0M444.4 343.4h0M367.7 344.5h0M402.8 345.2h0M420.4 344.6h0M439.5 342.1h0M418.3 346.6h0M391.8 345.5h0M380.0 347.5h0M432.8 344.0h0M382.6 345.2h0M403.2 341.9h0M399.6 344.1h0M456.7 346.7h0M404.6 342.7h0M419.2 342.6h0M398.2 347.2h0M390.7 345.2h0M381.9 343.8h0M387.5 345.6h0M393.3 343.7h0M405.1 345.5h0M417.1 346.0h0M428.2 344.3h0M448.0 347.1h0M423.2 348.7h0M397.3 346.2h0M424.2 345.8h0M397.5 347.8h0M425.9 344.8h0M397.3 349.1h0M436.7 343.2h0M388.4 346.9h0M415.1 346.5h0M404.9 346.4h0M424.3 343.7h0M418.4 344.7h0M425.6 345.0h0M405.2 346.7h0M408.8 346.8h0M351.6 350.9h0M417.9 345.1h0M394.9 344.4h0M421.2 343.4h0M360.0 348.3h0M447.0 344.4h0M434.8 346.1h0M381.6 347.1h0M423.3 348.4h0M435.0 344.9h0M366.2 343.0h0M429.6 345.3h0M408.3 348.0h0M408.3 348.0h0M404.7 343.5h0M377.9 345.0h0M428.2 346.7h0M390.9 344.2h0M434.6 346.1h0M390.5 344.6h0M405.5 345.3h0M417.5 347.8h0M413.9 345.4h0M393.2 344.1h0M397.0 348.0h0M431.3 344.4h0M417.0 345.3h0M394.5 347.5h0M431.4 346.5h0M427.9 345.4h0M389.5 346.1h0M434.6 345.7h0M394.7 346.4h0M419.1 346.8h0M415.8 344.4h0M425.1 344.4h0M423.2 346.1h0M400.8 347.3h0M425.8 344.3h0M420.8 342.2h0M405.7 344.3h0M428.4 345.3h0M409.8 346.9h0M424.1 345.1h0M433.5 346.3h0M420.6 345.8h0M376.2 347.6h0M383.8 345.4h0M401.0 344.7h0M415.6 345.9h0M412.4 345.8h0M372.5 345.9h0M421.0 344.8h0M410.9 345.9h0M391.8 346.5h0M379.2 347.8h0M408.7 345.3h0M431.4 348.1h0M411.2 346.0h0M410.1 344.9h0M387.3 342.8h0M402.2 346.3h0M431.6 345.4h0M380.0 342.4h0M363.5 344.0h0M430.5 347.0h0M440.9 346.4h0M436.0 347.3h0M384.7 344.3h0M407.6 345.2h0M410.4 344.2h0M418.3 342.3h0M438.7 347.1h0M415.6 346.5h0M422.3 348.3h0M423.6 347.9h0M397.8 348.5h0M369.9 344.5h0M429.3 346.1h0M425.0 343.3h0M415.8 344.8h0M384.3 345.5h0M454.5 344.3h0M381.1 343.7h0M371.9 348.3h0M439.3 345.7h0M430.9 345.7h0M438.6 347.4h0M388.3 345.7h0M425.1 346.4h0M406.7 347.6h0M434.9 341.6h0M422.1 349.4h0M398.9 344.7h0M388.8 344.7h0M417.8 346.1h0M435.2 344.3h0M408.3 346.4h0M416.2 347.2h0M407.6 345.3h0M408.5 343.3h0M415.1 345.6h0M444.0 346.6h0M384.3 344.6h0M413.1 344.9h0M406.4 346.3h0M426.6 346.1h0M379.0 347.9h0M407.4 346.0h0M415.0 344.9h0M401.1 345.9h0M430.4 343.5h0M438.6 346.1h0M384.0 345.5h0M428.2 345.6h0M380.9 345.4h0M393.2 345.7h0M420.9 347.2h0M382.2 343.6h0M419.8 347.1h0M413.2 344.7h0M402.5 348.6h0M390.7 344.3h0M448.9 342.5h0M422.3 347.0h0M438.4 345.6h0M387.6 347.8h0M357.8 347.6h0M412.7 344.9h0M396.9 343.2h0M444.0 341.8h0M386.4 341.8h0M409.0 344.1h0M416.4 343.8h0M424.5 346.1h0M372.0 347.6h0M422.5 345.4h0M451.0 342.5h0M418.6 345.9h0M423.7 346.7h0M400.9 342.9h0M441.8 345.9h0M443.1 345.2h0M399.3 346.9h0M439.8 344.2h0M438.9 346.3h0M418.8 347.5h0M431.8 343.5h0M412.4 346.6h0M392.1 345.6h0M419.4 345.9h0M420.6 347.5h0M388.9 345.7h0M431.3 345.9h0M395.9 346.0h0M373.3 349.2h0M383.6 346.2h0M417.1 344.5h0M402.1 345.7h0M376.4 348.5h0M382.6 344.4h0M398.7 344.9h0M390.3 343.4h0M393.6 345.7h0M405.4 345.0h0M442.9 345.7h0M435.3 344.8h0M422.7 346.4h0M393.0 345.9h0M422.2 343.5h0M378.8 346.2h0M412.5 346.0h0M423.6 344.5h0M404.1 345.8h0M386.3 345.7h0M395.4 344.0h0M424.6 344.3h0M421.9 343.7h0M379.7 344.7h0M415.9 345.1h0M364.8 348.8h0M444.5 344.7h0M430.0 348.0h0M427.8 345.3h0M427.5 342.6h0M403.8 342.1h0M412.9 345.7h0M422.6 345.0h0M398.4 348.2h0M397.9 345.5h0M375.6 346.4h0M448.7 346.1h0M421.5 345.5h0M396.0 344.7h0M419.6 344.1h0M412.5 346.0h0M434.1 345.5h0M414.0 345.2h0M407.1 344.2h0M404.8 346.0h0M351.0 342.0h0M417.2 343.7h0M408.8 346.8h0M429.0 344.7h0M412.1 345.7h0M430.6 343.8h0M412.5 347.9h0M401.5 347.0h0M424.1 346.5h0M406.0 343.6h0M441.4 345.3h0M422.6 345.5h0M392.0 347.3h0M412.3 345.4h0M410.6 344.5h0M425.2 345.1h0M433.0 344.3h0M422.6 345.8h0M394.2 346.7h0M406.9 344.0h0M413.5 344.8h0M393.6 346.8h0M427.5 346.2h0M423.1 346.5h0M404.8 346.8h0M419.3 344.7h0M384.1 343.7h0M429.8 342.4h0M382.6 345.0h0M406.0 345.5h0M389.5 347.1h0M423.9 346.8h0M406.7 344.8h0M396.9 345.0h0M378.2 346.8h0M433.6 346.5h0M436.4 345.3h0M418.0 346.6h0M428.0 347.8h0M451.6 342.4h0M447.9 350.3h0M389.3 346.0h0M390.1 346.0h0M420.2 346.1h0M411.5 344.6h0M418.7 345.9h0M442.5 346.1h0M443.1 344.2h0M415.0 345.1h0M445.5 343.4h0M389.5 346.2h0M397.3 345.0h0M384.8 341.4h0M448.6 343.2h0M416.8 346.2h0M417.1 344.7h0M421.4 344.6h0M410.0 343.0h0M412.1 345.9h0M407.7 345.1h0M357.4 344.6h0M383.5 346.5h0M422.0 344.0h0M426.0 344.0h0M416.5 346.3h0M388.4 348.8h0M442.2 343.9h0M437.1 345.3h0M417.8 345.9h0M368.5 340.3h0M402.8 344.3h0M438.6 346.0h0M415.0 346.8h0M383.6 344.1h0M417.7 346.8h0M384.9 346.5h0M371.5 348.7h0M397.9 344.0h0M388.7 346.3h0M402.4 346.9h0M407.6 346.7h0M406.3 346.9h0M370.0 348.2h0M421.3 345.9h0M424.4 346.2h0M416.8 346.6h0M392.0 345.1h0M385.0 349.7h0M408.6 343.8h0M418.1 347.2h0M405.0 345.0h0M421.9 346.6h0M400.4 346.3h0M380.8 345.6h0M368.1 345.8h0M410.0 345.6h0M402.8 346.0h0M411.4 345.2h0M451.6 347.9h0M435.6 344.9h0M416.9 345.6h0M394.7 346.9h0M406.8 346.2h0M418.5 343.8h0M425.6 345.8h0M402.0 344.5h0M413.4 345.9h0M385.7 348.7h0M442.8 348.4h0M442.2 345.6h0M411.0 346.1h0M425.6 345.4h0M408.7 342.6h0M403.5 347.1h0M419.7 345.8h0M432.9 345.2h0M425.3 346.4h0M426.2 347.4h0M372.4 345.4h0M424.7 345.0h0M412.8 344.6h0M410.8 344.3h0M396.2 345.1h0M436.5 346.3h0M407.2 345.1h0M426.5 345.0h0M394.8 344.8h0M391.6 344.3h0M406.3 345.3h0M400.6 342.3h0M407.0 345.8h0M450.2 345.0h0M448.1 349.5h0M445.8 348.9h0M419.3 348.0h0M391.6 345.8h0M434.4 347.4h0M377.6 346.8h0M413.1 345.5h0M395.9 344.2h0M418.5 344.7h0M427.1 344.8h0M424.2 346.1h0M383.9 348.2h0M407.9 346.9h0M392.7 347.0h0M408.9 344.8h0M375.2 343.7h0M400.3 346.1h0M367.1 346.2h0M437.9 347.7h0M445.6 343.5h0M403.4 345.7h0M386.6 348.3h0M408.7 347.2h0M417.8 344.1h0M438.3 345.9h0M446.0 348.5h0M397.2 346.6h0M393.9 345.5h0M427.5 344.6h0M393.6 345.5h0M421.9 346.5h0M403.2 347.2h0M396.8 345.1h0M423.4 344.2h0M415.9 342.5h0M422.6 342.9h0M404.4 348.3h0M376.1 343.1h0M368.2 341.5h0M423.4 343.0h0M426.4 344.3h0M422.7 345.3h0M428.8 346.5h0M407.9 345.0h0M398.7 345.1h0M432.7 344.9h0M398.3 346.3h0M375.3 346.7h0M451.1 349.1h0M406.8 346.4h0M397.1 347.1h0M397.7 344.7h0M388.3 342.2h0M396.4 346.7h0M436.4 344.8h0M383.4 346.9h0M450.5 347.4h0M418.5 346.6h0M447.3 346.0h0M422.0 344.1h0M424.4 349.2h0M384.3 348.0h0M355.4 342.0h0M432.8 344.3h0M401.3 345.6h0M395.5 344.1h0M396.5 345.6h0M431.7 346.7h0M397.4 346.3h0M409.8 345.6h0M411.2 346.4h0M432.6 345.1h0M407.9 344.3h0M416.3 346.6h0M406.2 344.3h0M416.6 343.0h0M378.7 344.6h0M422.4 344.8h0M430.0 346.8h0M422.7 346.7h0M423.0 344.3h0M425.2 346.6h0M387.3 346.4h0M416.6 346.4h0M393.3 345.9h0M415.2 346.1h0M403.7 345.5h0M374.3 344.2h0M450.5 348.2h0M403.0 346.2h0M414.8 346.7h0M422.3 347.2h0M410.0 344.8h0M400.7 346.8h0M371.7 348.4h0M415.9 346.8h0M363.0 345.1h0M395.1 346.8h0M410.3 345.8h0M397.5 349.0h0M394.3 345.2h0M406.3 346.0h0M406.5 347.8h0M407.5 345.9h0M421.7 345.2h0M372.2 345.4h0M389.7 340.7h0M444.5 345.4h0M389.8 347.5h0M390.9 345.0h0M403.3 347.3h0M391.0 343.5h0M403.1 346.9h0M437.3 345.4h0M383.3 345.5h0M433.9 345.2h0M409.3 344.4h0M408.4 344.7h0M430.5 347.3h0M375.8 345.6h0M362.7 348.1h0M402.1 346.2h0M437.5 345.6h0M371.6 349.7h0M431.1 346.0h0M422.0 345.8h0M384.7 345.0h0M423.6 345.2h0M377.8 341.6h0M429.0 345.7h0M438.7 345.8h0M433.5 344.8h0M387.7 344.4h0M379.0 344.0h0M389.7 348.5h0M409.8 346.2h0M366.4 344.8h0M329.1 341.7h0M408.7 343.1h0M406.7 343.2h0M448.8 348.8h0M421.3 346.2h0M369.9 347.0h0M384.6 342.4h0M425.8 344.4h0M417.1 345.1h0M421.2 344.0h0M418.8 345.1h0M423.9 344.9h0M408.4 344.7h0M447.1 346.0h0M366.8 344.9h0M461.0 344.6h0M401.6 345.9h0M412.9 344.2h0M422.5 344.5h0M387.4 346.3h0M435.4 346.6h0M382.1 347.6h0M417.6 344.0h0M387.1 344.7h0M427.3 346.0h0M427.3 346.8h0M428.7 346.8h0M403.9 346.5h0M409.7 345.1h0M407.9 346.1h0M447.0 347.7h0M419.7 345.8h0M412.3 344.0h0M367.0 341.8h0M388.3 343.6h0M349.3 345.1h0M422.1 346.6h0M427.4 343.9h0M385.0 343.7h0M392.2 343.5h0M435.5 344.5h0M370.7 341.9h0M417.9 349.5h0M394.3 347.3h0M423.3 345.1h0M402.2 344.7h0M403.7 346.2h0M388.5 343.3h0M386.6 349.5h0M386.0 346.6h0M390.3 345.6h0M411.0 347.4h0M383.0 345.2h0M417.9 345.6h0M402.8 345.5h0M412.1 345.0h0M414.6 346.0h0M416.4 347.2h0M418.7 345.1h0M387.0 344.2h0M421.5 347.6h0M433.4 349.1h0M392.1 346.8h0M414.8 344.5h0M374.7 344.5h0M407.4 349.9h0M373.5 348.8h0M394.2 346.6h0M449.6 347.0h0M375.0 343.3h0M369.1 343.7h0M421.4 343.6h0M419.5 343.0h0M398.1 347.5h0M429.9 344.4h0M424.5 345.6h0M458.4 348.7h0M389.6 346.0h0M396.1 344.9h0M387.2 346.5h0M400.2 344.8h0M375.7 346.2h0M399.2 343.2h0M405.5 347.0h0M421.1 343.5h0M398.0 345.1h0M401.7 344.6h0M388.8 345.2h0M357.9 349.9h0M421.0 346.1h0M364.7 349.5h0M401.4 348.4h0M401.3 347.2h0M388.1 348.3h0M393.3 347.3h0M429.7 344.3h0M430.5 349.9h0M410.1 347.5h0M390.2 344.6h0M422.9 346.0h0M384.2 344.8h0M399.5 345.4h0M403.9 347.2h0M409.5 345.4h0M393.0 346.5h0M416.4 345.6h0M393.9 344.9h0M438.7 346.4h0M371.9 346.4h0M397.1 346.9h0M396.2 344.5h0M390.1 344.1h0M407.2 345.1h0M372.3 343.5h0M400.4 345.9h0M434.4 345.3h0M435.9 343.0h0M405.5 346.6h0M425.2 344.6h0M370.4 347.8h0M415.0 336.5h0M414.4 351.1h0M416.6 353.6h0M416.6 350.4h0M413.8 343.0h0M415.9 322.6h0M415.6 361.6h0M414.4 324.2h0M414.2 338.0h0M418.1 332.3h0M416.6 355.8h0M415.1 345.3h0M417.9 339.0h0M416.3 347.3h0M414.6 323.3h0M415.6 318.6h0M414.1 316.0h0M415.5 356.4h0M416.1 330.0h0M414.8 359.2h0M416.9 352.6h0M415.5 353.9h0M413.9 365.7h0M415.2 340.5h0M415.4 350.5h0M413.1 350.4h0M413.0 326.6h0M415.9 342.0h0M413.7 340.6h0M415.2 359.8h0M416.9 364.3h0M415.1 362.5h0M416.5 326.5h0M413.5 334.3h0M416.4 340.2h0M414.7 353.2h0M412.5 367.6h0M415.4 345.9h0M418.1 349.9h0M415.5 347.7h0M415.6 335.9h0M416.4 343.7h0M417.4 325.2h0M412.4 393.1h0M410.5 376.1h0M414.4 351.2h0M413.9 352.1h0M416.5 357.9h0M413.8 358.5h0M416.3 357.8h0M414.5 342.5h0M415.9 344.6h0M412.7 365.0h0M414.6 344.3h0M412.9 336.4h0M416.4 338.7h0M417.3 339.5h0M415.4 343.4h0M414.0 344.3h0M418.4 339.8h0M415.4 351.2h0M417.4 353.7h0M416.0 351.5h0M413.4 363.9h0M413.4 314.5h0M415.7 353.5h0M413.4 314.1h0M415.1 358.9h0M415.1 352.5h0M413.8 345.3h0M413.9 331.3h0M415.3 349.7h0M409.9 362.4h0M413.3 349.7h0M413.1 363.1h0M413.6 346.0h0M413.1 338.2h0M412.1 317.8h0M414.4 345.5h0M414.0 365.5h0M413.8 364.1h0M415.7 355.3h0M415.7 337.1h0M417.0 355.2h0M415.9 342.3h0M414.1 351.9h0M413.7 346.9h0M419.4 376.2h0M415.9 349.7h0M413.3 334.2h0M415.9 340.2h0M412.6 362.6h0M417.1 323.6h0M415.4 330.1h0M416.5 333.9h0M413.4 362.1h0M415.6 349.5h0M417.1 352.8h0M414.3 328.2h0M417.2 365.9h0" stroke="#ee9a7c" stroke-width="1.1" stroke-linecap="round" fill="none"/>
<path d="M414.8 325.9h0M416.9 315.9h0M415.3 351.2h0M414.9 355.5h0M412.1 299.3h0M414.8 337.6h0M414.5 358.7h0M414.4 320.9h0M415.6 327.2h0M418.2 352.2h0M412.8 348.1h0M415.9 374.0h0M414.2 356.8h0M415.2 356.1h0M415.6 348.9h0M413.6 311.9h0M412.2 349.4h0M417.0 346.1h0M414.0 325.4h0M414.2 353.5h0M412.6 327.9h0M413.3 320.9h0M414.5 353.6h0M415.6 329.3h0M413.4 329.2h0M416.0 350.2h0M415.8 328.8h0M413.5 368.1h0M415.1 379.0h0M413.3 364.4h0M414.6 344.9h0M415.8 326.0h0M414.3 353.5h0M415.0 307.8h0M416.2 362.4h0M414.4 342.2h0M415.4 341.9h0M416.1 368.5h0M416.8 329.3h0M415.7 319.8h0M414.5 344.1h0M416.3 369.5h0M416.4 337.3h0M414.7 357.5h0M416.8 327.7h0M412.5 317.3h0M414.5 381.0h0M415.9 373.8h0M412.8 367.4h0M412.5 365.6h0M416.4 332.2h0M414.0 355.4h0M413.8 370.4h0M417.1 361.6h0M412.6 332.5h0M412.5 347.0h0M412.4 349.0h0M413.9 342.5h0M415.0 343.0h0M415.8 343.6h0M416.5 346.1h0M414.8 333.1h0M414.4 327.8h0M413.7 324.1h0M417.2 363.4h0M414.4 347.6h0M416.2 346.8h0M417.4 358.7h0M416.0 351.9h0M414.8 329.7h0M415.4 339.7h0M414.7 363.4h0M415.1 349.0h0M416.0 341.3h0M415.4 353.5h0M412.0 338.4h0M414.9 337.6h0M414.0 329.7h0M415.5 337.9h0M414.4 324.3h0M419.6 377.4h0M414.4 332.7h0M410.5 375.2h0M415.6 354.0h0M413.2 330.5h0M415.1 327.7h0M419.1 362.0h0M416.3 327.3h0M417.1 338.3h0M415.3 315.4h0M413.3 352.1h0M413.9 355.1h0M418.9 327.5h0M415.3 324.3h0M414.1 351.0h0M420.2 337.6h0M416.7 351.5h0M415.6 353.1h0M415.6 341.8h0M417.6 337.4h0M414.5 319.6h0M415.5 353.6h0M414.5 349.1h0M414.5 339.3h0M416.1 363.4h0M415.7 318.5h0M413.2 351.9h0M419.6 369.2h0M413.7 327.8h0M414.0 363.7h0M414.6 339.9h0M416.0 335.7h0M414.8 361.5h0M415.5 342.1h0M413.7 318.1h0M416.7 335.1h0M416.2 347.3h0M415.8 362.6h0M417.6 331.3h0M414.5 345.3h0M415.6 322.5h0M411.8 328.8h0M413.7 365.3h0M415.0 346.4h0M412.4 322.9h0M413.6 332.7h0M414.1 359.1h0M414.5 355.0h0M414.4 320.4h0M414.3 368.2h0M415.4 346.7h0M415.4 337.6h0M416.4 354.9h0M417.0 332.8h0M412.9 336.8h0M414.6 345.9h0M415.8 344.0h0M415.0 359.5h0M413.0 353.3h0M416.7 381.1h0M417.8 365.0h0M413.5 356.6h0M413.7 315.6h0M415.2 334.7h0M416.7 328.0h0M415.6 343.9h0M419.8 371.7h0M413.5 332.8h0M414.4 350.3h0M411.5 379.8h0M413.4 364.2h0M415.0 346.9h0M415.8 325.3h0M415.0 347.2h0M412.3 335.9h0M414.7 364.2h0M414.2 334.3h0M414.7 358.7h0M412.5 358.4h0M414.7 353.3h0M416.7 338.2h0M417.6 327.6h0M415.2 340.4h0M414.2 350.8h0M415.1 354.3h0M415.3 345.6h0M414.0 343.3h0M415.7 353.6h0M415.8 337.9h0M415.4 330.9h0M414.2 335.4h0M416.7 330.4h0M417.9 350.9h0M414.6 326.8h0M416.4 338.1h0M414.1 348.0h0M413.7 355.1h0M414.5 322.3h0M416.2 342.4h0M414.1 346.7h0M413.3 330.7h0M418.1 315.9h0M415.1 326.4h0M415.0 345.7h0M416.1 355.0h0M415.5 348.2h0M412.1 368.4h0M413.6 330.3h0M414.4 345.3h0M411.0 370.7h0M413.3 376.7h0M414.6 370.2h0M413.2 332.2h0M415.1 332.7h0M412.7 348.9h0M416.4 374.4h0M416.4 353.8h0M415.9 338.3h0M413.0 352.7h0M412.6 325.3h0M416.9 352.8h0M417.4 372.4h0M413.7 343.2h0M416.4 356.4h0M414.4 340.0h0M415.6 338.6h0M415.5 348.5h0M413.0 340.0h0M418.4 376.1h0M414.3 369.1h0M417.3 341.5h0M418.6 330.2h0M412.4 354.1h0M411.6 331.8h0M414.9 329.9h0M414.6 355.4h0M420.3 279.2h0M414.7 335.0h0M421.6 382.1h0M418.2 353.2h0M414.4 343.7h0M416.7 316.5h0M414.0 339.8h0M413.9 338.8h0M416.6 367.1h0M416.4 322.0h0M415.2 346.0h0M413.4 377.7h0M414.5 327.7h0M415.3 350.9h0M412.8 362.1h0M412.9 368.6h0M415.0 352.8h0M416.6 343.0h0M417.7 322.5h0M414.4 337.8h0M415.6 312.7h0M415.8 341.0h0M417.4 331.4h0M417.9 348.1h0M414.7 348.3h0M416.9 329.2h0M415.5 337.3h0M418.8 330.4h0M414.7 344.6h0M415.2 330.9h0M415.3 343.5h0M416.7 347.5h0M414.4 327.0h0M416.9 354.7h0M416.2 345.4h0M414.9 348.8h0M415.8 320.6h0M413.6 332.7h0M421.8 301.4h0M415.6 333.2h0M414.9 328.0h0M414.2 344.0h0M414.5 360.3h0M413.7 349.5h0M414.8 349.0h0M415.6 354.7h0M417.7 329.3h0M417.2 364.4h0M413.3 354.0h0M415.2 370.9h0M414.5 331.1h0M414.5 336.9h0M418.2 306.7h0M413.6 346.6h0M417.8 325.8h0M415.2 353.9h0M415.9 337.5h0M413.7 352.0h0M416.2 354.3h0M413.3 359.6h0M415.4 337.4h0M414.1 326.0h0M416.5 339.6h0M413.4 331.4h0M416.6 344.1h0M414.4 344.7h0M413.1 348.3h0M428.3 337.7h0M402.5 339.0h0M415.3 345.4h0M415.2 344.4h0M416.6 343.9h0M410.1 348.2h0M423.3 349.2h0M408.9 344.4h0M419.6 346.8h0M415.1 345.7h0M418.8 344.4h0M425.7 345.9h0M420.9 347.1h0M409.1 353.5h0M412.2 346.1h0M414.2 348.0h0M398.3 349.9h0M424.9 351.2h0M422.5 346.7h0M412.2 339.3h0M415.3 345.2h0M415.4 345.6h0M426.8 348.0h0M415.6 345.7h0M419.9 344.1h0M418.3 345.8h0M417.0 336.4h0M413.9 341.8h0M414.2 346.2h0M410.9 349.9h0M416.7 345.9h0M416.9 352.1h0M405.9 341.6h0M410.8 346.5h0M415.9 345.5h0M403.1 337.3h0M414.0 345.6h0M409.7 343.2h0M424.9 351.9h0M435.1 340.6h0M418.2 345.8h0M420.2 350.5h0M415.8 345.7h0M426.9 351.2h0M418.1 349.4h0M420.2 344.4h0M422.7 339.8h0M418.3 345.7h0M415.4 343.9h0M408.3 347.2h0M412.4 339.9h0M411.0 346.5h0M407.2 342.2h0M414.3 345.1h0M415.3 343.3h0M418.5 347.8h0M407.9 346.5h0M419.9 343.0h0M410.7 345.3h0M413.8 343.3h0M413.7 346.9h0M424.4 336.6h0M439.9 344.9h0M411.2 346.7h0M413.3 343.5h0M417.8 344.4h0M411.7 340.7h0M412.7 351.6h0M417.1 342.2h0M417.0 344.9h0M415.0 349.9h0M415.5 345.6h0M416.6 344.6h0M414.8 345.2h0M421.0 339.7h0M410.7 348.4h0M422.1 345.8h0M415.7 346.2h0M416.6 347.3h0M409.4 349.2h0M416.4 346.1h0M415.1 345.3h0M415.7 345.6h0M415.3 345.0h0M416.6 346.0h0M416.1 342.3h0M404.0 341.3h0M429.0 344.7h0M422.9 342.6h0M415.3 345.6h0M413.8 338.7h0M407.9 336.8h0M414.9 345.7h0M421.7 343.3h0M416.6 345.7h0M412.9 339.9h0M409.0 348.8h0M408.5 350.1h0M415.5 345.9h0M421.9 352.9h0M420.9 342.0h0M422.4 345.1h0M416.2 345.7h0M417.9 347.4h0M414.1 346.3h0M426.5 350.5h0M430.9 340.6h0M411.2 345.4h0M412.0 343.6h0M413.3 345.2h0M415.3 347.3h0M409.1 340.8h0M416.0 345.7h0M411.7 346.2h0M414.6 343.8h0M402.7 336.9h0M417.9 351.5h0M409.4 340.5h0M405.9 349.3h0M398.8 339.2h0M407.1 344.1h0M413.3 344.9h0M421.2 349.8h0M417.8 351.5h0M420.6 346.7h0M417.2 350.3h0M421.7 342.1h0M404.4 346.1h0M412.0 343.6h0M416.2 347.7h0M422.7 342.9h0M406.7 347.1h0M405.5 340.3h0M412.5 348.4h0M415.9 342.3h0M417.2 344.2h0M416.1 344.4h0M402.0 346.8h0M425.4 348.7h0M409.6 344.2h0M412.2 347.7h0M414.3 345.0h0M423.9 353.4h0M418.2 343.0h0M415.6 345.7h0M416.5 343.1h0M403.8 350.6h0M421.8 340.4h0M415.3 345.4h0M427.2 357.9h0M409.2 343.1h0M411.8 339.4h0M418.0 340.8h0M415.5 345.6h0M414.6 345.3h0M414.7 340.9h0M414.4 343.3h0M390.3 341.2h0M410.0 346.1h0M412.2 349.5h0M413.0 350.1h0M400.8 345.6h0M417.2 349.2h0M412.9 345.8h0M416.2 346.6h0M426.8 348.0h0M407.3 350.2h0M412.0 347.2h0M422.9 345.1h0M417.9 346.0h0M415.2 345.4h0M414.2 343.4h0M418.9 349.6h0M436.5 344.2h0M417.3 346.4h0M409.8 349.4h0M417.8 338.9h0M415.4 345.8h0M413.1 351.1h0M415.7 346.0h0M419.2 341.8h0M416.9 345.5h0M409.8 347.2h0M421.3 346.6h0M426.1 346.8h0M421.1 354.5h0M404.3 344.8h0M418.0 346.4h0M411.6 346.3h0M397.1 342.1h0M415.1 343.0h0M421.0 342.3h0M412.6 344.6h0M415.9 339.9h0M409.2 345.1h0M413.6 340.8h0M417.1 343.4h0M408.2 342.4h0M409.5 345.9h0M415.2 345.4h0M409.9 344.6h0M408.5 341.0h0M428.2 343.6h0M414.3 347.8h0M417.9 346.0h0M415.9 345.7h0M419.2 353.2h0M415.9 339.7h0M410.8 345.2h0M418.7 344.2h0M429.2 348.2h0M415.5 350.8h0M414.6 348.9h0M410.0 352.1h0M398.9 345.6h0M414.8 345.9h0M422.3 350.1h0M415.9 344.7h0M409.8 340.2h0M420.3 347.4h0M415.5 345.2h0M424.5 351.3h0M413.7 341.4h0M406.1 343.6h0M418.0 341.5h0M407.5 345.9h0M425.1 344.0h0M417.5 343.3h0M415.7 344.3h0M428.6 345.2h0M422.8 347.7h0M409.5 350.0h0M416.2 346.6h0M420.3 341.6h0M406.7 340.5h0M407.6 345.6h0M414.0 344.3h0M415.2 345.5h0M417.4 344.5h0M413.7 344.9h0M411.8 348.1h0M418.9 347.2h0M411.2 350.8h0M413.6 347.6h0M417.0 342.0h0M412.8 336.1h0M408.2 345.9h0M414.7 343.7h0M416.3 345.7h0M416.6 345.5h0M416.4 344.7h0M419.5 341.0h0M418.1 346.4h0M407.7 349.9h0M420.6 347.2h0M407.9 339.6h0M419.1 350.7h0M410.4 344.7h0M417.2 351.2h0M411.9 346.5h0M412.6 347.1h0M427.0 345.4h0M405.1 349.3h0M415.5 345.9h0M414.5 345.9h0M420.7 333.4h0M425.9 344.4h0M418.2 347.0h0M414.3 344.9h0M424.2 347.8h0M414.9 345.6h0M418.9 343.5h0M412.7 345.5h0M411.0 343.5h0M425.4 339.8h0M417.5 346.4h0M419.6 344.6h0M412.0 344.8h0M411.0 346.4h0M413.5 339.6h0M424.8 345.2h0M415.2 346.3h0M413.0 336.5h0M415.0 345.9h0M411.5 350.5h0M415.1 345.4h0M410.6 347.2h0M426.0 347.7h0M420.9 347.7h0M413.0 342.6h0M415.5 345.3h0M413.6 344.6h0M414.3 347.9h0M413.1 344.5h0M414.6 337.4h0M414.2 343.6h0M422.4 344.2h0M416.2 341.5h0M416.7 346.8h0M414.8 345.9h0M422.8 342.9h0M406.8 346.6h0M417.4 352.6h0M409.2 342.4h0M414.5 345.9h0M413.9 346.1h0M414.9 342.4h0M410.8 341.7h0M415.0 346.7h0M420.2 344.8h0M411.1 339.2h0M417.1 347.0h0M398.2 340.8h0M420.6 346.4h0M415.2 343.6h0M415.8 348.8h0M411.5 346.1h0M415.1 348.9h0M415.8 345.1h0M422.4 344.0h0M408.8 350.3h0M415.8 335.9h0M408.4 342.5h0M416.9 345.6h0M415.1 351.3h0M408.4 349.2h0M423.1 345.6h0M420.0 342.0h0M415.6 345.4h0M414.2 347.9h0M405.8 334.9h0M422.6 349.2h0M417.3 344.4h0M413.2 341.5h0M412.6 346.4h0M417.1 343.9h0M426.5 344.7h0M417.7 345.1h0M415.9 346.7h0M409.1 349.5h0M414.1 351.7h0M413.1 348.0h0M415.6 344.6h0M415.2 342.5h0M413.7 345.3h0M415.5 346.1h0M428.6 350.9h0M419.4 338.1h0M410.4 344.6h0M413.7 348.4h0M418.6 346.3h0M418.2 343.4h0M422.4 343.3h0M415.3 345.0h0M415.3 363.4h0M435.0 353.3h0M410.6 344.0h0M414.8 344.3h0M418.6 348.0h0M427.8 351.7h0M410.5 348.1h0M416.5 348.2h0M413.6 348.3h0M407.4 341.7h0M408.9 346.7h0M411.4 346.4h0M419.5 346.8h0M411.9 347.3h0M409.2 341.8h0M414.9 343.9h0M418.5 346.8h0M421.1 346.8h0M409.6 346.7h0M418.3 338.9h0M432.2 347.6h0M422.9 343.5h0M414.0 345.3h0M413.7 346.9h0M415.4 345.6h0M402.9 342.2h0M427.9 347.8h0M414.5 351.4h0M412.9 347.5h0M413.4 345.5h0M414.8 345.5h0M418.7 344.7h0M415.3 345.1h0M431.4 356.6h0M409.4 349.6h0M426.7 344.2h0M411.4 352.9h0M412.6 347.5h0M422.7 345.0h0M420.9 350.1h0M414.4 345.9h0M418.7 338.6h0M403.0 351.6h0M418.2 345.4h0M415.6 344.9h0M418.5 345.3h0M415.7 345.2h0M415.5 345.5h0M421.6 342.9h0M412.0 346.1h0M411.5 344.2h0M418.7 343.2h0M409.9 353.1h0M421.1 349.0h0M410.1 344.9h0M396.7 337.6h0M410.7 345.7h0M407.6 347.9h0M398.8 339.1h0M418.6 342.1h0M418.2 345.5h0M419.9 349.0h0M424.8 341.8h0M414.7 340.1h0M421.9 342.4h0M408.9 339.2h0M415.1 345.6h0M405.3 340.8h0M418.5 338.4h0M410.1 338.9h0M415.2 343.5h0M424.1 340.2h0M414.8 341.8h0M419.9 349.1h0M407.9 344.0h0M406.9 345.1h0M419.1 342.3h0M407.3 346.7h0M415.0 345.4h0M410.3 346.5h0M419.5 341.6h0M415.4 345.7h0M417.2 343.9h0M396.9 352.5h0M418.4 341.4h0M414.3 339.7h0M414.7 345.4h0M416.4 345.2h0M411.9 346.3h0M426.5 346.5h0M420.8 348.2h0M413.4 347.2h0M402.5 341.9h0M410.3 355.0h0M411.0 357.9h0M410.7 320.1h0M465.4 284.4h0M421.0 371.7h0M423.6 360.3h0M430.2 340.5h0M397.2 352.2h0M432.5 360.1h0M421.0 333.5h0M367.5 335.1h0M447.4 313.7h0M423.7 358.6h0M430.8 359.1h0M455.4 345.2h0M421.4 310.5h0M442.1 353.4h0M399.1 334.8h0M429.0 309.7h0M424.6 318.3h0M444.7 362.0h0M459.8 342.4h0M446.9 376.0h0M431.4 353.2h0M419.2 361.7h0M398.6 327.8h0M389.7 337.7h0M433.6 366.6h0M466.0 345.4h0M376.6 338.1h0M400.0 359.2h0M434.8 326.9h0M398.9 353.1h0M397.9 332.3h0M410.3 362.9h0M378.5 330.0h0M430.4 348.1h0M468.6 346.6h0M415.7 324.8h0M401.4 318.8h0M400.7 357.6h0M423.9 368.4h0M358.9 334.6h0M381.7 341.8h0M463.0 353.7h0M445.1 331.7h0M431.0 353.4h0M443.3 340.1h0M402.9 361.6h0M432.2 357.7h0M392.7 314.6h0M414.9 304.9h0M443.2 320.6h0M422.9 335.9h0M415.4 334.6h0M451.7 349.6h0M406.0 334.6h0M412.9 367.8h0M446.6 366.0h0M402.5 330.8h0M431.5 353.0h0M430.2 337.1h0M447.7 331.5h0M408.7 303.6h0M402.5 341.4h0M443.1 352.2h0M420.8 332.8h0M404.3 289.6h0" stroke="#ee9a7c" stroke-width="1.1" stroke-linecap="round" fill="none"/>
<path d="M427.3 345.8h0M403.6 345.5h0M406.9 346.2h0M424.2 347.0h0M401.7 345.6h0M418.3 345.8h0M419.1 344.7h0M414.4 345.1h0M413.1 345.1h0M429.4 345.4h0M422.6 345.4h0M420.7 345.6h0M407.1 345.7h0M416.5 345.8h0M422.2 344.9h0M422.6 345.0h0M414.2 345.6h0M416.1 346.1h0M426.5 344.1h0M408.9 344.1h0M398.4 347.6h0M399.3 346.6h0M404.7 345.1h0M393.6 345.2h0M417.6 346.1h0M420.5 345.5h0M424.9 345.8h0M412.2 345.3h0M394.7 345.8h0M407.6 345.5h0M417.4 344.9h0M395.8 347.3h0M409.5 346.0h0M407.7 346.2h0M418.9 343.3h0M425.1 345.4h0M413.1 346.7h0M407.4 345.6h0M419.6 346.0h0M413.4 343.8h0M415.8 343.7h0M424.6 344.8h0M407.5 345.9h0M416.6 345.5h0M411.6 345.2h0M419.8 345.3h0M416.7 346.5h0M414.1 345.6h0M413.4 345.1h0M406.9 344.5h0M422.6 345.9h0M407.4 344.6h0M409.6 344.7h0M411.8 344.5h0M408.4 344.1h0M408.3 344.3h0M414.5 346.3h0M416.1 346.1h0M404.8 345.2h0M417.9 346.0h0M418.1 345.3h0M416.0 345.8h0M409.5 345.0h0M418.6 344.6h0M410.0 346.0h0M415.5 345.3h0M415.3 345.6h0M406.9 346.9h0M427.7 345.7h0M425.5 345.3h0M416.9 345.8h0M414.5 344.5h0M418.2 345.3h0M424.0 346.3h0M405.6 345.4h0M390.0 344.4h0M418.1 345.6h0M397.6 346.7h0M428.3 345.0h0M406.7 345.6h0M421.6 345.5h0M386.9 346.5h0M419.1 344.7h0M408.2 345.5h0M421.3 346.2h0M417.9 346.3h0M418.7 346.3h0M401.9 345.3h0M414.8 345.4h0M424.6 344.9h0M403.7 346.8h0M417.6 346.6h0M415.6 344.9h0M417.2 345.2h0M418.1 346.5h0M415.3 346.5h0M416.9 345.9h0M420.4 344.7h0M420.5 345.7h0M414.9 346.3h0M416.7 344.6h0M399.2 344.7h0M408.5 346.2h0M413.2 345.9h0M424.2 345.6h0M385.4 342.7h0M412.1 344.5h0M395.1 346.1h0M417.1 345.5h0M403.2 345.5h0M422.1 345.4h0M414.4 345.9h0M402.7 346.8h0M424.1 345.2h0M417.1 345.0h0M422.5 346.5h0M410.9 344.9h0M422.1 345.0h0M412.7 344.7h0M400.6 345.6h0M406.9 345.5h0M417.7 345.8h0M422.6 346.6h0M404.0 344.4h0M399.8 346.3h0M420.6 346.4h0M415.7 346.0h0M417.9 346.1h0M409.6 346.6h0M417.3 344.6h0M408.8 344.4h0M427.6 345.5h0M411.0 345.5h0M408.5 345.3h0M408.6 345.7h0M417.4 346.4h0M420.2 345.2h0M406.2 345.4h0M401.7 344.4h0M406.5 345.3h0M417.6 345.3h0M424.1 346.1h0M421.0 345.4h0M412.0 344.9h0M420.1 344.7h0M407.5 345.4h0M417.6 345.9h0M417.7 346.4h0M412.2 346.2h0M408.8 345.0h0M419.7 345.6h0M415.2 344.2h0M412.2 346.6h0M427.7 345.1h0M420.1 345.1h0M406.8 346.2h0M425.5 344.5h0M406.1 346.4h0M423.7 345.3h0M405.4 345.5h0M416.7 346.2h0M416.7 345.5h0M384.6 344.2h0M412.8 345.2h0M406.6 346.1h0M403.3 346.4h0M418.9 346.1h0M393.6 345.6h0M416.2 344.7h0M405.8 346.5h0M404.0 345.9h0M396.6 344.7h0M410.8 346.6h0M398.5 347.0h0M409.2 344.7h0M418.6 344.6h0M410.4 345.3h0M410.1 346.7h0M398.1 344.8h0M408.3 344.6h0M401.1 348.4h0M414.0 345.8h0M416.2 344.5h0M415.5 345.3h0M421.9 344.2h0M416.7 344.5h0M406.5 346.5h0M414.0 345.4h0M418.9 344.9h0M421.3 345.4h0M412.1 345.0h0M394.2 344.9h0M420.4 345.0h0M416.3 345.7h0M418.5 345.6h0M407.6 346.9h0M420.8 346.2h0M412.8 345.3h0M418.3 347.0h0M423.5 344.9h0M394.1 344.3h0M425.5 344.7h0M417.7 345.0h0M406.8 346.4h0M395.3 344.5h0M404.0 345.7h0M414.6 344.9h0M407.4 345.3h0M408.0 345.1h0M419.8 344.3h0M399.7 347.0h0M414.2 346.8h0M414.8 345.6h0M398.4 345.5h0M417.9 346.5h0M423.8 345.0h0M418.7 345.5h0M407.8 346.9h0M408.4 346.5h0M408.4 345.5h0M414.0 345.8h0M420.0 346.1h0M405.6 345.2h0M424.5 347.1h0M399.4 343.2h0M418.7 344.2h0M407.1 346.1h0M414.1 345.3h0M409.0 344.2h0M427.3 345.2h0M398.2 344.6h0M414.5 345.8h0M406.9 345.0h0M425.5 344.1h0M429.2 345.6h0M407.6 346.0h0M402.3 344.9h0M429.5 346.8h0M420.3 347.0h0M400.7 345.3h0M416.6 346.0h0M409.4 345.5h0M413.9 345.0h0M380.7 347.5h0M422.4 346.2h0M417.4 344.9h0M423.2 345.4h0M402.7 345.2h0M416.7 344.6h0M414.8 345.7h0M425.3 346.2h0M414.4 344.9h0M405.5 346.7h0M413.9 344.5h0M410.5 344.8h0M421.8 345.0h0M419.4 346.5h0M424.5 344.8h0M417.0 345.5h0M416.4 345.3h0M410.8 345.4h0M431.0 343.8h0M427.8 345.6h0M410.0 345.7h0M406.4 346.9h0M417.6 347.0h0M406.2 345.2h0M403.1 344.6h0M419.2 345.8h0M423.6 345.0h0M418.9 346.0h0M411.4 345.7h0M399.2 346.0h0M423.7 346.3h0M427.3 345.5h0M423.3 344.4h0M434.8 346.6h0M421.8 346.1h0M412.8 344.1h0M426.3 346.7h0M415.3 345.5h0M407.1 345.5h0M420.9 344.6h0M416.6 344.4h0M393.9 346.2h0M411.1 345.6h0M410.0 344.3h0M390.5 346.7h0M415.6 346.1h0M403.8 346.3h0M422.6 346.2h0M403.2 343.9h0M414.4 346.6h0M398.4 344.9h0M414.9 347.2h0M423.7 343.9h0M399.7 344.6h0M417.1 346.8h0M401.0 344.7h0M407.8 345.2h0M415.1 345.4h0M423.6 345.9h0M417.7 346.2h0M421.3 346.2h0M429.7 344.3h0M410.8 346.8h0M400.1 345.6h0M392.6 346.3h0M422.2 345.9h0M414.4 343.8h0M424.4 345.1h0M423.4 345.9h0M390.4 344.4h0M420.7 346.7h0M390.6 345.5h0M416.1 346.8h0M417.3 346.4h0M408.0 344.6h0M408.5 345.3h0M412.4 347.7h0M407.4 346.0h0M395.3 347.2h0M404.8 345.1h0M419.4 344.7h0M399.4 346.4h0M416.2 345.6h0M420.2 345.1h0M394.5 346.2h0M419.9 345.2h0M402.0 344.6h0M396.0 345.7h0M422.5 344.7h0M425.0 345.7h0M412.1 345.6h0M391.3 346.1h0M421.0 344.6h0M410.6 346.0h0M422.1 345.8h0M411.3 345.1h0M400.7 346.4h0M424.3 344.8h0M415.9 346.3h0M422.0 345.0h0M410.4 346.3h0M407.3 345.5h0M416.0 345.0h0M420.2 348.1h0M419.8 346.5h0M418.6 344.3h0M416.3 346.5h0M425.6 345.4h0M414.1 345.3h0M399.7 345.4h0M419.9 347.1h0M421.9 345.0h0M409.3 344.3h0M423.1 345.1h0M416.3 346.8h0M393.1 346.9h0M420.4 344.1h0M410.6 346.3h0M418.0 344.9h0M405.8 347.1h0M415.2 345.3h0M411.6 346.0h0M420.8 343.1h0M402.1 346.2h0M417.9 346.1h0M417.1 346.5h0M431.7 347.0h0M420.0 345.0h0M418.3 344.0h0M424.8 344.3h0M407.4 345.3h0M408.3 345.9h0M423.0 345.7h0M411.7 345.8h0M426.1 345.9h0M424.3 346.9h0M422.3 345.4h0M406.3 344.2h0M417.0 345.0h0M400.6 344.4h0M409.5 346.2h0M390.0 344.9h0M403.7 345.4h0M413.7 345.7h0M405.4 345.7h0M417.6 345.0h0M422.3 345.4h0M423.3 345.4h0M419.7 345.1h0M427.3 344.0h0M423.5 345.5h0M389.8 347.2h0M420.6 345.6h0M421.9 345.3h0M420.6 346.3h0M399.9 346.7h0M404.9 344.8h0M405.5 346.3h0M410.2 344.9h0M399.6 346.7h0M421.2 346.6h0M403.4 346.4h0M413.9 345.9h0M409.4 346.7h0M418.1 344.9h0M416.4 344.4h0M411.4 345.3h0M404.1 345.6h0M423.3 347.3h0M392.0 347.4h0M410.6 345.1h0M417.7 345.7h0M398.6 347.6h0M419.5 346.6h0M419.1 344.3h0M393.5 345.0h0M419.2 345.3h0M409.6 346.5h0M409.5 346.8h0M415.2 344.1h0M408.7 347.3h0M417.6 346.9h0M422.6 346.9h0M426.5 345.3h0M421.6 345.3h0M410.8 346.0h0M415.8 345.7h0M391.5 345.8h0M407.3 344.6h0M416.9 346.3h0M404.0 346.7h0M404.6 346.9h0M420.6 346.0h0M415.1 344.6h0M419.4 345.1h0M413.1 345.3h0M411.5 346.1h0M405.6 344.3h0M426.4 344.6h0M415.8 346.3h0M419.5 346.5h0M421.0 344.7h0M402.4 346.2h0M417.6 343.8h0M419.2 345.6h0M397.8 346.8h0M406.6 345.1h0M411.1 347.1h0M407.7 346.2h0M422.2 344.2h0M412.6 345.5h0M400.1 342.7h0M408.3 345.5h0M411.5 345.1h0M406.0 346.2h0M407.6 345.3h0M408.1 345.8h0M408.4 346.0h0M425.4 344.9h0M420.3 345.4h0M404.6 345.5h0M387.4 345.0h0M416.0 344.8h0M426.5 345.9h0M422.8 347.3h0M423.5 346.1h0M417.9 344.1h0M409.1 345.3h0M421.9 345.2h0M421.3 344.1h0M426.6 345.0h0M419.0 344.8h0M425.6 343.8h0M415.0 346.2h0M409.8 345.7h0M403.1 346.5h0M412.8 346.0h0M418.7 346.5h0M417.4 345.4h0M417.8 345.1h0M400.0 346.3h0M414.4 344.7h0M405.2 346.2h0M418.6 345.0h0M423.0 346.1h0M412.0 344.6h0M429.8 342.2h0M428.3 345.1h0M411.0 345.4h0M417.1 346.2h0M412.2 345.5h0M429.6 343.7h0M411.4 345.8h0M418.4 345.7h0M417.2 346.1h0M423.9 346.7h0M423.1 346.4h0M422.1 345.2h0M412.8 347.2h0M403.8 345.4h0M411.0 346.4h0M417.8 346.6h0M423.0 344.2h0M419.1 345.3h0M417.0 346.3h0M408.4 344.2h0M415.5 346.0h0M409.8 345.0h0M415.6 345.8h0M424.4 345.2h0M429.2 346.3h0M404.6 344.1h0M412.4 345.3h0M416.2 345.8h0M415.5 345.2h0M412.9 345.8h0M419.0 346.7h0M429.8 346.6h0M421.4 344.0h0M400.9 343.9h0M409.6 344.6h0M403.4 345.8h0M416.3 346.4h0M424.6 345.4h0M416.5 346.1h0M412.3 344.9h0M422.9 346.1h0M398.6 343.2h0M417.8 345.6h0M409.3 346.1h0M412.5 344.6h0M424.3 345.1h0M420.7 345.1h0M417.0 345.3h0M417.2 345.8h0M416.7 344.5h0M417.5 347.2h0M418.5 345.5h0M411.6 344.2h0M408.6 344.6h0M419.2 345.7h0M417.1 345.7h0M427.1 346.3h0M404.1 345.6h0M409.9 345.5h0M407.3 344.0h0M425.8 344.5h0M417.5 346.5h0M390.7 345.8h0M420.0 347.0h0M418.4 345.8h0M407.9 345.2h0M418.6 346.1h0M422.2 345.6h0M420.3 344.4h0M414.0 344.9h0M415.6 345.0h0M418.1 344.9h0M417.0 345.5h0M415.8 345.9h0M421.6 345.5h0M412.3 346.8h0M425.8 345.0h0M415.5 344.9h0M417.6 344.6h0M402.6 344.7h0M409.2 345.1h0M418.3 345.6h0M425.4 345.5h0M416.8 345.8h0M419.1 345.2h0M387.8 344.7h0M418.8 345.6h0M412.8 345.1h0M420.2 346.2h0M417.9 345.3h0M416.7 344.7h0M395.5 345.1h0M421.4 346.6h0M411.5 345.4h0M412.0 345.9h0M415.9 345.8h0M427.2 346.0h0M419.8 345.5h0M423.2 345.2h0M411.9 346.8h0M405.8 346.2h0M411.9 345.5h0M416.5 345.9h0M420.8 345.1h0M394.7 345.0h0M425.4 345.4h0M426.1 345.3h0M426.8 346.0h0M418.7 344.4h0M409.1 344.7h0M418.2 344.1h0M417.9 343.3h0M403.9 344.2h0M381.4 344.8h0M413.4 346.0h0M420.0 344.6h0M406.2 347.1h0M410.1 345.0h0M423.3 346.2h0M419.0 344.8h0M419.6 346.0h0M406.7 345.8h0M404.7 343.8h0M419.6 347.8h0M402.2 344.8h0M417.7 345.5h0M413.5 346.7h0M416.6 345.1h0M401.5 343.8h0M408.8 345.0h0M405.6 344.8h0M433.4 346.5h0M430.8 346.4h0M417.2 346.0h0M397.2 345.2h0M420.8 344.8h0M427.2 345.1h0M396.6 345.9h0M407.3 344.9h0M427.8 346.4h0M408.7 346.1h0M407.1 345.3h0M413.4 345.6h0M420.0 345.1h0M428.7 346.3h0M403.4 345.8h0M406.7 344.4h0M397.4 343.6h0M422.0 346.4h0M410.2 345.3h0M419.9 345.9h0M412.3 345.3h0M406.5 345.8h0M416.5 344.5h0M414.8 345.3h0M422.1 346.8h0M400.7 345.9h0M409.7 346.0h0M403.1 345.8h0M398.6 345.8h0M422.3 346.2h0M423.6 348.3h0M415.8 346.0h0M412.1 344.7h0M407.3 344.3h0M389.0 344.1h0M423.4 345.3h0M424.6 345.2h0M418.4 346.6h0M419.5 346.0h0M413.0 345.6h0M402.5 347.3h0M411.5 346.3h0M415.9 344.9h0M400.4 345.1h0M423.2 346.1h0M418.7 346.2h0M407.3 345.1h0M420.6 345.6h0M414.5 344.4h0M404.4 345.0h0M395.1 345.6h0M421.3 345.0h0M415.8 345.6h0M421.0 346.6h0M397.0 345.4h0M412.9 346.7h0M422.7 344.0h0M420.6 345.9h0M415.7 344.9h0M423.7 346.5h0M395.8 346.2h0M431.0 345.5h0M417.3 346.3h0M411.9 345.7h0M401.8 345.6h0M417.2 345.3h0M418.5 345.1h0M404.2 346.6h0M407.8 346.6h0M406.4 347.0h0M419.2 347.1h0M396.0 345.7h0M397.3 344.8h0M415.4 344.9h0M409.7 345.1h0M422.2 345.8h0M398.2 345.2h0M401.9 344.8h0M424.7 345.9h0M421.3 345.4h0M415.6 336.1h0M415.0 335.2h0M415.3 337.2h0M416.2 342.5h0M415.3 322.4h0M414.7 354.1h0M415.4 343.1h0M415.1 339.9h0M414.8 363.6h0M415.2 346.5h0M414.8 343.4h0M414.8 351.0h0M415.9 352.9h0M414.5 358.6h0M414.3 343.9h0M414.9 339.8h0M415.1 352.3h0M415.6 353.5h0M415.9 336.3h0M415.5 358.3h0M415.6 337.1h0M415.6 342.2h0M414.8 329.9h0M415.5 361.6h0M414.5 338.7h0M415.2 342.2h0M414.5 344.7h0M415.3 370.5h0M416.5 363.4h0M415.9 355.8h0M415.1 359.6h0M414.7 341.2h0M415.4 331.7h0M415.9 345.6h0M415.2 338.6h0M415.1 352.3h0M415.5 356.1h0M414.9 351.8h0M415.1 350.8h0M413.8 360.5h0M416.0 342.1h0M416.1 346.1h0M415.8 347.3h0M414.5 335.2h0M414.6 333.6h0M415.4 333.7h0M415.6 339.9h0M414.7 329.7h0M415.5 328.1h0M416.1 336.8h0M415.1 362.0h0M414.5 356.5h0M415.8 331.9h0M415.0 344.7h0M415.6 362.5h0M415.0 346.2h0M415.0 358.8h0M414.6 346.5h0M415.0 343.4h0M415.6 351.7h0M415.4 348.7h0M415.1 357.8h0M416.1 342.4h0M415.4 349.7h0M415.8 339.3h0M414.1 335.2h0M414.9 337.3h0M415.2 355.6h0M415.0 338.3h0M415.6 356.9h0M414.4 342.0h0M415.8 353.6h0M415.2 352.4h0M415.4 346.6h0M415.0 346.5h0M414.5 345.5h0M415.5 344.5h0M415.0 342.4h0M415.7 333.3h0M415.3 340.6h0M414.8 329.6h0M415.4 336.0h0M414.4 339.6h0M415.5 360.6h0M414.7 351.7h0M416.0 343.7h0M415.3 325.7h0M414.6 347.8h0M414.3 361.2h0M414.8 338.0h0M416.0 343.4h0M415.6 328.3h0M414.6 352.5h0M415.2 369.6h0M415.5 336.4h0M414.8 335.0h0M414.8 353.6h0M415.8 352.7h0M414.0 333.9h0M415.7 334.9h0" stroke="#858585" stroke-width="1.1" stroke-linecap="round" fill="none"/>
<path d="M415.9 341.0h0M416.1 326.7h0M415.8 343.7h0M415.8 348.8h0M414.5 334.8h0M415.3 350.5h0M415.4 328.8h0M415.9 351.2h0M415.5 353.8h0M414.7 328.6h0M414.3 339.6h0M415.2 339.0h0M415.2 355.5h0M415.4 339.0h0M414.8 336.0h0M415.2 342.9h0M415.4 360.5h0M415.9 339.3h0M415.5 353.6h0M415.7 338.9h0M415.6 348.7h0M415.1 346.5h0M415.4 348.1h0M415.5 350.0h0M415.0 327.0h0M415.0 352.7h0M416.0 346.5h0M416.1 365.6h0M415.8 352.4h0M416.4 350.4h0M414.4 346.1h0M414.8 336.6h0M415.3 325.1h0M415.7 333.5h0M414.4 358.9h0M415.9 355.3h0M414.4 334.5h0M415.3 365.6h0M415.6 348.0h0M414.7 344.4h0M416.3 346.5h0M416.0 344.6h0M415.4 343.2h0M414.6 341.2h0M414.7 362.1h0M414.3 350.6h0M415.2 344.2h0M415.1 343.4h0M414.3 348.4h0M415.2 353.4h0M414.9 346.3h0M415.2 341.3h0M415.8 353.6h0M415.3 345.7h0M415.3 350.0h0M415.8 342.4h0M415.3 318.2h0M415.4 355.5h0M415.7 327.3h0M416.1 333.6h0M415.8 342.1h0M415.2 323.7h0M414.7 348.0h0M415.2 339.5h0M414.3 340.3h0M415.5 340.0h0M414.7 349.1h0M414.9 363.6h0M415.3 344.6h0M415.4 341.2h0M415.8 330.2h0M414.3 366.6h0M415.2 355.6h0M415.4 340.5h0M415.7 343.4h0M415.3 357.4h0M414.6 334.0h0M415.0 337.2h0M414.9 346.4h0M415.4 330.4h0M415.2 354.9h0M415.8 340.9h0M415.5 346.0h0M415.2 353.8h0M414.9 330.7h0M415.9 358.7h0M415.1 346.5h0M414.9 349.1h0M415.4 328.4h0M416.0 346.3h0M415.7 345.7h0M414.3 358.9h0M415.1 325.8h0M416.4 340.2h0M415.9 343.9h0M414.9 330.7h0M415.9 346.9h0M415.1 334.5h0M416.0 364.1h0M415.2 352.8h0M415.1 349.5h0M416.0 327.1h0M414.2 358.3h0M415.1 336.6h0M416.3 348.1h0M415.3 345.4h0M415.4 335.5h0M414.8 351.2h0M415.3 353.5h0M415.0 346.4h0M414.4 360.2h0M416.3 337.0h0M415.4 334.2h0M414.7 346.6h0M415.3 349.1h0M415.5 331.1h0M415.1 353.7h0M415.4 352.8h0M415.7 367.1h0M414.5 345.4h0M415.6 355.8h0M414.5 338.4h0M415.5 342.0h0M416.1 356.7h0M415.1 347.6h0M415.7 355.0h0M415.2 346.2h0M416.0 349.7h0M414.9 370.7h0M415.0 351.7h0M415.0 336.4h0M414.3 347.3h0M415.5 350.0h0M415.9 335.2h0M415.5 349.2h0M415.6 346.9h0M415.2 363.0h0M415.2 361.9h0M415.5 351.1h0M414.1 353.7h0M415.8 337.4h0M415.6 349.1h0M415.5 338.7h0M415.6 341.7h0M414.5 320.6h0M415.5 357.2h0M415.8 339.6h0M414.8 343.8h0M415.8 350.9h0M415.4 341.0h0M415.2 360.7h0M415.4 344.3h0M415.6 347.3h0M415.7 343.1h0M416.2 351.3h0M415.3 330.8h0M415.1 341.0h0M415.2 335.3h0M415.5 343.4h0M414.7 358.0h0M415.2 349.9h0M415.4 354.8h0M414.2 331.7h0M414.6 348.1h0M416.3 352.7h0M416.5 344.0h0M415.1 344.8h0M414.8 347.2h0M415.4 355.1h0M415.0 343.6h0M415.4 338.4h0M415.3 330.9h0M413.8 328.0h0M415.5 338.9h0M416.7 366.3h0M415.6 362.4h0M414.7 341.3h0M415.3 340.8h0M416.2 341.4h0M415.9 338.6h0M415.6 344.6h0M415.2 331.2h0M416.0 340.6h0M415.4 352.5h0M415.2 326.2h0M415.1 343.5h0M415.1 351.4h0M415.9 347.9h0M414.8 360.5h0M415.6 329.7h0M415.6 345.8h0M415.6 335.1h0M415.1 343.6h0M414.5 336.8h0M415.2 322.2h0M415.4 356.8h0M415.1 366.3h0M415.7 359.5h0M415.9 346.5h0M415.3 324.8h0M411.6 347.7h0M410.3 339.5h0M412.0 346.8h0M416.8 352.3h0M409.3 348.5h0M411.9 346.6h0M413.4 344.9h0M416.0 347.7h0M420.5 349.8h0M415.3 345.6h0M413.8 343.9h0M417.3 343.5h0M408.9 345.7h0M419.7 350.0h0M419.9 346.7h0M413.6 344.5h0M418.4 344.9h0M418.3 344.6h0M420.0 348.0h0M413.6 343.8h0M408.9 346.4h0M411.7 353.7h0M423.9 347.7h0M419.1 348.8h0M404.5 347.5h0M419.0 351.7h0M413.8 344.9h0M414.0 342.3h0M424.1 351.8h0M413.2 343.5h0M417.4 340.4h0M415.7 345.3h0M415.9 345.5h0M413.5 345.3h0M420.3 348.7h0M418.3 342.7h0M416.7 346.8h0M407.8 344.4h0M416.8 345.5h0M413.3 346.2h0M405.0 346.8h0M411.5 346.5h0M418.6 347.5h0M419.7 347.8h0M416.1 346.1h0M412.1 344.9h0M414.3 346.4h0M416.5 344.8h0M410.0 342.9h0M420.2 342.1h0M416.5 345.2h0M413.9 341.5h0M422.1 343.5h0M421.9 345.2h0M408.8 343.1h0M420.8 344.1h0M410.8 350.2h0M410.5 346.5h0M415.3 345.6h0M415.8 345.4h0M416.1 345.8h0M416.1 349.1h0M415.0 347.6h0M424.6 343.1h0M418.1 342.8h0M425.2 347.0h0M424.9 345.0h0M418.4 354.4h0M408.4 343.2h0M414.6 343.7h0M415.2 347.7h0M410.5 345.8h0M409.7 343.9h0M414.9 345.5h0M416.1 345.2h0M409.7 345.7h0M406.9 345.3h0M420.7 343.6h0M417.3 344.9h0M408.1 347.3h0M414.3 346.6h0M417.2 343.6h0M419.5 345.6h0M415.3 345.6h0M415.7 345.9h0M411.9 347.1h0M416.0 345.2h0M412.0 344.3h0M412.1 340.6h0M419.5 350.4h0M414.2 342.2h0M423.4 349.4h0M419.0 345.8h0M412.6 343.5h0M419.7 341.7h0M420.4 348.5h0M412.4 349.4h0M415.5 345.5h0M417.1 346.2h0M416.5 345.4h0M408.0 347.6h0M420.4 350.4h0M421.3 348.6h0M406.3 350.3h0M415.3 345.5h0M416.5 345.7h0M417.2 346.8h0M416.2 343.0h0M412.0 344.4h0M415.6 345.8h0M417.8 346.6h0M416.2 345.3h0M408.4 349.5h0M411.4 350.6h0M415.3 349.1h0M423.0 345.8h0M413.3 344.0h0M411.5 346.1h0M413.8 346.6h0M415.2 345.4h0M413.6 343.3h0M419.5 343.0h0M421.0 347.3h0M413.1 346.5h0M414.0 342.4h0M414.7 346.2h0M420.0 351.7h0M411.1 337.5h0M416.0 347.5h0M404.3 350.8h0M415.0 345.6h0M416.3 350.2h0M415.1 346.6h0M407.7 345.4h0M416.9 345.3h0M414.1 343.1h0M417.9 350.0h0M412.2 344.7h0M425.6 344.3h0M410.8 353.1h0M416.8 342.8h0M415.3 345.7h0M415.1 348.4h0M415.9 345.8h0M420.1 337.7h0M417.8 346.8h0M419.8 348.3h0M413.4 345.3h0M421.0 343.2h0M417.0 347.2h0M409.0 347.9h0M414.6 345.5h0M415.3 344.5h0M414.2 350.7h0M412.7 346.8h0M416.0 354.5h0M420.2 346.3h0M414.8 345.7h0M410.8 347.8h0M417.4 347.2h0M415.4 345.2h0M415.3 345.8h0M409.4 346.4h0M412.4 354.5h0M419.6 342.5h0M415.1 352.3h0M414.9 345.4h0M413.6 345.4h0M414.1 341.1h0M417.6 346.3h0M426.8 338.3h0M414.0 344.7h0M419.4 344.5h0M420.5 343.8h0M410.9 346.0h0M417.3 349.4h0M417.9 348.7h0M414.2 346.3h0M422.1 341.5h0M420.5 352.7h0M408.7 351.2h0M416.1 346.9h0M430.4 343.4h0M415.6 346.2h0M414.8 348.7h0M405.2 348.9h0M412.8 346.9h0M412.2 346.6h0M428.9 344.7h0M417.7 344.7h0M401.6 344.2h0M427.8 346.3h0M414.6 346.6h0M414.1 340.1h0M416.8 345.0h0M415.3 346.1h0M416.2 345.0h0M413.9 347.8h0M422.0 347.8h0M412.0 343.0h0M417.0 344.7h0M415.0 345.7h0M412.6 342.2h0M417.3 347.0h0M407.7 340.5h0M413.3 346.9h0M408.2 344.9h0M407.4 348.4h0M415.2 345.7h0M420.2 356.0h0M420.9 350.3h0M416.8 348.2h0M416.3 348.8h0M411.8 339.3h0M414.1 345.0h0M417.0 344.4h0M418.7 344.7h0M405.4 346.3h0M415.1 345.4h0M414.6 345.4h0M413.2 346.5h0M419.4 345.1h0M415.2 345.8h0M414.6 344.2h0M416.2 351.0h0M417.4 345.3h0M411.1 344.4h0M412.6 342.2h0M425.2 355.2h0M420.4 348.1h0M409.5 342.5h0M421.5 351.6h0M415.1 346.0h0M416.5 345.9h0M414.8 345.9h0M411.5 342.1h0M412.5 344.8h0M414.1 348.0h0M411.3 346.3h0M416.9 346.4h0M416.7 345.4h0M417.7 341.3h0M418.3 349.0h0M416.0 345.1h0M416.4 345.2h0M415.4 347.8h0M414.4 347.1h0M415.3 347.8h0M420.3 348.0h0M429.3 345.0h0M419.9 344.0h0M412.9 344.0h0M404.4 347.2h0M412.1 344.0h0M422.3 338.5h0M420.8 344.7h0M409.9 349.0h0M414.2 348.2h0M403.6 350.1h0M417.9 346.2h0M411.2 342.9h0M420.8 344.3h0M414.3 347.3h0M414.9 343.3h0M427.9 347.6h0M422.8 349.0h0M413.7 344.0h0M424.7 342.5h0M423.1 344.3h0M410.8 343.3h0M414.0 348.2h0M406.8 347.0h0M414.3 345.8h0M413.3 344.3h0M416.4 345.5h0M419.6 349.7h0M415.4 345.2h0M414.4 342.4h0M409.7 340.2h0M422.3 344.5h0M413.3 342.9h0M414.9 346.0h0M419.7 345.1h0M419.6 346.7h0M417.1 347.6h0M415.1 345.9h0M413.1 345.8h0M415.2 345.6h0M417.3 351.2h0M421.0 338.0h0M411.1 345.8h0M419.6 348.5h0M424.6 340.7h0M418.3 348.5h0M410.7 346.7h0M412.2 346.9h0M414.2 345.5h0M420.0 342.7h0M418.7 342.7h0M418.0 348.9h0M414.9 345.6h0M413.5 348.4h0M417.9 349.7h0M420.2 348.6h0M411.4 344.6h0M417.2 344.9h0M408.1 338.8h0M429.3 346.5h0M418.6 345.0h0M414.6 341.7h0M421.9 352.4h0M414.7 346.0h0M421.4 350.0h0M423.9 346.6h0M412.3 348.7h0M411.6 350.4h0M418.7 344.7h0M415.6 346.4h0M414.3 345.5h0M414.0 344.7h0M415.1 345.4h0M414.2 349.4h0M418.5 351.2h0M413.5 346.1h0M419.8 344.4h0M415.1 345.4h0M419.8 345.7h0M414.7 345.6h0M414.6 345.3h0M417.6 339.7h0M422.5 348.2h0M414.2 346.1h0M429.3 347.8h0M415.3 345.6h0M413.6 344.0h0M414.5 346.3h0M414.2 344.7h0M412.7 347.9h0M410.3 343.4h0M426.5 344.1h0M422.3 344.2h0M414.0 345.6h0M418.3 349.6h0M420.0 341.9h0M421.2 345.3h0M413.9 344.8h0M418.5 340.6h0M414.9 346.5h0M412.4 346.3h0M418.4 347.7h0M418.3 344.9h0M418.9 342.6h0M412.0 344.3h0M414.9 345.0h0M417.2 346.9h0M413.6 346.5h0M415.9 347.6h0M414.5 348.2h0M415.9 351.1h0M416.5 344.7h0M416.7 349.5h0M418.4 342.8h0M411.9 345.2h0M411.7 344.9h0M418.8 343.4h0M420.2 345.4h0M416.1 346.8h0M425.5 342.4h0M415.3 345.6h0M422.2 342.9h0M412.6 341.2h0M415.4 345.5h0M413.9 343.3h0M421.3 346.6h0M411.5 347.2h0M423.3 344.3h0M408.9 342.3h0M417.8 349.2h0M409.5 347.3h0M414.5 346.6h0M418.1 347.1h0M418.8 345.1h0M416.0 346.2h0M415.3 347.5h0M407.7 348.2h0M419.0 344.7h0M420.3 347.1h0M406.4 347.3h0M416.9 345.5h0M405.7 347.1h0M417.4 349.0h0M415.3 345.6h0M420.0 349.4h0M409.5 337.3h0M413.1 342.7h0M413.4 342.7h0M415.7 345.5h0M414.3 343.8h0M412.9 345.8h0M420.2 346.2h0M417.8 346.0h0M415.3 345.6h0M419.2 346.4h0M414.1 347.4h0M415.6 345.8h0M414.1 344.2h0M415.2 347.1h0M417.1 345.9h0M416.5 348.1h0M414.1 348.7h0M416.4 339.6h0M415.4 345.7h0M418.9 348.5h0M418.1 340.6h0M411.4 349.3h0M414.3 346.8h0M426.6 348.4h0M409.4 347.2h0M425.8 348.7h0M415.4 345.5h0M415.2 345.5h0M421.8 343.9h0M407.4 335.8h0M412.4 349.9h0M416.5 349.3h0M415.5 345.2h0M418.7 347.7h0M414.3 345.4h0M417.1 345.9h0M428.1 349.6h0M413.5 345.9h0M411.5 345.8h0M419.4 344.1h0M419.0 335.8h0M428.0 347.8h0M403.9 346.8h0M414.0 343.6h0M420.5 346.3h0M409.5 344.1h0M412.8 344.2h0M417.4 342.3h0M415.7 347.0h0M414.8 346.1h0M409.1 347.0h0M415.3 345.7h0M416.2 346.7h0M416.4 348.8h0M415.4 344.9h0M412.8 345.0h0M415.5 345.6h0M427.1 340.5h0M416.6 337.6h0M422.6 340.8h0M411.1 347.2h0M408.3 343.7h0M413.4 342.6h0M411.9 347.8h0M415.0 345.6h0M412.7 347.3h0M422.8 344.2h0M412.3 345.6h0M415.8 344.2h0M412.2 341.3h0M418.7 350.0h0M424.0 340.1h0M408.3 348.3h0M416.9 345.1h0M412.6 347.1h0M413.4 342.7h0M423.3 347.4h0M414.2 345.2h0M417.9 338.7h0M415.6 345.9h0M406.6 348.0h0M416.1 347.1h0M418.4 347.6h0M417.0 347.5h0M410.9 342.5h0M403.7 346.3h0M400.6 346.0h0M420.6 343.3h0M407.5 350.1h0M415.5 346.3h0M411.1 343.8h0M413.2 344.6h0M411.7 345.4h0M419.7 346.1h0M416.4 343.4h0M416.2 345.7h0M421.7 347.4h0M413.2 347.2h0M419.0 347.3h0M422.8 341.1h0M419.2 349.0h0M412.0 351.6h0M414.3 343.8h0M417.0 343.5h0M423.9 353.4h0M415.4 345.8h0M412.3 347.4h0M411.2 341.5h0M410.4 350.3h0M416.7 337.9h0M411.6 347.8h0M410.7 340.0h0M406.4 345.0h0M421.1 344.3h0M417.3 348.8h0M411.0 346.7h0M418.5 341.1h0M414.8 344.1h0M410.9 346.9h0M414.7 339.2h0M415.6 345.6h0M414.6 341.4h0M416.6 348.9h0M409.9 348.6h0M417.4 345.9h0M414.6 345.8h0M418.0 350.3h0M405.4 348.4h0M420.2 352.0h0M417.9 344.7h0M416.2 345.8h0M418.7 349.2h0M416.6 344.6h0M415.2 345.5h0M415.8 339.9h0M411.1 342.1h0M412.4 344.4h0M414.9 344.2h0M417.6 344.7h0M423.4 343.7h0M418.9 345.0h0M419.7 345.7h0M415.5 345.5h0M414.9 351.1h0M408.6 350.6h0M415.2 345.1h0M424.7 343.9h0M418.7 344.4h0M406.6 349.0h0M416.1 343.5h0M416.3 343.8h0M413.8 348.8h0M411.3 343.5h0M419.3 346.4h0M414.4 347.4h0M406.6 345.4h0M406.5 344.2h0M413.0 344.0h0M415.2 344.6h0M408.3 347.1h0M413.0 344.2h0M414.0 345.2h0M417.0 346.7h0M413.2 340.1h0M414.1 347.4h0M418.3 347.1h0M412.7 345.3h0M414.6 347.6h0M415.0 345.6h0M406.2 346.9h0M439.2 343.1h0M410.5 345.5h0M428.1 337.7h0M412.3 348.9h0M416.2 345.4h0M413.5 346.2h0M415.6 346.8h0M423.4 348.7h0M408.8 342.7h0M416.6 349.6h0M416.4 342.4h0M415.4 349.0h0M411.0 338.6h0M415.4 345.5h0M417.0 344.1h0M411.9 340.2h0M412.3 340.3h0M414.1 344.5h0M423.3 349.1h0M415.2 344.6h0M414.5 346.5h0M415.5 346.2h0M414.8 346.1h0M414.7 342.9h0M416.7 349.4h0M412.6 343.2h0M415.5 345.9h0M412.1 348.1h0M418.9 349.2h0M423.5 345.0h0M402.7 348.1h0M411.3 344.6h0M414.6 348.0h0M415.0 345.4h0M415.3 345.7h0M415.1 342.3h0M417.2 345.2h0" stroke="#858585" stroke-width="1.1" stroke-linecap="round" fill="none"/>
<path d="M419.4 345.3h0M415.2 345.8h0M413.3 344.3h0M416.6 340.1h0M416.5 346.5h0M423.6 349.8h0M422.2 342.1h0M422.0 345.4h0M419.1 344.3h0M415.6 345.5h0M404.5 344.1h0M415.4 341.8h0M415.6 345.7h0M411.7 347.8h0M417.6 344.7h0M409.7 346.7h0M416.5 345.0h0M417.3 347.1h0M415.3 345.6h0M415.8 346.4h0M418.6 344.3h0M408.3 343.9h0M411.1 347.8h0M419.7 357.0h0M410.0 342.2h0M411.3 345.5h0M415.4 340.6h0M411.3 342.9h0M420.9 347.8h0M413.7 345.4h0M419.6 347.6h0M424.7 347.6h0M416.5 342.8h0M414.0 344.7h0M414.5 346.2h0M416.1 347.0h0M413.4 344.2h0M414.4 344.9h0M416.2 345.6h0M418.8 339.6h0M417.2 344.7h0M421.1 343.3h0M411.9 349.2h0M415.2 344.1h0M405.4 347.8h0M409.6 350.9h0M418.1 340.0h0M412.3 345.4h0M421.4 337.2h0M405.9 338.6h0M414.8 346.2h0M436.9 354.1h0M413.3 349.8h0M415.3 342.7h0M419.3 358.2h0M424.8 343.5h0M404.0 341.0h0M416.0 349.5h0M415.4 347.9h0M423.9 341.2h0M418.2 342.4h0M414.8 339.8h0M416.6 348.2h0M416.3 345.9h0M411.4 345.4h0M424.9 345.7h0M421.2 342.2h0M414.9 346.4h0M416.0 346.5h0M406.8 342.9h0M418.9 348.1h0M418.8 347.1h0M415.0 346.2h0M415.4 341.8h0M415.3 345.7h0M421.6 346.3h0M410.2 341.8h0M421.1 347.2h0M418.1 344.7h0M414.6 346.4h0M422.4 345.4h0M420.4 350.2h0M420.2 344.9h0M415.2 345.8h0M415.5 344.9h0M422.7 342.7h0M416.4 346.9h0M412.1 351.9h0M419.7 346.1h0M417.5 344.1h0M422.1 345.9h0M417.7 345.8h0M417.1 345.6h0M414.5 344.2h0M416.7 344.7h0M412.6 349.2h0M414.0 347.2h0M413.7 339.9h0M425.4 340.7h0M403.5 347.3h0M415.9 346.3h0M410.0 344.5h0M416.6 348.0h0M415.6 345.2h0M416.1 345.9h0M411.5 345.1h0M412.2 346.9h0M412.7 348.2h0M412.0 349.4h0M415.1 345.3h0M406.2 349.9h0M411.4 344.8h0M427.8 343.0h0M407.3 347.1h0M416.3 345.3h0M422.8 344.5h0M414.8 345.8h0M420.1 343.6h0M421.8 348.9h0M415.8 345.8h0M411.6 344.2h0M416.2 346.7h0M415.5 345.6h0M413.1 344.1h0M419.0 345.2h0M415.1 344.2h0M418.5 345.1h0M413.9 346.8h0M415.7 345.1h0M411.5 344.8h0M417.7 344.1h0M414.3 344.6h0M413.3 349.8h0M419.9 346.3h0M413.4 344.7h0M416.0 345.5h0M416.0 337.7h0M415.6 344.2h0M417.9 346.3h0M403.3 340.5h0M414.1 345.5h0M415.5 343.3h0M412.6 347.3h0M418.6 342.6h0M417.1 346.9h0M415.5 350.0h0M418.1 349.3h0M415.5 345.6h0M419.9 349.5h0M420.7 345.4h0M417.9 342.0h0M408.0 340.2h0M408.9 341.4h0M419.0 348.3h0M427.0 345.9h0M410.8 351.3h0M416.8 346.4h0M414.4 344.0h0M404.4 345.9h0M418.4 347.4h0M415.1 346.3h0M414.9 344.6h0M417.7 339.0h0M412.5 347.4h0M426.2 345.3h0M414.5 349.0h0M413.7 343.9h0M416.1 347.2h0M421.0 343.0h0M413.8 351.7h0M414.6 344.7h0M408.8 344.9h0M412.5 346.9h0M415.1 345.2h0M416.3 343.3h0M428.7 351.9h0M415.3 349.5h0M408.5 354.2h0M419.1 347.2h0M415.6 345.0h0M419.9 344.7h0M413.1 347.5h0M414.6 349.1h0M418.3 346.3h0M414.3 345.0h0M419.9 345.7h0M408.4 340.5h0M419.8 346.1h0M416.7 345.9h0M415.6 345.4h0M412.4 352.1h0M416.8 343.5h0M413.7 344.1h0M415.7 346.5h0M421.9 341.8h0M416.6 338.0h0M419.0 345.5h0M407.7 345.1h0M407.8 335.2h0M418.9 345.7h0M415.6 343.0h0M416.4 344.6h0M415.8 345.3h0M419.7 347.3h0M416.0 345.9h0M418.2 344.8h0M412.7 346.6h0M422.0 348.8h0M414.1 342.2h0M420.6 346.0h0M412.1 349.4h0M411.9 345.7h0M419.3 341.0h0M413.1 346.8h0M419.7 345.8h0M432.4 341.8h0M424.1 343.4h0M414.8 346.0h0M422.2 348.4h0M415.2 345.8h0M416.2 345.2h0M410.0 347.3h0M412.7 347.5h0M413.6 347.3h0M410.6 342.9h0M413.7 344.1h0M414.8 345.3h0M425.9 343.7h0M416.2 345.4h0M416.0 343.7h0M410.5 351.6h0M415.0 346.3h0M415.4 344.2h0M410.8 347.9h0M414.9 344.5h0M414.3 348.2h0M418.4 345.4h0M411.7 347.3h0M407.6 344.3h0M413.5 344.7h0M409.3 347.3h0M418.5 348.5h0M410.3 343.3h0M418.3 347.3h0M425.5 345.5h0M417.8 347.5h0M410.0 350.1h0M418.1 344.4h0M416.8 341.4h0M417.7 346.8h0M415.4 346.4h0M418.6 346.6h0M414.5 349.4h0M414.6 345.0h0M415.9 347.4h0M412.6 346.6h0M409.3 342.8h0M422.1 348.0h0M412.2 340.7h0M406.2 340.4h0M414.8 345.5h0M415.6 345.1h0M417.3 345.1h0M418.5 345.1h0M406.8 343.3h0M414.3 345.6h0M417.5 346.6h0M408.5 344.0h0M417.0 347.1h0M415.7 339.9h0M414.3 349.5h0M411.9 340.8h0M416.3 346.6h0M414.2 344.4h0M417.5 341.9h0M414.8 345.5h0M422.4 343.6h0M413.6 343.2h0M421.6 341.5h0M415.6 343.1h0M416.7 345.3h0M415.5 345.8h0M415.5 344.1h0M423.6 347.7h0M418.9 344.7h0M416.0 341.4h0M417.8 344.8h0M415.9 345.7h0M415.3 345.9h0M418.1 342.2h0M408.0 343.3h0M415.7 345.8h0M424.3 346.3h0M419.8 345.2h0M417.0 349.5h0M414.5 336.9h0M416.7 344.9h0M421.9 349.9h0M414.3 345.9h0M414.8 347.6h0" stroke="#858585" stroke-width="1.1" stroke-linecap="round" fill="none"/>
<path d="M375.5 345.5h0M385.8 345.4h0M393.6 345.0h0M395.7 345.3h0M397.1 344.8h0M401.4 345.4h0" stroke="#3dbb35" stroke-width="1.8" stroke-linecap="round" fill="none"/>
<path d="M414.1 261.2h0M405.9 275.1h0M402.6 296.9h0M416.6 309.2h0" stroke="#35237a" stroke-width="1.9" stroke-linecap="round" fill="none"/>
<path d="M414.2 320.0h0M406.8 330.9h0" stroke="#2fb3b3" stroke-width="1.9" stroke-linecap="round" fill="none"/>
<path d="M336.1 324.6h0M368.6 342.2h0" stroke="#d88a12" stroke-width="1.8" stroke-linecap="round" fill="none"/>
<path d="M415.4 358.4h0" stroke="#d63fa6" stroke-width="1.8" stroke-linecap="round" fill="none"/>
<path d="M460.1 338.7h0M455.0 345.4h0" stroke="#7a3fa8" stroke-width="1.8" stroke-linecap="round" fill="none"/>
<path d="M454.0 388.3h0" stroke="#c8461a" stroke-width="1.9" stroke-linecap="round" fill="none"/>
<text x="332.70" y="320.40" font-size="7.8" textLength="16.60" lengthAdjust="spacingAndGlyphs">GNE</text>
<text x="366.10" y="339.00" font-size="7.8" textLength="19.20" lengthAdjust="spacingAndGlyphs">GALE</text>
<text x="449.10" y="336.20" font-size="7.8" textLength="21.80" lengthAdjust="spacingAndGlyphs">ICAM1</text>
<text x="454.50" y="353.80" font-size="7.8" textLength="16.90" lengthAdjust="spacingAndGlyphs">DFFA</text>
<text x="419.80" y="363.00" font-size="7.8" textLength="32.40" lengthAdjust="spacingAndGlyphs">POU2AF1</text>
<text x="449.60" y="383.60" font-size="7.8" textLength="21.30" lengthAdjust="spacingAndGlyphs">BCMA</text>
<line x1="317.70" y1="272.70" x2="321.50" y2="272.70" stroke="#111" stroke-width="1"/>
<text x="315.90" y="275.70" font-size="8.4" text-anchor="end">15</text>
<line x1="317.70" y1="297.20" x2="321.50" y2="297.20" stroke="#111" stroke-width="1"/>
<text x="315.90" y="300.20" font-size="8.4" text-anchor="end">10</text>
<line x1="317.70" y1="321.50" x2="321.50" y2="321.50" stroke="#111" stroke-width="1"/>
<text x="315.90" y="324.50" font-size="8.4" text-anchor="end">5</text>
<line x1="317.70" y1="345.60" x2="321.50" y2="345.60" stroke="#111" stroke-width="1"/>
<text x="315.90" y="348.60" font-size="8.4" text-anchor="end">0</text>
<line x1="317.70" y1="370.20" x2="321.50" y2="370.20" stroke="#111" stroke-width="1"/>
<text x="315.90" y="373.20" font-size="8.4" text-anchor="end">-5</text>
<line x1="326.20" y1="393.10" x2="326.20" y2="396.00" stroke="#111" stroke-width="1"/>
<text x="325.30" y="406.30" font-size="8.2" text-anchor="middle">-6</text>
<line x1="355.90" y1="393.10" x2="355.90" y2="396.00" stroke="#111" stroke-width="1"/>
<text x="355.00" y="406.30" font-size="8.2" text-anchor="middle">-4</text>
<line x1="385.60" y1="393.10" x2="385.60" y2="396.00" stroke="#111" stroke-width="1"/>
<text x="384.70" y="406.30" font-size="8.2" text-anchor="middle">-2</text>
<line x1="415.30" y1="393.10" x2="415.30" y2="396.00" stroke="#111" stroke-width="1"/>
<text x="415.30" y="406.30" font-size="8.2" text-anchor="middle">0</text>
<line x1="445.00" y1="393.10" x2="445.00" y2="396.00" stroke="#111" stroke-width="1"/>
<text x="445.00" y="406.30" font-size="8.2" text-anchor="middle">2</text>
<line x1="474.70" y1="393.10" x2="474.70" y2="396.00" stroke="#111" stroke-width="1"/>
<text x="474.70" y="406.30" font-size="8.2" text-anchor="middle">4</text>
<text x="374.40" y="418.90" font-size="8.8" textLength="44.30" lengthAdjust="spacingAndGlyphs" font-weight="bold" fill="#222">CAR Sensitivity</text>
<line x1="361.90" y1="416.80" x2="341.30" y2="416.80" stroke="#1a1a1a" stroke-width="1.1"/>
<path d="M336.90,416.80 L342.40,414.50 L342.40,419.10 Z" fill="#1a1a1a"/>
<line x1="431.70" y1="416.80" x2="451.40" y2="416.80" stroke="#1a1a1a" stroke-width="1.1"/>
<path d="M455.80,416.80 L450.30,414.50 L450.30,419.10 Z" fill="#1a1a1a"/>
<text x="334.60" y="431.30" font-size="8.2" textLength="28.90" lengthAdjust="spacingAndGlyphs">Increase</text>
<text x="426.90" y="431.30" font-size="8.2" textLength="32.10" lengthAdjust="spacingAndGlyphs">Decrease</text>
<text x="280.50" y="323.80" font-size="8.4" text-anchor="middle" textLength="54.00" lengthAdjust="spacingAndGlyphs" font-weight="bold" fill="#333" transform="rotate(-90 280.50 323.80)">BCMA cell surface</text>
<text x="292.50" y="323.80" font-size="8.4" text-anchor="middle" textLength="30.40" lengthAdjust="spacingAndGlyphs" font-weight="bold" fill="#333" transform="rotate(-90 292.50 323.80)">expression</text>
<line x1="290.60" y1="302.70" x2="290.60" y2="282.20" stroke="#1a1a1a" stroke-width="1.1"/>
<path d="M290.60,277.80 L288.30,283.30 L292.90,283.30 Z" fill="#1a1a1a"/>
<line x1="290.60" y1="345.00" x2="290.60" y2="366.40" stroke="#1a1a1a" stroke-width="1.1"/>
<path d="M290.60,370.80 L288.30,365.30 L292.90,365.30 Z" fill="#1a1a1a"/>
<text x="301.00" y="290.40" font-size="8.2" text-anchor="middle" textLength="29.00" lengthAdjust="spacingAndGlyphs" transform="rotate(-90 301.00 290.40)">Increase</text>
<text x="301.00" y="358.40" font-size="8.2" text-anchor="middle" textLength="31.60" lengthAdjust="spacingAndGlyphs" transform="rotate(-90 301.00 358.40)">Decrease</text>
<path d="M303.8 445.5h0" stroke="#3dbb35" stroke-width="1.5" stroke-linecap="round" fill="none"/>
<path d="M303.8 456.8h0" stroke="#35237a" stroke-width="1.5" stroke-linecap="round" fill="none"/>
<path d="M303.8 467.5h0" stroke="#2fb3b3" stroke-width="1.5" stroke-linecap="round" fill="none"/>
<path d="M405.1 445.1h0" stroke="#ee9a7c" stroke-width="1.4" stroke-linecap="round" fill="none"/>
<path d="M405.1 456.2h0" stroke="#858585" stroke-width="1.4" stroke-linecap="round" fill="none"/>
<text x="308.00" y="448.00" font-size="8.2" textLength="70.00" lengthAdjust="spacingAndGlyphs">Diacylglycerol kinases</text>
<text x="308.00" y="459.30" font-size="8.2" textLength="87.50" lengthAdjust="spacingAndGlyphs">Gamma-secretase subunits</text>
<text x="308.00" y="470.00" font-size="8.2" textLength="57.00" lengthAdjust="spacingAndGlyphs">Sec61 translocon</text>
<text x="408.70" y="447.50" font-size="8.2" textLength="40.40" lengthAdjust="spacingAndGlyphs">Other genes</text>
<text x="408.70" y="458.60" font-size="8.2" textLength="56.00" lengthAdjust="spacingAndGlyphs">Negative controls</text>
<rect x="0.5" y="0.5" width="519" height="639" fill="none" stroke="#000" stroke-width="1"/>
</svg>
</body></html>
